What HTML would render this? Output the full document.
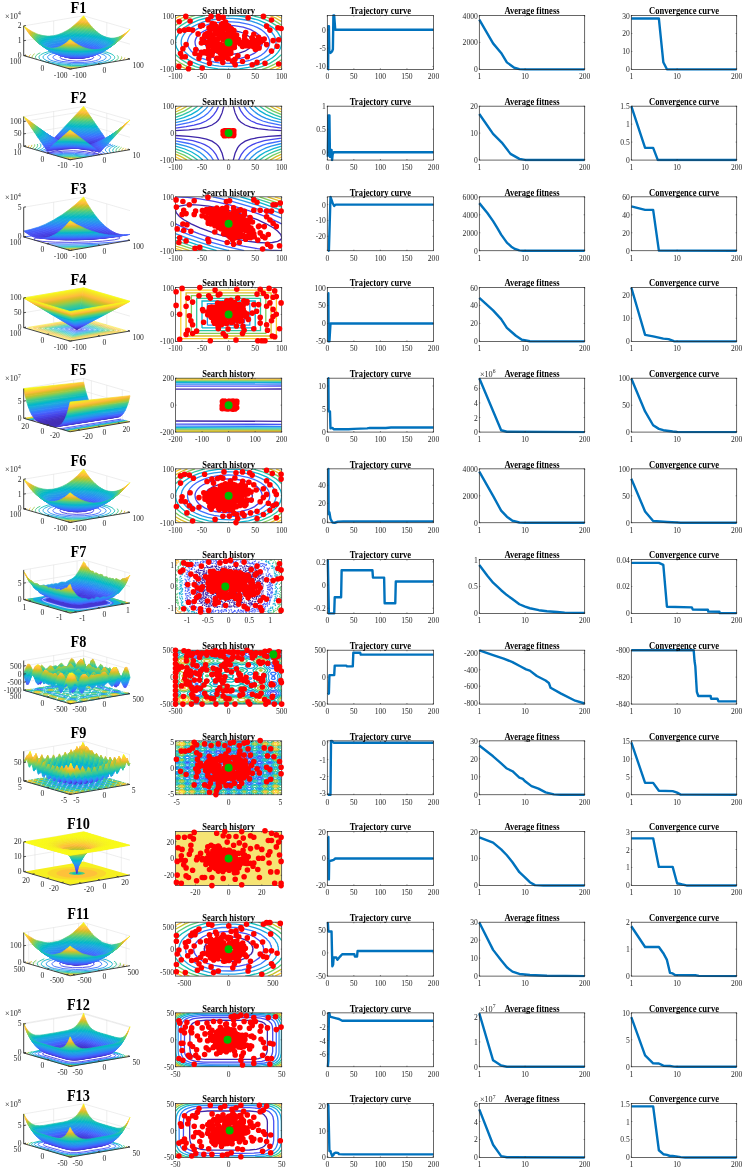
<!DOCTYPE html>
<html><head><meta charset="utf-8"><style>
html,body{margin:0;padding:0;background:#fff;}
svg{display:block;font-family:"Liberation Serif",serif;will-change:transform}
.sf path{stroke-width:.7;stroke-linejoin:round}
</style></head><body>
<svg width="745" height="1169" viewBox="0 0 745 1169">
<defs><linearGradient id="pb"><stop offset="0" stop-color="#3e26a8"/><stop offset="0.04167" stop-color="#4331c7"/><stop offset="0.08333" stop-color="#463de0"/><stop offset="0.125" stop-color="#484cef"/><stop offset="0.1667" stop-color="#475bf9"/><stop offset="0.2083" stop-color="#426afe"/><stop offset="0.25" stop-color="#347afd"/><stop offset="0.2917" stop-color="#2d89f5"/><stop offset="0.3333" stop-color="#2797eb"/><stop offset="0.375" stop-color="#21a3e3"/><stop offset="0.4167" stop-color="#17aeda"/><stop offset="0.4583" stop-color="#01b7cb"/><stop offset="0.5" stop-color="#12beb9"/><stop offset="0.5417" stop-color="#2dc4a6"/><stop offset="0.5833" stop-color="#3dc990"/><stop offset="0.625" stop-color="#5ccc76"/><stop offset="0.6667" stop-color="#81cc59"/><stop offset="0.7083" stop-color="#a6c83c"/><stop offset="0.75" stop-color="#c8c129"/><stop offset="0.7917" stop-color="#e5bb2c"/><stop offset="0.8333" stop-color="#fcbb3e"/><stop offset="0.875" stop-color="#feca33"/><stop offset="0.9167" stop-color="#f7db2b"/><stop offset="0.9583" stop-color="#f5eb23"/><stop offset="1" stop-color="#f9fb15"/></linearGradient></defs><text transform="translate(78.4 12.70) scale(1 1.13)" font-size="14.3" text-anchor="middle" font-weight="bold" fill="#000">F1</text><path d="M23.7 25.9L83.6 15.8L130 29.3M83.6 45.5L83.6 15.8M100.05 64.05L53.65 50.55L53.65 20.85M46.9 62.35L106.8 52.25L106.8 22.55M23.7 40.75L83.6 30.65L130 44.15" stroke="#dcdcdc" stroke-width="0.5" fill="none"/><path d="M84.9 60.6l-8.7 .5-8.7-.7-5.5-1.4-1.8-1.2-.2-.7 .6-.9 2.1-1 6.1-1.2 8.7-.5 8.7 .7 5.5 1.4 1.8 1.2 .2 .7-.6 .9-2.1 1-6.1 1.2" stroke="#4743e7" stroke-width="0.9" fill="none"/><path d="M84.2 62.4l-11.3 .1-11.2-1.1-3.8-.9-2.8-1.1-1.8-1.2-.4-1 .4-.9 .8-.7 2.5-1.2 3.5-1 6.8-1 12-.4 8.2 .5 4.9 .7 5.3 1.4 2.3 1.1 1.1 1.4-.3 1.2-1.9 1.4-3.1 1-3.9 .9-7.3 .8" stroke="#4367fd" stroke-width="0.9" fill="none"/><path d="M85 63.6l-13.2 .1-12.2-1.2-5.9-1.3-2.9-1-2.8-1.8-.4-1.5 .4-.8 1-1 2.6-1.2 5.2-1.4 6.7-1.1 8.1-.5 7.6-.1 7 .3 7.9 1 5.9 1.3 4.1 1.6 1.1 .7 .9 1.2 0 .8-.4 .8-2.2 1.6-4.7 1.6-6.2 1.2-7.6 .7" stroke="#2d8cf3" stroke-width="0.9" fill="none"/><path d="M90.6 64.2l-8.4 .6-9 0-6.9-.4-8.2-.9-6.3-1.2-4.7-1.5-3.1-1.8-.6-.6-.4-1.5 .3-.8 1.4-1.3 3.9-1.8 5.4-1.4 6.7-1 7.8-.6 9.5-.2 9.4 .4 8.2 .9 6.3 1.2 5.9 2.1 2.5 1.8 .4 1.1-.2 .9-1 1.2-1.6 1-3.6 1.4-6.7 1.5-7 .9" stroke="#1caadf" stroke-width="0.9" fill="none"/><path d="M100 64l-12.7 1.4-15.6 .2-14.1-1.1-10.7-2.1M106.8 52.2l4.3 1.6 2.1 1.3 1.3 1.3 .2 1.1-.2 .9-1.5 1.5-3.5 1.8-3.6 1.1-5.9 1.2M46.9 62.4l-4.3-1.6-2.1-1.3-1.3-1.3-.2-1.1 .2-.9 1.5-1.5 3.5-1.8 3.6-1.1 5.8-1.2M53.6 50.6l12.8-1.4 15.6-.2 14.1 1.1 10.7 2.1" stroke="#12beb9" stroke-width="0.9" fill="none"/><path d="M86.7 66.3l-15.7 .1-13.7-1M117.2 55.3l.9 1.2 .2 1.1-.2 .9-1.4 1.5-3.3 1.8M36.5 59.3l-1.1-1.9 .4-1.6 2.1-1.8 2.4-1.2M67 48.3l14.5-.2 14.9 1.1" stroke="#48cb86" stroke-width="0.9" fill="none"/><path d="M81.1 67.2l-8.8 0-10.7-.6M121.5 56.5l.2 1.1-.6 1.4-2.1 1.9M32.2 58.1l-.2-1.1 .6-1.4 2.1-1.9M72.6 47.4l8.8 0 10.7 .6" stroke="#9fc942" stroke-width="0.9" fill="none"/><path d="M76.9 68l-12-.4M124.8 57.5l-.2 .9-1.4 1.7M28.9 57.1l.7-1.7 .9-.9M76.8 46.6l12 .4" stroke="#eaba30" stroke-width="0.9" fill="none"/><path d="M73.3 68.6l-5.7-.2M127.5 58.3l-.7 1.2M26.2 56.3l.7-1.2M80.4 46l5.7 .2" stroke="#fad42e" stroke-width="0.9" fill="none"/><g class="sf"><linearGradient id="g0_27" href="#pb" gradientUnits="userSpaceOnUse" x1="24.53" y1="55.84" x2="19.66" y2="26.96"/><path fill="url(#g0_27)" stroke="url(#g0_27)" d="M25.4 28.4l4.2 3.2 4.3 2.7 4.3 2 2.1 .7 4.3 1.1 4.3 .5 2.1 0 4.3-.4 4.3-1 4.3-1.6 2.1-1.1 4.3-2.5 2.1-1.5 4.3-3.5 4.3-4 4.3-4.7-1.7-2.5-4.3 4.7-4.3 4-4.2 3.5-2.2 1.5-2.1 1.3-4.3 2.2-4.3 1.7-4.3 1-4.2 .4-2.2 0-4.2-.5-4.3-1.1-2.2-.8-4.2-2-4.3-2.6-4.3-3.2z"/><linearGradient id="g0_26" href="#pb" gradientUnits="userSpaceOnUse" x1="26.19" y1="56.32" x2="21.32" y2="27.44"/><path fill="url(#g0_26)" stroke="url(#g0_26)" d="M27 30.8l4.3 3.2 4.3 2.6 4.2 2 2.2 .8 4.3 1.1 4.2 .5 2.2 0 4.3-.4 4.2-1 4.3-1.7 2.2-1 4.2-2.5 2.2-1.5 4.3-3.5 4.2-4 4.3-4.7-1.6-2.4-4.3 4.7-4.3 4-4.3 3.5-2.1 1.5-4.3 2.5-2.1 1.1-4.3 1.6-4.3 1-4.3 .4-2.1 0-4.3-.5-4.3-1.1-2.1-.7-4.3-2-4.3-2.7-4.2-3.2z"/><linearGradient id="g0_25" href="#pb" gradientUnits="userSpaceOnUse" x1="27.84" y1="56.81" x2="22.97" y2="27.93"/><path fill="url(#g0_25)" stroke="url(#g0_25)" d="M28.7 33l4.2 3.2 4.3 2.7 4.3 2 2.1 .7 4.3 1.1 4.3 .5 2.1 0 4.3-.4 4.3-1 4.3-1.6 2.1-1.1 4.3-2.5 2.1-1.5 4.3-3.5 4.3-4 4.3-4.7-1.7-2.2-4.3 4.7-4.2 4-4.3 3.5-2.2 1.5-4.2 2.5-2.2 1-4.3 1.7-4.2 1-4.3 .4-2.2 0-4.2-.5-4.3-1.1-2.2-.8-4.2-2-4.3-2.6-4.3-3.2z"/><linearGradient id="g0_24" href="#pb" gradientUnits="userSpaceOnUse" x1="29.50" y1="57.29" x2="24.63" y2="28.41"/><path fill="url(#g0_24)" stroke="url(#g0_24)" d="M30.3 35.1l4.3 3.2 4.3 2.6 4.3 2 2.1 .8 4.3 1.1 4.3 .5 2.1 0 4.3-.4 4.3-1 4.2-1.7 2.2-1 4.3-2.5 4.2-3.2 4.3-3.7 6.4-6.8-1.6-2.1-4.3 4.7-4.3 4-4.3 3.5-2.1 1.5-4.3 2.5-2.1 1.1-4.3 1.6-4.3 1-4.3 .4-2.1 0-4.3-.5-4.3-1.1-2.1-.7-4.3-2-4.3-2.7-4.2-3.2z"/><linearGradient id="g0_23" href="#pb" gradientUnits="userSpaceOnUse" x1="31.16" y1="57.77" x2="26.29" y2="28.89"/><path fill="url(#g0_23)" stroke="url(#g0_23)" d="M32 37l4.3 3.2 4.2 2.7 4.3 2 2.2 .7 4.2 1.1 4.3 .5 2.2 0 4.2-.4 4.3-1 4.3-1.6 2.1-1.1 4.3-2.5 2.1-1.5 4.3-3.5 4.3-4 4.3-4.7-1.7-1.9-6.4 6.8-4.3 3.7-4.2 3.2-4.3 2.5-2.2 1-4.2 1.7-4.3 1-4.3 .4-2.1 0-4.3-.5-4.3-1.1-2.1-.8-4.3-2-4.3-2.6-4.3-3.2z"/><linearGradient id="g0_22" href="#pb" gradientUnits="userSpaceOnUse" x1="32.81" y1="58.25" x2="27.94" y2="29.37"/><path fill="url(#g0_22)" stroke="url(#g0_22)" d="M33.6 38.8l4.3 3.2 4.3 2.6 4.3 2 2.1 .8 4.3 1.1 4.3 .5 2.1 0 4.3-.4 4.3-1 4.3-1.7 4.2-2.2 2.2-1.3 2.1-1.5 4.3-3.5 4.3-4 4.2-4.7-1.6-1.8-4.3 4.7-4.3 4-4.3 3.5-2.1 1.5-4.3 2.5-2.1 1.1-4.3 1.6-4.3 1-4.2 .4-2.2 0-4.3-.5-4.2-1.1-2.2-.7-4.3-2-4.2-2.7-4.3-3.2z"/><linearGradient id="g0_21" href="#pb" gradientUnits="userSpaceOnUse" x1="34.47" y1="58.73" x2="29.60" y2="29.85"/><path fill="url(#g0_21)" stroke="url(#g0_21)" d="M35.3 40.4l4.3 3.2 4.3 2.6 4.2 2 2.2 .8 4.3 1.1 4.2 .5 2.2 0 4.2-.4 4.3-1 4.3-1.6 2.1-1.1 4.3-2.5 2.2-1.5 4.2-3.5 4.3-4 4.3-4.7-1.7-1.6-4.2 4.7-4.3 4-4.3 3.5-2.1 1.5-2.2 1.3-4.2 2.2-4.3 1.7-4.3 1-4.3 .4-2.1 0-4.3-.5-4.3-1.1-2.1-.8-4.3-2-4.3-2.6-4.3-3.2z"/><linearGradient id="g0_20" href="#pb" gradientUnits="userSpaceOnUse" x1="36.13" y1="59.22" x2="31.26" y2="30.34"/><path fill="url(#g0_20)" stroke="url(#g0_20)" d="M37 41.9l4.2 3.2 4.3 2.6 4.3 2 2.1 .8 4.3 1.1 4.3 .5 2.1 0 4.3-.4 4.3-1 4.3-1.7 2.1-1 4.3-2.6 2.1-1.5 4.3-3.4 4.3-4.1 4.3-4.6-1.7-1.5-4.3 4.7-4.3 4-4.2 3.5-2.2 1.5-4.3 2.5-2.1 1.1-4.3 1.6-4.3 1-4.2 .4-2.2 0-4.2-.5-4.3-1.1-2.2-.8-4.2-2-4.3-2.6-4.3-3.2z"/><linearGradient id="g0_19" href="#pb" gradientUnits="userSpaceOnUse" x1="37.79" y1="59.70" x2="32.92" y2="30.82"/><path fill="url(#g0_19)" stroke="url(#g0_19)" d="M38.6 43.2l4.3 3.2 4.3 2.6 4.2 2 2.2 .8 4.3 1.1 4.2 .5 2.2 0 4.3-.4 4.2-1 4.3-1.7 2.2-1 4.2-2.5 2.2-1.5 4.3-3.5 4.2-4 4.3-4.7-1.6-1.3-4.3 4.6-4.3 4.1-4.3 3.4-2.1 1.5-4.3 2.6-2.1 1-4.3 1.7-4.3 1-4.3 .4-2.1 0-4.3-.5-4.3-1.1-2.1-.8-4.3-2-4.3-2.6-4.2-3.2z"/><linearGradient id="g0_18" href="#pb" gradientUnits="userSpaceOnUse" x1="39.44" y1="60.18" x2="34.57" y2="31.30"/><path fill="url(#g0_18)" stroke="url(#g0_18)" d="M40.3 44.4l4.2 3.2 4.3 2.6 4.3 2 2.1 .8 4.3 1.1 4.3 .5 2.1 0 4.3-.4 4.3-1.1 4.3-1.6 4.3-2.2 2.1-1.4 2.1-1.5 4.3-3.4 4.3-4.1 4.3-4.6-1.7-1.2-4.3 4.7-4.2 4-4.3 3.5-2.2 1.5-4.2 2.5-2.2 1-4.3 1.7-4.2 1-4.3 .4-2.2 0-4.2-.5-4.3-1.1-2.2-.8-4.2-2-4.3-2.6-4.3-3.2z"/><linearGradient id="g0_17" href="#pb" gradientUnits="userSpaceOnUse" x1="41.10" y1="60.66" x2="36.23" y2="31.78"/><path fill="url(#g0_17)" stroke="url(#g0_17)" d="M41.9 45.4l4.3 3.2 4.3 2.6 4.3 2 2.1 .8 4.3 1.1 4.3 .5 2.1 0 4.3-.4 4.3-1.1 4.2-1.6 2.2-1 4.3-2.6 2.1-1.5 4.3-3.4 4.2-4.1 4.3-4.6-1.6-1-4.3 4.6-4.3 4.1-4.3 3.4-2.1 1.5-2.1 1.4-4.3 2.2-4.3 1.6-4.3 1.1-4.3 .4-2.1 0-4.3-.5-4.3-1.1-2.1-.8-4.3-2-4.3-2.6-4.2-3.2z"/><linearGradient id="g0_16" href="#pb" gradientUnits="userSpaceOnUse" x1="42.76" y1="61.14" x2="37.89" y2="32.27"/><path fill="url(#g0_16)" stroke="url(#g0_16)" d="M43.6 46.2l4.3 3.3 4.2 2.6 4.3 2 2.2 .7 4.2 1.1 4.3 .5 2.2 .1 4.2-.5 4.3-1 4.3-1.6 2.1-1.1 4.3-2.5 2.1-1.5 4.3-3.5 4.3-4 4.3-4.7-1.7-.8-4.3 4.6-4.2 4.1-4.3 3.4-2.1 1.5-4.3 2.6-2.2 1-4.2 1.6-4.3 1.1-4.3 .4-2.1 0-4.3-.5-4.3-1.1-2.1-.8-4.3-2-4.3-2.6-4.3-3.2z"/><linearGradient id="g0_15" href="#pb" gradientUnits="userSpaceOnUse" x1="44.41" y1="61.63" x2="39.54" y2="32.75"/><path fill="url(#g0_15)" stroke="url(#g0_15)" d="M45.2 46.9l4.3 3.3 4.3 2.6 4.3 2 2.1 .8 4.3 1.1 4.3 .4 2.1 .1 4.3-.5 4.3-1 4.3-1.6 2.1-1.1 4.3-2.5 2.1-1.5 4.3-3.4 4.3-4.1 4.2-4.7-1.6-.7-4.3 4.7-4.3 4-4.3 3.5-2.1 1.5-4.3 2.5-2.1 1.1-4.3 1.6-4.3 1-4.2 .5-2.2-.1-4.3-.5-4.2-1.1-2.2-.7-4.3-2-4.2-2.6-4.3-3.3z"/><linearGradient id="g0_14" href="#pb" gradientUnits="userSpaceOnUse" x1="46.07" y1="62.11" x2="41.20" y2="33.23"/><path fill="url(#g0_14)" stroke="url(#g0_14)" d="M46.9 47.5l4.3 3.2 4.3 2.6 4.2 2 2.2 .8 4.3 1.1 4.2 .5 2.2 0 4.2-.4 4.3-1 4.3-1.7 2.1-1 4.3-2.5 2.2-1.5 4.2-3.5 4.3-4 4.3-4.7-1.7-.6-4.2 4.7-4.3 4.1-4.3 3.4-2.1 1.5-4.3 2.5-2.1 1.1-4.3 1.6-4.3 1-4.3 .5-2.1-.1-4.3-.4-4.3-1.1-2.1-.8-4.3-2-4.3-2.6-4.3-3.3z"/><linearGradient id="g0_13" href="#pb" gradientUnits="userSpaceOnUse" x1="47.73" y1="62.59" x2="42.86" y2="33.71"/><path fill="url(#g0_13)" stroke="url(#g0_13)" d="M48.6 47.9l4.2 3.2 4.3 2.6 4.3 2 2.1 .8 4.3 1.1 4.3 .5 2.1 0 4.3-.4 4.3-1 4.3-1.6 2.1-1.1 4.3-2.5 2.1-1.5 4.3-3.5 4.3-4 4.3-4.7-1.7-.4-4.3 4.7-4.3 4-4.2 3.5-2.2 1.5-4.3 2.5-2.1 1-4.3 1.7-4.3 1-4.2 .4-2.2 0-4.2-.5-4.3-1.1-2.2-.8-4.2-2-4.3-2.6-4.3-3.2z"/><linearGradient id="g0_12" href="#pb" gradientUnits="userSpaceOnUse" x1="49.39" y1="63.07" x2="44.52" y2="34.19"/><path fill="url(#g0_12)" stroke="url(#g0_12)" d="M50.2 48.2l4.3 3.2 4.3 2.6 4.2 2 2.2 .8 4.3 1.1 4.2 .5 2.2 0 4.3-.4 4.2-1.1 4.3-1.6 2.2-1 4.2-2.6 2.2-1.5 4.3-3.4 4.2-4.1 4.3-4.6-1.6-.3-4.3 4.7-4.3 4-4.3 3.5-2.1 1.5-4.3 2.5-2.1 1.1-4.3 1.6-4.3 1-4.3 .4-2.1 0-4.3-.5-4.3-1.1-2.1-.8-4.3-2-4.3-2.6-4.2-3.2z"/><linearGradient id="g0_11" href="#pb" gradientUnits="userSpaceOnUse" x1="51.04" y1="63.56" x2="46.17" y2="34.68"/><path fill="url(#g0_11)" stroke="url(#g0_11)" d="M51.9 48.3l4.2 3.2 4.3 2.6 4.3 2 2.1 .8 4.3 1.1 4.3 .5 2.1 0 4.3-.4 4.3-1.1 4.3-1.6 2.1-1 4.3-2.6 2.1-1.5 4.3-3.4 4.3-4.1 4.3-4.6-1.7-.1-4.3 4.6-4.2 4.1-4.3 3.4-2.2 1.5-4.2 2.6-2.2 1-4.3 1.6-4.2 1.1-4.3 .4-2.2 0-4.2-.5-4.3-1.1-2.2-.8-4.2-2-4.3-2.6-4.3-3.2z"/><linearGradient id="g0_10" href="#pb" gradientUnits="userSpaceOnUse" x1="52.70" y1="64.04" x2="47.83" y2="35.16"/><path fill="url(#g0_10)" stroke="url(#g0_10)" d="M53.5 48.2l4.3 3.2 4.3 2.6 4.3 2.1 2.1 .7 4.3 1.1 4.3 .5 2.1 0 4.3-.4 4.3-1 4.2-1.6 2.2-1.1 4.3-2.5 2.1-1.5 4.3-3.5 4.3-4 4.2-4.7-1.6 .1-4.3 4.6-4.3 4.1-4.3 3.4-2.1 1.5-4.3 2.6-2.1 1-4.3 1.6-4.3 1.1-4.3 .4-2.1 0-4.3-.5-4.3-1.1-2.1-.8-4.3-2-4.3-2.6-4.2-3.2z"/><linearGradient id="g0_9" href="#pb" gradientUnits="userSpaceOnUse" x1="54.36" y1="64.52" x2="49.49" y2="35.64"/><path fill="url(#g0_9)" stroke="url(#g0_9)" d="M55.2 48l4.3 3.2 4.2 2.6 4.3 2.1 2.2 .7 4.2 1.1 4.3 .5 2.2 0 4.2-.4 4.3-1 4.3-1.6 2.1-1.1 4.3-2.5 2.1-1.5 4.3-3.5 4.3-4 4.3-4.7-1.7 .2-4.2 4.7-4.3 4-4.3 3.5-2.1 1.5-4.3 2.5-2.2 1.1-4.2 1.6-4.3 1-4.3 .4-2.1 0-4.3-.5-4.3-1.1-2.1-.7-4.3-2.1-4.3-2.6-4.3-3.2z"/><linearGradient id="g0_8" href="#pb" gradientUnits="userSpaceOnUse" x1="56.01" y1="65.00" x2="51.14" y2="36.12"/><path fill="url(#g0_8)" stroke="url(#g0_8)" d="M56.8 47.7l4.3 3.2 4.3 2.6 4.3 2 2.1 .8 4.3 1.1 4.3 .5 2.1 0 4.3-.4 4.3-1.1 4.3-1.6 4.2-2.2 2.2-1.4 2.1-1.5 4.3-3.4 4.3-4.1 4.2-4.6-1.6 .3-4.3 4.7-4.3 4-4.3 3.5-2.1 1.5-4.3 2.5-2.1 1.1-4.3 1.6-4.3 1-4.2 .4-2.2 0-4.3-.5-4.2-1.1-2.2-.7-4.3-2.1-4.2-2.6-4.3-3.2z"/><linearGradient id="g0_7" href="#pb" gradientUnits="userSpaceOnUse" x1="57.67" y1="65.48" x2="52.80" y2="36.60"/><path fill="url(#g0_7)" stroke="url(#g0_7)" d="M58.5 47.2l4.3 3.2 4.3 2.6 4.2 2 2.2 .8 4.3 1.1 4.2 .5 2.2 0 4.2-.4 4.3-1.1 4.3-1.6 2.1-1 4.3-2.6 2.2-1.5 4.2-3.4 4.3-4.1 4.3-4.6-1.7 .5-4.2 4.6-4.3 4.1-4.3 3.4-2.1 1.5-2.2 1.4-4.2 2.2-4.3 1.6-4.3 1.1-4.3 .4-2.1 0-4.3-.5-4.3-1.1-2.1-.8-4.3-2-4.3-2.6-4.3-3.2z"/><linearGradient id="g0_6" href="#pb" gradientUnits="userSpaceOnUse" x1="59.33" y1="65.97" x2="54.46" y2="37.09"/><path fill="url(#g0_6)" stroke="url(#g0_6)" d="M60.2 46.5l4.2 3.2 4.3 2.6 4.3 2 2.1 .8 4.3 1.1 4.3 .5 2.1 0 4.3-.4 4.3-1 4.3-1.6 2.1-1.1 4.3-2.5 2.1-1.5 4.3-3.5 4.3-4 4.3-4.7-1.7 .7-4.3 4.6-4.3 4.1-4.2 3.4-2.2 1.5-4.3 2.6-2.1 1-4.3 1.6-4.3 1.1-4.2 .4-2.2 0-4.2-.5-4.3-1.1-2.2-.8-4.2-2-4.3-2.6-4.3-3.2z"/><linearGradient id="g0_5" href="#pb" gradientUnits="userSpaceOnUse" x1="60.99" y1="66.45" x2="56.12" y2="37.57"/><path fill="url(#g0_5)" stroke="url(#g0_5)" d="M61.8 45.7l4.3 3.2 4.3 2.6 4.2 2 2.2 .8 4.3 1.1 4.2 .5 2.2 0 4.3-.4 4.2-1 4.3-1.7 4.3-2.2 2.1-1.3 2.2-1.5 4.3-3.5 4.2-4 4.3-4.7-1.6 .8-4.3 4.7-4.3 4-4.3 3.5-2.1 1.5-4.3 2.5-2.1 1.1-4.3 1.6-4.3 1-4.3 .4-2.1 0-4.3-.5-4.3-1.1-2.1-.8-4.3-2-4.3-2.6-4.2-3.2z"/><linearGradient id="g0_4" href="#pb" gradientUnits="userSpaceOnUse" x1="62.64" y1="66.93" x2="57.77" y2="38.05"/><path fill="url(#g0_4)" stroke="url(#g0_4)" d="M63.5 44.7l4.2 3.3 4.3 2.6 4.3 2 2.1 .8 4.3 1.1 4.3 .4 2.1 .1 4.3-.5 4.3-1 4.3-1.6 2.1-1.1 4.3-2.5 2.1-1.5 4.3-3.4 4.3-4.1 4.3-4.7-1.7 1-4.3 4.7-4.2 4-4.3 3.5-2.2 1.5-2.1 1.3-4.3 2.2-4.3 1.7-4.2 1-4.3 .4-2.2 0-4.2-.5-4.3-1.1-2.2-.8-4.2-2-4.3-2.6-4.3-3.2z"/><linearGradient id="g0_3" href="#pb" gradientUnits="userSpaceOnUse" x1="64.30" y1="67.41" x2="59.43" y2="38.53"/><path fill="url(#g0_3)" stroke="url(#g0_3)" d="M65.1 43.6l4.3 3.3 4.3 2.6 4.3 2 2.1 .7 4.3 1.1 4.3 .5 2.1 .1 4.3-.5 4.3-1 4.2-1.6 2.2-1.1 4.3-2.5 2.1-1.5 4.3-3.4 4.2-4.1 4.3-4.7-1.6 1.1-4.3 4.7-4.3 4.1-4.3 3.4-2.1 1.5-4.3 2.5-2.1 1.1-4.3 1.6-4.3 1-4.3 .5-2.1-.1-4.3-.4-4.3-1.1-2.1-.8-4.3-2-4.3-2.6-4.2-3.3z"/><linearGradient id="g0_2" href="#pb" gradientUnits="userSpaceOnUse" x1="65.96" y1="67.89" x2="61.09" y2="39.02"/><path fill="url(#g0_2)" stroke="url(#g0_2)" d="M66.8 42.4l4.3 3.2 4.2 2.6 4.3 2 2.2 .8 4.2 1.1 4.3 .5 2.2 0 4.2-.4 4.3-1 4.3-1.7 2.1-1 4.3-2.6 2.1-1.5 4.3-3.4 4.3-4.1 4.3-4.6-1.7 1.2-4.3 4.7-4.2 4.1-4.3 3.4-2.1 1.5-4.3 2.5-2.2 1.1-4.2 1.6-4.3 1-4.3 .5-2.1-.1-4.3-.5-4.3-1.1-2.1-.7-4.3-2-4.3-2.6-4.3-3.3z"/><linearGradient id="g0_1" href="#pb" gradientUnits="userSpaceOnUse" x1="67.61" y1="68.38" x2="62.74" y2="39.50"/><path fill="url(#g0_1)" stroke="url(#g0_1)" d="M68.4 41l4.3 3.2 4.3 2.6 4.3 2 2.1 .8 4.3 1.1 4.3 .5 2.1 0 4.3-.4 4.3-1.1 4.3-1.6 2.1-1 4.3-2.6 2.1-1.5 4.3-3.4 4.3-4.1 4.2-4.6-1.6 1.4-4.3 4.6-4.3 4.1-4.3 3.4-2.1 1.5-4.3 2.6-2.1 1-4.3 1.7-4.3 1-4.2 .4-2.2 0-4.3-.5-4.2-1.1-2.2-.8-4.3-2-4.2-2.6-4.3-3.2z"/><linearGradient id="g0_0" href="#pb" gradientUnits="userSpaceOnUse" x1="69.27" y1="68.86" x2="64.40" y2="39.98"/><path fill="url(#g0_0)" stroke="url(#g0_0)" d="M70.1 39.4l4.3 3.2 4.3 2.6 4.2 2 2.2 .8 4.3 1.1 4.2 .5 2.2 0 4.2-.4 4.3-1 4.3-1.7 4.3-2.2 2.1-1.3 2.2-1.5 4.2-3.5 4.3-4 4.3-4.7-1.7 1.6-4.2 4.6-4.3 4.1-4.3 3.4-2.1 1.5-4.3 2.6-2.1 1-4.3 1.6-4.3 1.1-4.3 .4-2.1 0-4.3-.5-4.3-1.1-2.1-.8-4.3-2-4.3-2.6-4.3-3.2z"/></g><path d="M23.7 25.9L23.7 55.6L70.1 69.1L130 59M23.70 55.60l2.17 -0.37M23.70 40.75l2.17 -0.37M23.70 25.90l2.17 -0.37M70.10 69.10l2.17 -0.37M46.90 62.35l2.17 -0.37M23.70 55.60l2.17 -0.37M70.10 69.10l-2.11 -0.61M100.05 64.05l-2.11 -0.61M130.00 59.00l-2.11 -0.61" stroke="#3a3a3a" stroke-width="0.95" fill="none"/><text x="21.5" y="58.11" font-size="7.6" text-anchor="end" fill="#262626">0</text><text x="21.5" y="43.26" font-size="7.6" text-anchor="end" fill="#262626">1</text><text x="21.5" y="28.41" font-size="7.6" text-anchor="end" fill="#262626">2</text><text x="67.6" y="77.61" font-size="7.6" text-anchor="end" fill="#262626">-100</text><text x="44.4" y="70.86" font-size="7.6" text-anchor="end" fill="#262626">0</text><text x="21.2" y="64.11" font-size="7.6" text-anchor="end" fill="#262626">100</text><text x="72.6" y="77.61" font-size="7.6" text-anchor="start" fill="#262626">-100</text><text x="102.55" y="72.56" font-size="7.6" text-anchor="start" fill="#262626">0</text><text x="132.5" y="67.51" font-size="7.6" text-anchor="start" fill="#262626">100</text><text x="5.1" y="18.8" font-size="8.2" fill="#262626">×10<tspan font-size="5.6" dy="-3.6">4</tspan></text><clipPath id="csh0"><rect x="175.5" y="15.5" width="106.2" height="53.9"/></clipPath><g clip-path="url(#csh0)"><path d="M222 54l-5.3-1.1-5.4-2.2-3.9-2.9-1.9-2.7-.6-2.7 .1-1.3 .8-2 2.3-2.7 4.2-2.7 5.7-2 5.3-1 5.3-.3 6.6 .5 5.3 1.1 5.4 2.2 3.9 2.9 1.9 2.7 .6 2.6-.1 1.4-.8 2-2.3 2.7-4.2 2.7-5.7 2-5.3 1-6.6 .3-5.3-.5" stroke="#3e26a8" stroke-width="1.3" fill="none"/><path d="M224.6 59.4l-9.3-1.3-7.3-2.2-3.3-1.5-3.1-1.8-2.6-2.1-1.8-2-1.2-2-.7-2-.3-2.7 .4-2 .9-2.1 1.8-2.3 1.7-1.7 2.8-2 6.1-3 8-2.2 7.9-1 9.3 .1 9.3 1.5 7.6 2.5 5.8 3.4 2.2 2 1.7 2.1 1 2 .6 2 0 2.7-.6 2-1 2-1.7 2.1-4.2 3.3-6.1 3-8 2.2-7.9 1-8 0" stroke="#4747eb" stroke-width="1.3" fill="none"/><path d="M219.3 62.8l-5.3-.8-5.3-1.3-8-2.9-3.5-1.9-3.1-2.1-2.8-2.6-2.1-2.7-1.2-2.7-.5-2.7 .2-2.7 1.1-3.2 1.3-2.2 2.7-2.8 3.3-2.6 3.3-1.8 4-1.8 5-1.7 9.6-2 10.6-.7 10.6 .7 9.6 2 5 1.7 3.8 1.6 3.5 2 3.3 2.6 2.1 2.2 1.8 2.7 1.1 2.7 .3 2.6-.3 2.7-1.1 2.7-1.8 2.7-2.1 2.2-3.3 2.6-3.3 1.8-8 3.2-9.3 2.1-10.6 .9-10.6-.5" stroke="#3e6fff" stroke-width="1.3" fill="none"/><path d="M219.3 66.1l-5.5-.7-6.4-1.4-5.4-1.6-5.3-2.1-4.5-2.4-3.4-2.3-3.3-3-2.1-2.7-1.4-2.7-.8-3.4 .1-3.4 .8-2.9 1.8-3.1 2.2-2.7 3.1-2.7 4.2-2.7 4.7-2.3 4.6-1.8 6-1.6 5.3-1.1 11.9-1.1 6.7 0 6.6 .6 6.7 1 5.3 1.2 5.3 1.7 4.7 2 3.8 2.1 3.8 2.6 2.9 2.7 2.5 3.4 1.2 2.7 .7 3.4-.3 3.3-.9 2.7-1.6 2.7-2.2 2.7-3.1 2.7-4.2 2.7-4.7 2.3-4.6 1.8-6 1.6-5.3 1.1-11.9 1.1-12-.4" stroke="#2797eb" stroke-width="1.3" fill="none"/><path d="M228.6 69.4l-10.6-.5-9.6-1.5-9.8-2.7-7.9-3.4-6.4-4-2.4-2-2.5-2.7-2.8-4.8-.8-2.7-.3-2.7M281.7 42.4l-.3 2.7-.8 2.7-1.3 2.7-1.6 2.2-2.4 2.6-2.9 2.4-6.6 4-8 3.3-9.3 2.4-9.3 1.5-10.6 .5M175.5 42.4l.3-2.6 .8-2.7 2.8-4.8 2.5-2.7 2.4-2 6.4-4 7.9-3.4 9.8-2.7 9.6-1.5 10.6-.5M228.6 15.5l10.6 .5 9.6 1.5 9.8 2.7 7.9 3.4 6.4 4 2.4 2 2.5 2.7 2.8 4.8 .8 2.7 .3 2.6" stroke="#08b5d0" stroke-width="1.3" fill="none"/><path d="M204.9 69.4l-9.5-2.7-7.9-3.4-6.7-4-5.3-4.8M281.7 54.5l-5.3 4.8-6.6 4-8 3.4-9.5 2.7M175.5 30.4l5.3-4.8 6.6-4 8-3.4 9.5-2.7M252.3 15.5l9.5 2.7 8 3.4 6.6 4 5.3 4.8" stroke="#31c69f" stroke-width="1.3" fill="none"/><path d="M195 69.4l-5.6-2-4.6-2.1-4.8-2.6-4.5-3.2M281.7 59.5l-4 2.8-4.1 2.4-5.2 2.4-6.2 2.3M175.5 25.4l4.5-3.2 4.8-2.6 4.6-2.1 5.6-2M262.2 15.5l6.2 2.3 5.2 2.4 4.1 2.4 4 2.8" stroke="#81cc59" stroke-width="1.3" fill="none"/><path d="M187.5 69.4l-6.1-2.7-5.9-3.4M281.7 63.3l-5.9 3.4-6.1 2.7M175.5 21.6l5.3-3.1 6.7-3M269.7 15.5l6.1 2.7 5.9 3.4" stroke="#dcbd29" stroke-width="1.3" fill="none"/><path d="M181.1 69.4l-5.6-2.8M281.7 66.6l-5.6 2.8M175.5 18.3l5.6-2.8M276.1 15.5l5.6 2.8" stroke="#fccf30" stroke-width="1.3" fill="none"/></g><path d="M175.5 69.4v-1.0M175.5 15.5v1.0M202.05 69.4v-1.0M202.05 15.5v1.0M228.6 69.4v-1.0M228.6 15.5v1.0M255.15 69.4v-1.0M255.15 15.5v1.0M281.7 69.4v-1.0M281.7 15.5v1.0M175.5 69.4h1.0M281.7 69.4h-1.0M175.5 42.45h1.0M281.7 42.45h-1.0M175.5 15.5h1.0M281.7 15.5h-1.0" stroke="#262626" stroke-width="0.6" fill="none"/><rect x="175.5" y="15.5" width="106.2" height="53.9" fill="none" stroke="#262626" stroke-width="0.7"/><text x="175.5" y="79.2" font-size="7.6" text-anchor="middle" fill="#262626">-100</text><text x="202.05" y="79.2" font-size="7.6" text-anchor="middle" fill="#262626">-50</text><text x="228.6" y="79.2" font-size="7.6" text-anchor="middle" fill="#262626">0</text><text x="255.15" y="79.2" font-size="7.6" text-anchor="middle" fill="#262626">50</text><text x="281.7" y="79.2" font-size="7.6" text-anchor="middle" fill="#262626">100</text><text x="174" y="72.41" font-size="7.6" text-anchor="end" fill="#262626">-100</text><text x="174" y="45.46" font-size="7.6" text-anchor="end" fill="#262626">0</text><text x="174" y="18.51" font-size="7.6" text-anchor="end" fill="#262626">100</text><text transform="translate(228.6 14.3) scale(1 1.12)" font-size="8.55" text-anchor="middle" font-weight="bold" fill="#000">Search history</text><path d="M178.9 66.4h0m.3-44.8h0m.5 9.3h0m.8 22.6h0m1.6 3.2h0m.8-8h0m1.6-18.6h0m.8 26.6h0m.5-40.3h0m.3 28.2h0m2.4-15.3h0m0 39.5h0m1.6-47.8h0m0 42.2h0m2.5-33.1h0m2.4 23.4h0m.8-4h0m2.3-15.6h0m.9 24.4h0m.8-3.2h0m.8-29h0m.7 26.2h0m.1-9.3h0m.8-4h0m0 29h0m.3-42.8h0m1.6 27.5h0m.4-.8h0m.2-16.1h0m.2 6.3h0m.3-7.5h0m.3-.1h0m.3 17.4h0m.1-16.7h0m.8 1.3h0m.5 5.7h0m.2-8.9h0m.5-13.6h0m.1 34.4h0m.3-3.7h0m.2-3.6h0m.2 11.7h0m.3-30.7h0m.2 4.7h0m.2-.2h0m.1 30.9h0m.2-25.5h0m.2 2.1h0m.1 1.6h0m.4-.6h0m.1-.9h0m.1 15h0m.5-38.5h0m.7 29.4h0m.1-20.2h0m.1 29.4h0m.2-31.5h0m.2 21.4h0m0 7.5h0m.1-9.6h0m.4 8h0m.1-22.4h0m0 6.6h0m.1-6h0m0 10.9h0m.6-15.2h0m.2 3h0m.5-2.8h0m.1-.8h0m.3 9.6h0m.1 9.4h0m.1 .5h0m.2-15.1h0m.1 17.7h0m.1-19.5h0m0 20.3h0m.2-3.8h0m.4-16.9h0m0 14.8h0m0 6.6h0m.2-.3h0m.3-8h0m.1-7.4h0m.1 26.9h0m.1-29.9h0m0 10.5h0m.2 18.7h0m.1-13.7h0m.4-5h0m.3 11.5h0m.5-34.6h0m.4 1.8h0m.4-.2h0m0 16.9h0m0 23.8h0m.2-27.5h0m.2 6.8h0m.1-9.3h0m0 22.5h0m.1-7.1h0m.7 9.3h0m.1-4.6h0m.3-13.4h0m0 12.3h0m.4-15.3h0m.2-7.9h0m0 31.2h0m.2-28.5h0m0 19.3h0m.3-15.1h0m.4 15.6h0m0 11.7h0m.2-6.5h0m.2 5.9h0m.1-10.8h0m0 15.2h0m.2-39.2h0m.2-6.1h0m0 22.4h0m.2-2.9h0m0 18.6h0m.2-10h0m.4 5.8h0m.2-27.7h0m0 5.6h0m0 5.7h0m.2 15.5h0m.1-1.3h0m.1-15h0m0 12.9h0m.4 8.7h0m.4-31.6h0m.2-1.8h0m0 16.2h0m.1-12.7h0m.1 18.8h0m.1 6.9h0m.3-16h0m.2 1.6h0m.3 7.2h0m.1 2h0m.1-5.5h0m.4 11h0m.7 7h0m.4-32.6h0m.1 22.2h0m.1-22.2h0m0 4.3h0m.1 3.8h0m0 1.2h0m0 7.2h0m0 4.8h0m.2-3.4h0m0 2.7h0m.4-9.3h0m0 16.8h0m.6-18.7h0m.2 1.8h0m.3 3.9h0m.2 6.1h0m.1 4.4h0m.1-1.5h0m0 2.3h0m.1 .9h0m.1-19.2h0m.1-5.5h0m.3 20h0m.2-9.2h0m.6 3.6h0m.1 18h0m.1-28.3h0m.2 3.1h0m0 7.4h0m.1-5.3h0m.2-.7h0m.1-3.9h0m.9-2.7h0m.1 31.9h0m.4-21.9h0m0 3.8h0m0 3.1h0m.6 11.8h0m.2 5.5h0m.4-22.7h0m.6-2h0m.4-5.1h0m.4 3.9h0m.5 1.7h0m.4 15.2h0m.7-16.3h0m.8 3.2h0m.6 1.1h0m2.5 2.7h0m0 15h0m.3-19.3h0m.1 2.2h0m1.7-5.4h0m.1-3.1h0m.7 9.8h0m.3-13.1h0m.3 10.7h0m.3-2.5h0m.5 4h0m.3-2h0m.2 13.9h0m.8-39h0m.8 28.2h0m1.6-3.7h0m0 3.5h0m.5-3.5h0m.6 2.2h0m.4-6.7h0m.2 27.1h0m.5-26.1h0m0 3.3h0m.5 4.6h0m.6-12.4h0m.1 6.2h0m1.4 2.2h0m.1-.5h0m0 3.6h0m0 3.8h0m1.6 12.9h0m1-19.8h0m.4 .9h0m.2-6.1h0m.5 10.5h0m1.3-7h0m.4 .9h0m1-2h0m1.3 .4h0m.3-23.8h0m.8 22.6h0m.8 24.2h0m1.6-37.1h0m0 18.5h0m3.3-14.5h0m1.6-10.1h0m0 31.1h0m1.6-10.5h0m4 5.6h0m.8-18.5h0m.8 12.1h0m0 24.2h0m2.4-35.5h0" stroke="#ff0000" stroke-width="5.6" stroke-linecap="round" fill="none"/><circle cx="228.6" cy="42.45" r="4.0" fill="#00bb00"/><clipPath id="ctr0"><rect x="325.8" y="14" width="109.2" height="56.9"/></clipPath><g clip-path="url(#ctr0)"><path d="M327.83 69.4L328.15 69.4L328.47 26.13L328.89 26.13L329.32 51.8L330.49 52.9L332.08 51.43L332.88 49.23L333.41 15.5L334.2 15.5L335.26 29.8L433.5 29.8" stroke="#0072bd" stroke-width="2.4" fill="none" stroke-linejoin="round" stroke-linecap="butt"/></g><path d="M327.3 69.4v-1.0M327.3 15.5v1.0M353.85 69.4v-1.0M353.85 15.5v1.0M380.4 69.4v-1.0M380.4 15.5v1.0M406.95 69.4v-1.0M406.95 15.5v1.0M433.5 69.4v-1.0M433.5 15.5v1.0M327.3 66.47h1.0M433.5 66.47h-1.0M327.3 48.13h1.0M433.5 48.13h-1.0M327.3 29.8h1.0M433.5 29.8h-1.0" stroke="#262626" stroke-width="0.6" fill="none"/><rect x="327.3" y="15.5" width="106.2" height="53.9" fill="none" stroke="#262626" stroke-width="0.7"/><text x="327.3" y="79.2" font-size="7.6" text-anchor="middle" fill="#262626">0</text><text x="353.85" y="79.2" font-size="7.6" text-anchor="middle" fill="#262626">50</text><text x="380.4" y="79.2" font-size="7.6" text-anchor="middle" fill="#262626">100</text><text x="406.95" y="79.2" font-size="7.6" text-anchor="middle" fill="#262626">150</text><text x="433.5" y="79.2" font-size="7.6" text-anchor="middle" fill="#262626">200</text><text x="325.8" y="69.47" font-size="7.6" text-anchor="end" fill="#262626">-10</text><text x="325.8" y="51.14" font-size="7.6" text-anchor="end" fill="#262626">-5</text><text x="325.8" y="32.81" font-size="7.6" text-anchor="end" fill="#262626">0</text><text transform="translate(380.4 14.3) scale(1 1.12)" font-size="8.55" text-anchor="middle" font-weight="bold" fill="#000">Trajectory curve</text><clipPath id="caf0"><rect x="477.8" y="14" width="108.4" height="56.9"/></clipPath><g clip-path="url(#caf0)"><path d="M479.3 19.54L493.09 43.39L501.15 52.96L506.88 62.39L514.27 67.72L519.38 69.13L525.11 69.4L584.7 69.4" stroke="#0072bd" stroke-width="2.4" fill="none" stroke-linejoin="round" stroke-linecap="butt"/></g><path d="M479.3 69.4v-1.0M479.3 15.5v1.0M525.11 69.4v-1.0M525.11 15.5v1.0M584.7 69.4v-1.0M584.7 15.5v1.0M479.3 69.4h1.0M584.7 69.4h-1.0M479.3 42.45h1.0M584.7 42.45h-1.0M479.3 15.5h1.0M584.7 15.5h-1.0" stroke="#262626" stroke-width="0.6" fill="none"/><rect x="479.3" y="15.5" width="105.4" height="53.9" fill="none" stroke="#262626" stroke-width="0.7"/><text x="479.3" y="79.2" font-size="7.6" text-anchor="middle" fill="#262626">1</text><text x="525.11" y="79.2" font-size="7.6" text-anchor="middle" fill="#262626">10</text><text x="584.7" y="79.2" font-size="7.6" text-anchor="middle" fill="#262626">200</text><text x="477.8" y="72.41" font-size="7.6" text-anchor="end" fill="#262626">0</text><text x="477.8" y="45.46" font-size="7.6" text-anchor="end" fill="#262626">2000</text><text x="477.8" y="18.51" font-size="7.6" text-anchor="end" fill="#262626">4000</text><text transform="translate(532 14.3) scale(1 1.12)" font-size="8.55" text-anchor="middle" font-weight="bold" fill="#000">Average fitness</text><clipPath id="ccv0"><rect x="629.8" y="14" width="108.4" height="56.9"/></clipPath><g clip-path="url(#ccv0)"><path d="M631.3 18.55L658.88 18.55L663.32 62.21L666.94 69.31L736.7 69.4" stroke="#0072bd" stroke-width="2.4" fill="none" stroke-linejoin="round" stroke-linecap="butt"/></g><path d="M631.3 69.4v-1.0M631.3 15.5v1.0M677.11 69.4v-1.0M677.11 15.5v1.0M736.7 69.4v-1.0M736.7 15.5v1.0M631.3 69.4h1.0M736.7 69.4h-1.0M631.3 51.43h1.0M736.7 51.43h-1.0M631.3 33.47h1.0M736.7 33.47h-1.0M631.3 15.5h1.0M736.7 15.5h-1.0" stroke="#262626" stroke-width="0.6" fill="none"/><rect x="631.3" y="15.5" width="105.4" height="53.9" fill="none" stroke="#262626" stroke-width="0.7"/><text x="631.3" y="79.2" font-size="7.6" text-anchor="middle" fill="#262626">1</text><text x="677.11" y="79.2" font-size="7.6" text-anchor="middle" fill="#262626">10</text><text x="736.7" y="79.2" font-size="7.6" text-anchor="middle" fill="#262626">200</text><text x="629.8" y="72.41" font-size="7.6" text-anchor="end" fill="#262626">0</text><text x="629.8" y="54.44" font-size="7.6" text-anchor="end" fill="#262626">10</text><text x="629.8" y="36.47" font-size="7.6" text-anchor="end" fill="#262626">20</text><text x="629.8" y="18.51" font-size="7.6" text-anchor="end" fill="#262626">30</text><text transform="translate(684 14.3) scale(1 1.12)" font-size="8.55" text-anchor="middle" font-weight="bold" fill="#000">Convergence curve</text><text transform="translate(78.4 103.37) scale(1 1.13)" font-size="14.3" text-anchor="middle" font-weight="bold" fill="#000">F2</text><path d="M23.7 116.57L83.6 106.47L130 119.97M83.6 136.17L83.6 106.47M100.05 154.72L53.65 141.22L53.65 111.52M46.9 153.02L106.8 142.92L106.8 113.22M23.7 133.89L83.6 123.79L130 137.29M23.7 121.52L83.6 111.42L130 124.92" stroke="#dcdcdc" stroke-width="0.5" fill="none"/><path d="M100 154.7l-15.1-3.1-11.4-.9-10.9 .5-15.7 1.8M106.8 142.9l-12.3 2.9-3.4 1.2-1.6 1-.5 .8 .2 .6 1.3 1.2 3.1 1.7 6.4 2.4M46.9 153l13.8-3.3 2.6-1.1 .9-.6 .5-.8-.5-1.1-1.9-1.4-8.7-3.5M53.6 141.2l15.2 3.1 11.4 1 10.9-.5 15.7-1.9" stroke="#463de0" stroke-width="0.9" fill="none"/><path d="M97.3 155.2l-12.5-2.2-9-.8-12.3 .1-14.5 1.3M108.9 143.5l-9.4 2.8-2.3 1.1-1.1 .9-.4 .8 .1 .7 1 1.2 2.6 1.7 3.4 1.6M44.8 152.4l9.4-2.8 2.3-1 1.1-.9 .4-.8-.1-.7-1-1.3-2.6-1.7-3.4-1.5M56.4 140.8l12.5 2.1 9 .8 12.3-.1 14.5-1.3" stroke="#475bf9" stroke-width="0.9" fill="none"/><path d="M94.6 155.6l-11.4-1.6-8.9-.6-10.4 0-12.8 .8M111 144.1l-7.1 2.6-2.7 1.9-.3 1 .5 1.3 1.3 1.2 2.8 1.7M42.7 151.8l7.1-2.5 2-1.3 .8-.9 .2-.8-.5-1.3-1.3-1.2-2.8-1.7M59.1 140.3l11.4 1.6 8.9 .7 10.4-.1 12.8-.8" stroke="#347afd" stroke-width="0.9" fill="none"/><path d="M91.9 156.1l-9.8-1.2-9.3-.6-8.8 0-10.8 .6M113.1 144.8l-5.2 2.1-2.3 1.9-.3 1 .3 1.1 2.6 2.4M40.6 151.2l5.2-2.2 2.3-1.9 .3-1-.3-1.1-2.6-2.4M61.8 139.8l9.8 1.2 9.3 .6 8.8 0 10.8-.5" stroke="#2797eb" stroke-width="0.9" fill="none"/><path d="M89.2 156.6l-15.7-1.4-9.8 0-8.4 .3M115.2 145.4l-3.6 1.7-1.3 .9-.9 1.2-.2 .8 .2 1 1.5 1.9M38.5 150.6l3.6-1.7 1.3-1 .9-1.1 .2-.9-.2-1-1.5-1.8M64.5 139.4l15.7 1.3 9.8 .1 8.4-.3" stroke="#17aeda" stroke-width="0.9" fill="none"/><path d="M86.4 157l-13.4-1-15.6 .1M117.3 146l-2.2 1.2-1.9 1.8-.5 1.5 1 1.9M36.4 150l3.1-1.9 1.2-1.5 .2-1.8-.9-1.3M67.3 138.9l13.4 1 15.6 0" stroke="#12beb9" stroke-width="0.9" fill="none"/><path d="M83.7 157.5l-12.4-.8-11.7 0M119.5 146.6l-2 1.3-1.1 1.2-.4 1.5 .4 1.4M34.2 149.3l2-1.2 1.1-1.3 .4-1.5-.4-1.3M70 138.5l12.4 .7 11.7 0" stroke="#3dc990" stroke-width="0.9" fill="none"/><path d="M81 157.9l-9.6-.5-9.7-.1M121.6 147.2l-2.2 2.1-.4 .9 .1 1.3M32.1 148.7l2.2-2.1 .4-.8-.1-1.4M72.7 138l9.5 .5 9.8 .1" stroke="#81cc59" stroke-width="0.9" fill="none"/><path d="M78.3 158.4l-14.5-.5M123.7 147.8l-1.5 1.8-.4 1.4M30 148.1l1.5-1.7 .4-1.5M75.4 137.5l14.5 .5" stroke="#c8c129" stroke-width="0.9" fill="none"/><path d="M75.5 158.9l-9.6-.4M125.8 148.4l-1.2 2.2M27.9 147.5l1.2-2.1M78.2 137.1l9.6 .3" stroke="#fcbb3e" stroke-width="0.9" fill="none"/><path d="M72.8 159.3l-4.8-.1M127.9 149.1l-.6 1M25.8 146.9l.6-1.1M80.9 136.6l4.8 .2" stroke="#f7db2b" stroke-width="0.9" fill="none"/><g class="sf"><linearGradient id="g1_29" href="#pb" gradientUnits="userSpaceOnUse" x1="24.47" y1="146.49" x2="19.60" y2="117.62"/><path fill="url(#g1_29)" stroke="url(#g1_29)" d="M25.2 118.8l30 20.6 29.9-30.7-1.5-2.2-30 32.2-29.9-22.1z"/><linearGradient id="g1_28" href="#pb" gradientUnits="userSpaceOnUse" x1="26.02" y1="146.94" x2="21.15" y2="118.07"/><path fill="url(#g1_28)" stroke="url(#g1_28)" d="M26.8 121.1l29.9 18.9 30-29-1.6-2.3-29.9 30.7-30-20.6z"/><linearGradient id="g1_27" href="#pb" gradientUnits="userSpaceOnUse" x1="27.57" y1="147.39" x2="22.70" y2="118.52"/><path fill="url(#g1_27)" stroke="url(#g1_27)" d="M28.3 123.4l30 17.2 29.9-27.3-1.5-2.3-30 29-29.9-18.9z"/><linearGradient id="g1_26" href="#pb" gradientUnits="userSpaceOnUse" x1="29.11" y1="147.84" x2="24.24" y2="118.97"/><path fill="url(#g1_26)" stroke="url(#g1_26)" d="M29.9 125.6l29.9 15.6 30-25.7-1.6-2.2-29.9 27.3-30-17.2z"/><linearGradient id="g1_25" href="#pb" gradientUnits="userSpaceOnUse" x1="30.66" y1="148.29" x2="25.79" y2="119.42"/><path fill="url(#g1_25)" stroke="url(#g1_25)" d="M31.4 127.9l30 13.9 29.9-24-1.5-2.3-30 25.7-29.9-15.6z"/><linearGradient id="g1_24" href="#pb" gradientUnits="userSpaceOnUse" x1="32.21" y1="148.74" x2="27.34" y2="119.87"/><path fill="url(#g1_24)" stroke="url(#g1_24)" d="M33 130.2l29.9 12.2 30-22.3-1.6-2.3-29.9 24-30-13.9z"/><linearGradient id="g1_23" href="#pb" gradientUnits="userSpaceOnUse" x1="33.75" y1="149.19" x2="28.88" y2="120.32"/><path fill="url(#g1_23)" stroke="url(#g1_23)" d="M34.5 132.4l30 10.6 29.9-20.7-1.5-2.2-30 22.3-29.9-12.2z"/><linearGradient id="g1_22" href="#pb" gradientUnits="userSpaceOnUse" x1="35.30" y1="149.64" x2="30.43" y2="120.77"/><path fill="url(#g1_22)" stroke="url(#g1_22)" d="M36.1 134.7l29.9 9 30-19.1-1.6-2.3-29.9 20.7-30-10.6z"/><linearGradient id="g1_21" href="#pb" gradientUnits="userSpaceOnUse" x1="36.85" y1="150.09" x2="31.98" y2="121.22"/><path fill="url(#g1_21)" stroke="url(#g1_21)" d="M37.6 137l30 7.3 29.9-17.4-1.5-2.3-30 19.1-29.9-9z"/><linearGradient id="g1_20" href="#pb" gradientUnits="userSpaceOnUse" x1="38.39" y1="150.54" x2="33.52" y2="121.67"/><path fill="url(#g1_20)" stroke="url(#g1_20)" d="M39.2 139.2l29.9 5.7 30-15.8-1.6-2.2-29.9 17.4-30-7.3z"/><linearGradient id="g1_19" href="#pb" gradientUnits="userSpaceOnUse" x1="39.94" y1="150.99" x2="35.07" y2="122.12"/><path fill="url(#g1_19)" stroke="url(#g1_19)" d="M40.7 141.5l30 4 29.9-14.1-1.5-2.3-30 15.8-29.9-5.7z"/><linearGradient id="g1_18" href="#pb" gradientUnits="userSpaceOnUse" x1="41.49" y1="151.44" x2="36.62" y2="122.57"/><path fill="url(#g1_18)" stroke="url(#g1_18)" d="M42.3 143.8l29.9 2.3 30-12.5-1.6-2.2-29.9 14.1-30-4z"/><linearGradient id="g1_17" href="#pb" gradientUnits="userSpaceOnUse" x1="43.03" y1="151.89" x2="38.16" y2="123.02"/><path fill="url(#g1_17)" stroke="url(#g1_17)" d="M43.8 146l30 .7 29.9-10.8-1.5-2.3-30 12.5-29.9-2.3z"/><linearGradient id="g1_16" href="#pb" gradientUnits="userSpaceOnUse" x1="44.58" y1="152.34" x2="39.71" y2="123.47"/><path fill="url(#g1_16)" stroke="url(#g1_16)" d="M45.4 148.3l29.9-.9 30-9.2-1.6-2.3-29.9 10.8-30-.7z"/><linearGradient id="g1_15" href="#pb" gradientUnits="userSpaceOnUse" x1="46.13" y1="152.79" x2="41.26" y2="123.92"/><path fill="url(#g1_15)" stroke="url(#g1_15)" d="M46.9 150.5l29.9-2.5 30-7.6-1.5-2.2-30 9.2-29.9 .9z"/><linearGradient id="g1_14" href="#pb" gradientUnits="userSpaceOnUse" x1="47.67" y1="153.24" x2="42.80" y2="124.37"/><path fill="url(#g1_14)" stroke="url(#g1_14)" d="M48.4 149.2l30-.9 29.9-9.2-1.5 1.3-30 7.6-29.9 2.5z"/><linearGradient id="g1_13" href="#pb" gradientUnits="userSpaceOnUse" x1="49.22" y1="153.69" x2="44.35" y2="124.82"/><path fill="url(#g1_13)" stroke="url(#g1_13)" d="M50 147.8l29.9 .7 30-10.8-1.6 1.4-29.9 9.2-30 .9z"/><linearGradient id="g1_12" href="#pb" gradientUnits="userSpaceOnUse" x1="50.77" y1="154.14" x2="45.90" y2="125.27"/><path fill="url(#g1_12)" stroke="url(#g1_12)" d="M51.5 146.4l30 2.4 29.9-12.4-1.5 1.3-30 10.8-29.9-.7z"/><linearGradient id="g1_11" href="#pb" gradientUnits="userSpaceOnUse" x1="52.31" y1="154.59" x2="47.44" y2="125.72"/><path fill="url(#g1_11)" stroke="url(#g1_11)" d="M53.1 145.1l29.9 4 30-14.1-1.6 1.4-29.9 12.4-30-2.4z"/><linearGradient id="g1_10" href="#pb" gradientUnits="userSpaceOnUse" x1="53.86" y1="155.04" x2="48.99" y2="126.17"/><path fill="url(#g1_10)" stroke="url(#g1_10)" d="M54.6 143.7l30 5.7 29.9-15.8-1.5 1.4-30 14.1-29.9-4z"/><linearGradient id="g1_9" href="#pb" gradientUnits="userSpaceOnUse" x1="55.41" y1="155.49" x2="50.54" y2="126.62"/><path fill="url(#g1_9)" stroke="url(#g1_9)" d="M56.2 142.4l29.9 7.3 30-17.4-1.6 1.3-29.9 15.8-30-5.7z"/><linearGradient id="g1_8" href="#pb" gradientUnits="userSpaceOnUse" x1="56.95" y1="155.94" x2="52.08" y2="127.07"/><path fill="url(#g1_8)" stroke="url(#g1_8)" d="M57.7 141l30 9 29.9-19.1-1.5 1.4-30 17.4-29.9-7.3z"/><linearGradient id="g1_7" href="#pb" gradientUnits="userSpaceOnUse" x1="58.50" y1="156.39" x2="53.63" y2="127.52"/><path fill="url(#g1_7)" stroke="url(#g1_7)" d="M59.3 139.6l29.9 10.6 30-20.7-1.6 1.4-29.9 19.1-30-9z"/><linearGradient id="g1_6" href="#pb" gradientUnits="userSpaceOnUse" x1="60.05" y1="156.84" x2="55.18" y2="127.97"/><path fill="url(#g1_6)" stroke="url(#g1_6)" d="M60.8 138.3l30 12.2 29.9-22.3-1.5 1.3-30 20.7-29.9-10.6z"/><linearGradient id="g1_5" href="#pb" gradientUnits="userSpaceOnUse" x1="61.59" y1="157.29" x2="56.72" y2="128.42"/><path fill="url(#g1_5)" stroke="url(#g1_5)" d="M62.4 136.9l29.9 13.9 30-24-1.6 1.4-29.9 22.3-30-12.2z"/><linearGradient id="g1_4" href="#pb" gradientUnits="userSpaceOnUse" x1="63.14" y1="157.74" x2="58.27" y2="128.87"/><path fill="url(#g1_4)" stroke="url(#g1_4)" d="M63.9 135.5l30 15.6 29.9-25.7-1.5 1.4-30 24-29.9-13.9z"/><linearGradient id="g1_3" href="#pb" gradientUnits="userSpaceOnUse" x1="64.69" y1="158.19" x2="59.82" y2="129.32"/><path fill="url(#g1_3)" stroke="url(#g1_3)" d="M65.5 134.2l29.9 17.2 30-27.3-1.6 1.3-29.9 25.7-30-15.6z"/><linearGradient id="g1_2" href="#pb" gradientUnits="userSpaceOnUse" x1="66.23" y1="158.64" x2="61.36" y2="129.77"/><path fill="url(#g1_2)" stroke="url(#g1_2)" d="M67 132.8l30 18.9 29.9-29-1.5 1.4-30 27.3-29.9-17.2z"/><linearGradient id="g1_1" href="#pb" gradientUnits="userSpaceOnUse" x1="67.78" y1="159.09" x2="62.91" y2="130.22"/><path fill="url(#g1_1)" stroke="url(#g1_1)" d="M68.6 131.4l29.9 20.6 30-30.7-1.6 1.4-29.9 29-30-18.9z"/><linearGradient id="g1_0" href="#pb" gradientUnits="userSpaceOnUse" x1="69.33" y1="159.54" x2="64.46" y2="130.67"/><path fill="url(#g1_0)" stroke="url(#g1_0)" d="M70.1 130.1l29.9 22.1 30-32.2-1.5 1.3-30 30.7-29.9-20.6z"/></g><path d="M23.7 116.57L23.7 146.27L70.1 159.77L130 149.67M23.70 146.27l2.17 -0.37M23.70 133.89l2.17 -0.37M23.70 121.52l2.17 -0.37M70.10 159.77l2.17 -0.37M46.90 153.02l2.17 -0.37M23.70 146.27l2.17 -0.37M70.10 159.77l-2.11 -0.61M100.05 154.72l-2.11 -0.61M130.00 149.67l-2.11 -0.61" stroke="#3a3a3a" stroke-width="0.95" fill="none"/><text x="21.5" y="148.78" font-size="7.6" text-anchor="end" fill="#262626">0</text><text x="21.5" y="136.4" font-size="7.6" text-anchor="end" fill="#262626">50</text><text x="21.5" y="124.03" font-size="7.6" text-anchor="end" fill="#262626">100</text><text x="67.6" y="168.28" font-size="7.6" text-anchor="end" fill="#262626">-10</text><text x="44.4" y="161.53" font-size="7.6" text-anchor="end" fill="#262626">0</text><text x="21.2" y="154.78" font-size="7.6" text-anchor="end" fill="#262626">10</text><text x="72.6" y="168.28" font-size="7.6" text-anchor="start" fill="#262626">-10</text><text x="102.55" y="163.23" font-size="7.6" text-anchor="start" fill="#262626">0</text><text x="132.5" y="158.18" font-size="7.6" text-anchor="start" fill="#262626">10</text><clipPath id="csh1"><rect x="175.5" y="106.17" width="106.2" height="53.9"/></clipPath><g clip-path="url(#csh1)"><path d="M223.9 160.1l-1.8-6.8-2.5-5.4-1.6-2.2-1.8-1.8-4.2-2.7-5.5-2-7.1-1.5-10.6-1.3-13.3-.9M281.7 135.5l-13.3 .9-10.6 1.3-7.1 1.5-5.5 2-4.2 2.7-1.8 1.8-1.6 2.2-2.5 5.4-1.8 6.8M175.5 130.7l13.3-.9 10.6-1.2 7.1-1.5 5.5-2.1 4.2-2.7 1.8-1.8 1.6-2.2 2.5-5.4 1.8-6.7M233.3 106.2l1.8 6.7 2.5 5.4 1.6 2.2 1.8 1.8 4.2 2.7 5.5 2.1 7.1 1.5 10.6 1.2 13.3 .9" stroke="#3e26a8" stroke-width="1.3" fill="none"/><path d="M218.6 160.1l-2.6-5.4-3-4.1-3.7-3.3-4.6-2.7-5.3-2.1-6.6-1.8-8-1.4-9.3-1.1M281.7 138.2l-9.3 1.1-8 1.4-6.6 1.8-5.3 2.1-4.6 2.7-3.7 3.3-3 4.1-2.6 5.4M175.5 128.1l10.6-1.4 8-1.5 6.6-1.9 5.3-2.3 4.2-2.7 3.4-3.4 2.8-4 2.2-4.7M238.6 106.2l2.2 4.7 2.8 4 3.4 3.4 4.2 2.7 5.3 2.3 6.6 1.9 8 1.5 10.6 1.4" stroke="#4746ea" stroke-width="1.3" fill="none"/><path d="M213.4 160.1l-2.8-4.1-3.1-3.3-3.5-2.7-4.6-2.7-4.9-2.1-5.7-1.7-13.3-2.6M281.7 140.9l-13.3 2.6-5.7 1.7-4.9 2.1-4.6 2.7-3.5 2.7-3.1 3.3-2.8 4.1M175.5 125.4l13.3-2.7 5.7-1.7 4.9-2.1 4.6-2.6 3.5-2.7 3.1-3.4 2.8-4M243.8 106.2l2.8 4 3.1 3.4 3.5 2.7 4.6 2.6 4.9 2.1 5.7 1.7 13.3 2.7" stroke="#406dfe" stroke-width="1.3" fill="none"/><path d="M208.1 160.1l-2.3-2.7-2.9-2.7-3.5-2.6-3.7-2.1-4.5-2.1-5.1-1.7-10.6-2.7M281.7 143.5l-10.6 2.7-5.1 1.7-4.5 2.1-3.7 2.1-3.5 2.6-2.9 2.7-2.3 2.7M175.5 122.7l10.6-2.6 5.1-1.8 4.5-2 3.7-2.2 3.5-2.5 2.9-2.7 2.3-2.7M249.1 106.2l2.3 2.7 2.9 2.7 3.5 2.5 3.7 2.2 4.5 2 5.1 1.8 10.6 2.6" stroke="#2994ed" stroke-width="1.3" fill="none"/><path d="M202.8 160.1l-4.7-4.2-6.4-3.9-6.9-3-9.3-2.8M281.7 146.2l-8.2 2.4-7.7 3.2-5.9 3.6-5.5 4.7M175.5 120l8.2-2.4 7.7-3.2 5.9-3.5 5.5-4.7M254.4 106.2l5.5 4.7 5.9 3.5 7.7 3.2 8.2 2.4" stroke="#0eb3d4" stroke-width="1.3" fill="none"/><path d="M197.6 160.1l-4.5-3.4-4.6-2.7-5.9-2.7-7.1-2.4M281.7 148.9l-7.1 2.4-5.9 2.7-4.6 2.7-4.5 3.4M175.5 117.4l7.1-2.5 5.9-2.7 4.6-2.7 4.5-3.3M259.6 106.2l4.5 3.3 4.6 2.7 5.9 2.7 7.1 2.5" stroke="#2dc4a5" stroke-width="1.3" fill="none"/><path d="M192.3 160.1l-7.7-4.7-9.1-3.9M281.7 151.5l-9.1 3.9-7.7 4.7M175.5 114.7l9.1-3.8 7.7-4.7M264.9 106.2l7.7 4.7 9.1 3.8" stroke="#73cd63" stroke-width="1.3" fill="none"/><path d="M187.1 160.1l-6-3.4-5.6-2.5M281.7 154.2l-5.6 2.5-6 3.4M175.5 112l5.6-2.5 6-3.3M270.1 106.2l6 3.3 5.6 2.5" stroke="#d0bf27" stroke-width="1.3" fill="none"/><path d="M181.8 160.1l-6.3-3.2M281.7 156.9l-6.3 3.2M175.5 109.4l6.3-3.2M275.4 106.2l6.3 3.2" stroke="#fec835" stroke-width="1.3" fill="none"/><path d="M176.6 160.1l-1.1-.6M281.7 159.5l-1.1 .6M175.5 106.7l1.1-.5M280.6 106.2l1.1 .5" stroke="#f6f31d" stroke-width="1.3" fill="none"/></g><path d="M175.5 160.07v-1.0M175.5 106.17v1.0M202.05 160.07v-1.0M202.05 106.17v1.0M228.6 160.07v-1.0M228.6 106.17v1.0M255.15 160.07v-1.0M255.15 106.17v1.0M281.7 160.07v-1.0M281.7 106.17v1.0M175.5 160.07h1.0M281.7 160.07h-1.0M175.5 133.12h1.0M281.7 133.12h-1.0M175.5 106.17h1.0M281.7 106.17h-1.0" stroke="#262626" stroke-width="0.6" fill="none"/><rect x="175.5" y="106.17" width="106.2" height="53.9" fill="none" stroke="#262626" stroke-width="0.7"/><text x="175.5" y="169.87" font-size="7.6" text-anchor="middle" fill="#262626">-100</text><text x="202.05" y="169.87" font-size="7.6" text-anchor="middle" fill="#262626">-50</text><text x="228.6" y="169.87" font-size="7.6" text-anchor="middle" fill="#262626">0</text><text x="255.15" y="169.87" font-size="7.6" text-anchor="middle" fill="#262626">50</text><text x="281.7" y="169.87" font-size="7.6" text-anchor="middle" fill="#262626">100</text><text x="174" y="163.08" font-size="7.6" text-anchor="end" fill="#262626">-100</text><text x="174" y="136.13" font-size="7.6" text-anchor="end" fill="#262626">0</text><text x="174" y="109.18" font-size="7.6" text-anchor="end" fill="#262626">100</text><text transform="translate(228.6 104.97) scale(1 1.12)" font-size="8.55" text-anchor="middle" font-weight="bold" fill="#000">Search history</text><path d="M223.1 131.4h0m.1 0h0m0 2.8h0m.1-.2h0m.2-1.9h0m0 .4h0m0 1.7h0m.1-1.2h0m.1-1.6h0m0 2.8h0m0 .4h0m0 .2h0m.1-.7h0m.1-2.2h0m.1 2.5h0m0 .5h0m.1-1.5h0m0 2.1h0m.1-2h0m0 1.2h0m0 .5h0m0 .2h0m0 .3h0m.1-5h0m.3 3.9h0m.1-.9h0m.1 1.4h0m.1-1.2h0m0 .9h0m0 .1h0m.1-3.3h0m0 2.5h0m.1-.8h0m0 2.1h0m.1-4.3h0m.1 3.3h0m.1-3.6h0m0 .3h0m.1 4.3h0m.3-2h0m0 .1h0m0 1.4h0m.1-3h0m0 2.3h0m0 1.4h0m.1-3.3h0m0 1.2h0m.1-.3h0m.1-.9h0m.1-1.5h0m0 4.6h0m.2-4.5h0m0 3.9h0m0 .7h0m.3-4.2h0m0 1.8h0m0 .1h0m.1-.8h0m.3-1.7h0m0 3h0m.1 .1h0m0 .9h0m.2 0h0m.1-2.3h0m.1-.2h0m0 .4h0m.1 1.5h0m.1-2.6h0m0 .5h0m.1 0h0m0 .2h0m.1-.7h0m0 1.2h0m0 1.2h0m0 .6h0m.1-2.4h0m.1-1.3h0m0 1.5h0m0 .2h0m.1-1.5h0m0 3.4h0m.1-3.5h0m.1 1.7h0m.1-.4h0m0 2.4h0m0 1.1h0m.1-2.2h0m.2-1.1h0m0 1.7h0m0 .1h0m.1 .7h0m.1-4.2h0m0 1h0m.3 0h0m0 1.8h0m.1-1.6h0m0 3.2h0m.1-2h0m0 1.1h0m0 0h0m0 .7h0m.1-2.8h0m0 1.6h0m.2-.1h0m0 .2h0m.2-2.9h0m0 3.7h0m.1-2.7h0m.1-.6h0m.1 1.5h0m.1 1.2h0m0 1.3h0m.1-2h0m.1-1.4h0m0 2.6h0m0 .2h0m.1 .5h0m.1-4.1h0m0 1.5h0m.1 2.2h0m.1-2.1h0m0 1.1h0m.3-2.4h0m0 3.6h0m.1-3.1h0m.1 1.7h0m0 1.8h0m.2-4.4h0m0 1.2h0m0 3h0m.1-2.3h0m0 .4h0m.1-.2h0m.3 .3h0m.2-.6h0m.1-2h0m0 .9h0m0 .8h0m0 1.9h0m0 .1h0m.1-3.1h0m.1-.7h0m0 .5h0m0 1h0m0 2.1h0m.1-3.4h0m.1 .7h0m.2 2.8h0m.1 .5h0m.1-.4h0m0 1.1h0m.1-3.4h0m0 .4h0m0 1.3h0m0 .4h0m0 1.2h0m.1-3h0m0 .9h0m.1-2.7h0m0 3.7h0" stroke="#ff0000" stroke-width="5.6" stroke-linecap="round" fill="none"/><circle cx="228.6" cy="133.12" r="4.0" fill="#00bb00"/><clipPath id="ctr1"><rect x="325.8" y="104.67" width="109.2" height="56.9"/></clipPath><g clip-path="url(#ctr1)"><path d="M327.83 156.85L328.36 115.38L329.42 115.38L329.95 156.85L330.49 149.93L331.02 156.85L331.55 149.93L332.08 160.07L332.61 154.54L333.67 152.24L433.5 152.24" stroke="#0072bd" stroke-width="2.4" fill="none" stroke-linejoin="round" stroke-linecap="butt"/></g><path d="M327.3 160.07v-1.0M327.3 106.17v1.0M353.85 160.07v-1.0M353.85 106.17v1.0M380.4 160.07v-1.0M380.4 106.17v1.0M406.95 160.07v-1.0M406.95 106.17v1.0M433.5 160.07v-1.0M433.5 106.17v1.0M327.3 152.24h1.0M433.5 152.24h-1.0M327.3 129.2h1.0M433.5 129.2h-1.0M327.3 106.17h1.0M433.5 106.17h-1.0" stroke="#262626" stroke-width="0.6" fill="none"/><rect x="327.3" y="106.17" width="106.2" height="53.9" fill="none" stroke="#262626" stroke-width="0.7"/><text x="327.3" y="169.87" font-size="7.6" text-anchor="middle" fill="#262626">0</text><text x="353.85" y="169.87" font-size="7.6" text-anchor="middle" fill="#262626">50</text><text x="380.4" y="169.87" font-size="7.6" text-anchor="middle" fill="#262626">100</text><text x="406.95" y="169.87" font-size="7.6" text-anchor="middle" fill="#262626">150</text><text x="433.5" y="169.87" font-size="7.6" text-anchor="middle" fill="#262626">200</text><text x="325.8" y="155.25" font-size="7.6" text-anchor="end" fill="#262626">0</text><text x="325.8" y="132.21" font-size="7.6" text-anchor="end" fill="#262626">0.5</text><text x="325.8" y="109.18" font-size="7.6" text-anchor="end" fill="#262626">1</text><text transform="translate(380.4 104.97) scale(1 1.12)" font-size="8.55" text-anchor="middle" font-weight="bold" fill="#000">Trajectory curve</text><clipPath id="caf1"><rect x="477.8" y="104.67" width="108.4" height="56.9"/></clipPath><g clip-path="url(#caf1)"><path d="M479.3 113.99L493.09 133.93L501.81 142.55L510.5 153.87L519.38 158.86L525.11 159.94L584.7 160.07" stroke="#0072bd" stroke-width="2.4" fill="none" stroke-linejoin="round" stroke-linecap="butt"/></g><path d="M479.3 160.07v-1.0M479.3 106.17v1.0M525.11 160.07v-1.0M525.11 106.17v1.0M584.7 160.07v-1.0M584.7 106.17v1.0M479.3 160.07h1.0M584.7 160.07h-1.0M479.3 133.12h1.0M584.7 133.12h-1.0M479.3 106.17h1.0M584.7 106.17h-1.0" stroke="#262626" stroke-width="0.6" fill="none"/><rect x="479.3" y="106.17" width="105.4" height="53.9" fill="none" stroke="#262626" stroke-width="0.7"/><text x="479.3" y="169.87" font-size="7.6" text-anchor="middle" fill="#262626">1</text><text x="525.11" y="169.87" font-size="7.6" text-anchor="middle" fill="#262626">10</text><text x="584.7" y="169.87" font-size="7.6" text-anchor="middle" fill="#262626">200</text><text x="477.8" y="163.08" font-size="7.6" text-anchor="end" fill="#262626">0</text><text x="477.8" y="136.13" font-size="7.6" text-anchor="end" fill="#262626">10</text><text x="477.8" y="109.18" font-size="7.6" text-anchor="end" fill="#262626">20</text><text transform="translate(532 104.97) scale(1 1.12)" font-size="8.55" text-anchor="middle" font-weight="bold" fill="#000">Average fitness</text><clipPath id="ccv1"><rect x="629.8" y="104.67" width="108.4" height="56.9"/></clipPath><g clip-path="url(#ccv1)"><path d="M631.3 106.17L645.09 147.85L653.15 147.85L657.86 160.07L736.7 160.07" stroke="#0072bd" stroke-width="2.4" fill="none" stroke-linejoin="round" stroke-linecap="butt"/></g><path d="M631.3 160.07v-1.0M631.3 106.17v1.0M677.11 160.07v-1.0M677.11 106.17v1.0M736.7 160.07v-1.0M736.7 106.17v1.0M631.3 160.07h1.0M736.7 160.07h-1.0M631.3 142.1h1.0M736.7 142.1h-1.0M631.3 124.14h1.0M736.7 124.14h-1.0M631.3 106.17h1.0M736.7 106.17h-1.0" stroke="#262626" stroke-width="0.6" fill="none"/><rect x="631.3" y="106.17" width="105.4" height="53.9" fill="none" stroke="#262626" stroke-width="0.7"/><text x="631.3" y="169.87" font-size="7.6" text-anchor="middle" fill="#262626">1</text><text x="677.11" y="169.87" font-size="7.6" text-anchor="middle" fill="#262626">10</text><text x="736.7" y="169.87" font-size="7.6" text-anchor="middle" fill="#262626">200</text><text x="629.8" y="163.08" font-size="7.6" text-anchor="end" fill="#262626">0</text><text x="629.8" y="145.11" font-size="7.6" text-anchor="end" fill="#262626">0.5</text><text x="629.8" y="127.14" font-size="7.6" text-anchor="end" fill="#262626">1</text><text x="629.8" y="109.18" font-size="7.6" text-anchor="end" fill="#262626">1.5</text><text transform="translate(684 104.97) scale(1 1.12)" font-size="8.55" text-anchor="middle" font-weight="bold" fill="#000">Convergence curve</text><text transform="translate(78.4 194.04) scale(1 1.13)" font-size="14.3" text-anchor="middle" font-weight="bold" fill="#000">F3</text><path d="M23.7 207.24L83.6 197.14L130 210.64M83.6 226.84L83.6 197.14M100.05 245.39L53.65 231.89L53.65 202.19M46.9 243.69L106.8 233.59L106.8 203.89" stroke="#dcdcdc" stroke-width="0.5" fill="none"/><path d="M118.4 237l1.3 .5 0 .8-1.3 .6-3.8 .9-12.1 1.4-14.1 .8-15.7 .4-17-.2-13.4-.8-7-1.1M35.3 240.3l-1.3-.5 0-.9 1.3-.5 3.8-.9 12.1-1.4 14-.8 15.8-.4 17 .2 13.4 .8 7 1.1" stroke="#4743e7" stroke-width="0.9" fill="none"/><path d="M130 240.3l-14.9 1.8-21.2 1.3-25.8 .6-21.2-.3M23.7 236.9l14.9-1.7 21.9-1.3 25.1-.6 21.2 .3" stroke="#4367fd" stroke-width="0.9" fill="none"/><path d="M108.8 243.9l-29 1.1-28.1 .1M44.9 233.4l29-1.1 28.1-.1" stroke="#2d8cf3" stroke-width="0.9" fill="none"/><path d="M100 245.4l-21.7 .6-22.9 .2M53.6 231.9l21.8-.6 22.9-.2" stroke="#1caadf" stroke-width="0.9" fill="none"/><path d="M93.3 246.5l-34.8 .6M60.4 230.8l34.8-.6" stroke="#12beb9" stroke-width="0.9" fill="none"/><path d="M87.7 247.5l-26.5 .4M66 229.8l26.5-.4" stroke="#48cb86" stroke-width="0.9" fill="none"/><path d="M82.7 248.3l-19 .3M71 229l19-.3" stroke="#9fc942" stroke-width="0.9" fill="none"/><path d="M78.1 249.1l-12.1 .1M75.6 228.2l12.1-.2" stroke="#eaba30" stroke-width="0.9" fill="none"/><path d="M74 249.8l-5.9 .1M79.7 227.5l5.9-.1" stroke="#fad42e" stroke-width="0.9" fill="none"/><g class="sf"><linearGradient id="g2_27" href="#pb" gradientUnits="userSpaceOnUse" x1="24.53" y1="237.18" x2="19.66" y2="208.30"/><path fill="url(#g2_27)" stroke="url(#g2_27)" d="M25.4 232.3l6.4-1.2 8.5-2.4 8.6-3.4 6.4-3.2 8.6-5.1 6.4-4.4 6.4-5 8.6-7.5-1.7-3-8.6 7.8-6.4 5.2-6.4 4.6-8.6 5.3-8.5 4.4-6.4 2.6-8.6 2.6-6.4 1.4z"/><linearGradient id="g2_26" href="#pb" gradientUnits="userSpaceOnUse" x1="26.19" y1="237.66" x2="21.32" y2="208.78"/><path fill="url(#g2_26)" stroke="url(#g2_26)" d="M27 233.4l6.4-1 8.6-2.1 6.4-2.3 8.6-3.9 8.5-4.8 6.4-4.3 6.5-4.8 8.5-7.2-1.6-2.9-8.6 7.5-6.4 5-6.4 4.4-8.6 5.1-6.4 3.2-8.6 3.4-8.5 2.4-6.4 1.2z"/><linearGradient id="g2_25" href="#pb" gradientUnits="userSpaceOnUse" x1="27.84" y1="238.15" x2="22.97" y2="209.27"/><path fill="url(#g2_25)" stroke="url(#g2_25)" d="M28.7 234.4l6.4-.8 8.5-1.9 6.5-2.1 8.5-3.6 8.6-4.6 6.4-4.1 6.4-4.6 8.6-7-1.7-2.7-8.5 7.2-6.5 4.8-6.4 4.3-8.5 4.8-8.6 3.9-6.4 2.3-8.6 2.1-6.4 1z"/><linearGradient id="g2_24" href="#pb" gradientUnits="userSpaceOnUse" x1="29.50" y1="238.63" x2="24.63" y2="209.75"/><path fill="url(#g2_24)" stroke="url(#g2_24)" d="M30.3 235.4l4.3-.4 4.3-.6 6.4-1.4 6.4-1.9 8.6-3.3 6.4-3.2 8.6-5.1 6.4-4.4 8.5-6.8-1.6-2.6-8.6 7-6.4 4.6-6.4 4.1-8.6 4.6-8.5 3.6-6.5 2.1-8.5 1.9-6.4 .8z"/><linearGradient id="g2_23" href="#pb" gradientUnits="userSpaceOnUse" x1="31.16" y1="239.11" x2="26.29" y2="210.23"/><path fill="url(#g2_23)" stroke="url(#g2_23)" d="M32 236.1l6.4-.4 8.6-1.5 6.4-1.7 8.5-3.1 8.6-4.1 6.4-3.7 8.6-5.8 6.4-5-1.7-2.5-8.5 6.8-6.4 4.4-8.6 5.1-6.4 3.2-8.6 3.3-6.4 1.9-6.4 1.4-4.3 .6-4.3 .4z"/><linearGradient id="g2_22" href="#pb" gradientUnits="userSpaceOnUse" x1="32.81" y1="239.59" x2="27.94" y2="210.71"/><path fill="url(#g2_22)" stroke="url(#g2_22)" d="M33.6 236.8l6.5-.3 4.2-.4 4.3-.8 6.4-1.5 8.6-2.9 8.6-3.9 6.4-3.5 6.4-4.1 8.5-6.3-1.6-2.3-6.4 5-8.6 5.8-6.4 3.7-8.6 4.1-8.5 3.1-6.4 1.7-8.6 1.5-6.4 .4z"/><linearGradient id="g2_21" href="#pb" gradientUnits="userSpaceOnUse" x1="34.47" y1="240.07" x2="29.60" y2="211.19"/><path fill="url(#g2_21)" stroke="url(#g2_21)" d="M35.3 237.3l6.4 0 4.3-.4 4.3-.6 6.4-1.3 8.5-2.7 8.6-3.6 6.4-3.4 6.4-3.9 8.6-6-1.7-2.3-8.5 6.3-6.4 4.1-6.4 3.5-8.6 3.9-8.6 2.9-6.4 1.5-4.3 .8-4.2 .4-6.5 .3z"/><linearGradient id="g2_20" href="#pb" gradientUnits="userSpaceOnUse" x1="36.13" y1="240.56" x2="31.26" y2="211.68"/><path fill="url(#g2_20)" stroke="url(#g2_20)" d="M37 237.8l4.2 .1 4.3-.1 6.4-.6 6.4-1.2 8.6-2.4 8.6-3.4 6.4-3.2 6.4-3.7 8.6-5.8-1.7-2.1-8.6 6-6.4 3.9-6.4 3.4-8.6 3.6-8.5 2.7-6.4 1.3-4.3 .6-4.3 .4-6.4 0z"/><linearGradient id="g2_19" href="#pb" gradientUnits="userSpaceOnUse" x1="37.79" y1="241.04" x2="32.92" y2="212.16"/><path fill="url(#g2_19)" stroke="url(#g2_19)" d="M38.6 238.1l6.4 .2 4.3-.1 4.3-.3 8.5-1.5 6.5-1.7 8.5-3.1 6.4-3 8.6-4.9 6.4-4.2-1.6-2-8.6 5.8-6.4 3.7-6.4 3.2-8.6 3.4-8.6 2.4-6.4 1.2-6.4 .6-4.3 .1-4.2-.1z"/><linearGradient id="g2_18" href="#pb" gradientUnits="userSpaceOnUse" x1="39.44" y1="241.52" x2="34.57" y2="212.64"/><path fill="url(#g2_18)" stroke="url(#g2_18)" d="M40.3 238.2l6.4 .5 4.3 0 4.2-.2 4.3-.5 4.3-.7 6.4-1.6 8.6-2.9 6.4-2.8 6.4-3.3 8.6-5.3-1.7-1.9-6.4 4.2-8.6 4.9-6.4 3-8.5 3.1-6.5 1.7-8.5 1.5-4.3 .3-4.3 .1-6.4-.2z"/><linearGradient id="g2_17" href="#pb" gradientUnits="userSpaceOnUse" x1="41.10" y1="242.00" x2="36.23" y2="213.12"/><path fill="url(#g2_17)" stroke="url(#g2_17)" d="M41.9 238.3l6.4 .6 4.3 .2 4.3-.1 4.3-.4 4.3-.6 6.4-1.4 8.5-2.6 6.5-2.6 6.4-3.2 8.5-5.1-1.6-1.7-8.6 5.3-6.4 3.3-6.4 2.8-8.6 2.9-6.4 1.6-4.3 .7-4.3 .5-4.2 .2-4.3 0-6.4-.5z"/><linearGradient id="g2_16" href="#pb" gradientUnits="userSpaceOnUse" x1="42.76" y1="242.48" x2="37.89" y2="213.61"/><path fill="url(#g2_16)" stroke="url(#g2_16)" d="M43.6 238.2l6.4 .9 4.3 .2 4.3 0 4.2-.2 4.3-.5 6.4-1.2 8.6-2.4 6.4-2.4 6.4-3 8.6-4.9-1.7-1.6-8.5 5.1-6.4 3.2-6.5 2.6-8.5 2.6-6.4 1.4-4.3 .6-4.3 .4-4.3 .1-4.3-.2-6.4-.6z"/><linearGradient id="g2_15" href="#pb" gradientUnits="userSpaceOnUse" x1="44.41" y1="242.97" x2="39.54" y2="214.09"/><path fill="url(#g2_15)" stroke="url(#g2_15)" d="M45.2 238.1l4.3 .7 4.3 .5 6.4 .3 6.4-.3 4.3-.5 4.3-.7 8.6-2.2 6.4-2.2 8.5-3.9 6.4-3.5-1.6-1.6-8.6 4.9-6.4 3-6.4 2.4-8.6 2.4-6.4 1.2-4.3 .5-4.2 .2-4.3 0-4.3-.2-6.4-.9z"/><linearGradient id="g2_14" href="#pb" gradientUnits="userSpaceOnUse" x1="46.07" y1="243.45" x2="41.20" y2="214.57"/><path fill="url(#g2_14)" stroke="url(#g2_14)" d="M46.9 237.8l8.6 1.4 6.4 .5 4.3 0 4.2-.3 6.4-.8 6.5-1.3 8.5-2.7 6.4-2.6 8.6-4.4-1.7-1.3-6.4 3.5-8.5 3.9-6.4 2.2-8.6 2.2-4.3 .7-4.3 .5-6.4 .3-6.4-.3-4.3-.5-4.3-.7z"/><linearGradient id="g2_13" href="#pb" gradientUnits="userSpaceOnUse" x1="47.73" y1="243.93" x2="42.86" y2="215.05"/><path fill="url(#g2_13)" stroke="url(#g2_13)" d="M48.6 237.3l6.4 1.4 4.3 .6 4.2 .4 4.3 .1 4.3-.1 6.4-.6 8.6-1.7 6.4-1.9 6.4-2.5 8.6-4.1-1.7-1.3-8.6 4.4-6.4 2.6-8.5 2.7-6.5 1.3-6.4 .8-4.2 .3-4.3 0-6.4-.5-8.6-1.4z"/><linearGradient id="g2_12" href="#pb" gradientUnits="userSpaceOnUse" x1="49.39" y1="244.41" x2="44.52" y2="215.53"/><path fill="url(#g2_12)" stroke="url(#g2_12)" d="M50.2 236.8l6.4 1.5 4.3 .8 4.3 .5 4.3 .2 4.2 0 6.5-.4 8.5-1.5 6.4-1.7 6.5-2.3 8.5-3.8-1.6-1.2-8.6 4.1-6.4 2.5-6.4 1.9-8.6 1.7-6.4 .6-4.3 .1-4.3-.1-4.2-.4-4.3-.6-6.4-1.4z"/><linearGradient id="g2_11" href="#pb" gradientUnits="userSpaceOnUse" x1="51.04" y1="244.90" x2="46.17" y2="216.02"/><path fill="url(#g2_11)" stroke="url(#g2_11)" d="M51.9 236.1l6.4 1.7 8.5 1.5 6.5 .5 4.2 0 4.3-.3 4.3-.4 4.3-.8 6.4-1.5 6.4-2.1 8.6-3.6-1.7-1-8.5 3.8-6.5 2.3-6.4 1.7-8.5 1.5-6.5 .4-4.2 0-4.3-.2-4.3-.5-4.3-.8-6.4-1.5z"/><linearGradient id="g2_10" href="#pb" gradientUnits="userSpaceOnUse" x1="52.70" y1="245.38" x2="47.83" y2="216.50"/><path fill="url(#g2_10)" stroke="url(#g2_10)" d="M53.5 235.3l6.4 1.9 8.6 1.7 6.4 .7 4.3 .1 4.3-.1 4.3-.4 4.2-.6 6.5-1.3 6.4-1.9 8.5-3.4-1.6-.9-8.6 3.6-6.4 2.1-6.4 1.5-4.3 .8-4.3 .4-4.3 .3-4.2 0-6.5-.5-8.5-1.5-6.4-1.7z"/><linearGradient id="g2_9" href="#pb" gradientUnits="userSpaceOnUse" x1="54.36" y1="245.86" x2="49.49" y2="216.98"/><path fill="url(#g2_9)" stroke="url(#g2_9)" d="M55.2 234.4l6.4 2.1 8.6 2 6.4 .8 4.3 .2 4.2 0 6.5-.4 8.5-1.5 6.4-1.7 8.6-3.1-1.7-.8-8.5 3.4-6.4 1.9-6.5 1.3-4.2 .6-4.3 .4-4.3 .1-4.3-.1-6.4-.7-8.6-1.7-6.4-1.9z"/><linearGradient id="g2_8" href="#pb" gradientUnits="userSpaceOnUse" x1="56.01" y1="246.34" x2="51.14" y2="217.46"/><path fill="url(#g2_8)" stroke="url(#g2_8)" d="M56.8 233.4l6.5 2.3 8.5 2.1 4.3 .8 4.3 .5 6.4 .3 4.3-.2 4.3-.3 6.4-1 6.4-1.6 8.5-2.8-1.6-.7-8.6 3.1-6.4 1.7-8.5 1.5-6.5 .4-4.2 0-4.3-.2-6.4-.8-8.6-2-6.4-2.1z"/><linearGradient id="g2_7" href="#pb" gradientUnits="userSpaceOnUse" x1="57.67" y1="246.82" x2="52.80" y2="217.94"/><path fill="url(#g2_7)" stroke="url(#g2_7)" d="M58.5 232.2l6.4 2.5 8.6 2.4 6.4 1.2 4.3 .5 4.2 .2 4.3 .1 4.3-.3 6.4-.8 6.4-1.3 8.6-2.7-1.7-.5-8.5 2.8-6.4 1.6-6.4 1-4.3 .3-4.3 .2-6.4-.3-4.3-.5-4.3-.8-8.5-2.1-6.5-2.3z"/><linearGradient id="g2_6" href="#pb" gradientUnits="userSpaceOnUse" x1="59.33" y1="247.31" x2="54.46" y2="218.43"/><path fill="url(#g2_6)" stroke="url(#g2_6)" d="M60.2 230.9l6.4 2.7 8.5 2.7 6.4 1.3 4.3 .6 4.3 .4 4.3 .1 4.3-.1 6.4-.6 6.4-1.2 8.6-2.4-1.7-.4-8.6 2.7-6.4 1.3-6.4 .8-4.3 .3-4.3-.1-4.2-.2-4.3-.5-6.4-1.2-8.6-2.4-6.4-2.5z"/><linearGradient id="g2_5" href="#pb" gradientUnits="userSpaceOnUse" x1="60.99" y1="247.79" x2="56.12" y2="218.91"/><path fill="url(#g2_5)" stroke="url(#g2_5)" d="M61.8 229.5l8.6 3.7 6.4 2.1 6.4 1.5 4.3 .8 4.3 .5 6.4 .3 4.3-.2 4.2-.3 6.5-1 8.5-2.2-1.6-.3-8.6 2.4-6.4 1.2-6.4 .6-4.3 .1-4.3-.1-4.3-.4-4.3-.6-6.4-1.3-8.5-2.7-6.4-2.7z"/><linearGradient id="g2_4" href="#pb" gradientUnits="userSpaceOnUse" x1="62.64" y1="248.27" x2="57.77" y2="219.39"/><path fill="url(#g2_4)" stroke="url(#g2_4)" d="M63.5 228l8.5 3.9 6.4 2.3 6.5 1.7 8.5 1.5 4.3 .4 4.3 .1 6.4-.3 6.4-.8 8.6-1.9-1.7-.2-8.5 2.2-6.5 1-4.2 .3-4.3 .2-6.4-.3-4.3-.5-4.3-.8-6.4-1.5-6.4-2.1-8.6-3.7z"/><linearGradient id="g2_3" href="#pb" gradientUnits="userSpaceOnUse" x1="64.30" y1="248.75" x2="59.43" y2="219.87"/><path fill="url(#g2_3)" stroke="url(#g2_3)" d="M65.1 226.4l6.4 3.2 8.6 3.4 6.4 1.9 8.6 1.7 4.3 .5 4.2 .2 6.5 0 6.4-.7 8.5-1.6-1.6-.1-8.6 1.9-6.4 .8-6.4 .3-4.3-.1-4.3-.4-8.5-1.5-6.5-1.7-6.4-2.3-8.5-3.9z"/><linearGradient id="g2_2" href="#pb" gradientUnits="userSpaceOnUse" x1="65.96" y1="249.23" x2="61.09" y2="220.36"/><path fill="url(#g2_2)" stroke="url(#g2_2)" d="M66.8 224.6l6.4 3.4 8.6 3.6 6.4 2.1 8.5 2 4.3 .6 4.3 .4 6.4 .1 6.4-.5 8.6-1.4-1.7 .1-8.5 1.6-6.4 .7-6.5 0-4.2-.2-4.3-.5-8.6-1.7-6.4-1.9-8.6-3.4-6.4-3.2z"/><linearGradient id="g2_1" href="#pb" gradientUnits="userSpaceOnUse" x1="67.61" y1="249.72" x2="62.74" y2="220.84"/><path fill="url(#g2_1)" stroke="url(#g2_1)" d="M68.4 222.7l6.5 3.6 8.5 3.9 6.4 2.3 8.6 2.2 4.3 .7 4.3 .5 6.4 .3 6.4-.3 4.3-.5 4.2-.7-1.6 .2-8.6 1.4-6.4 .5-6.4-.1-4.3-.4-4.3-.6-8.5-2-6.4-2.1-8.6-3.6-6.4-3.4z"/><linearGradient id="g2_0" href="#pb" gradientUnits="userSpaceOnUse" x1="69.27" y1="250.20" x2="64.40" y2="221.32"/><path fill="url(#g2_0)" stroke="url(#g2_0)" d="M70.1 220.7l6.4 3.8 8.6 4.1 6.4 2.5 8.5 2.4 8.6 1.5 6.4 .4 4.3 0 4.3-.2 6.4-.8-1.7 .3-4.2 .7-4.3 .5-6.4 .3-6.4-.3-4.3-.5-4.3-.7-8.6-2.2-6.4-2.3-8.5-3.9-6.5-3.6z"/></g><path d="M23.7 207.24L23.7 236.94L70.1 250.44L130 240.34M23.70 236.94l2.17 -0.37M23.70 207.24l2.17 -0.37M70.10 250.44l2.17 -0.37M46.90 243.69l2.17 -0.37M23.70 236.94l2.17 -0.37M70.10 250.44l-2.11 -0.61M100.05 245.39l-2.11 -0.61M130.00 240.34l-2.11 -0.61" stroke="#3a3a3a" stroke-width="0.95" fill="none"/><text x="21.5" y="239.45" font-size="7.6" text-anchor="end" fill="#262626">0</text><text x="21.5" y="209.75" font-size="7.6" text-anchor="end" fill="#262626">5</text><text x="67.6" y="258.95" font-size="7.6" text-anchor="end" fill="#262626">-100</text><text x="44.4" y="252.2" font-size="7.6" text-anchor="end" fill="#262626">0</text><text x="21.2" y="245.45" font-size="7.6" text-anchor="end" fill="#262626">100</text><text x="72.6" y="258.95" font-size="7.6" text-anchor="start" fill="#262626">-100</text><text x="102.55" y="253.9" font-size="7.6" text-anchor="start" fill="#262626">0</text><text x="132.5" y="248.85" font-size="7.6" text-anchor="start" fill="#262626">100</text><text x="5.1" y="200.14" font-size="8.2" fill="#262626">×10<tspan font-size="5.6" dy="-3.6">4</tspan></text><clipPath id="csh2"><rect x="175.5" y="196.84" width="106.2" height="53.9"/></clipPath><g clip-path="url(#csh2)"><path d="M281.7 237.3l-.3 1.3-1 1.3-2.7 1.5-5.3 1.1-6.6 .3-8-.3-9.3-1.2-10.6-1.9-9.3-2.1-9.7-2.7-10.3-3.4-8.7-3.4-8.8-4-7.2-4.1-4.5-3.3-3-3.4-.9-2.7M175.5 210.3l.3-1.3 1-1.3 2.7-1.5 5.3-1.1 6.6-.4 8 .4 9.3 1.1 10.6 2 9.3 2.1 9.7 2.7 10.3 3.4 8.7 3.3 8.8 4.1 7.2 4 4.5 3.4 3 3.4 .9 2.7" stroke="#3e26a8" stroke-width="1.3" fill="none"/><path d="M281.7 250.7l-11.9-.5-12.3-1.5-14.3-2.5-14.6-3.4-15.1-4.2-14.1-4.7-12.2-4.7-11.7-5.4M175.5 196.8l11.9 .6 12.3 1.5 14.3 2.5 14.6 3.3 15.1 4.3 14.1 4.6 12.2 4.8 11.7 5.4" stroke="#4747eb" stroke-width="1.3" fill="none"/><path d="M244.2 250.7l-17.3-4-18.9-5.4-17.8-6.1-14.7-5.8M213 196.8l17.3 4.1 18.9 5.4 17.8 6 14.7 5.9" stroke="#3e6fff" stroke-width="1.3" fill="none"/><path d="M228.6 250.7l-14.6-3.9-13.3-4.1-12.1-4.1-13.1-4.9M228.6 196.8l14.6 4 13.3 4.1 12.1 4.1 13.1 4.9" stroke="#2797eb" stroke-width="1.3" fill="none"/><path d="M216.7 250.7l-20.1-6-21.1-7.4M240.5 196.8l20.1 6.1 21.1 7.4" stroke="#08b5d0" stroke-width="1.3" fill="none"/><path d="M206.6 250.7l-15.2-4.7-15.9-5.6M250.6 196.8l15.2 4.8 15.9 5.5" stroke="#31c69f" stroke-width="1.3" fill="none"/><path d="M197.7 250.7l-22.2-7.4M259.5 196.8l22.2 7.5" stroke="#81cc59" stroke-width="1.3" fill="none"/><path d="M189.7 250.7l-14.2-4.7M267.5 196.8l14.2 4.8" stroke="#dcbd29" stroke-width="1.3" fill="none"/><path d="M182.4 250.7l-6.9-2.3M274.8 196.8l6.9 2.4" stroke="#fccf30" stroke-width="1.3" fill="none"/></g><path d="M175.5 250.74v-1.0M175.5 196.84v1.0M202.05 250.74v-1.0M202.05 196.84v1.0M228.6 250.74v-1.0M228.6 196.84v1.0M255.15 250.74v-1.0M255.15 196.84v1.0M281.7 250.74v-1.0M281.7 196.84v1.0M175.5 250.74h1.0M281.7 250.74h-1.0M175.5 223.79h1.0M281.7 223.79h-1.0M175.5 196.84h1.0M281.7 196.84h-1.0" stroke="#262626" stroke-width="0.6" fill="none"/><rect x="175.5" y="196.84" width="106.2" height="53.9" fill="none" stroke="#262626" stroke-width="0.7"/><text x="175.5" y="260.54" font-size="7.6" text-anchor="middle" fill="#262626">-100</text><text x="202.05" y="260.54" font-size="7.6" text-anchor="middle" fill="#262626">-50</text><text x="228.6" y="260.54" font-size="7.6" text-anchor="middle" fill="#262626">0</text><text x="255.15" y="260.54" font-size="7.6" text-anchor="middle" fill="#262626">50</text><text x="281.7" y="260.54" font-size="7.6" text-anchor="middle" fill="#262626">100</text><text x="174" y="253.75" font-size="7.6" text-anchor="end" fill="#262626">-100</text><text x="174" y="226.8" font-size="7.6" text-anchor="end" fill="#262626">0</text><text x="174" y="199.85" font-size="7.6" text-anchor="end" fill="#262626">100</text><text transform="translate(228.6 195.64) scale(1 1.12)" font-size="8.55" text-anchor="middle" font-weight="bold" fill="#000">Search history</text><path d="M176.1 199.9h0m.3 7.2h0m.8 21.8h0m1.7 13.6h0m.8-4.8h0m2.4-23.3h0m.8-12.9h0m0 22.5h0m.8-13.7h0m0 20.2h0m2.4-16.9h0m0 27.3h0m.8-16.1h0m2.4-20.1h0m1.6 26.6h0m3.3-30.6h0m0 13.7h0m.8 33.8h0m.6-37.1h0m4.2 36.3h0m2.3-31.7h0m.3-5.2h0m3.7 1.6h0m.2 5.5h0m.2-8h0m1.4-12.2h0m0 41.9h0m.3-16h0m.2-1.7h0m.2-10.5h0m.1 30.6h0m.7-28.8h0m.6-3.8h0m.3 10h0m0 4.3h0m.1-13.8h0m.3 9.1h0m.2 5.3h0m.1-6.3h0m1.1-7.8h0m.1 6.8h0m.5 .5h0m.2-3.9h0m.4-3.8h0m.2 4.7h0m.4 2.5h0m.2-5.7h0m.1 1h0m.2 6.2h0m0 5.5h0m.2-3.5h0m.2 11.8h0m.1-6.2h0m.3-6.3h0m.6-1.6h0m.4 6.6h0m.5-1.2h0m.1-15.2h0m.2 4.3h0m.9 4.2h0m.3-6.7h0m.1 17.3h0m.1-7.8h0m0 8h0m.3-14.4h0m0 11.9h0m.1-2.4h0m.3 3.3h0m.3-10.4h0m.4 11.8h0m.1-9.2h0m.5-7.3h0m.3 17.8h0m.3-9.5h0m.1 10h0m.1-16.3h0m.2 12.7h0m.2-3.8h0m.1-5.5h0m.2 4.7h0m.3-11.9h0m.2-.3h0m0 9.4h0m.1 .4h0m.1 3h0m.1-6.6h0m0 2.4h0m.2-7.5h0m.1 2.7h0m.1 3.1h0m.1 2.9h0m.4 11.4h0m.1 4h0m.1-15.3h0m0 7.8h0m.2-6.5h0m.1-9.2h0m.2 17.2h0m.1 2h0m.3-11.9h0m.1 6.7h0m.5-3.5h0m.1-10.4h0m.5 21.8h0m.3-12.4h0m.1-3h0m0 13.6h0m.1-29.2h0m.2 9.3h0m0 3.7h0m.1-7.3h0m.5 35.3h0m.1-27.6h0m.4 5.3h0m0 9.5h0m.1 1.1h0m.3 4.1h0m.1-14.4h0m.1 3.6h0m.4 5.6h0m.3-15.8h0m.2 7.9h0m0 2.2h0m0 1h0m.3 1.2h0m.1-25.5h0m0 17.2h0m.1-3h0m.2 19.1h0m0 3.1h0m.1-10.7h0m.1-8.7h0m.5 8.1h0m0 .2h0m.3 .8h0m.1-8.5h0m0 12.2h0m.5 2.6h0m.1-5.8h0m0 1.6h0m.2 0h0m.7 .2h0m.1 4.3h0m.1 6.7h0m.8-13h0m.1-19.2h0m0 36.3h0m.1-32.4h0m0 16.2h0m0 .1h0m.2-8.6h0m0 4.7h0m.1-6.2h0m.1 4h0m0 .9h0m.5-6.9h0m0 4.1h0m.2 14.2h0m.3-9.4h0m.1 11.1h0m.3-20.4h0m0 2.1h0m.1 19.9h0m.1-12.6h0m0 2.2h0m.1-9.3h0m.4 11.8h0m.3 .3h0m.1-7.8h0m0 7.4h0m.1-9.8h0m.3-.6h0m.3-.2h0m.1-.6h0m.2 10.4h0m.1-17.7h0m.1 20.7h0m.1-15.4h0m.1 2.2h0m.2 11.5h0m0 6.6h0m.1-17h0m0 14.8h0m.6-6.2h0m.3-11.6h0m.1-6.4h0m0 32.2h0m.4-22.9h0m0 14.1h0m.1-13.5h0m0 2.7h0m.5-2.5h0m.3-10.5h0m0 17.3h0m0 .3h0m.2-11h0m.8 20h0m.9-1.7h0m.2-12.5h0m.1-4.3h0m.2 10.1h0m.1 1.2h0m.1-1.7h0m0 7.8h0m1.2-24.2h0m0 3.2h0m.3 9.7h0m0 .5h0m.2-.7h0m.2 1.1h0m.6 14.3h0m.1-9.2h0m.1-9.9h0m0 9.8h0m.3-3.2h0m.4 .9h0m.2-2.7h0m.5 5.5h0m.6-4.4h0m.1 9.4h0m1.1-4.4h0m.6-1h0m.1 4.9h0m.2-6h0m.1-11.5h0m.1 2.4h0m0 1.5h0m.2-.3h0m.1 16.6h0m.1-2.5h0m.2-13.4h0m.2 6.2h0m.9 3.5h0m.4 4.1h0m.2-13.6h0m.3 8.6h0m1-30.7h0m0 10.4h0m0 23.4h0m.4 3h0m2.8-34.4h0m.8 37.8h0m.7-13.5h0m.5-.6h0m1.2-15.7h0m0 22.6h0m2.4 3.3h0m0 12.8h0m1.7-22.4h0m.7 11.1h0m1.6-26.6h0m0 5.7h0m.9 27.4h0m.8-9.7h0m1.6-14.5h0m.8 26.6h0m.8-35.5h0m1.6-6.4h0m0 18.5h0m2.4-18.5h0m.8 21.7h0m3.2 19.4h0m.8-42.7h0m.8 8h0" stroke="#ff0000" stroke-width="5.6" stroke-linecap="round" fill="none"/><circle cx="228.6" cy="223.79" r="4.0" fill="#00bb00"/><clipPath id="ctr2"><rect x="325.8" y="195.34" width="109.2" height="56.9"/></clipPath><g clip-path="url(#ctr2)"><path d="M327.83 250.74L328.89 250.58L330.49 196.84L331.55 199.85L332.61 203.02L334.2 205.88L335.8 204.61L433.5 204.61" stroke="#0072bd" stroke-width="2.4" fill="none" stroke-linejoin="round" stroke-linecap="butt"/></g><path d="M327.3 250.74v-1.0M327.3 196.84v1.0M353.85 250.74v-1.0M353.85 196.84v1.0M380.4 250.74v-1.0M380.4 196.84v1.0M406.95 250.74v-1.0M406.95 196.84v1.0M433.5 250.74v-1.0M433.5 196.84v1.0M327.3 236.31h1.0M433.5 236.31h-1.0M327.3 220.46h1.0M433.5 220.46h-1.0M327.3 204.61h1.0M433.5 204.61h-1.0" stroke="#262626" stroke-width="0.6" fill="none"/><rect x="327.3" y="196.84" width="106.2" height="53.9" fill="none" stroke="#262626" stroke-width="0.7"/><text x="327.3" y="260.54" font-size="7.6" text-anchor="middle" fill="#262626">0</text><text x="353.85" y="260.54" font-size="7.6" text-anchor="middle" fill="#262626">50</text><text x="380.4" y="260.54" font-size="7.6" text-anchor="middle" fill="#262626">100</text><text x="406.95" y="260.54" font-size="7.6" text-anchor="middle" fill="#262626">150</text><text x="433.5" y="260.54" font-size="7.6" text-anchor="middle" fill="#262626">200</text><text x="325.8" y="239.32" font-size="7.6" text-anchor="end" fill="#262626">-20</text><text x="325.8" y="223.47" font-size="7.6" text-anchor="end" fill="#262626">-10</text><text x="325.8" y="207.62" font-size="7.6" text-anchor="end" fill="#262626">0</text><text transform="translate(380.4 195.64) scale(1 1.12)" font-size="8.55" text-anchor="middle" font-weight="bold" fill="#000">Trajectory curve</text><clipPath id="caf2"><rect x="477.8" y="195.34" width="108.4" height="56.9"/></clipPath><g clip-path="url(#caf2)"><path d="M479.3 203.13L487.37 213.01L493.09 221.09L497.53 228.28L501.15 234.57L506.88 242.66L511.32 246.7L514.94 248.94L519.38 250.38L523.01 250.7L584.7 250.74" stroke="#0072bd" stroke-width="2.4" fill="none" stroke-linejoin="round" stroke-linecap="butt"/></g><path d="M479.3 250.74v-1.0M479.3 196.84v1.0M525.11 250.74v-1.0M525.11 196.84v1.0M584.7 250.74v-1.0M584.7 196.84v1.0M479.3 250.74h1.0M584.7 250.74h-1.0M479.3 232.77h1.0M584.7 232.77h-1.0M479.3 214.81h1.0M584.7 214.81h-1.0M479.3 196.84h1.0M584.7 196.84h-1.0" stroke="#262626" stroke-width="0.6" fill="none"/><rect x="479.3" y="196.84" width="105.4" height="53.9" fill="none" stroke="#262626" stroke-width="0.7"/><text x="479.3" y="260.54" font-size="7.6" text-anchor="middle" fill="#262626">1</text><text x="525.11" y="260.54" font-size="7.6" text-anchor="middle" fill="#262626">10</text><text x="584.7" y="260.54" font-size="7.6" text-anchor="middle" fill="#262626">200</text><text x="477.8" y="253.75" font-size="7.6" text-anchor="end" fill="#262626">0</text><text x="477.8" y="235.78" font-size="7.6" text-anchor="end" fill="#262626">2000</text><text x="477.8" y="217.81" font-size="7.6" text-anchor="end" fill="#262626">4000</text><text x="477.8" y="199.85" font-size="7.6" text-anchor="end" fill="#262626">6000</text><text transform="translate(532 195.64) scale(1 1.12)" font-size="8.55" text-anchor="middle" font-weight="bold" fill="#000">Average fitness</text><clipPath id="ccv2"><rect x="629.8" y="195.34" width="108.4" height="56.9"/></clipPath><g clip-path="url(#ccv2)"><path d="M631.3 206.36L645.09 209.87L653.15 209.87L658.88 250.56L736.7 250.74" stroke="#0072bd" stroke-width="2.4" fill="none" stroke-linejoin="round" stroke-linecap="butt"/></g><path d="M631.3 250.74v-1.0M631.3 196.84v1.0M677.11 250.74v-1.0M677.11 196.84v1.0M736.7 250.74v-1.0M736.7 196.84v1.0M631.3 250.74h1.0M736.7 250.74h-1.0M631.3 232.77h1.0M736.7 232.77h-1.0M631.3 214.81h1.0M736.7 214.81h-1.0M631.3 196.84h1.0M736.7 196.84h-1.0" stroke="#262626" stroke-width="0.6" fill="none"/><rect x="631.3" y="196.84" width="105.4" height="53.9" fill="none" stroke="#262626" stroke-width="0.7"/><text x="631.3" y="260.54" font-size="7.6" text-anchor="middle" fill="#262626">1</text><text x="677.11" y="260.54" font-size="7.6" text-anchor="middle" fill="#262626">10</text><text x="736.7" y="260.54" font-size="7.6" text-anchor="middle" fill="#262626">200</text><text x="629.8" y="253.75" font-size="7.6" text-anchor="end" fill="#262626">0</text><text x="629.8" y="235.78" font-size="7.6" text-anchor="end" fill="#262626">20</text><text x="629.8" y="217.81" font-size="7.6" text-anchor="end" fill="#262626">40</text><text x="629.8" y="199.85" font-size="7.6" text-anchor="end" fill="#262626">60</text><text transform="translate(684 195.64) scale(1 1.12)" font-size="8.55" text-anchor="middle" font-weight="bold" fill="#000">Convergence curve</text><text transform="translate(78.4 284.71) scale(1 1.13)" font-size="14.3" text-anchor="middle" font-weight="bold" fill="#000">F4</text><path d="M23.7 297.91L83.6 287.81L130 301.31M83.6 317.51L83.6 287.81M100.05 336.06L53.65 322.56L53.65 292.86M46.9 334.36L106.8 324.26L106.8 294.56M23.7 312.76L83.6 302.66L130 316.16" stroke="#dcdcdc" stroke-width="0.5" fill="none"/><path d="M78 329.6l-2.6 0 .3-.6 2.6 .1-.3 .5" stroke="#4433cc" stroke-width="0.5" fill="none"/><path d="M76.2 330.5l-4.7-1.4 6-1 4.7 1.4-6 1" stroke="#4743e7" stroke-width="0.5" fill="none"/><path d="M77.3 330.8l-2.6-.1-4.7-1.3 .4-.6 6-1 2.6 .1 4.7 1.3-.4 .6-6 1" stroke="#4855f6" stroke-width="0.5" fill="none"/><path d="M75.5 331.7l-9.3-2.7 3-.5 9-1.5 9.3 2.7-12 2" stroke="#4367fd" stroke-width="0.5" fill="none"/><path d="M76.7 332l-2.7-.1-9.3-2.7 .4-.6 11.9-2 2.7 .1 9.3 2.7-.4 .6-11.9 2" stroke="#347afd" stroke-width="0.5" fill="none"/><path d="M74.8 332.8l-13.9-4 12-2 6-1 13.9 4-18 3" stroke="#2d8cf3" stroke-width="0.5" fill="none"/><path d="M76 333.2l-2.7-.1-13.9-4 .3-.6 18-3.1 2.7 .1 13.9 4.1-.3 .6-18 3" stroke="#259ce7" stroke-width="0.5" fill="none"/><path d="M74.1 334l-18.5-5.4 3-.5 21-3.5 18.5 5.4-24 4" stroke="#1caadf" stroke-width="0.5" fill="none"/><path d="M75.3 334.4l-2.6-.1-16.3-4.7-2.3-.7 .3-.6 24-4 2.6 0 18.6 5.4-.3 .6-24 4.1" stroke="#04b6ce" stroke-width="0.5" fill="none"/><path d="M73.5 335.2l-23.2-6.7 6-1.1 23.9-4 23.2 6.8-29.9 5" stroke="#12beb9" stroke-width="0.5" fill="none"/><path d="M74.6 335.5l-2.6 0-7-2.1-16.2-4.7 .3-.6 30-5 2.6 .1 23.2 6.7-.3 .6-30 5" stroke="#30c5a2" stroke-width="0.5" fill="none"/><path d="M72.8 336.4l-27.8-8.1 8.9-1.5 27-4.6 27.8 8.1-35.9 6.1" stroke="#48cb86" stroke-width="0.5" fill="none"/><path d="M74 336.7l-2.7-.1-9.3-2.7-18.5-5.4 .3-.5 35.9-6.1 2.7 .1 27.8 8.1-.3 .6-35.9 6" stroke="#71cd64" stroke-width="0.5" fill="none"/><path d="M72.1 337.6l-32.5-9.5 12-2 30-5.1 32.5 9.5-42 7.1" stroke="#9fc942" stroke-width="0.5" fill="none"/><path d="M73.3 337.9l-2.7-.1-11.6-3.4-20.9-6 .4-.6 41.9-7.1 2.7 .1 32.5 9.4-.4 .6-41.9 7.1" stroke="#c8c129" stroke-width="0.5" fill="none"/><path d="M71.4 338.8l-37.1-10.8 15-2.6 32.9-5.5 37.2 10.8-48 8.1" stroke="#eaba30" stroke-width="0.5" fill="none"/><path d="M72.6 339.1l-2.6-.1-37.2-10.8 .4-.6 47.9-8.1 2.6 .1 37.2 10.8-.4 .6-47.9 8.1" stroke="#fec13a" stroke-width="0.5" fill="none"/><path d="M70.8 339.9l-41.8-12.1 18-3 35.9-6.1 41.8 12.1-53.9 9.1" stroke="#fad42e" stroke-width="0.5" fill="none"/><path d="M71.9 340.3l-2.6-.1-39.5-11.5-2.3-.7 .4-.6 53.9-9 2.6 0 41.8 12.2-.4 .6-53.9 9.1" stroke="#f5e825" stroke-width="0.5" fill="none"/><g class="sf"><linearGradient id="pf3_0" href="#pb" gradientUnits="userSpaceOnUse" x1="76.85" y1="329.31" x2="70.23" y2="290.06"/><path fill="url(#pf3_0)" stroke="url(#pf3_0)" d="M76.8 329.3l6.8-41.5-59.9 10.1z"/><linearGradient id="pf3_1" href="#pb" gradientUnits="userSpaceOnUse" x1="76.85" y1="329.31" x2="88.51" y2="289.24"/><path fill="url(#pf3_1)" stroke="url(#pf3_1)" d="M76.8 329.3l53.2-28-46.4-13.5z"/><linearGradient id="pf3_2" href="#pb" gradientUnits="userSpaceOnUse" x1="76.85" y1="329.31" x2="81.12" y2="314.62"/><path fill="url(#pf3_2)" stroke="url(#pf3_2)" d="M76.8 329.3l-53.1-31.4 46.4 13.5z"/><linearGradient id="pf3_3" href="#pb" gradientUnits="userSpaceOnUse" x1="76.85" y1="329.31" x2="73.73" y2="310.80"/><path fill="url(#pf3_3)" stroke="url(#pf3_3)" d="M76.8 329.3l-6.7-17.9 59.9-10.1z"/></g><path d="M23.7 297.91L23.7 327.61L70.1 341.11L130 331.01M23.70 327.61l2.17 -0.37M23.70 312.76l2.17 -0.37M23.70 297.91l2.17 -0.37M70.10 341.11l2.17 -0.37M46.90 334.36l2.17 -0.37M23.70 327.61l2.17 -0.37M70.10 341.11l-2.11 -0.61M100.05 336.06l-2.11 -0.61M130.00 331.01l-2.11 -0.61" stroke="#3a3a3a" stroke-width="0.95" fill="none"/><text x="21.5" y="330.12" font-size="7.6" text-anchor="end" fill="#262626">0</text><text x="21.5" y="315.27" font-size="7.6" text-anchor="end" fill="#262626">50</text><text x="21.5" y="300.42" font-size="7.6" text-anchor="end" fill="#262626">100</text><text x="67.6" y="349.62" font-size="7.6" text-anchor="end" fill="#262626">-100</text><text x="44.4" y="342.87" font-size="7.6" text-anchor="end" fill="#262626">0</text><text x="21.2" y="336.12" font-size="7.6" text-anchor="end" fill="#262626">100</text><text x="72.6" y="349.62" font-size="7.6" text-anchor="start" fill="#262626">-100</text><text x="102.55" y="344.57" font-size="7.6" text-anchor="start" fill="#262626">0</text><text x="132.5" y="339.52" font-size="7.6" text-anchor="start" fill="#262626">100</text><clipPath id="csh3"><rect x="175.5" y="287.51" width="106.2" height="53.9"/></clipPath><g clip-path="url(#csh3)"><path d="M223.3 317.2l0-5.4 10.6 0 0 5.4-10.6 0" stroke="#3e26a8" stroke-width="1.3" fill="none"/><path d="M218 319.8l0-10.7 21.2 0 0 10.7-21.2 0" stroke="#4747eb" stroke-width="1.3" fill="none"/><path d="M212.7 322.5l0-16.1 31.8 0 0 16.1-31.8 0" stroke="#3e6fff" stroke-width="1.3" fill="none"/><path d="M207.4 325.2l0-21.5 42.4 0 0 21.5-42.4 0" stroke="#2797eb" stroke-width="1.3" fill="none"/><path d="M202 327.9l0-26.9 53.2 0 0 26.9-53.2 0" stroke="#08b5d0" stroke-width="1.3" fill="none"/><path d="M196.7 330.6l0-32.3 63.8 0 0 32.3-63.8 0" stroke="#31c69f" stroke-width="1.3" fill="none"/><path d="M191.4 333.3l0-37.7 74.4 0 0 37.7-74.4 0" stroke="#81cc59" stroke-width="1.3" fill="none"/><path d="M186.1 336l0-43.1 85 0 0 43.1-85 0" stroke="#dcbd29" stroke-width="1.3" fill="none"/><path d="M180.8 338.7l0-48.5 95.6 0 0 48.5-95.6 0" stroke="#fccf30" stroke-width="1.3" fill="none"/></g><path d="M175.5 341.41v-1.0M175.5 287.51v1.0M202.05 341.41v-1.0M202.05 287.51v1.0M228.6 341.41v-1.0M228.6 287.51v1.0M255.15 341.41v-1.0M255.15 287.51v1.0M281.7 341.41v-1.0M281.7 287.51v1.0M175.5 341.41h1.0M281.7 341.41h-1.0M175.5 314.46h1.0M281.7 314.46h-1.0M175.5 287.51h1.0M281.7 287.51h-1.0" stroke="#262626" stroke-width="0.6" fill="none"/><rect x="175.5" y="287.51" width="106.2" height="53.9" fill="none" stroke="#262626" stroke-width="0.7"/><text x="175.5" y="351.21" font-size="7.6" text-anchor="middle" fill="#262626">-100</text><text x="202.05" y="351.21" font-size="7.6" text-anchor="middle" fill="#262626">-50</text><text x="228.6" y="351.21" font-size="7.6" text-anchor="middle" fill="#262626">0</text><text x="255.15" y="351.21" font-size="7.6" text-anchor="middle" fill="#262626">50</text><text x="281.7" y="351.21" font-size="7.6" text-anchor="middle" fill="#262626">100</text><text x="174" y="344.42" font-size="7.6" text-anchor="end" fill="#262626">-100</text><text x="174" y="317.47" font-size="7.6" text-anchor="end" fill="#262626">0</text><text x="174" y="290.52" font-size="7.6" text-anchor="end" fill="#262626">100</text><text transform="translate(228.6 286.31) scale(1 1.12)" font-size="8.55" text-anchor="middle" font-weight="bold" fill="#000">Search history</text><path d="M176.1 291.7h0m0 13.7h0m3.6 8.8h0m0 25h0m2.4-50.8h0m4 17.8h0m0 28.2h0m1.6-36.3h0m0 32.2h0m1.6-14.5h0m1.6 4.9h0m1.7-18.6h0m0 22.6h0m0 8.8h0m4-2.4h0m2.4-35.4h0m.8-8.1h0m2.8 21.9h0m.5 1.2h0m.5 11.6h0m4.1-7.5h0m.3-1.3h0m.2-1.6h0m.5-16.2h0m.4 14.3h0m.3 .4h0m.1-2.8h0m.2 1.5h0m.6-11h0m0 42.7h0m.2-25h0m.3-6.9h0m.1 7.6h0m.3 .8h0m.2-3.1h0m.3-7.2h0m.3 2.9h0m.4 5.5h0m.1-5.2h0m.3 3.8h0m.4-6h0m.4 .2h0m0 13h0m.5-3h0m.1-11h0m.1 2.6h0m.1 6.4h0m.1 7.1h0m.5-13h0m0 4.3h0m.1-24.5h0m.1 27h0m.2-.7h0m0 6.1h0m.1-8h0m.6-6.3h0m.1 5.9h0m0 4.5h0m.1-4.9h0m0 3.6h0m.1-8.1h0m.7-1.7h0m.2 6.2h0m.2 4.9h0m.1-15.6h0m.1 11h0m0 .8h0m.1 6.3h0m.1-6.4h0m.1-6h0m.1 17.7h0m.2-31.5h0m0 33.8h0m.2-22.2h0m.2 2.7h0m.2-5.1h0m.3 14.4h0m.1-5.9h0m0 7.5h0m.2-16.1h0m.1 10.8h0m.2 1.8h0m.1-22.5h0m0 20.3h0m0 5.4h0m.2-6.2h0m0 2.2h0m.3-9.4h0m0 4h0m0 13.4h0m.1-6.3h0m.1-13.7h0m.5 18.3h0m.1-9.6h0m.2 11.5h0m.1-16.6h0m.1 3.8h0m0 7.8h0m0 1h0m.1 4.6h0m.1-17.8h0m0 10.9h0m.2-9.7h0m.1 14.2h0m.6-18.7h0m0 12.1h0m.2 5.6h0m.2-7.9h0m.1-5.3h0m0 25.5h0m.1-28.2h0m.1 7.8h0m.2 4.7h0m.2 4h0m.2-1.6h0m.1-16.5h0m.3 5.1h0m.1 8.3h0m0 4h0m.1-6.6h0m.2 .5h0m.8 21h0m.4-21.9h0m.4-7.6h0m0 6.4h0m.2 10.6h0m.2-22.8h0m1.3 5.9h0m0 22.4h0m.1-14.3h0m.4-3.7h0m0 5.6h0m.2-.2h0m.2-10.6h0m.1 3.8h0m0 7.8h0m.1-8h0m.4-1.4h0m0 10.7h0m.2-10.8h0m0 5.6h0m.3-11.5h0m0 18.1h0m.1-12.7h0m.3 2.9h0m0 10.2h0m.3-2.1h0m.1-18h0m.2 12.2h0m.2-6.8h0m.2 16.6h0m.1-.3h0m.4-9.1h0m.4-2.9h0m.1-1.4h0m.1 13.3h0m.1-7.6h0m1.1-3.6h0m.2 7.3h0m.3-15.8h0m0 2h0m0 11.3h0m0 1.3h0m.1-5.4h0m.1-3h0m0 10.7h0m.5-5h0m.3 2.4h0m.4-10.1h0m.3-2.2h0m0 35.7h0m.1-25.5h0m.3-2.6h0m0 14.1h0m.4-36.8h0m0 28.4h0m.1-13.1h0m0 8.3h0m.2-1.5h0m.1 6.5h0m.2-4.6h0m.3-15.1h0m0 9.4h0m.1 13.3h0m.5-13.2h0m.2 1.1h0m.4-3.2h0m.1 6.4h0m0 3.3h0m.2-3.9h0m.2-1.1h0m.1-5.6h0m.3 16.6h0m.6-4.7h0m.1-9.2h0m.7 5.6h0m0 2.8h0m.5 .9h0m.1 4.4h0m.7-13.4h0m0 25.9h0m.4-21.2h0m0 2.9h0m.1-9.2h0m0 20.4h0m.2-17.1h0m0 4h0m.1-1.2h0m.1 1.4h0m.4-12.7h0m.3 29.5h0m.1-18.2h0m1.5 2.5h0m.6 2.2h0m0 0h0m.5-13.9h0m0 11h0m.3-12.4h0m1.3 17.9h0m3.9-6.3h0m1.5-8.5h0m0 24.1h0m2.8-17.4h0m.4-17.2h0m.8 46.7h0m.8-36.2h0m1.6-15.4h0m0 28.2h0m0 5.7h0m1.6 17.7h0m1.6-47.5h0m1.6 47.5h0m1.6-44.3h0m0 9.7h0m0 18.5h0m.9 5.6h0m1.6-41.9h0m.8 14.5h0m1.6 17.8h0m.8 15.3h0m.8-38.7h0m0 12.1h0m0 7.2h0m1.6-25.7h0m0 45.9h0m1.6-40.3h0m0 17.7h0m3.2 14.5h0m1.6-25.8h0" stroke="#ff0000" stroke-width="5.6" stroke-linecap="round" fill="none"/><circle cx="228.6" cy="314.46" r="4.0" fill="#00bb00"/><clipPath id="ctr3"><rect x="325.8" y="286.01" width="109.2" height="56.9"/></clipPath><g clip-path="url(#ctr3)"><path d="M327.83 293.26L328.36 293.26L328.63 341.41L329.42 341.41L330.49 323.44L433.5 323.44" stroke="#0072bd" stroke-width="2.4" fill="none" stroke-linejoin="round" stroke-linecap="butt"/></g><path d="M327.3 341.41v-1.0M327.3 287.51v1.0M353.85 341.41v-1.0M353.85 287.51v1.0M380.4 341.41v-1.0M380.4 287.51v1.0M406.95 341.41v-1.0M406.95 287.51v1.0M433.5 341.41v-1.0M433.5 287.51v1.0M327.3 341.41h1.0M433.5 341.41h-1.0M327.3 323.44h1.0M433.5 323.44h-1.0M327.3 305.48h1.0M433.5 305.48h-1.0M327.3 287.51h1.0M433.5 287.51h-1.0" stroke="#262626" stroke-width="0.6" fill="none"/><rect x="327.3" y="287.51" width="106.2" height="53.9" fill="none" stroke="#262626" stroke-width="0.7"/><text x="327.3" y="351.21" font-size="7.6" text-anchor="middle" fill="#262626">0</text><text x="353.85" y="351.21" font-size="7.6" text-anchor="middle" fill="#262626">50</text><text x="380.4" y="351.21" font-size="7.6" text-anchor="middle" fill="#262626">100</text><text x="406.95" y="351.21" font-size="7.6" text-anchor="middle" fill="#262626">150</text><text x="433.5" y="351.21" font-size="7.6" text-anchor="middle" fill="#262626">200</text><text x="325.8" y="344.42" font-size="7.6" text-anchor="end" fill="#262626">-50</text><text x="325.8" y="326.45" font-size="7.6" text-anchor="end" fill="#262626">0</text><text x="325.8" y="308.48" font-size="7.6" text-anchor="end" fill="#262626">50</text><text x="325.8" y="290.52" font-size="7.6" text-anchor="end" fill="#262626">100</text><text transform="translate(380.4 286.31) scale(1 1.12)" font-size="8.55" text-anchor="middle" font-weight="bold" fill="#000">Trajectory curve</text><clipPath id="caf3"><rect x="477.8" y="286.01" width="108.4" height="56.9"/></clipPath><g clip-path="url(#caf3)"><path d="M479.3 297.84L493.09 310.42L501.15 319.13L506.88 327.93L515.91 335.75L521.87 339.7L529.86 341.23L538.89 341.41L584.7 341.41" stroke="#0072bd" stroke-width="2.4" fill="none" stroke-linejoin="round" stroke-linecap="butt"/></g><path d="M479.3 341.41v-1.0M479.3 287.51v1.0M525.11 341.41v-1.0M525.11 287.51v1.0M584.7 341.41v-1.0M584.7 287.51v1.0M479.3 341.41h1.0M584.7 341.41h-1.0M479.3 323.44h1.0M584.7 323.44h-1.0M479.3 305.48h1.0M584.7 305.48h-1.0M479.3 287.51h1.0M584.7 287.51h-1.0" stroke="#262626" stroke-width="0.6" fill="none"/><rect x="479.3" y="287.51" width="105.4" height="53.9" fill="none" stroke="#262626" stroke-width="0.7"/><text x="479.3" y="351.21" font-size="7.6" text-anchor="middle" fill="#262626">1</text><text x="525.11" y="351.21" font-size="7.6" text-anchor="middle" fill="#262626">10</text><text x="584.7" y="351.21" font-size="7.6" text-anchor="middle" fill="#262626">200</text><text x="477.8" y="344.42" font-size="7.6" text-anchor="end" fill="#262626">0</text><text x="477.8" y="326.45" font-size="7.6" text-anchor="end" fill="#262626">20</text><text x="477.8" y="308.48" font-size="7.6" text-anchor="end" fill="#262626">40</text><text x="477.8" y="290.52" font-size="7.6" text-anchor="end" fill="#262626">60</text><text transform="translate(532 286.31) scale(1 1.12)" font-size="8.55" text-anchor="middle" font-weight="bold" fill="#000">Average fitness</text><clipPath id="ccv3"><rect x="629.8" y="286.01" width="108.4" height="56.9"/></clipPath><g clip-path="url(#ccv3)"><path d="M631.3 287.51L645.09 334.93L653.15 336.32L663.32 338.63L668.54 339.1L673.87 341.18L736.7 341.41" stroke="#0072bd" stroke-width="2.4" fill="none" stroke-linejoin="round" stroke-linecap="butt"/></g><path d="M631.3 341.41v-1.0M631.3 287.51v1.0M677.11 341.41v-1.0M677.11 287.51v1.0M736.7 341.41v-1.0M736.7 287.51v1.0M631.3 341.41h1.0M736.7 341.41h-1.0M631.3 318.28h1.0M736.7 318.28h-1.0M631.3 295.14h1.0M736.7 295.14h-1.0" stroke="#262626" stroke-width="0.6" fill="none"/><rect x="631.3" y="287.51" width="105.4" height="53.9" fill="none" stroke="#262626" stroke-width="0.7"/><text x="631.3" y="351.21" font-size="7.6" text-anchor="middle" fill="#262626">1</text><text x="677.11" y="351.21" font-size="7.6" text-anchor="middle" fill="#262626">10</text><text x="736.7" y="351.21" font-size="7.6" text-anchor="middle" fill="#262626">200</text><text x="629.8" y="344.42" font-size="7.6" text-anchor="end" fill="#262626">0</text><text x="629.8" y="321.28" font-size="7.6" text-anchor="end" fill="#262626">10</text><text x="629.8" y="298.15" font-size="7.6" text-anchor="end" fill="#262626">20</text><text transform="translate(684 286.31) scale(1 1.12)" font-size="8.55" text-anchor="middle" font-weight="bold" fill="#000">Convergence curve</text><text transform="translate(78.4 375.38) scale(1 1.13)" font-size="14.3" text-anchor="middle" font-weight="bold" fill="#000">F5</text><path d="M23.7 388.58L83.6 378.48L130 391.98M83.6 408.18L83.6 378.48M80.08 430.1L33.68 416.6L33.68 386.9M100.05 426.73L53.65 413.23L53.65 383.53M120.02 423.36L73.62 409.86L73.62 380.16M62.37 429.53L122.27 419.43L122.27 389.73M46.9 425.03L106.8 414.93L106.8 385.23M31.43 420.53L91.33 410.43L91.33 380.73M23.7 401.11L83.6 391.01L130 404.51" stroke="#dcdcdc" stroke-width="0.5" fill="none"/><path d="M121.1 419.1l-61.2 9.7M33.9 421.2l58.6-10.4" stroke="#4849ed" stroke-width="0.9" fill="none"/><path d="M123.7 419.8l-61 9.8M31.1 420.4l58.8-10.4" stroke="#3b73ff" stroke-width="0.9" fill="none"/><path d="M125.4 420.3l-60.9 9.8M29.3 419.9l58.9-10.4" stroke="#259be8" stroke-width="0.9" fill="none"/><path d="M126.7 420.7l-60.9 9.8M28 419.5l58.9-10.4" stroke="#01b8c9" stroke-width="0.9" fill="none"/><path d="M127.8 421l-60.8 9.9M26.8 419.2l59-10.4" stroke="#3ac993" stroke-width="0.9" fill="none"/><path d="M128.7 421.3l-60.7 9.9M25.8 418.9l59.1-10.3" stroke="#99c946" stroke-width="0.9" fill="none"/><path d="M129.5 421.5l-60.7 9.9M25 418.6l59.1-10.3" stroke="#efba35" stroke-width="0.9" fill="none"/><path d="M105.6 425.8l-36 5.8M24.2 418.4l35-6.1" stroke="#f6de29" stroke-width="0.9" fill="none"/><g class="sf"><linearGradient id="g4_29" href="#pb" gradientUnits="userSpaceOnUse" x1="24.47" y1="418.50" x2="19.60" y2="389.63"/><path fill="url(#g4_29)" stroke="url(#g4_29)" d="M25.2 396l59.9-6.9-1.5-6.9-59.9 6.4z"/><linearGradient id="g4_28" href="#pb" gradientUnits="userSpaceOnUse" x1="26.02" y1="418.95" x2="21.15" y2="390.08"/><path fill="url(#g4_28)" stroke="url(#g4_28)" d="M26.8 402.1l59.9-7.4-1.6-5.6-59.9 6.9z"/><linearGradient id="g4_27" href="#pb" gradientUnits="userSpaceOnUse" x1="27.57" y1="419.40" x2="22.70" y2="390.53"/><path fill="url(#g4_27)" stroke="url(#g4_27)" d="M28.3 407l59.9-7.7-1.5-4.6-59.9 7.4z"/><linearGradient id="g4_26" href="#pb" gradientUnits="userSpaceOnUse" x1="29.11" y1="419.85" x2="24.24" y2="390.98"/><path fill="url(#g4_26)" stroke="url(#g4_26)" d="M29.9 411l59.9-8.1-1.6-3.6-59.9 7.7z"/><linearGradient id="g4_25" href="#pb" gradientUnits="userSpaceOnUse" x1="30.66" y1="420.30" x2="25.79" y2="391.43"/><path fill="url(#g4_25)" stroke="url(#g4_25)" d="M31.4 414.2l59.9-8.5-1.5-2.8-59.9 8.1z"/><linearGradient id="g4_24" href="#pb" gradientUnits="userSpaceOnUse" x1="32.21" y1="420.75" x2="27.34" y2="391.88"/><path fill="url(#g4_24)" stroke="url(#g4_24)" d="M33 416.7l59.9-8.8-1.6-2.2-59.9 8.5z"/><linearGradient id="g4_23" href="#pb" gradientUnits="userSpaceOnUse" x1="33.75" y1="421.20" x2="28.88" y2="392.33"/><path fill="url(#g4_23)" stroke="url(#g4_23)" d="M34.5 418.6l59.9-9-1.5-1.7-59.9 8.8z"/><linearGradient id="g4_22" href="#pb" gradientUnits="userSpaceOnUse" x1="35.30" y1="421.65" x2="30.43" y2="392.78"/><path fill="url(#g4_22)" stroke="url(#g4_22)" d="M36.1 420.1l59.9-9.3-1.6-1.2-59.9 9z"/><linearGradient id="g4_21" href="#pb" gradientUnits="userSpaceOnUse" x1="36.85" y1="422.10" x2="31.98" y2="393.23"/><path fill="url(#g4_21)" stroke="url(#g4_21)" d="M37.6 421.3l59.9-9.5-1.5-1-59.9 9.3z"/><linearGradient id="g4_20" href="#pb" gradientUnits="userSpaceOnUse" x1="38.39" y1="422.55" x2="33.52" y2="393.68"/><path fill="url(#g4_20)" stroke="url(#g4_20)" d="M39.2 422.2l59.9-9.7-1.6-.7-59.9 9.5z"/><linearGradient id="g4_19" href="#pb" gradientUnits="userSpaceOnUse" x1="39.94" y1="423.00" x2="35.07" y2="394.13"/><path fill="url(#g4_19)" stroke="url(#g4_19)" d="M40.7 422.9l59.9-9.8-1.5-.6-59.9 9.7z"/><linearGradient id="g4_18" href="#pb" gradientUnits="userSpaceOnUse" x1="41.49" y1="423.45" x2="36.62" y2="394.58"/><path fill="url(#g4_18)" stroke="url(#g4_18)" d="M42.3 423.5l59.9-9.9-1.6-.5-59.9 9.8z"/><linearGradient id="g4_17" href="#pb" gradientUnits="userSpaceOnUse" x1="43.03" y1="423.90" x2="38.16" y2="395.03"/><path fill="url(#g4_17)" stroke="url(#g4_17)" d="M43.8 424.1l59.9-10.1-1.5-.4-59.9 9.9z"/><linearGradient id="g4_16" href="#pb" gradientUnits="userSpaceOnUse" x1="44.58" y1="424.35" x2="39.71" y2="395.48"/><path fill="url(#g4_16)" stroke="url(#g4_16)" d="M45.4 424.5l59.9-10-1.6-.5-59.9 10.1z"/><linearGradient id="g4_15" href="#pb" gradientUnits="userSpaceOnUse" x1="46.13" y1="424.80" x2="41.26" y2="395.93"/><path fill="url(#g4_15)" stroke="url(#g4_15)" d="M46.9 425l59.9-10.1-1.5-.4-59.9 10z"/><linearGradient id="g4_14" href="#pb" gradientUnits="userSpaceOnUse" x1="47.67" y1="425.25" x2="42.80" y2="396.38"/><path fill="url(#g4_14)" stroke="url(#g4_14)" d="M48.4 425.4l59.9-10-1.5-.5-59.9 10.1z"/><linearGradient id="g4_13" href="#pb" gradientUnits="userSpaceOnUse" x1="49.22" y1="425.70" x2="44.35" y2="396.83"/><path fill="url(#g4_13)" stroke="url(#g4_13)" d="M50 425.9l59.9-10.1-1.6-.4-59.9 10z"/><linearGradient id="g4_12" href="#pb" gradientUnits="userSpaceOnUse" x1="50.77" y1="426.15" x2="45.90" y2="397.28"/><path fill="url(#g4_12)" stroke="url(#g4_12)" d="M51.5 426.2l59.9-9.9-1.5-.5-59.9 10.1z"/><linearGradient id="g4_11" href="#pb" gradientUnits="userSpaceOnUse" x1="52.31" y1="426.60" x2="47.44" y2="397.73"/><path fill="url(#g4_11)" stroke="url(#g4_11)" d="M53.1 426.5l59.9-9.8-1.6-.4-59.9 9.9z"/><linearGradient id="g4_10" href="#pb" gradientUnits="userSpaceOnUse" x1="53.86" y1="427.05" x2="48.99" y2="398.18"/><path fill="url(#g4_10)" stroke="url(#g4_10)" d="M54.6 426.7l59.9-9.7-1.5-.3-59.9 9.8z"/><linearGradient id="g4_9" href="#pb" gradientUnits="userSpaceOnUse" x1="55.41" y1="427.50" x2="50.54" y2="398.63"/><path fill="url(#g4_9)" stroke="url(#g4_9)" d="M56.2 426.7l59.9-9.5-1.6-.2-59.9 9.7z"/><linearGradient id="g4_8" href="#pb" gradientUnits="userSpaceOnUse" x1="56.95" y1="427.95" x2="52.08" y2="399.08"/><path fill="url(#g4_8)" stroke="url(#g4_8)" d="M57.7 426.4l59.9-9.3-1.5 .1-59.9 9.5z"/><linearGradient id="g4_7" href="#pb" gradientUnits="userSpaceOnUse" x1="58.50" y1="428.40" x2="53.63" y2="399.53"/><path fill="url(#g4_7)" stroke="url(#g4_7)" d="M59.3 425.8l59.9-9-1.6 .3-59.9 9.3z"/><linearGradient id="g4_6" href="#pb" gradientUnits="userSpaceOnUse" x1="60.05" y1="428.85" x2="55.18" y2="399.98"/><path fill="url(#g4_6)" stroke="url(#g4_6)" d="M60.8 424.8l59.9-8.8-1.5 .8-59.9 9z"/><linearGradient id="g4_5" href="#pb" gradientUnits="userSpaceOnUse" x1="61.59" y1="429.30" x2="56.72" y2="400.43"/><path fill="url(#g4_5)" stroke="url(#g4_5)" d="M62.4 423.2l59.9-8.5-1.6 1.3-59.9 8.8z"/><linearGradient id="g4_4" href="#pb" gradientUnits="userSpaceOnUse" x1="63.14" y1="429.75" x2="58.27" y2="400.88"/><path fill="url(#g4_4)" stroke="url(#g4_4)" d="M63.9 420.9l59.9-8.1-1.5 1.9-59.9 8.5z"/><linearGradient id="g4_3" href="#pb" gradientUnits="userSpaceOnUse" x1="64.69" y1="430.20" x2="59.82" y2="401.33"/><path fill="url(#g4_3)" stroke="url(#g4_3)" d="M65.5 417.8l59.9-7.7-1.6 2.7-59.9 8.1z"/><linearGradient id="g4_2" href="#pb" gradientUnits="userSpaceOnUse" x1="66.23" y1="430.65" x2="61.36" y2="401.78"/><path fill="url(#g4_2)" stroke="url(#g4_2)" d="M67 413.8l59.9-7.4-1.5 3.7-59.9 7.7z"/><linearGradient id="g4_1" href="#pb" gradientUnits="userSpaceOnUse" x1="67.78" y1="431.10" x2="62.91" y2="402.23"/><path fill="url(#g4_1)" stroke="url(#g4_1)" d="M68.6 408.6l59.9-6.9-1.6 4.7-59.9 7.4z"/><linearGradient id="g4_0" href="#pb" gradientUnits="userSpaceOnUse" x1="69.33" y1="431.55" x2="64.46" y2="402.68"/><path fill="url(#g4_0)" stroke="url(#g4_0)" d="M70.1 402.1l59.9-6.4-1.5 6-59.9 6.9z"/></g><path d="M23.7 388.58L23.7 418.28L70.1 431.78L130 421.68M23.70 418.28l2.17 -0.37M23.70 401.11l2.17 -0.37M62.37 429.53l2.17 -0.37M46.90 425.03l2.17 -0.37M31.43 420.53l2.17 -0.37M80.08 430.10l-2.11 -0.61M100.05 426.73l-2.11 -0.61M120.02 423.36l-2.11 -0.61" stroke="#3a3a3a" stroke-width="0.95" fill="none"/><text x="21.5" y="420.79" font-size="7.6" text-anchor="end" fill="#262626">0</text><text x="21.5" y="403.62" font-size="7.6" text-anchor="end" fill="#262626">5</text><text x="59.87" y="438.04" font-size="7.6" text-anchor="end" fill="#262626">-20</text><text x="44.4" y="433.54" font-size="7.6" text-anchor="end" fill="#262626">0</text><text x="28.93" y="429.04" font-size="7.6" text-anchor="end" fill="#262626">20</text><text x="82.58" y="438.6" font-size="7.6" text-anchor="start" fill="#262626">-20</text><text x="102.55" y="435.24" font-size="7.6" text-anchor="start" fill="#262626">0</text><text x="122.52" y="431.87" font-size="7.6" text-anchor="start" fill="#262626">20</text><text x="5.1" y="381.48" font-size="8.2" fill="#262626">×10<tspan font-size="5.6" dy="-3.6">7</tspan></text><clipPath id="csh4"><rect x="175.5" y="378.18" width="106.2" height="53.9"/></clipPath><g clip-path="url(#csh4)"><path d="M281.7 421.3l-106.2-.3M175.5 389.2l106.2-.2" stroke="#3e26a8" stroke-width="1.3" fill="none"/><path d="M281.7 424.3l-106.2-.2M175.5 386.2l106.2-.2" stroke="#4852f4" stroke-width="1.3" fill="none"/><path d="M281.7 426.3l-106.2-.2M175.5 384.1l106.2-.1" stroke="#2e86f8" stroke-width="1.3" fill="none"/><path d="M281.7 427.9l-106.2-.2M175.5 382.6l106.2-.2" stroke="#14b0d8" stroke-width="1.3" fill="none"/><path d="M281.7 429.2l-106.2-.2M175.5 381.3l106.2-.2" stroke="#35c79b" stroke-width="1.3" fill="none"/><path d="M281.7 430.3l-106.2-.2M175.5 380.1l106.2-.1" stroke="#a4c83e" stroke-width="1.3" fill="none"/><path d="M281.7 431.3l-106.2-.2M175.5 379.1l106.2-.1" stroke="#fec03b" stroke-width="1.3" fill="none"/><path d="M228.6 432.1l-53.1-.1M175.5 378.2l53.1 0" stroke="#f8f719" stroke-width="1.3" fill="none"/></g><path d="M175.5 432.08v-1.0M175.5 378.18v1.0M202.05 432.08v-1.0M202.05 378.18v1.0M228.6 432.08v-1.0M228.6 378.18v1.0M255.15 432.08v-1.0M255.15 378.18v1.0M281.7 432.08v-1.0M281.7 378.18v1.0M175.5 432.08h1.0M281.7 432.08h-1.0M175.5 405.13h1.0M281.7 405.13h-1.0M175.5 378.18h1.0M281.7 378.18h-1.0" stroke="#262626" stroke-width="0.6" fill="none"/><rect x="175.5" y="378.18" width="106.2" height="53.9" fill="none" stroke="#262626" stroke-width="0.7"/><text x="175.5" y="441.88" font-size="7.6" text-anchor="middle" fill="#262626">-200</text><text x="202.05" y="441.88" font-size="7.6" text-anchor="middle" fill="#262626">-100</text><text x="228.6" y="441.88" font-size="7.6" text-anchor="middle" fill="#262626">0</text><text x="255.15" y="441.88" font-size="7.6" text-anchor="middle" fill="#262626">100</text><text x="281.7" y="441.88" font-size="7.6" text-anchor="middle" fill="#262626">200</text><text x="174" y="435.09" font-size="7.6" text-anchor="end" fill="#262626">-200</text><text x="174" y="408.14" font-size="7.6" text-anchor="end" fill="#262626">0</text><text x="174" y="381.19" font-size="7.6" text-anchor="end" fill="#262626">200</text><text transform="translate(228.6 376.98) scale(1 1.12)" font-size="8.55" text-anchor="middle" font-weight="bold" fill="#000">Search history</text><path d="M222.2 405.8h0m0 2.9h0m.1-1.1h0m0 1.1h0m.1-7.1h0m.1 3.1h0m0 2.5h0m.1 .7h0m.2 .1h0m.1-6.9h0m0 3.8h0m0 2.5h0m.1-1.3h0m.1-4.5h0m0 5.3h0m.1-5.2h0m0 4.5h0m0 1.4h0m.1-2.7h0m0 3h0m.2-5.6h0m.1-.7h0m.1 .7h0m.1 1.3h0m.1 2.3h0m.2-.9h0m.2-.1h0m.1-1.4h0m.5-1.1h0m0 3.5h0m.1-4.7h0m0 5.3h0m.1 .1h0m.1-5.3h0m0 5.2h0m.1 1h0m.1-1.7h0m.1-3.9h0m0 2.1h0m.1-1.9h0m0 6.6h0m.1-2.1h0m.1-4.1h0m.1 3.9h0m.1-1.2h0m0 1.4h0m0 .1h0m0 2.1h0m.1-4.4h0m.1 .8h0m.3 .4h0m.4-1.5h0m0 1.8h0m.2-.3h0m.1-3.9h0m0 .8h0m.1 3.7h0m.3-4.7h0m0 3.1h0m0 3.2h0m.1-6.3h0m0 2h0m0 2.8h0m0 2.6h0m.1-5.5h0m.1-.7h0m.1 .2h0m0 2.3h0m.1-3.6h0m0 3.1h0m0 3.9h0m.1 .2h0m.1-5.1h0m.1 2.3h0m.2-4.7h0m.2 1.4h0m0 6h0m.1-4.9h0m.2-1.8h0m.1-.6h0m0 1h0m0 4.8h0m.1-1.2h0m.1-2.1h0m0 .4h0m0 4.5h0m.1-5.2h0m.1-.3h0m0 2.3h0m0 1.7h0m0 1h0m.2-1.4h0m0 1.7h0m.2-2h0m.1-1h0m.1-.1h0m.1-1.8h0m0 3.3h0m0 .2h0m0 1.1h0m.1-4h0m0 .9h0m.1-2.5h0m.1 4.2h0m.2 .8h0m.1-4.5h0m0 5.3h0m.1-7.3h0m0 .8h0m.2-.4h0m0 .1h0m0 5.5h0m.2-5.6h0m.1 4.5h0m.3 1.2h0m0 .3h0m.3-5.5h0m0 3h0m0 2.5h0m0 1.1h0m.1-5.9h0m0 2.6h0m0 1.7h0m.1 .1h0m.1 1.9h0m.2-6.8h0m0 6.9h0m.3-4.3h0m0 2.2h0m.1-6h0m.1 .3h0m0 2h0m0 .3h0m.2-1.2h0m.4-.9h0m0 3.7h0m0 3.8h0m.1-3.2h0m.1-.8h0m0 2.5h0m0 1.4h0m.1-6.4h0m0 1.2h0m0 2.8h0m0 1.3h0m.2-1.9h0m0 1.9h0m0 1.1h0m.6-6.5h0m0 3.9h0m0 1.4h0m.1-.9h0m.1 2.1h0m.1-3.2h0m0 2.9h0m.1-3.6h0m0 .2h0m0 1.9h0m.1-5.7h0m0 .8h0m.3 5.8h0m.1-1.6h0m0 1h0m.1-.2h0m.3-2.2h0m0 1h0m.1 1.9h0m.5-4.7h0m0 4.4h0m.1-6.3h0" stroke="#ff0000" stroke-width="5.6" stroke-linecap="round" fill="none"/><circle cx="228.6" cy="405.13" r="4.0" fill="#00bb00"/><clipPath id="ctr4"><rect x="325.8" y="376.68" width="109.2" height="56.9"/></clipPath><g clip-path="url(#ctr4)"><path d="M327.83 378.18L328.36 378.18L328.63 411.35L329.95 411.35L330.49 428.39L332.61 427.93L333.67 429.32L348.54 429.32L353.85 428.86L367.12 428.39L369.78 427.93L385.71 427.93L391.02 427.47L433.5 427.47" stroke="#0072bd" stroke-width="2.4" fill="none" stroke-linejoin="round" stroke-linecap="butt"/></g><path d="M327.3 432.08v-1.0M327.3 378.18v1.0M353.85 432.08v-1.0M353.85 378.18v1.0M380.4 432.08v-1.0M380.4 378.18v1.0M406.95 432.08v-1.0M406.95 378.18v1.0M433.5 432.08v-1.0M433.5 378.18v1.0M327.3 432.08h1.0M433.5 432.08h-1.0M327.3 409.05h1.0M433.5 409.05h-1.0M327.3 386.01h1.0M433.5 386.01h-1.0" stroke="#262626" stroke-width="0.6" fill="none"/><rect x="327.3" y="378.18" width="106.2" height="53.9" fill="none" stroke="#262626" stroke-width="0.7"/><text x="327.3" y="441.88" font-size="7.6" text-anchor="middle" fill="#262626">0</text><text x="353.85" y="441.88" font-size="7.6" text-anchor="middle" fill="#262626">50</text><text x="380.4" y="441.88" font-size="7.6" text-anchor="middle" fill="#262626">100</text><text x="406.95" y="441.88" font-size="7.6" text-anchor="middle" fill="#262626">150</text><text x="433.5" y="441.88" font-size="7.6" text-anchor="middle" fill="#262626">200</text><text x="325.8" y="435.09" font-size="7.6" text-anchor="end" fill="#262626">0</text><text x="325.8" y="412.05" font-size="7.6" text-anchor="end" fill="#262626">5</text><text x="325.8" y="389.02" font-size="7.6" text-anchor="end" fill="#262626">10</text><text transform="translate(380.4 376.98) scale(1 1.12)" font-size="8.55" text-anchor="middle" font-weight="bold" fill="#000">Trajectory curve</text><clipPath id="caf4"><rect x="477.8" y="376.68" width="108.4" height="56.9"/></clipPath><g clip-path="url(#caf4)"><path d="M479.3 378.18L501.15 430.26L506.88 431.72L584.7 432.08" stroke="#0072bd" stroke-width="2.4" fill="none" stroke-linejoin="round" stroke-linecap="butt"/></g><path d="M479.3 432.08v-1.0M479.3 378.18v1.0M525.11 432.08v-1.0M525.11 378.18v1.0M584.7 432.08v-1.0M584.7 378.18v1.0M479.3 432.08h1.0M584.7 432.08h-1.0M479.3 417.51h1.0M584.7 417.51h-1.0M479.3 402.94h1.0M584.7 402.94h-1.0M479.3 388.38h1.0M584.7 388.38h-1.0" stroke="#262626" stroke-width="0.6" fill="none"/><rect x="479.3" y="378.18" width="105.4" height="53.9" fill="none" stroke="#262626" stroke-width="0.7"/><text x="479.3" y="441.88" font-size="7.6" text-anchor="middle" fill="#262626">1</text><text x="525.11" y="441.88" font-size="7.6" text-anchor="middle" fill="#262626">10</text><text x="584.7" y="441.88" font-size="7.6" text-anchor="middle" fill="#262626">200</text><text x="477.8" y="435.09" font-size="7.6" text-anchor="end" fill="#262626">0</text><text x="477.8" y="420.52" font-size="7.6" text-anchor="end" fill="#262626">2</text><text x="477.8" y="405.95" font-size="7.6" text-anchor="end" fill="#262626">4</text><text x="477.8" y="391.39" font-size="7.6" text-anchor="end" fill="#262626">6</text><text transform="translate(532 376.98) scale(1 1.12)" font-size="8.55" text-anchor="middle" font-weight="bold" fill="#000">Average fitness</text><text x="479.9" y="376.98" font-size="8.2" fill="#262626">×10<tspan font-size="5.6" dy="-3.6">6</tspan></text><clipPath id="ccv4"><rect x="629.8" y="376.68" width="108.4" height="56.9"/></clipPath><g clip-path="url(#ccv4)"><path d="M631.3 378.45L645.09 411.43L653.15 425.27L658.88 428.86L663.32 430.2L666.94 430.74L672.67 431.54L677.11 432.03L736.7 432.08" stroke="#0072bd" stroke-width="2.4" fill="none" stroke-linejoin="round" stroke-linecap="butt"/></g><path d="M631.3 432.08v-1.0M631.3 378.18v1.0M677.11 432.08v-1.0M677.11 378.18v1.0M736.7 432.08v-1.0M736.7 378.18v1.0M631.3 432.08h1.0M736.7 432.08h-1.0M631.3 405.26h1.0M736.7 405.26h-1.0M631.3 378.45h1.0M736.7 378.45h-1.0" stroke="#262626" stroke-width="0.6" fill="none"/><rect x="631.3" y="378.18" width="105.4" height="53.9" fill="none" stroke="#262626" stroke-width="0.7"/><text x="631.3" y="441.88" font-size="7.6" text-anchor="middle" fill="#262626">1</text><text x="677.11" y="441.88" font-size="7.6" text-anchor="middle" fill="#262626">10</text><text x="736.7" y="441.88" font-size="7.6" text-anchor="middle" fill="#262626">200</text><text x="629.8" y="435.09" font-size="7.6" text-anchor="end" fill="#262626">0</text><text x="629.8" y="408.27" font-size="7.6" text-anchor="end" fill="#262626">50</text><text x="629.8" y="381.46" font-size="7.6" text-anchor="end" fill="#262626">100</text><text transform="translate(684 376.98) scale(1 1.12)" font-size="8.55" text-anchor="middle" font-weight="bold" fill="#000">Convergence curve</text><text transform="translate(78.4 466.05) scale(1 1.13)" font-size="14.3" text-anchor="middle" font-weight="bold" fill="#000">F6</text><path d="M23.7 479.25L83.6 469.15L130 482.65M83.6 498.85L83.6 469.15M100.05 517.4L53.65 503.9L53.65 474.2M46.9 515.7L106.8 505.6L106.8 475.9M23.7 494.1L83.6 484L130 497.5" stroke="#dcdcdc" stroke-width="0.5" fill="none"/><path d="M84.9 514l-8.7 .4-8.7-.6-5.5-1.4-1.8-1.2-.2-.7 .6-.9 2.1-1.1 6.1-1.2 8.7-.4 8.7 .6 5.5 1.4 1.8 1.2 .2 .7-.6 .9-2.1 1.1-6.1 1.2" stroke="#4743e7" stroke-width="0.9" fill="none"/><path d="M84.2 515.7l-11.3 .2-11.2-1.2-3.8-.9-2.8-1-1.8-1.2-.4-1 .4-.9 .8-.8 2.5-1.2 3.5-.9 6.8-1 5.4-.4 8.5 0 11.2 1.2 3.8 .9 3.8 1.6 1.1 1.3-.3 1.2-1.9 1.4-3.1 1.1-3.9 .8-7.3 .8" stroke="#4367fd" stroke-width="0.9" fill="none"/><path d="M85 517l-13.2 .1-12.2-1.2-4.2-.9-4.6-1.5-2.8-1.8-.4-1.4 .4-.9 1-.9 2.6-1.3 5.2-1.4 6.7-1 8.1-.6 7.6 0 7 .3 7.9 .9 5.9 1.3 4.1 1.6 1.1 .8 .9 1.2 0 .7-.4 .9-2.2 1.6-4.7 1.6-6.2 1.1-7.6 .8" stroke="#2d8cf3" stroke-width="0.9" fill="none"/><path d="M90.6 517.6l-8.4 .5-9 0-6.9-.3-8.2-.9-6.3-1.3-4.7-1.5-3.1-1.7-.6-.7-.4-1.4 .3-.9 1.4-1.2 3.9-1.8 5.4-1.4 6.7-1 7.8-.7 9.5-.2 9.4 .4 8.2 .9 6.3 1.3 5.9 2 2.5 1.9 .4 1.1-.2 .9-1 1.2-1.6 1-3.6 1.4-6.7 1.5-7 .9" stroke="#1caadf" stroke-width="0.9" fill="none"/><path d="M100 517.4l-12.7 1.4-14.8 .2-14.9-1.2-10.7-2.1M106.8 505.6l4.3 1.6 2.1 1.3 1.5 1.9-.3 1.5-2.3 1.9-2.6 1.2-3.6 1.2-5.9 1.2M46.9 515.7l-4.3-1.6-2.1-1.3-1.3-1.3-.2-1.1 .2-.9 1.5-1.5 3.5-1.7 3.6-1.2 5.8-1.2M53.6 503.9l12.8-1.4 15.6-.2 14.1 1.2 10.7 2.1" stroke="#12beb9" stroke-width="0.9" fill="none"/><path d="M86.7 519.7l-14.5 .1-14.9-1.1M117.2 508.6l1.1 1.9-.4 1.6-2.1 1.9-2.4 1.1M36.5 512.7l-.9-1.3-.2-1 .2-.9 1.4-1.6 3.3-1.7M67 501.6l15.7-.1 13.7 1.1" stroke="#48cb86" stroke-width="0.9" fill="none"/><path d="M81.1 520.6l-11-.1-8.5-.5M121.5 509.9l.2 1-.6 1.4-2.1 1.9M32.2 511.4l-.2-1 .6-1.4 2.1-1.9M72.6 500.7l8.8 0 10.7 .6" stroke="#9fc942" stroke-width="0.9" fill="none"/><path d="M76.9 521.3l-12-.4M124.8 510.8l-.7 1.8-.9 .9M28.9 510.5l.7-1.8 .9-.9M76.8 500l12 .4" stroke="#eaba30" stroke-width="0.9" fill="none"/><path d="M73.3 521.9l-5.7-.2M127.5 511.6l-.7 1.3M26.2 509.7l.7-1.3M80.4 499.4l5.7 .2" stroke="#fad42e" stroke-width="0.9" fill="none"/><g class="sf"><linearGradient id="g5_27" href="#pb" gradientUnits="userSpaceOnUse" x1="24.53" y1="509.19" x2="19.66" y2="480.31"/><path fill="url(#g5_27)" stroke="url(#g5_27)" d="M25.4 481.8l4.2 3.2 4.3 2.6 2.2 1.1 4.2 1.7 4.3 1.1 4.3 .5 4.3-.1 2.1-.3 4.3-1 4.3-1.7 4.2-2.2 2.2-1.4 4.3-3.1 4.2-3.8 6.5-6.7-1.7-2.5-6.4 6.7-4.3 3.8-4.3 3.1-2.1 1.4-4.3 2.2-4.3 1.6-4.3 1.1-2.1 .2-4.3 .2-4.2-.5-4.3-1.1-4.3-1.7-2.1-1.1-4.3-2.6-4.3-3.2z"/><linearGradient id="g5_26" href="#pb" gradientUnits="userSpaceOnUse" x1="26.19" y1="509.67" x2="21.32" y2="480.79"/><path fill="url(#g5_26)" stroke="url(#g5_26)" d="M27 484.2l4.3 3.2 4.3 2.6 2.1 1.1 4.3 1.7 4.3 1.1 4.2 .5 2.2 0 4.3-.4 4.2-1.1 4.3-1.6 4.3-2.2 2.1-1.4 4.3-3.1 4.3-3.8 6.4-6.7-1.6-2.4-6.5 6.7-4.2 3.8-4.3 3.1-2.2 1.4-4.2 2.2-4.3 1.7-4.3 1-2.1 .3-4.3 .1-4.3-.5-4.3-1.1-4.2-1.7-2.2-1.1-4.3-2.6-4.2-3.2z"/><linearGradient id="g5_25" href="#pb" gradientUnits="userSpaceOnUse" x1="27.84" y1="510.16" x2="22.97" y2="481.28"/><path fill="url(#g5_25)" stroke="url(#g5_25)" d="M28.7 486.4l4.2 3.2 4.3 2.6 2.2 1.1 4.2 1.7 4.3 1.1 4.3 .5 4.3-.1 2.1-.3 4.3-1 4.3-1.7 4.3-2.2 2.1-1.4 4.3-3.1 4.3-3.8 6.4-6.7-1.7-2.2-6.4 6.7-4.3 3.8-4.3 3.1-2.1 1.4-4.3 2.2-4.3 1.6-4.2 1.1-4.3 .4-2.2 0-4.2-.5-4.3-1.1-4.3-1.7-2.1-1.1-4.3-2.6-4.3-3.2z"/><linearGradient id="g5_24" href="#pb" gradientUnits="userSpaceOnUse" x1="29.50" y1="510.64" x2="24.63" y2="481.76"/><path fill="url(#g5_24)" stroke="url(#g5_24)" d="M30.3 488.5l4.3 3.2 4.3 2.6 2.1 1.1 4.3 1.7 2.1 .6 4.3 .8 4.3 .2 4.3-.4 4.3-1.1 4.2-1.6 4.3-2.2 2.2-1.4 4.2-3.1 4.3-3.8 6.4-6.7-1.6-2.1-6.4 6.7-4.3 3.8-4.3 3.1-2.1 1.4-4.3 2.2-4.3 1.7-4.3 1-2.1 .3-4.3 .1-4.3-.5-4.3-1.1-4.2-1.7-2.2-1.1-4.3-2.6-4.2-3.2z"/><linearGradient id="g5_23" href="#pb" gradientUnits="userSpaceOnUse" x1="31.16" y1="511.12" x2="26.29" y2="482.24"/><path fill="url(#g5_23)" stroke="url(#g5_23)" d="M32 490.4l4.3 3.2 4.2 2.6 2.2 1.1 4.3 1.7 4.2 1.1 4.3 .5 4.3-.1 2.1-.3 4.3-1.1 4.3-1.6 4.3-2.2 2.1-1.4 4.3-3.1 4.3-3.8 6.4-6.7-1.7-1.9-6.4 6.7-4.3 3.8-4.2 3.1-2.2 1.4-4.3 2.2-4.2 1.6-4.3 1.1-4.3 .4-4.3-.2-4.3-.8-2.1-.6-4.3-1.7-2.1-1.1-4.3-2.6-4.3-3.2z"/><linearGradient id="g5_22" href="#pb" gradientUnits="userSpaceOnUse" x1="32.81" y1="511.60" x2="27.94" y2="482.72"/><path fill="url(#g5_22)" stroke="url(#g5_22)" d="M33.6 492.1l4.3 3.3 4.3 2.6 4.3 2 2.1 .8 4.3 1.1 4.3 .4 4.3-.1 2.1-.3 4.3-1 4.3-1.6 4.2-2.2 2.2-1.4 4.2-3.1 4.3-3.8 6.4-6.8-1.6-1.7-6.4 6.7-4.3 3.8-4.3 3.1-2.1 1.4-4.3 2.2-4.3 1.6-4.3 1.1-2.1 .3-4.3 .1-4.3-.5-4.2-1.1-4.3-1.7-2.2-1.1-4.2-2.6-4.3-3.2z"/><linearGradient id="g5_21" href="#pb" gradientUnits="userSpaceOnUse" x1="34.47" y1="512.08" x2="29.60" y2="483.20"/><path fill="url(#g5_21)" stroke="url(#g5_21)" d="M35.3 493.8l4.3 3.2 4.3 2.6 2.1 1.1 4.3 1.7 2.1 .6 4.3 .8 4.3 .2 4.2-.4 4.3-1.1 4.3-1.6 4.3-2.2 2.1-1.4 4.3-3.1 4.3-3.8 6.4-6.7-1.7-1.7-6.4 6.8-4.3 3.8-4.2 3.1-2.2 1.4-4.2 2.2-4.3 1.6-4.3 1-2.1 .3-4.3 .1-4.3-.4-4.3-1.1-2.1-.8-4.3-2-4.3-2.6-4.3-3.3z"/><linearGradient id="g5_20" href="#pb" gradientUnits="userSpaceOnUse" x1="36.13" y1="512.57" x2="31.26" y2="483.69"/><path fill="url(#g5_20)" stroke="url(#g5_20)" d="M37 495.2l4.2 3.2 4.3 2.7 4.3 2 2.1 .7 4.3 1.1 4.3 .5 4.3-.1 2.1-.3 4.3-1 4.3-1.6 4.2-2.3 2.2-1.3 4.3-3.2 4.2-3.7 6.5-6.8-1.7-1.4-6.4 6.7-4.3 3.8-4.3 3.1-2.1 1.4-4.3 2.2-4.3 1.6-4.3 1.1-4.2 .4-4.3-.2-4.3-.8-2.1-.6-4.3-1.7-2.1-1.1-4.3-2.6-4.3-3.2z"/><linearGradient id="g5_19" href="#pb" gradientUnits="userSpaceOnUse" x1="37.79" y1="513.05" x2="32.92" y2="484.17"/><path fill="url(#g5_19)" stroke="url(#g5_19)" d="M38.6 496.5l4.3 3.3 4.3 2.6 2.1 1.1 4.3 1.7 2.1 .6 4.3 .8 4.3 .2 4.3-.5 4.2-1 4.3-1.6 4.3-2.2 2.1-1.4 4.3-3.1 4.3-3.8 6.4-6.8-1.6-1.3-6.5 6.8-4.2 3.7-4.3 3.2-2.2 1.3-4.2 2.3-4.3 1.6-4.3 1-2.1 .3-4.3 .1-4.3-.5-4.3-1.1-2.1-.7-4.3-2-4.3-2.7-4.2-3.2z"/><linearGradient id="g5_18" href="#pb" gradientUnits="userSpaceOnUse" x1="39.44" y1="513.53" x2="34.57" y2="484.65"/><path fill="url(#g5_18)" stroke="url(#g5_18)" d="M40.3 497.7l4.2 3.2 4.3 2.6 4.3 2 2.1 .8 4.3 1.1 4.3 .5 4.3-.1 2.1-.3 4.3-1 4.3-1.6 4.3-2.3 2.1-1.3 2.1-1.5 4.3-3.5 4.3-4 4.3-4.7-1.7-1.2-6.4 6.8-4.3 3.8-4.3 3.1-2.1 1.4-4.3 2.2-4.3 1.6-4.2 1-4.3 .5-4.3-.2-4.3-.8-2.1-.6-4.3-1.7-2.1-1.1-4.3-2.6-4.3-3.3z"/><linearGradient id="g5_17" href="#pb" gradientUnits="userSpaceOnUse" x1="41.10" y1="514.01" x2="36.23" y2="485.13"/><path fill="url(#g5_17)" stroke="url(#g5_17)" d="M41.9 498.7l4.3 3.2 4.3 2.7 4.3 2 2.1 .7 2.1 .7 4.3 .8 4.3 .1 4.3-.4 4.3-1 4.2-1.6 4.3-2.3 2.2-1.3 4.2-3.2 4.3-3.7 6.4-6.8-1.6-1-4.3 4.7-4.3 4-4.3 3.5-2.1 1.5-2.1 1.3-4.3 2.3-4.3 1.6-4.3 1-2.1 .3-4.3 .1-4.3-.5-4.3-1.1-2.1-.8-4.3-2-4.3-2.6-4.2-3.2z"/><linearGradient id="g5_16" href="#pb" gradientUnits="userSpaceOnUse" x1="42.76" y1="514.49" x2="37.89" y2="485.62"/><path fill="url(#g5_16)" stroke="url(#g5_16)" d="M43.6 499.6l4.3 3.2 4.2 2.6 2.2 1.1 4.3 1.7 4.2 1.1 4.3 .5 4.3-.1 2.1-.3 4.3-1 4.3-1.7 4.3-2.2 2.1-1.4 2.1-1.5 4.3-3.4 4.3-4.1 4.3-4.6-1.7-.9-6.4 6.8-4.3 3.7-4.2 3.2-2.2 1.3-4.3 2.3-4.2 1.6-4.3 1-4.3 .4-4.3-.1-4.3-.8-2.1-.7-2.1-.7-4.3-2-4.3-2.7-4.3-3.2z"/><linearGradient id="g5_15" href="#pb" gradientUnits="userSpaceOnUse" x1="44.41" y1="514.98" x2="39.54" y2="486.10"/><path fill="url(#g5_15)" stroke="url(#g5_15)" d="M45.2 500.3l4.3 3.2 4.3 2.6 4.3 2 2.1 .8 2.2 .6 4.2 .8 4.3 .2 4.3-.4 4.3-1 4.3-1.7 4.2-2.2 2.2-1.3 4.2-3.2 4.3-3.7 6.4-6.8-1.6-.7-4.3 4.6-4.3 4.1-4.3 3.4-2.1 1.5-2.1 1.4-4.3 2.2-4.3 1.7-4.3 1-2.1 .3-4.3 .1-4.3-.5-4.2-1.1-4.3-1.7-2.2-1.1-4.2-2.6-4.3-3.2z"/><linearGradient id="g5_14" href="#pb" gradientUnits="userSpaceOnUse" x1="46.07" y1="515.46" x2="41.20" y2="486.58"/><path fill="url(#g5_14)" stroke="url(#g5_14)" d="M46.9 500.8l4.3 3.3 4.3 2.6 2.1 1.1 4.3 1.7 4.3 1.1 4.2 .5 4.3-.2 2.1-.2 4.3-1.1 4.3-1.6 4.3-2.2 2.1-1.4 2.2-1.5 4.2-3.4 4.3-4.1 4.3-4.6-1.7-.6-6.4 6.8-4.3 3.7-4.2 3.2-2.2 1.3-4.2 2.2-4.3 1.7-4.3 1-4.3 .4-4.3-.2-4.2-.8-2.2-.6-2.1-.8-4.3-2-4.3-2.6-4.3-3.2z"/><linearGradient id="g5_13" href="#pb" gradientUnits="userSpaceOnUse" x1="47.73" y1="515.94" x2="42.86" y2="487.06"/><path fill="url(#g5_13)" stroke="url(#g5_13)" d="M48.6 501.3l4.2 3.2 4.3 2.6 4.3 2 2.1 .8 2.2 .6 4.2 .8 4.3 .2 4.3-.4 4.3-1.1 4.3-1.6 4.2-2.2 2.2-1.4 4.3-3.1 4.2-3.8 6.5-6.7-1.7-.4-4.3 4.6-4.3 4.1-4.2 3.4-2.2 1.5-2.1 1.4-4.3 2.2-4.3 1.6-4.3 1.1-2.1 .2-4.3 .2-4.2-.5-4.3-1.1-4.3-1.7-2.1-1.1-4.3-2.6-4.3-3.3z"/><linearGradient id="g5_12" href="#pb" gradientUnits="userSpaceOnUse" x1="49.39" y1="516.42" x2="44.52" y2="487.54"/><path fill="url(#g5_12)" stroke="url(#g5_12)" d="M50.2 501.5l4.3 3.2 4.3 2.6 2.1 1.1 4.3 1.7 4.3 1.1 4.2 .5 4.3-.1 2.2-.3 4.2-1 4.3-1.6 4.3-2.3 2.1-1.3 2.2-1.5 4.3-3.5 4.2-4 4.3-4.7-1.6-.2-6.5 6.7-4.2 3.8-4.3 3.1-2.2 1.4-4.2 2.2-4.3 1.6-4.3 1.1-4.3 .4-4.3-.2-4.2-.8-2.2-.6-2.1-.8-4.3-2-4.3-2.6-4.2-3.2z"/><linearGradient id="g5_11" href="#pb" gradientUnits="userSpaceOnUse" x1="51.04" y1="516.91" x2="46.17" y2="488.03"/><path fill="url(#g5_11)" stroke="url(#g5_11)" d="M51.9 501.6l4.2 3.2 4.3 2.6 4.3 2.1 2.1 .7 2.2 .7 4.3 .7 4.2 .2 4.3-.4 4.3-1 4.3-1.6 4.3-2.3 2.1-1.3 4.3-3.2 4.3-3.7 6.4-6.8-1.7-.1-4.3 4.7-4.2 4-4.3 3.5-2.2 1.5-2.1 1.3-4.3 2.3-4.3 1.6-4.2 1-2.2 .3-4.3 .1-4.2-.5-4.3-1.1-4.3-1.7-2.1-1.1-4.3-2.6-4.3-3.2z"/><linearGradient id="g5_10" href="#pb" gradientUnits="userSpaceOnUse" x1="52.70" y1="517.39" x2="47.83" y2="488.51"/><path fill="url(#g5_10)" stroke="url(#g5_10)" d="M53.5 501.6l4.3 3.2 4.3 2.6 4.3 2 2.1 .8 4.3 1.1 4.3 .5 4.2-.1 2.2-.3 4.3-1.1 4.2-1.6 4.3-2.2 2.2-1.4 2.1-1.5 4.3-3.4 4.3-4.1 4.2-4.6-1.6 0-6.4 6.8-4.3 3.7-4.3 3.2-2.1 1.3-4.3 2.3-4.3 1.6-4.3 1-4.3 .4-4.2-.2-4.3-.7-2.2-.7-2.1-.7-4.3-2.1-4.3-2.6-4.2-3.2z"/><linearGradient id="g5_9" href="#pb" gradientUnits="userSpaceOnUse" x1="54.36" y1="517.87" x2="49.49" y2="488.99"/><path fill="url(#g5_9)" stroke="url(#g5_9)" d="M55.2 501.4l4.3 3.2 4.2 2.6 2.2 1.1 4.3 1.7 2.1 .6 4.3 .8 4.3 .2 4.2-.4 4.3-1.1 4.3-1.6 4.3-2.2 2.1-1.4 4.3-3.1 4.3-3.8 6.4-6.7-1.7 .2-4.2 4.6-4.3 4.1-4.3 3.4-2.1 1.5-2.2 1.4-4.3 2.2-4.2 1.6-4.3 1.1-2.2 .3-4.2 .1-4.3-.5-4.3-1.1-2.1-.8-4.3-2-4.3-2.6-4.3-3.2z"/><linearGradient id="g5_8" href="#pb" gradientUnits="userSpaceOnUse" x1="56.01" y1="518.35" x2="51.14" y2="489.47"/><path fill="url(#g5_8)" stroke="url(#g5_8)" d="M56.8 501l4.3 3.2 4.3 2.6 4.3 2.1 2.1 .7 4.3 1.1 4.3 .5 4.3-.1 2.1-.3 4.3-1 4.3-1.6 2.1-1.1 4.3-2.5 2.1-1.5 4.3-3.5 4.3-4 4.2-4.7-1.6 .4-6.4 6.7-4.3 3.8-4.3 3.1-2.1 1.4-4.3 2.2-4.3 1.6-4.3 1.1-4.2 .4-4.3-.2-4.3-.8-2.1-.6-4.3-1.7-2.2-1.1-4.2-2.6-4.3-3.2z"/><linearGradient id="g5_7" href="#pb" gradientUnits="userSpaceOnUse" x1="57.67" y1="518.83" x2="52.80" y2="489.95"/><path fill="url(#g5_7)" stroke="url(#g5_7)" d="M58.5 500.5l4.3 3.2 4.3 2.6 2.1 1.1 4.3 1.7 2.1 .6 4.3 .8 4.3 .2 4.2-.4 4.3-1 4.3-1.6 4.3-2.3 2.1-1.3 4.3-3.2 4.3-3.7 6.4-6.8-1.7 .5-4.2 4.7-4.3 4-4.3 3.5-2.1 1.5-4.3 2.5-2.1 1.1-4.3 1.6-4.3 1-2.1 .3-4.3 .1-4.3-.5-4.3-1.1-2.1-.7-4.3-2.1-4.3-2.6-4.3-3.2z"/><linearGradient id="g5_6" href="#pb" gradientUnits="userSpaceOnUse" x1="59.33" y1="519.32" x2="54.46" y2="490.44"/><path fill="url(#g5_6)" stroke="url(#g5_6)" d="M60.2 499.9l4.2 3.2 4.3 2.6 4.3 2 2.1 .8 4.3 1.1 4.3 .5 4.3-.2 2.1-.2 4.3-1.1 4.3-1.6 4.2-2.2 2.2-1.4 4.3-3.1 4.2-3.8 6.5-6.7-1.7 .6-6.4 6.8-4.3 3.7-4.3 3.2-2.1 1.3-4.3 2.3-4.3 1.6-4.3 1-4.2 .4-4.3-.2-4.3-.8-2.1-.6-4.3-1.7-2.1-1.1-4.3-2.6-4.3-3.2z"/><linearGradient id="g5_5" href="#pb" gradientUnits="userSpaceOnUse" x1="60.99" y1="519.80" x2="56.12" y2="490.92"/><path fill="url(#g5_5)" stroke="url(#g5_5)" d="M61.8 499.1l4.3 3.2 4.3 2.6 2.1 1.1 4.3 1.7 4.3 1.1 4.2 .5 2.2 0 4.3-.4 4.2-1.1 4.3-1.6 4.3-2.2 2.1-1.4 4.3-3.1 4.3-3.8 6.4-6.7-1.6 .8-6.5 6.7-4.2 3.8-4.3 3.1-2.2 1.4-4.2 2.2-4.3 1.6-4.3 1.1-2.1 .2-4.3 .2-4.3-.5-4.3-1.1-2.1-.8-4.3-2-4.3-2.6-4.2-3.2z"/><linearGradient id="g5_4" href="#pb" gradientUnits="userSpaceOnUse" x1="62.64" y1="520.28" x2="57.77" y2="491.40"/><path fill="url(#g5_4)" stroke="url(#g5_4)" d="M63.5 498.1l4.2 3.2 4.3 2.6 2.2 1.1 4.2 1.7 2.2 .6 4.3 .8 4.2 .2 4.3-.4 4.3-1 4.3-1.7 4.3-2.2 2.1-1.3 4.3-3.2 4.3-3.7 6.4-6.8-1.7 1-6.4 6.7-4.3 3.8-4.3 3.1-2.1 1.4-4.3 2.2-4.3 1.6-4.2 1.1-4.3 .4-2.2 0-4.2-.5-4.3-1.1-4.3-1.7-2.1-1.1-4.3-2.6-4.3-3.2z"/><linearGradient id="g5_3" href="#pb" gradientUnits="userSpaceOnUse" x1="64.30" y1="520.76" x2="59.43" y2="491.88"/><path fill="url(#g5_3)" stroke="url(#g5_3)" d="M65.1 497l4.3 3.2 4.3 2.6 2.1 1.1 4.3 1.7 4.3 1.1 4.3 .5 4.2-.1 2.2-.3 4.3-1 4.2-1.7 4.3-2.2 2.2-1.4 4.2-3.1 4.3-3.7 6.4-6.8-1.6 1.1-6.4 6.8-4.3 3.7-4.3 3.2-2.1 1.3-4.3 2.2-4.3 1.7-4.3 1-4.3 .4-4.2-.2-4.3-.8-2.2-.6-4.2-1.7-2.2-1.1-4.3-2.6-4.2-3.2z"/><linearGradient id="g5_2" href="#pb" gradientUnits="userSpaceOnUse" x1="65.96" y1="521.24" x2="61.09" y2="492.37"/><path fill="url(#g5_2)" stroke="url(#g5_2)" d="M66.8 495.7l4.3 3.2 4.2 2.7 2.2 1 4.3 1.7 2.1 .7 4.3 .8 4.3 .1 4.2-.4 4.3-1 4.3-1.6 4.3-2.3 2.1-1.3 4.3-3.2 4.3-3.7 6.4-6.8-1.7 1.3-6.4 6.8-4.3 3.7-4.2 3.1-2.2 1.4-4.3 2.2-4.2 1.7-4.3 1-2.2 .3-4.2 .1-4.3-.5-4.3-1.1-4.3-1.7-2.1-1.1-4.3-2.6-4.3-3.2z"/><linearGradient id="g5_1" href="#pb" gradientUnits="userSpaceOnUse" x1="67.61" y1="521.73" x2="62.74" y2="492.85"/><path fill="url(#g5_1)" stroke="url(#g5_1)" d="M68.4 494.3l4.3 3.2 4.3 2.6 2.1 1.1 4.3 1.7 4.3 1.1 4.3 .5 4.3-.1 2.1-.3 4.3-1 4.3-1.6 4.2-2.3 2.2-1.3 4.2-3.2 4.3-3.7 6.4-6.8-1.6 1.4-6.4 6.8-4.3 3.7-4.3 3.2-2.1 1.3-4.3 2.3-4.3 1.6-4.3 1-4.2 .4-4.3-.1-4.3-.8-2.1-.7-4.3-1.7-2.2-1-4.2-2.7-4.3-3.2z"/><linearGradient id="g5_0" href="#pb" gradientUnits="userSpaceOnUse" x1="69.27" y1="522.21" x2="64.40" y2="493.33"/><path fill="url(#g5_0)" stroke="url(#g5_0)" d="M70.1 492.8l4.3 3.2 4.3 2.6 2.1 1.1 4.3 1.7 4.3 1.1 4.2 .5 4.3-.2 2.1-.2 4.3-1.1 4.3-1.6 4.3-2.2 2.1-1.4 4.3-3.1 4.3-3.8 6.4-6.8-1.7 1.6-6.4 6.8-4.3 3.7-4.2 3.2-2.2 1.3-4.2 2.3-4.3 1.6-4.3 1-2.1 .3-4.3 .1-4.3-.5-4.3-1.1-4.3-1.7-2.1-1.1-4.3-2.6-4.3-3.2z"/></g><path d="M23.7 479.25L23.7 508.95L70.1 522.45L130 512.35M23.70 508.95l2.17 -0.37M23.70 494.10l2.17 -0.37M23.70 479.25l2.17 -0.37M70.10 522.45l2.17 -0.37M46.90 515.70l2.17 -0.37M23.70 508.95l2.17 -0.37M70.10 522.45l-2.11 -0.61M100.05 517.40l-2.11 -0.61M130.00 512.35l-2.11 -0.61" stroke="#3a3a3a" stroke-width="0.95" fill="none"/><text x="21.5" y="511.46" font-size="7.6" text-anchor="end" fill="#262626">0</text><text x="21.5" y="496.61" font-size="7.6" text-anchor="end" fill="#262626">1</text><text x="21.5" y="481.76" font-size="7.6" text-anchor="end" fill="#262626">2</text><text x="67.6" y="530.96" font-size="7.6" text-anchor="end" fill="#262626">-100</text><text x="44.4" y="524.21" font-size="7.6" text-anchor="end" fill="#262626">0</text><text x="21.2" y="517.46" font-size="7.6" text-anchor="end" fill="#262626">100</text><text x="72.6" y="530.96" font-size="7.6" text-anchor="start" fill="#262626">-100</text><text x="102.55" y="525.91" font-size="7.6" text-anchor="start" fill="#262626">0</text><text x="132.5" y="520.86" font-size="7.6" text-anchor="start" fill="#262626">100</text><text x="5.1" y="472.15" font-size="8.2" fill="#262626">×10<tspan font-size="5.6" dy="-3.6">4</tspan></text><clipPath id="csh5"><rect x="175.5" y="468.85" width="106.2" height="53.9"/></clipPath><g clip-path="url(#csh5)"><path d="M222 507.4l-5.3-1.2-5.4-2.1-3.9-2.9-1.9-2.7-.6-2.7 .1-1.3 .8-2.1 2.3-2.7 4.2-2.7 5.7-2 5.3-.9 5.3-.4 6.6 .5 5.3 1.2 5.4 2.1 3.9 2.9 1.9 2.7 .6 2.7-.1 1.3-.8 2.1-2.3 2.7-4.2 2.7-5.7 2-5.3 .9-6.6 .3-5.3-.4" stroke="#3e26a8" stroke-width="1.3" fill="none"/><path d="M224.6 512.7l-9.3-1.2-7.3-2.2-3.3-1.5-3.1-1.9-2.6-2-1.8-2-1.2-2.1-.7-2-.3-2.7 .4-2 .9-2 1.8-2.4 1.7-1.7 2.8-2 6.1-2.9 8-2.2 7.9-1 9.3 .1 9.3 1.5 7.6 2.5 5.8 3.4 2.2 2 1.7 2 1 2 .6 2.1 0 2.6-.6 2.1-1 2-1.7 2-4.2 3.4-6.1 2.9-8 2.2-7.9 1-8 0" stroke="#4747eb" stroke-width="1.3" fill="none"/><path d="M219.3 516.1l-5.3-.8-5.3-1.2-8-3-3.5-1.8-3.1-2.1-2.8-2.6-2.1-2.7-1.2-2.7-.5-2.7 .2-2.7 1.1-3.2 1.3-2.2 2.7-2.8 3.3-2.6 3.3-1.9 4-1.8 5-1.7 9.6-2 10.6-.7 10.6 .7 9.6 2 5 1.7 4 1.8 3.3 1.9 3.3 2.6 2.1 2.1 1.8 2.7 1.1 2.7 .3 2.7-.3 2.7-1.1 2.7-1.8 2.7-2.1 2.1-3.3 2.6-3.3 1.9-8 3.2-9.3 2.1-10.6 .9-10.6-.6" stroke="#3e6fff" stroke-width="1.3" fill="none"/><path d="M219.3 519.4l-5.5-.7-6.4-1.3-5.4-1.6-5.3-2.1-4.5-2.4-3.4-2.4-3.3-3-2.1-2.7-1.4-2.7-.8-3.4 .1-3.3 .8-3 1.8-3.1 2.2-2.7 3.1-2.7 4.2-2.7 4.7-2.3 4.6-1.7 6-1.7 5.3-1 11.9-1.2 6.7 .1 6.6 .5 6.7 1 5.3 1.3 5.3 1.7 4.7 2 3.8 2 3.8 2.7 2.9 2.7 2.5 3.4 1.2 2.7 .7 3.3-.3 3.4-.9 2.7-1.6 2.7-2.2 2.7-3.1 2.7-4.2 2.7-4.7 2.3-4.6 1.7-6 1.7-5.3 1-11.9 1.2-12-.5" stroke="#2797eb" stroke-width="1.3" fill="none"/><path d="M228.6 522.8l-10.6-.6-9.3-1.4-9.3-2.5-8-3.3-6.6-4-2.9-2.4-2.4-2.6-1.6-2.1-1.3-2.7-.8-2.7-.3-2.7M281.7 495.8l-.3 2.7-.8 2.7-1.3 2.7-1.6 2.1-2.4 2.6-2.9 2.4-6.6 4-8 3.3-9.3 2.5-9.3 1.4-10.6 .6M175.5 495.8l.3-2.7 .8-2.7 2.8-4.7 2.5-2.7 2.4-2 6.4-4.1 7.9-3.3 9.8-2.7 9.6-1.5 10.6-.6M228.6 468.8l10.6 .6 9.6 1.5 9.8 2.7 7.9 3.3 6.4 4.1 2.4 2 2.5 2.7 2.8 4.7 .8 2.7 .3 2.7" stroke="#08b5d0" stroke-width="1.3" fill="none"/><path d="M204.9 522.8l-9.5-2.7-8-3.4-6.6-4.1-5.3-4.7M281.7 507.9l-5.3 4.7-6.6 4.1-8 3.4-9.5 2.7M175.5 483.7l5.3-4.7 6.6-4.1 8-3.4 9.5-2.7M252.3 468.8l9.5 2.7 8 3.4 6.6 4.1 5.3 4.7" stroke="#31c69f" stroke-width="1.3" fill="none"/><path d="M195 522.8l-6.2-2.3-5.2-2.5-4.1-2.3-4-2.9M281.7 512.8l-4 2.9-4.1 2.3-5.2 2.5-6.2 2.3M175.5 478.8l4-2.9 4.1-2.3 5.2-2.5 6.2-2.3M262.2 468.8l6.2 2.3 5.2 2.5 4.1 2.3 4 2.9" stroke="#81cc59" stroke-width="1.3" fill="none"/><path d="M187.5 522.8l-6.7-3-5.3-3.1M281.7 516.7l-5.3 3.1-6.7 3M175.5 474.9l5.9-3.4 6.1-2.7M269.7 468.8l6.1 2.7 5.9 3.4" stroke="#dcbd29" stroke-width="1.3" fill="none"/><path d="M181.1 522.8l-5.6-2.9M281.7 519.9l-5.6 2.9M175.5 471.7l5.6-2.9M276.1 468.8l5.6 2.9" stroke="#fccf30" stroke-width="1.3" fill="none"/></g><path d="M175.5 522.75v-1.0M175.5 468.85v1.0M202.05 522.75v-1.0M202.05 468.85v1.0M228.6 522.75v-1.0M228.6 468.85v1.0M255.15 522.75v-1.0M255.15 468.85v1.0M281.7 522.75v-1.0M281.7 468.85v1.0M175.5 522.75h1.0M281.7 522.75h-1.0M175.5 495.8h1.0M281.7 495.8h-1.0M175.5 468.85h1.0M281.7 468.85h-1.0" stroke="#262626" stroke-width="0.6" fill="none"/><rect x="175.5" y="468.85" width="106.2" height="53.9" fill="none" stroke="#262626" stroke-width="0.7"/><text x="175.5" y="532.55" font-size="7.6" text-anchor="middle" fill="#262626">-100</text><text x="202.05" y="532.55" font-size="7.6" text-anchor="middle" fill="#262626">-50</text><text x="228.6" y="532.55" font-size="7.6" text-anchor="middle" fill="#262626">0</text><text x="255.15" y="532.55" font-size="7.6" text-anchor="middle" fill="#262626">50</text><text x="281.7" y="532.55" font-size="7.6" text-anchor="middle" fill="#262626">100</text><text x="174" y="525.76" font-size="7.6" text-anchor="end" fill="#262626">-100</text><text x="174" y="498.81" font-size="7.6" text-anchor="end" fill="#262626">0</text><text x="174" y="471.86" font-size="7.6" text-anchor="end" fill="#262626">100</text><text transform="translate(228.6 467.65) scale(1 1.12)" font-size="8.55" text-anchor="middle" font-weight="bold" fill="#000">Search history</text><path d="M176.4 506.5h0m4.1-30.6h0m0 7.2h0m.8 17.8h0m.8-4.1h0m2.4-22.5h0m.8 27.4h0m1.6 11.2h0m2.4-37.8h0m0 30.6h0m.8-12.9h0m2.5 16.1h0m0 12.1h0m.8-42.7h0m5.6 19.3h0m0 9.7h0m4.8-14.5h0m.8-18.5h0m.3 22.9h0m.1 2h0m.8-.1h0m1.2-17.6h0m.7 12.6h0m.2-.5h0m.3 6.8h0m.1 1.1h0m.3-5.5h0m1.1 5.9h0m.1 4.5h0m.5-9.4h0m.1-6h0m.1 1.4h0m.5 3.6h0m.2 13.2h0m.7-30.1h0m.8 26.7h0m.5-9.4h0m0 2.1h0m.3-15.4h0m0 23h0m.2-16.6h0m0 12h0m.2-10.1h0m.2 12h0m.1-14.1h0m.6 0h0m.3 30.1h0m.3-14.1h0m.1-10.5h0m0 2.9h0m0 .7h0m0 3.3h0m.3-12.2h0m0 7.9h0m.2 .2h0m.3 2.9h0m.1-.2h0m.2 4.1h0m.1-1.5h0m.4-8.2h0m.5-16.2h0m0 19.2h0m.2-4.7h0m0 2.1h0m0 7.2h0m.3-5h0m.2 2h0m.1-6.4h0m0 14.9h0m.1-.4h0m.7-8.3h0m0 10.5h0m.2-18.7h0m.1 2.6h0m0 14.2h0m.5-13.1h0m.4-8.6h0m.1 15.1h0m.2-23.6h0m0 23.6h0m0 1.3h0m.3-10.2h0m.1 7.1h0m.7-10.3h0m0 3.6h0m.3 7.5h0m0 4.1h0m.1-18.9h0m.3 6.5h0m.2 8.4h0m.2-21.9h0m0 38h0m.1-31.2h0m.3 15.2h0m.1-3.2h0m.1 2.7h0m.1 9h0m.1-5.5h0m.3-31.4h0m0 27.3h0m.4-14.3h0m.3 9.9h0m0 4.2h0m0 11.3h0m.1-4.9h0m.3 .9h0m.1-10.1h0m0 7.3h0m.2-19.6h0m0 11.2h0m.2-3.7h0m0 2h0m.1-6.2h0m.1 9.7h0m.2 6.2h0m.3-8.3h0m0 .4h0m.2-5.6h0m.1 16.7h0m.3-9.7h0m.1-10.1h0m.1 3.4h0m.1 2h0m.2 16.9h0m.5-7.4h0m0 2.3h0m.3-1.3h0m.3-17.9h0m.3 21.9h0m0 .3h0m0 2.1h0m.2-23.8h0m0 6.5h0m.1 .9h0m0 16.9h0m.1-19h0m0 8.5h0m.1 17.3h0m.2-6.3h0m.5-4.3h0m.2-2h0m.2-22.4h0m0 9h0m.2 3.8h0m.1 8.8h0m.2-2.7h0m.3-12.2h0m.2 21.4h0m1-15.9h0m0 6.3h0m.1 5h0m.2-12.6h0m0 17h0m.3-24.8h0m.2 17.7h0m.1-14.7h0m.1 4.4h0m0 5.9h0m.3-2.7h0m.1 7.1h0m0 4.8h0m.1 6.6h0m.1-10h0m.5-7.6h0m.4-17.7h0m0 15h0m.3-8h0m0 15.5h0m.4-10.6h0m.2 15.8h0m.1-17.3h0m.1-15.7h0m0 49.9h0m.1-28.3h0m.1 1.2h0m0 .1h0m.1 11.2h0m.4 7.8h0m.2-25.5h0m.1-2.3h0m.2 3.6h0m.2 1.7h0m.2 .3h0m.1 26.2h0m.1-18.3h0m.4-6.3h0m.1-7.7h0m.1 13.7h0m.2 .7h0m.1-13.1h0m.7 5.8h0m.5-5.8h0m0 5h0m0 12.8h0m.2-7.6h0m.1 1h0m.1-9.3h0m0 11.7h0m.4 1.1h0m.3-10.7h0m.1-6.8h0m.3 20h0m.2-6.4h0m0 .5h0m.2-11h0m.3 15.2h0m.2-9.9h0m.1 20.2h0m.1-41.5h0m0 17.9h0m.2-8.4h0m.7 8.9h0m.7 25.1h0m.1-25.7h0m.3 1h0m.1 4.2h0m.1-5h0m0 15.6h0m.3 .1h0m.2-14.8h0m.1-4.8h0m.7 18.4h0m.2-10.2h0m0 7.2h0m.6-1.3h0m1-6.4h0m.9-3.4h0m.2-8h0m.8-9.6h0m.8 40.2h0m.5-21h0m.3 8.2h0m.9-25h0m1.6 9.6h0m2.4 5.3h0m.8 21.3h0m0 7.3h0m3.2-16.9h0m3.2-12.9h0m0 8.8h0m0 16.9h0m3.2-44.3h0m0 10.5h0m0 13.7h0m1.7 8.9h0m1.6-18.6h0m0 25.8h0m2.4-37h0m.8 32.2h0m1.6-14.5h0m1.6 3.2h0m0 9.7h0m0 13.7h0m4.8-43.5h0m0 4.8h0m0 30.6h0" stroke="#ff0000" stroke-width="5.6" stroke-linecap="round" fill="none"/><circle cx="228.6" cy="495.8" r="4.0" fill="#00bb00"/><clipPath id="ctr5"><rect x="325.8" y="467.35" width="109.2" height="56.9"/></clipPath><g clip-path="url(#ctr5)"><path d="M327.83 468.85L328.36 468.85L328.63 514.17L329.42 512.37L330.49 518.69L331.55 520.94L332.61 522.48L334.73 522.75L337.92 521.58L343.23 521.4L433.5 521.4" stroke="#0072bd" stroke-width="2.4" fill="none" stroke-linejoin="round" stroke-linecap="butt"/></g><path d="M327.3 522.75v-1.0M327.3 468.85v1.0M353.85 522.75v-1.0M353.85 468.85v1.0M380.4 522.75v-1.0M380.4 468.85v1.0M406.95 522.75v-1.0M406.95 468.85v1.0M433.5 522.75v-1.0M433.5 468.85v1.0M327.3 521.4h1.0M433.5 521.4h-1.0M327.3 503.34h1.0M433.5 503.34h-1.0M327.3 485.28h1.0M433.5 485.28h-1.0" stroke="#262626" stroke-width="0.6" fill="none"/><rect x="327.3" y="468.85" width="106.2" height="53.9" fill="none" stroke="#262626" stroke-width="0.7"/><text x="327.3" y="532.55" font-size="7.6" text-anchor="middle" fill="#262626">0</text><text x="353.85" y="532.55" font-size="7.6" text-anchor="middle" fill="#262626">50</text><text x="380.4" y="532.55" font-size="7.6" text-anchor="middle" fill="#262626">100</text><text x="406.95" y="532.55" font-size="7.6" text-anchor="middle" fill="#262626">150</text><text x="433.5" y="532.55" font-size="7.6" text-anchor="middle" fill="#262626">200</text><text x="325.8" y="524.4" font-size="7.6" text-anchor="end" fill="#262626">0</text><text x="325.8" y="506.35" font-size="7.6" text-anchor="end" fill="#262626">20</text><text x="325.8" y="488.29" font-size="7.6" text-anchor="end" fill="#262626">40</text><text transform="translate(380.4 467.65) scale(1 1.12)" font-size="8.55" text-anchor="middle" font-weight="bold" fill="#000">Trajectory curve</text><clipPath id="caf5"><rect x="477.8" y="467.35" width="108.4" height="56.9"/></clipPath><g clip-path="url(#caf5)"><path d="M479.3 471.55L493.09 495.8L501.15 510.62L506.88 516.69L512.48 520.73L519.38 522.48L525.11 522.75L584.7 522.75" stroke="#0072bd" stroke-width="2.4" fill="none" stroke-linejoin="round" stroke-linecap="butt"/></g><path d="M479.3 522.75v-1.0M479.3 468.85v1.0M525.11 522.75v-1.0M525.11 468.85v1.0M584.7 522.75v-1.0M584.7 468.85v1.0M479.3 522.75h1.0M584.7 522.75h-1.0M479.3 495.8h1.0M584.7 495.8h-1.0M479.3 468.85h1.0M584.7 468.85h-1.0" stroke="#262626" stroke-width="0.6" fill="none"/><rect x="479.3" y="468.85" width="105.4" height="53.9" fill="none" stroke="#262626" stroke-width="0.7"/><text x="479.3" y="532.55" font-size="7.6" text-anchor="middle" fill="#262626">1</text><text x="525.11" y="532.55" font-size="7.6" text-anchor="middle" fill="#262626">10</text><text x="584.7" y="532.55" font-size="7.6" text-anchor="middle" fill="#262626">200</text><text x="477.8" y="525.76" font-size="7.6" text-anchor="end" fill="#262626">0</text><text x="477.8" y="498.81" font-size="7.6" text-anchor="end" fill="#262626">2000</text><text x="477.8" y="471.86" font-size="7.6" text-anchor="end" fill="#262626">4000</text><text transform="translate(532 467.65) scale(1 1.12)" font-size="8.55" text-anchor="middle" font-weight="bold" fill="#000">Average fitness</text><clipPath id="ccv5"><rect x="629.8" y="467.35" width="108.4" height="56.9"/></clipPath><g clip-path="url(#ccv5)"><path d="M631.3 478.82L645.09 511.48L653.15 521.03L666.94 521.94L677.11 522.48L680.73 522.75L736.7 522.75" stroke="#0072bd" stroke-width="2.4" fill="none" stroke-linejoin="round" stroke-linecap="butt"/></g><path d="M631.3 522.75v-1.0M631.3 468.85v1.0M677.11 522.75v-1.0M677.11 468.85v1.0M736.7 522.75v-1.0M736.7 468.85v1.0M631.3 522.75h1.0M736.7 522.75h-1.0M631.3 495.8h1.0M736.7 495.8h-1.0M631.3 468.85h1.0M736.7 468.85h-1.0" stroke="#262626" stroke-width="0.6" fill="none"/><rect x="631.3" y="468.85" width="105.4" height="53.9" fill="none" stroke="#262626" stroke-width="0.7"/><text x="631.3" y="532.55" font-size="7.6" text-anchor="middle" fill="#262626">1</text><text x="677.11" y="532.55" font-size="7.6" text-anchor="middle" fill="#262626">10</text><text x="736.7" y="532.55" font-size="7.6" text-anchor="middle" fill="#262626">200</text><text x="629.8" y="525.76" font-size="7.6" text-anchor="end" fill="#262626">0</text><text x="629.8" y="498.81" font-size="7.6" text-anchor="end" fill="#262626">50</text><text x="629.8" y="471.86" font-size="7.6" text-anchor="end" fill="#262626">100</text><text transform="translate(684 467.65) scale(1 1.12)" font-size="8.55" text-anchor="middle" font-weight="bold" fill="#000">Convergence curve</text><text transform="translate(78.4 556.72) scale(1 1.13)" font-size="14.3" text-anchor="middle" font-weight="bold" fill="#000">F7</text><path d="M23.7 569.92L83.6 559.82L130 573.32M83.6 589.52L83.6 559.82M76.65 612.02L30.25 598.52L30.25 568.82M100.05 608.07L53.65 594.57L53.65 564.87M123.45 604.12L77.05 590.62L77.05 560.92M65.02 611.64L124.92 601.54L124.92 571.84M46.9 606.37L106.8 596.27L106.8 566.57M28.77 601.1L88.67 591L88.67 561.3M23.7 583.12L83.6 573.02L130 586.52" stroke="#dcdcdc" stroke-width="0.5" fill="none"/><path d="M70.1 613.1l59.9-10.1-46.4-13.5-51.2 8.6-8.7 1.5 46.4 13.5z" fill="#16afd9" fill-rule="evenodd"/><path d="M70.1 613.1l10.2-1.7-6.9-.2-7.1-.9-6.9-1.6-9.8-2.8-9.5-2.8-5.1-1.9-1.6-1-.6-.8 .3-.9 .8-.6-10.2 1.7 46.4 13.5zM119.8 604.7l10.2-1.7-2.9-.8-43.5-12.7-10.2 1.7 6.9 .2 7.1 1 6.9 1.5 9.8 2.8 9.5 2.9 5.1 1.8 1.6 1 .6 .8-.3 1-.8 .5z" fill="#48cb86" fill-rule="evenodd"/><path d="M70.1 613.1l3.8-.6-6.4-.7-5.9-1.2 8.5 2.5zM126.2 603.7l3.8-.7-8.5-2.5 3.3 1.6 1.1 .9 .3 .7zM31.4 601.9l-3-1.7-.9-1.2-3.8 .6 7.7 2.3zM91.2 591.8l-7.6-2.3-3.8 .7 6.4 .7 5 .9z" fill="#eaba30" fill-rule="evenodd"/><path d="M83.6 609.5l8-1 16-2.8 4.1-1.1 1.9-1.2 0-.6-.7-.7-3.4-1.6-20.4-5.9-9.1-1.5-4.5-.2-5.4 .2-8 1.1-16 2.8-4.1 1-1.9 1.2 0 .6 .7 .8 3.4 1.5 20.4 6 9.1 1.5 4.5 .2 5.4-.3z" fill="#4367fd" fill-rule="evenodd"/><path d="M85 607.9l18.5-3.1 3.3-1 1-.9-.3-.7-.9-.6-3.1-1.2-17.6-5-7.6-1.1-8.8 .3-18.8 3.1-3.8 1.1-1 1 .3 .6 .9 .6 3.1 1.3 17.6 5 7.6 1 4.4 .1 5.2-.5z" fill="#4536d3" fill-rule="evenodd"/><path d="M86.3 608.7l-6 .5-3.9 0-8.7-1-6.4-1.6-14.3-4.2-3.8-1.6-.9-1.2 1.2-1.1 3.9-1.2 21.3-3.5 8.6-.4 8.7 1.1 6.4 1.5 14.3 4.3 3.8 1.6 .9 1.1-1.2 1.2-3.9 1.1-20 3.4" stroke="#f4f8ff" stroke-width="0.7" fill="none"/><g class="sf"><linearGradient id="g6_29" href="#pb" gradientUnits="userSpaceOnUse" x1="24.47" y1="599.85" x2="19.60" y2="570.97"/><path fill="url(#g6_29)" stroke="url(#g6_29)" d="M25.2 573.6l2 3.8 2 4.4 2 .9 2 2.2 4 2.1 2 .8 2 1.1 2-.4 6-.1 2-.9 2 .2 2-.8 2 0 2-.5 2-1.3 2 .1 2-.7 2 .2 2-.8 4-3 4-3.3 2-2.4 2-2.1 3.9-9.5-1.5-1.9-4 7.7-2 3.4-2 2.9-2 2.1-2 1.3-4 1.8-2 1.3-4-.1-2 .6-2 1.1-2-.4-2 .8-1.9-.2-2 .7-2 .1-2 .8-2-.7-4 1.3-2-1.5-2 .1-4-2.9-2-.3-2-3.7-2-1.9-2-4.5z"/><linearGradient id="g6_28" href="#pb" gradientUnits="userSpaceOnUse" x1="26.02" y1="600.29" x2="21.15" y2="571.42"/><path fill="url(#g6_28)" stroke="url(#g6_28)" d="M26.8 576.9l2 3.9 2 2 2 2.5 2 1.4 2 2 2 1.3 2 .4 2-.4 2 1.1 2-1.5 2 .2 4-.7 1.9 .2 2-1 2 .4 2-1.3 2 0 2 .7 10-4.1 2-1.4 2-2.9 2-2.3 2-3.4 2-2.9 2-4.6-1.6-2.9-3.9 9.5-2 2.1-2 2.4-4 3.3-4 3-2 .8-2-.2-2 .7-2-.1-2 1.3-2 .5-2 0-2 .8-2-.2-2 .9-6 .1-2 .4-2-1.1-2-.8-4-2.1-2-2.2-2-.9-2-4.4-2-3.8z"/><linearGradient id="g6_27" href="#pb" gradientUnits="userSpaceOnUse" x1="27.57" y1="600.75" x2="22.70" y2="571.87"/><path fill="url(#g6_27)" stroke="url(#g6_27)" d="M28.3 578.1l2 4.5 4 5.4 2 1.5 8 3.1 2-.1 2 .3 2-1 2 .2 2-1 2 .5 2-.4 2 0 2-1.5 6-1.2 2 .2 2-.6 2-2.1 4-2.2 5.9-7.6 2-2.8 2-5.6-1.5-1.2-2 4.6-2 2.9-2 3.4-2 2.3-2 2.9-2 1.4-10 4.1-2-.7-2 0-2 1.3-2-.4-2 1-1.9-.2-4 .7-2-.2-2 1.5-2-1.1-2 .4-2-.4-2-1.3-2-2-2-1.4-2-2.5-2-2-2-3.9z"/><linearGradient id="g6_26" href="#pb" gradientUnits="userSpaceOnUse" x1="29.11" y1="601.20" x2="24.24" y2="572.32"/><path fill="url(#g6_26)" stroke="url(#g6_26)" d="M29.9 580.1l2 3 2 4 2 2.4 4 1.8 2 1.9 2 .2 2-.1 2 .9 2-.4 3.9-1.3 2-.2 2-.6 2 .6 2 0 2-1.6 2 1.2 2-.9 2 0 6-3.6 2-.6 4-3.3 4-5.9 2-4.2 2-3.3-1.6-2.4-2 5.6-2 2.8-5.9 7.6-4 2.2-2 2.1-2 .6-2-.2-6 1.2-2 1.5-2 0-2 .4-2-.5-2 1-2-.2-2 1-2-.3-2 .1-8-3.1-2-1.5-4-5.4-2-4.5z"/><linearGradient id="g6_25" href="#pb" gradientUnits="userSpaceOnUse" x1="30.66" y1="601.64" x2="25.79" y2="572.77"/><path fill="url(#g6_25)" stroke="url(#g6_25)" d="M31.4 580.6l2 4.1 2 3.4 2 1.7 2 2.9 4 2.1 2-.3 2 .3 2-.6 2 1 2 0 2-.4 2-1.1 4 .5 4-.9 2-1.5 2-.6 2 .3 2-.5 8-4.4 1.9-2.7 2-1.6 2-3 2-3.2 2-5.1-1.5-.9-2 3.3-2 4.2-4 5.9-4 3.3-2 .6-6 3.6-2 0-2 .9-2-1.2-2 1.6-2 0-2-.6-2 .6-2 .2-3.9 1.3-2 .4-2-.9-2 .1-2-.2-2-1.9-4-1.8-2-2.4-2-4-2-3z"/><linearGradient id="g6_24" href="#pb" gradientUnits="userSpaceOnUse" x1="32.21" y1="602.10" x2="27.34" y2="573.22"/><path fill="url(#g6_24)" stroke="url(#g6_24)" d="M33 582.4l2 2.5 2 4.3 2 2.7 2 .8 6 3.7 2-1.2 1.9 1.5 4-.9 2 0 2-.9 2-.1 4-1.1 2-.1 2-.4 4 .1 2-2 4-.4 2-1.3 2-1.6 2-2.9 2-2.3 2-3.1 2-3.9 2-4.7-1.6-.1-2 5.1-2 3.2-2 3-2 1.6-1.9 2.7-8 4.4-2 .5-2-.3-2 .6-2 1.5-4 .9-4-.5-2 1.1-2 .4-2 0-2-1-2 .6-2-.3-2 .3-4-2.1-2-2.9-2-1.7-2-3.4-2-4.1z"/><linearGradient id="g6_23" href="#pb" gradientUnits="userSpaceOnUse" x1="33.75" y1="602.54" x2="28.88" y2="573.67"/><path fill="url(#g6_23)" stroke="url(#g6_23)" d="M34.5 583.2l2 2.9 2 4.3 2 1.6 2 1.2 2 2.5 2 1.2 2 0 2-.2 2 .8 4-1.2 2 .7 2-1.5 2 0 2-.7 2-.3 2 .9 2-1.6 2 .3 4-1.4 2-.9 1.9-.7 2-.9 2-1.4 2-2.9 2-1.2 4-7.2 2-4.3-1.5-2.1-2 4.7-2 3.9-2 3.1-2 2.3-2 2.9-2 1.6-2 1.3-4 .4-2 2-4-.1-2 .4-2 .1-4 1.1-2 .1-2 .9-2 0-4 .9-1.9-1.5-2 1.2-6-3.7-2-.8-2-2.7-2-4.3-2-2.5z"/><linearGradient id="g6_22" href="#pb" gradientUnits="userSpaceOnUse" x1="35.30" y1="603.00" x2="30.43" y2="574.12"/><path fill="url(#g6_22)" stroke="url(#g6_22)" d="M36.1 583.5l4 7.4 2 2.7 2 .5 2 2.2 2 0 1.9 .7 2 1 2-.8 2-.2 2 .3 2-.8 2 1 2-1.5 2 .1 4-1.2 2 .4 2-1.3 2-.5 2 .1 2-1 2-.4 2-.7 2-2.8 2-1 2-3.3 2-2.4 2-3.5 2-5.7-1.6 .4-2 4.3-4 7.2-2 1.2-2 2.9-2 1.4-2 .9-1.9 .7-2 .9-4 1.4-2-.3-2 1.6-2-.9-2 .3-2 .7-2 0-2 1.5-2-.7-4 1.2-2-.8-2 .2-2 0-2-1.2-2-2.5-2-1.2-2-1.6-2-4.3-2-2.9z"/><linearGradient id="g6_21" href="#pb" gradientUnits="userSpaceOnUse" x1="36.85" y1="603.45" x2="31.98" y2="574.57"/><path fill="url(#g6_21)" stroke="url(#g6_21)" d="M37.6 583.8l2 4.8 4 5.5 2 1.3 2 .4 2 1.6 2 .2 2 1.3 2-.2 6-1.8 2 .3 2-.6 2 .6 2-1.1 2-.3 4 .1 2-1.6 2-.2 1.9 .2 4-2.6 2-2.1 2-1.1 2-3.5 2-1.9 2-3.9 2-5.6-1.5-.8-2 5.7-2 3.5-2 2.4-2 3.3-2 1-2 2.8-2 .7-2 .4-2 1-2-.1-2 .5-2 1.3-2-.4-4 1.2-2-.1-2 1.5-2-1-2 .8-2-.3-2 .2-2 .8-2-1-1.9-.7-2 0-2-2.2-2-.5-2-2.7-4-7.4z"/><linearGradient id="g6_20" href="#pb" gradientUnits="userSpaceOnUse" x1="38.39" y1="603.89" x2="33.52" y2="575.02"/><path fill="url(#g6_20)" stroke="url(#g6_20)" d="M39.2 585.2l2 2.8 2 3.8 2 2.3 2 1.2 2 2.1 1.9 .7 2 .2 2 .6 4-.6 2 .2 2-.5 2 .3 2-.4 2 .1 4-1.6 2 .3 2-1.3 2 .8 2-1.1 2-.5 4-2.8 4-3.9 2-1.6 2-3.1 2-4.7 2-3.8-1.6-1.1-2 5.6-2 3.9-2 1.9-2 3.5-2 1.1-2 2.1-4 2.6-1.9-.2-2 .2-2 1.6-4-.1-2 .3-2 1.1-2-.6-2 .6-2-.3-6 1.8-2 .2-2-1.3-2-.2-2-1.6-2-.4-2-1.3-4-5.5-2-4.8z"/><linearGradient id="g6_19" href="#pb" gradientUnits="userSpaceOnUse" x1="39.94" y1="604.35" x2="35.07" y2="575.47"/><path fill="url(#g6_19)" stroke="url(#g6_19)" d="M40.7 585.7l4 6.3 2 2 2 3 2 .5 2 1.6 2-.2 2 1 2-.1 2-1.1 2-.2 2 .8 2-.9 2-.4 2 .2 4-1.7 2-.3 1.9 .5 2-.4 2-1.4 6-2.4 2-1.3 2-2.5 2-1.9 2-3 4-9.5-1.5 .4-2 3.8-2 4.7-2 3.1-2 1.6-4 3.9-4 2.8-2 .5-2 1.1-2-.8-2 1.3-2-.3-4 1.6-2-.1-2 .4-2-.3-2 .5-2-.2-4 .6-2-.6-2-.2-1.9-.7-2-2.1-2-1.2-2-2.3-2-3.8-2-2.8z"/><linearGradient id="g6_18" href="#pb" gradientUnits="userSpaceOnUse" x1="41.49" y1="604.79" x2="36.62" y2="575.92"/><path fill="url(#g6_18)" stroke="url(#g6_18)" d="M42.3 585.8l2 4 2 2.3 1.9 3.5 2 1.8 2 .6 2 1.2 2-.2 2 1.5 2 .1 2-.9 2 .1 4-.6 2-1.1 2 .5 2-1.5 2 1 4-.9 4-.6 2-1.9 2-1 2 .1 2-1.9 2-2.7 2-1.9 2-2.6 2-4.7 2-5.3-1.6-.4-4 9.5-2 3-2 1.9-2 2.5-2 1.3-6 2.4-2 1.4-2 .4-1.9-.5-2 .3-4 1.7-2-.2-2 .4-2 .9-2-.8-2 .2-2 1.1-2 .1-2-1-2 .2-2-1.6-2-.5-2-3-2-2-4-6.3z"/><linearGradient id="g6_17" href="#pb" gradientUnits="userSpaceOnUse" x1="43.03" y1="605.25" x2="38.16" y2="576.37"/><path fill="url(#g6_17)" stroke="url(#g6_17)" d="M43.8 585.6l2 4.7 6 7.7 4 .8 2 1.7 2 .4 2 .1 2-1.1 2-.6 2 1.1 2-.4 2-1.4 2 .3 2-1.2 1.9 .1 4-1.2 2 .4 2-.1 2-.8 2-2.2 2-.5 2-1 2-3.3 2-1.1 2-3 4-8.2-1.5-2.1-2 5.3-2 4.7-2 2.6-2 1.9-2 2.7-2 1.9-2-.1-2 1-2 1.9-4 .6-4 .9-2-1-2 1.5-2-.5-2 1.1-4 .6-2-.1-2 .9-2-.1-2-1.5-2 .2-2-1.2-2-.6-2-1.8-1.9-3.5-2-2.3-2-4z"/><linearGradient id="g6_16" href="#pb" gradientUnits="userSpaceOnUse" x1="44.58" y1="605.70" x2="39.71" y2="576.82"/><path fill="url(#g6_16)" stroke="url(#g6_16)" d="M45.4 586.5l3.9 6.9 2 2.6 2 2.3 2 1.5 2 .5 2 .8 2-.6 6-.5 2 .4 2-1.3 2 .3 4-1.3 2 .1 6-1.3 2-.9 2 .3 2-1.3 2-.8 2-2 2-1.4 2-3.5 2-2.4 2-4.6 2-3.5-1.6 0-4 8.2-2 3-2 1.1-2 3.3-2 1-2 .5-2 2.2-2 .8-2 .1-2-.4-4 1.2-1.9-.1-2 1.2-2-.3-2 1.4-2 .4-2-1.1-2 .6-2 1.1-2-.1-2-.4-2-1.7-4-.8-6-7.7-2-4.7z"/><linearGradient id="g6_15" href="#pb" gradientUnits="userSpaceOnUse" x1="46.13" y1="606.14" x2="41.26" y2="577.27"/><path fill="url(#g6_15)" stroke="url(#g6_15)" d="M46.9 586.7l2 3.6 2 4.4 2 2.6 2 1.4 6 3 2-1.3 2 .5 2-.5 2 .7 2-.8 4 .3 1.9-1.7 2-.4 2 1.3 2-1.7 4 .2 2-1.8 2 .3 2-1 2-2.2 2-.6 2-2.9 2-.9 2-3.3 4-9.1-1.5 0-2 3.5-2 4.6-2 2.4-2 3.5-2 1.4-2 2-2 .8-2 1.3-2-.3-2 .9-6 1.3-2-.1-4 1.3-2-.3-2 1.3-2-.4-6 .5-2 .6-2-.8-2-.5-2-1.5-2-2.3-2-2.6-3.9-6.9z"/><linearGradient id="g6_14" href="#pb" gradientUnits="userSpaceOnUse" x1="47.67" y1="606.60" x2="42.80" y2="577.72"/><path fill="url(#g6_14)" stroke="url(#g6_14)" d="M48.4 587.9l2 3.5 2 2.5 2 3.1 2 2.4 4 .8 2 1.3 2 .3 2-.2 2 .5 2-1.5 2 .8 2-.9 2 0 2-1 2-.4 4 .6 2-.8 2-.2 2-.9 4-1.1 2-2.2 2-1.1 2-2.5 2-1.3 4-8.3 1.9-3.2-1.5-1.3-4 9.1-2 3.3-2 .9-2 2.9-2 .6-2 2.2-2 1-2-.3-2 1.8-4-.2-2 1.7-2-1.3-2 .4-1.9 1.7-4-.3-2 .8-2-.7-2 .5-2-.5-2 1.3-6-3-2-1.4-2-2.6-2-4.4-2-3.6z"/><linearGradient id="g6_13" href="#pb" gradientUnits="userSpaceOnUse" x1="49.22" y1="607.04" x2="44.35" y2="578.17"/><path fill="url(#g6_13)" stroke="url(#g6_13)" d="M50 587.8l2 3.3 2 4.5 2 1 2 3.2 2 1.3 2 .4 2-.2 4 1.6 2-1 2 .5 2-.3 1.9-1.3 2 0 2-.6 2 .8 2-.7 2-1.6 2-.3 2 .3 2-1.2 2-.4 2-1.4 2-.5 6-5.2 4-7.6 2-4.5-1.6 .2-1.9 3.2-4 8.3-2 1.3-2 2.5-2 1.1-2 2.2-4 1.1-2 .9-2 .2-2 .8-4-.6-2 .4-2 1-2 0-2 .9-2-.8-2 1.5-2-.5-2 .2-2-.3-2-1.3-4-.8-2-2.4-2-3.1-2-2.5-2-3.5z"/><linearGradient id="g6_12" href="#pb" gradientUnits="userSpaceOnUse" x1="50.77" y1="607.50" x2="45.90" y2="578.62"/><path fill="url(#g6_12)" stroke="url(#g6_12)" d="M51.5 588.3l2 3.6 2 4.1 2 1.6 4 4 2-.6 2 1.9 2-1.2 2 1.7 2-.4 4-1.7 2-.4 2 .6 2 .1 2-1.2 2-.7 2-.5 2 .7 2 0 4-2.8 2-.4 2-1 2-2.4 2-.7 1.9-2.2 2-3.7 2-4.5 2-3.5-1.5-.8-2 4.5-4 7.6-6 5.2-2 .5-2 1.4-2 .4-2 1.2-2-.3-2 .3-2 1.6-2 .7-2-.8-2 .6-2 0-1.9 1.3-2 .3-2-.5-2 1-4-1.6-2 .2-2-.4-2-1.3-2-3.2-2-1-2-4.5-2-3.3z"/><linearGradient id="g6_11" href="#pb" gradientUnits="userSpaceOnUse" x1="52.31" y1="607.95" x2="47.44" y2="579.07"/><path fill="url(#g6_11)" stroke="url(#g6_11)" d="M53.1 589l2 4 2 3.1 2 2.5 2 1.8 2 .8 2 1.2 4 .7 2-.6 2 .3 3.9-.6 2 .3 4-1.6 2 .3 2-.2 2-.5 2-.1 2-1.3 2-.5 2-1.1 2 .2 2-1.8 2-1.4 2-1.1 2-2.5 2-4.2 2-2.8 2-5.5-1.6 .3-2 3.5-2 4.5-2 3.7-1.9 2.2-2 .7-2 2.4-2 1-2 .4-4 2.8-2 0-2-.7-2 .5-2 .7-2 1.2-2-.1-2-.6-2 .4-4 1.7-2 .4-2-1.7-2 1.2-2-1.9-2 .6-4-4-2-1.6-2-4.1-2-3.6z"/><linearGradient id="g6_10" href="#pb" gradientUnits="userSpaceOnUse" x1="53.86" y1="608.39" x2="48.99" y2="579.52"/><path fill="url(#g6_10)" stroke="url(#g6_10)" d="M54.6 588.7l2 4.9 2 2.1 2 3.2 2 1.8 2 1.2 2 .8 2-.3 4 1.3 2 0 2-1.3 2 1.2 2-.5 2-1.7 2 .1 4-.5 2 .5 2-.9 2-.5 4-1.4 2-1.4 2 0 5.9-7.2 2-2 2-3.8 2-4.6-1.5-1.3-2 5.5-2 2.8-2 4.2-2 2.5-2 1.1-2 1.4-2 1.8-2-.2-2 1.1-2 .5-2 1.3-2 .1-2 .5-2 .2-2-.3-4 1.6-2-.3-3.9 .6-2-.3-2 .6-4-.7-2-1.2-2-.8-2-1.8-2-2.5-2-3.1-2-4z"/><linearGradient id="g6_9" href="#pb" gradientUnits="userSpaceOnUse" x1="55.41" y1="608.85" x2="50.54" y2="579.97"/><path fill="url(#g6_9)" stroke="url(#g6_9)" d="M56.2 589.8l4 7 2 2.7 2 .5 2 2.3 4 1.3 2-.5 1.9 .1 2-.2 2 .7 2-.8 2 .7 4-1.5 2 0 2-1.4 2 .1 2-.8 2 .7 2-1.3 2-.3 8-5.4 2-3.5 2-2.2 2-4.2 2-5.2-1.6 1.1-2 4.6-2 3.8-2 2-5.9 7.2-2 0-2 1.4-4 1.4-2 .5-2 .9-2-.5-4 .5-2-.1-2 1.7-2 .5-2-1.2-2 1.3-2 0-4-1.3-2 .3-2-.8-2-1.2-2-1.8-2-3.2-2-2.1-2-4.9z"/><linearGradient id="g6_8" href="#pb" gradientUnits="userSpaceOnUse" x1="56.95" y1="609.29" x2="52.08" y2="580.42"/><path fill="url(#g6_8)" stroke="url(#g6_8)" d="M57.7 589.6l6 10.3 2 1.2 2 .7 2 1.5 2-.4 2 1.5 2-.9 2 .1 2-.2 2 .3 2-.3 4-1.3 2 .2 2-1.3 2 .2 2-.1 2-.8 2 .2 2-1.6 1.9 0 2-2.4 2-.2 4-5.6 2-2.2 2-3.6 2-5.7-1.5-.6-2 5.2-2 4.2-2 2.2-2 3.5-8 5.4-2 .3-2 1.3-2-.7-2 .8-2-.1-2 1.4-2 0-4 1.5-2-.7-2 .8-2-.7-2 .2-1.9-.1-2 .5-4-1.3-2-2.3-2-.5-2-2.7-4-7z"/><linearGradient id="g6_7" href="#pb" gradientUnits="userSpaceOnUse" x1="58.50" y1="609.75" x2="53.63" y2="580.87"/><path fill="url(#g6_7)" stroke="url(#g6_7)" d="M59.3 589.4l2 5 2 2.7 2 2.1 2 2.7 2 .7 2 1.2 3.9 .8 2-.3 2 .5 2-.6 2-.2 2-1.1 2-.3 4 .3 2-1.1 10-1.6 4-2.4 4-3.7 2-2.7 6-11.4-1.6-.8-2 5.7-2 3.6-2 2.2-4 5.6-2 .2-2 2.4-1.9 0-2 1.6-2-.2-2 .8-2 .1-2-.2-2 1.3-2-.2-4 1.3-2 .3-2-.3-2 .2-2-.1-2 .9-2-1.5-2 .4-2-1.5-2-.7-2-1.2-6-10.3z"/><linearGradient id="g6_6" href="#pb" gradientUnits="userSpaceOnUse" x1="60.05" y1="610.20" x2="55.18" y2="581.32"/><path fill="url(#g6_6)" stroke="url(#g6_6)" d="M60.8 590.6l2 3.3 2 2.3 2 3 2 1.5 2 1.9 2 .1 2 .4 2 1.4 4-.3 2-1.1 2 1.2 2-1.2 2-.3 2-.7 2 .8 2-.4 2-1.4 2-.7 2 .2 2-.5 1.9-1.1 2-.1 2-2.2 2-.2 4-5.8 2-1.9 4-8.6-1.5-.2-6 11.4-2 2.7-4 3.7-4 2.4-10 1.6-2 1.1-4-.3-2 .3-2 1.1-2 .2-2 .6-2-.5-2 .3-3.9-.8-2-1.2-2-.7-2-2.7-2-2.1-2-2.7-2-5z"/><linearGradient id="g6_5" href="#pb" gradientUnits="userSpaceOnUse" x1="61.59" y1="610.64" x2="56.72" y2="581.77"/><path fill="url(#g6_5)" stroke="url(#g6_5)" d="M62.4 589.6l2 4.6 4 5.4 2 1.6 2 1.9 1.9-.7 2 1.2 2 .2 2 .9 2-.2 2-1.5 4-.2 2-.4 2-.7 2 .1 2-.2 2 .4 4-1 2-.3 2-1.3 2-.4 2-2.6 2-1 2-1.5 2-2.4 4-7.9 2-4.8-1.6 1.4-4 8.6-2 1.9-4 5.8-2 .2-2 2.2-2 .1-1.9 1.1-2 .5-2-.2-2 .7-2 1.4-2 .4-2-.8-2 .7-2 .3-2 1.2-2-1.2-2 1.1-4 .3-2-1.4-2-.4-2-.1-2-1.9-2-1.5-2-3-2-2.3-2-3.3z"/><linearGradient id="g6_4" href="#pb" gradientUnits="userSpaceOnUse" x1="63.14" y1="611.10" x2="58.27" y2="582.22"/><path fill="url(#g6_4)" stroke="url(#g6_4)" d="M63.9 589l2 4.5 2 3.5 2 2.7 4 2.3 4 2 2 .3 2-1.3 2 .7 2-1 2-.2 2 .1 2-.8 2-.5 2 .2 2 .7 2-1.4 1.9-.2 2-.9 2 .1 2-1.3 2-.3 6-4.5 4-5.3 4-9.8-1.5 .2-2 4.8-4 7.9-2 2.4-2 1.5-2 1-2 2.6-2 .4-2 1.3-2 .3-4 1-2-.4-2 .2-2-.1-2 .7-2 .4-4 .2-2 1.5-2 .2-2-.9-2-.2-2-1.2-1.9 .7-2-1.9-2-1.6-4-5.4-2-4.6z"/><linearGradient id="g6_3" href="#pb" gradientUnits="userSpaceOnUse" x1="64.69" y1="611.54" x2="59.82" y2="582.67"/><path fill="url(#g6_3)" stroke="url(#g6_3)" d="M65.5 588.1l2 4.5 2 3.8 3.9 2.9 2 2.1 2 .5 2 .2 2 1.4 2-1 2 .4 2-.3 2-.9 2-.1 2 .8 4-1.6 2-.6 2 .8 2-1.3 2-.2 2 .2 2-1.5 2-.8 4-2.4 2-2.2 2-3.1 2-2.4 4-9-1.6 .3-4 9.8-4 5.3-6 4.5-2 .3-2 1.3-2-.1-2 .9-1.9 .2-2 1.4-2-.7-2-.2-2 .5-2 .8-2-.1-2 .2-2 1-2-.7-2 1.3-2-.3-4-2-4-2.3-2-2.7-2-3.5-2-4.5z"/><linearGradient id="g6_2" href="#pb" gradientUnits="userSpaceOnUse" x1="66.23" y1="612.00" x2="61.36" y2="583.12"/><path fill="url(#g6_2)" stroke="url(#g6_2)" d="M67 588.1l2 3.4 4 5.9 6 4.3 2 .6 2-.2 2-.5 2 .2 4-.7 2-.1 2 .3 4-1.1 1.9 .5 2-.9 2-.5 2 .1 2-1.5 2-.7 2-.1 2-1.5 2-2.6 2-1.2 2-2.2 2-4 2-3.2 2-4.9-1.5 .8-4 9-2 2.4-2 3.1-2 2.2-4 2.4-2 .8-2 1.5-2-.2-2 .2-2 1.3-2-.8-2 .6-4 1.6-2-.8-2 .1-2 .9-2 .3-2-.4-2 1-2-1.4-2-.2-2-.5-2-2.1-3.9-2.9-2-3.8-2-4.5z"/><linearGradient id="g6_1" href="#pb" gradientUnits="userSpaceOnUse" x1="67.78" y1="612.45" x2="62.91" y2="583.57"/><path fill="url(#g6_1)" stroke="url(#g6_1)" d="M68.6 585.8l2 4.6 1.9 3.7 4 3.5 4 2.7 2 0 2 .5 2-.2 2 0 2 .5 2-1.5 2 1.1 2-.8 2-.1 4-1.4 2-.3 2-.6 2-.1 2-1.2 2 .1 4-2.4 2-.7 4-4.6 4-6.7 2-5.1-1.6 .7-2 4.9-2 3.2-2 4-2 2.2-2 1.2-2 2.6-2 1.5-2 .1-2 .7-2 1.5-2-.1-2 .5-2 .9-1.9-.5-4 1.1-2-.3-2 .1-4 .7-2-.2-2 .5-2 .2-2-.6-6-4.3-4-5.9-2-3.4z"/><linearGradient id="g6_0" href="#pb" gradientUnits="userSpaceOnUse" x1="69.33" y1="612.89" x2="64.46" y2="584.02"/><path fill="url(#g6_0)" stroke="url(#g6_0)" d="M70.1 584.3l2 5.1 4 5.2 2 2 2 1 2 .8 4 .3 2 1.2 2-.5 2-.8 2 .6 2-1.8 2-.1 1.9 1 2-1.2 2-.4 2 .6 4-1.1 2-1 4-1.7 2-2 4-2.6 2-2.1 2-3.4 2-4.6 2-3.8-1.5 1.8-2 5.1-4 6.7-4 4.6-2 .7-4 2.4-2-.1-2 1.2-2 .1-2 .6-2 .3-4 1.4-2 .1-2 .8-2-1.1-2 1.5-2-.5-2 0-2 .2-2-.5-2 0-4-2.7-4-3.5-1.9-3.7-2-4.6z"/></g><path d="M23.7 569.92L23.7 599.62L70.1 613.12L130 603.02M23.70 599.62l2.17 -0.37M23.70 583.12l2.17 -0.37M65.02 611.64l2.17 -0.37M46.90 606.37l2.17 -0.37M28.77 601.10l2.17 -0.37M76.65 612.02l-2.11 -0.61M100.05 608.07l-2.11 -0.61M123.45 604.12l-2.11 -0.61" stroke="#3a3a3a" stroke-width="0.95" fill="none"/><text x="21.5" y="602.13" font-size="7.6" text-anchor="end" fill="#262626">0</text><text x="21.5" y="585.63" font-size="7.6" text-anchor="end" fill="#262626">5</text><text x="62.52" y="620.15" font-size="7.6" text-anchor="end" fill="#262626">-1</text><text x="44.4" y="614.88" font-size="7.6" text-anchor="end" fill="#262626">0</text><text x="26.27" y="609.6" font-size="7.6" text-anchor="end" fill="#262626">1</text><text x="79.15" y="620.52" font-size="7.6" text-anchor="start" fill="#262626">-1</text><text x="102.55" y="616.58" font-size="7.6" text-anchor="start" fill="#262626">0</text><text x="125.95" y="612.63" font-size="7.6" text-anchor="start" fill="#262626">1</text><clipPath id="csh6"><rect x="175.5" y="559.52" width="106.2" height="53.9"/></clipPath><g clip-path="url(#csh6)"><path d="M193.5 580.8h0m.1 13.4h0m.1-17.6h0m0 13.8h0m.2 7.2h0m.1-15.5h0m.1-7h0m0 5.9h0m0 16.8h0m.1-15.1h0m.1 4.4h0m0 6.4h0m0 6.5h0m.1-16.2h0m.2-9.4h0m0 1.8h0m0 15h0m.3-13.1h0m0 13.8h0m.2-20.6h0m0 1h0m0 10.1h0m0 17.4h0m.2-11.2h0m.1-10h0m.4-3.1h0m0 14.7h0m.1-7h0m.1-4.2h0m0 16.8h0m0 4.4h0m.1-22.3h0m0 16.3h0m0 5.5h0m.1-23.6h0m0 8.6h0m0 .6h0m.2-11.2h0m0 13.5h0m.1-15.5h0m0 26.2h0m.1-27.1h0m0 9.5h0m0 1.2h0m0 9.3h0m0 1.8h0m.3 6.7h0m0 .6h0m.1-16.6h0m0 11.3h0m.1-24.9h0m0 4.2h0m0 10.3h0m.2 9.8h0m.2-22h0m0 15.2h0m0 4.7h0m.1 5.6h0m.1-7.5h0m.1-13.2h0m.1-.6h0m0 2.1h0m0 10.5h0m0 2.7h0m0 4.3h0m.1 7.1h0m.2-19.1h0m.2-1.9h0m.1-11.6h0m0 2.4h0m.1-3.8h0m0 20.7h0m.2 9.7h0m.1-27.6h0m0 14.7h0m.1-10h0m0 9.3h0m0 6.7h0m.1-14.5h0m0 .9h0m0 12.3h0m0 5.5h0m.1-14.5h0m.2-5.9h0m0 17.9h0m0 .1h0m0 6.7h0m.1-33.4h0m0 6.1h0m0 17.3h0m0 4.1h0m0 3h0m.1-23.5h0m0 14.3h0m0 7.9h0m0 3.1h0m.1-17.4h0m0 3.3h0m.1-13.2h0m0 14.2h0m.1-3.2h0m.1-13.6h0m0 22.7h0m0 .7h0m.1-13.7h0m0 23.4h0m.2-25.2h0m.2 9.8h0m0 11h0m0 2.8h0m.1-20.1h0m.2-8.9h0m.2-2.3h0m0 5.9h0m.1-1.1h0m0 13.4h0m.1 9.6h0m0 1.8h0m0 2.1h0m.1-16.8h0m0 2.1h0m.2 7.6h0m.1 8.1h0m.1-35.5h0m0 10.5h0m0 3.8h0m.1 1.2h0m.1-3.5h0m0 11.9h0m0 7.5h0m.1-14.8h0m0 9.8h0m.1-1.9h0m0 5.1h0m.1-29.6h0m0 2.7h0m.1 31.8h0m.1 3.2h0m.1-30.9h0m.1 4.3h0m0 3.8h0m0 2.8h0m0 11.8h0m.1-19.7h0m0 21.4h0m.1-18.2h0m0 3.3h0m0 17.2h0m.1-11.8h0m.1 4.3h0m0 10.5h0m.1-31h0m0 13.6h0m0 8.3h0m.1-23.1h0m0 4.9h0m.2 .4h0m0 7.8h0m0 6.3h0m0 1.1h0m.1-25.3h0m0 30.7h0m.1-26.9h0m0 5.2h0m.1-2.4h0m0 6.4h0m0 9h0m0 4.4h0m.1-14.2h0m0 11.7h0m.1-19.5h0m0 3.1h0m0 20.3h0m0 1.4h0m.1 4h0m.1-31h0m0 13.1h0m.2 7.4h0m0 12.6h0m.1-34.5h0m0 30.6h0m0 6.7h0m.1-1.7h0m.1-16h0m.1-16.6h0m.1 1.9h0m0 8.6h0m0 3.2h0m.1 6.3h0m.1-10.9h0m.1 6.7h0m0 3.2h0m0 8h0m.1-24h0m0 12.4h0m.1-10.4h0m.1 3.1h0m0 20.3h0m.1-16.6h0m0 10.5h0m0 8.1h0m.1-26.3h0m0 21.8h0m.1-29.2h0m0 24.9h0m0 2h0m0 6.1h0m.1 2.3h0m.2 1.3h0m0 1.7h0m.1-26.6h0m0 7.1h0m0 2.6h0m.1 5.8h0m0 2.6h0m0 5.7h0m.1-30.8h0m0 1.1h0m.3-7.9h0m0 5.3h0m0 3.8h0m0 19.5h0m.2-18.1h0m0 7.9h0m0 22.6h0m.1-15.8h0m.1-24.3h0m0 13.7h0m0 12.1h0m0 3.6h0m0 8.6h0m.1-23.1h0m.1-13.8h0m0 9.7h0m0 12.2h0m.1-6.6h0m.1-15.3h0m0 32.1h0m0 3.6h0m.1-25.7h0m0 6.1h0m0 6h0m0 5.1h0m.1-8.6h0m.1-4.9h0m0 10.8h0m.1 1.3h0m.1-4.8h0m.1-21.8h0m0 9.9h0m.2-3.8h0m0 33.3h0m.2-36.4h0m.2 17.1h0m0 14h0m0 4.2h0m0 1.8h0m.1-21.8h0m0 6h0m0 4.5h0m0 1.6h0m.1-29.3h0m0 8.9h0m0 24.6h0m.1-28.9h0m0 8.1h0m0 8.1h0m.1 4.4h0m.1-18.9h0m0 16.7h0m.1-23.5h0m0 7.1h0m0 10.7h0m0 15.5h0m.4-21.7h0m0 4h0m.1-1.4h0m0 21.9h0m.1-32.6h0m0 13.3h0m0 6.3h0m0 15.3h0m0 1h0m.1-10.7h0m.1-13.9h0m.1-14.9h0m0 37.1h0m.1-21.8h0m.1-9.1h0m.1 5.4h0m.1 9.8h0m.1 2.5h0m.1-1.5h0m0 7.7h0m.1 5.6h0m.1-23.2h0m0 13.3h0m.1-25.3h0m0 17.3h0m0 16.8h0m.1-1.6h0m.1-34.1h0m0 6.5h0m0 4h0m0 18.8h0m0 10.3h0m.1-35.3h0m0 8.2h0m0 20.1h0m.1-27.9h0m.2 7.4h0m.1 17.8h0m0 2h0m.1-24.8h0m0 12h0m0 13.5h0m0 6.2h0m.1-38.1h0m0 7.8h0m.1 26.8h0m0 3.9h0m.4-28.6h0m0 3.7h0m0 .6h0m0 11.8h0m.1-23.5h0m0 25.1h0m0 9.3h0m.1-37.9h0m.1 4h0m0 2.2h0m0 14.6h0m.1 16.6h0m.1-36.4h0m0 12.8h0m0 2.9h0m.1 10.2h0m.1-22h0m0 20.8h0m0 13h0m.1-19.6h0m0 14.5h0m.1-18.8h0m0 25.8h0m.1-24.7h0m.2 8.4h0m0 4.3h0m.1 1.9h0m.1 1.6h0m0 4.1h0m.1-28.4h0m.1 4.5h0m.1 3.8h0m0 4.4h0m0 15.9h0m.1-18.8h0m.1-14.4h0m0 9.5h0m.1 6.4h0m0 6h0m.1-15.3h0m.1 1.7h0m0 9.9h0m0 13.6h0m0 2.4h0m.1-37.2h0m0 41.2h0m.1-11.7h0m.2-19.9h0m.1-9.2h0m0 4.3h0m0 22.8h0m0 11h0m.1-32.9h0m0 24.5h0m.1-6.2h0m0 7.3h0m0 1.3h0m.1-31.4h0m0 11h0m0 12.6h0m.2 4.8h0m0 1.4h0m.1-22.2h0m0 12.7h0m0 5.5h0m0 .4h0m.1-22.6h0m.1 11.9h0m0 16.2h0m0 7.4h0m.1-36.2h0m.1 9.3h0m0 27.7h0m.1-40.9h0m.2 2.3h0m0 13.1h0m0 19.2h0m.1-20.3h0m0 7.6h0m0 14.3h0m.1-28.3h0m0 10.3h0m0 5.3h0m0 15.1h0m.1-39.9h0m0 28.4h0m0 4.2h0m.1-30.8h0m0 1.6h0m0 34h0m.1-23.3h0m.1-5.9h0m0 16.3h0m0 6.5h0m0 2.7h0m.2 1.5h0m0 3h0m.1-33.4h0m0 8.4h0m0 10.5h0m0 8.2h0m.1-11.4h0m0 18.8h0m0 3.2h0m.1-33h0m0 12.2h0m.1-10.9h0m0 15.8h0m.3-19.4h0m0 8.2h0m0 2.8h0m.1 3.8h0m0 19.6h0m.1-16.9h0m.1 2.9h0m.1-10.8h0m0 7.1h0m0 5.3h0m.1-20.2h0m0 17.8h0m0 7.5h0m.1-32.4h0m0 17.6h0m.1-14.9h0m0 3.1h0m0 24.8h0m.1-.2h0m0 6.3h0m.2-29.1h0m0 3.3h0m.2-7.3h0m.1 12.4h0m.1-15.1h0m.1 4.3h0m0 6h0m.1 23.2h0m.1-25.2h0m0 6.2h0m.1-8.1h0m0 12.5h0m0 11.6h0m0 8.5h0m.1-9.5h0m.1-29.5h0m.1 7.8h0m0 16.5h0m0 7h0m.3-18.6h0m.1-10.9h0m.1 9.6h0m0 10h0m.1-18.5h0m0 19.4h0m.1-19.2h0m0 18.4h0m.1-19.3h0m0 12.8h0m0 6.3h0m0 15.4h0m.1-7.3h0m.1-24.5h0m0 3.1h0m0 4.2h0m0 13.5h0m0 4.2h0m.1-24.4h0m0 4.8h0m0 1.6h0m.1 7.3h0m0 8.5h0m0 4.7h0m.1-7.8h0m.1-10.4h0m0 8.7h0m.1 10.9h0m.1-34.3h0m.3 39.8h0m.1-40.1h0m.1 13.1h0m0 3.6h0m0 2.3h0m0 5.1h0m.1-19.6h0m0 34.1h0m.2-31.5h0m0 19.6h0m0 1.1h0m0 4.4h0m.1-22.8h0m0 20.5h0m0 .8h0m.1-18.2h0m0 9.2h0m0 13.3h0m.1 2.4h0m0 2.5h0m.2-36.8h0m0 17.3h0m.3 3.2h0m0 12.7h0m.1-22h0m0 9.7h0m.1-15.7h0m0 14.2h0m0 15.5h0m.2-32.2h0m0 9.5h0m0 1.3h0m.1-9.6h0m0 21.4h0m0 1.2h0m.1-2.4h0m.1-24h0m0 23.1h0m0 5.2h0m0 5.2h0m.1-32.3h0m0 5.7h0m0 8.1h0m.1-18.8h0m.1 40.1h0m.1-27.4h0m0 10.1h0m.2-21.1h0m0 13h0m0 18h0m0 3.3h0m.1-16.1h0m.2-3.9h0m0 23.1h0m.1-26h0m0 6.9h0m.1-20.5h0m0 22.9h0m.1-21h0m0 5.1h0m0 18.5h0m0 3.5h0m0 9.1h0m.2-32.6h0m0 5.4h0m.1-7.5h0m0 5.8h0m.1 26.6h0m.1-18.6h0m0 13.6h0m.1 3.7h0m.1-2.7h0m0 2h0m.1-25.8h0m0 6.6h0m.1 10.2h0m0 13.5h0m.1-15.2h0m0 1h0m0 10.9h0m.1-25.3h0m0 2.6h0m.1-11.2h0m0 29h0m.1-2.7h0m.1 5.5h0m.2-30.5h0m0 39.8h0m.1-34.9h0m0 12.7h0m.1-5.3h0m0 25.7h0m.1-11.8h0m0 2.4h0m.1-24.7h0m0 7h0m0 4.8h0m.1-13.8h0m0 12.7h0m0 4.6h0m.1-4.7h0m.1 5.4h0m.1-15h0m0 3h0m0 30.4h0m.1-10.6h0m.1-20.5h0m0 22.6h0m0 2.9h0m0 4.1h0m.2-34.7h0m.1 14.6h0m0 .8h0m0 8.9h0m0 6.8h0m.2-23.1h0m.1 1.8h0m0 1.3h0m0 11.5h0m.2-26.7h0m0 2.6h0m0 30.7h0m.1-26.6h0m0 6.1h0m0 11.8h0m.2-7.6h0m0 17.7h0m0 5.6h0m.1-20.3h0m.1 20.8h0m.1-39.2h0m0 6.8h0m.1 14h0m0 1.2h0m.1-9.3h0m0 11h0m.1-23.9h0m0 2.8h0m.1 13.5h0m0 10.9h0m0 7.3h0m0 1.1h0m.1-16.2h0m.1-5.5h0m0 11h0m0 1.7h0m0 5.5h0m.1-29.4h0m.1-4.1h0m0 3.7h0m.1 16.5h0m0 18.6h0m.1-30.9h0m0 32.2h0m.1-13.2h0m0 .8h0m0 4.8h0m0 8.3h0m.2-27.7h0m0 9.8h0m0 11.6h0m.1-29.3h0m0 18.5h0m.1-15.1h0m0 5.6h0m.1-13.3h0m.1 28.9h0m0 1.5h0m.1-29.8h0m0 9.5h0m0 4.2h0m.2-9.4h0m.1 18.6h0m0 4h0m.1-19h0m0 26.9h0m.1-33.1h0m0 7.6h0m0 10.4h0m.1 5.8h0m.2 5.7h0m0 7.9h0m.1-26.5h0m0 25.7h0m.1-34.5h0m0 14.7h0m.2 3.5h0m0 2.4h0m.1-12.7h0m0 4.8h0m.1-2.9h0m0 10.1h0m0 9.3h0m.1-17h0m.1-17.4h0m0 5.5h0m0 5.2h0m.2 11.2h0m0 6h0m0 3.1h0m0 4.8h0m.2-24.5h0m.2 14.9h0m.1-13.1h0m.1 4.2h0m.1-14h0m0 29.8h0m0 6.6h0m.1-30.3h0m0 5.2h0m0 1.1h0m.1 2h0m0 2.1h0m0 1.2h0m0 13.3h0m.1-27.2h0m0 29.6h0m.1-28.2h0m0 30.1h0m.1-38.7h0m0 2.5h0m0 23.1h0m.1-4h0m0 7h0m.1-22.2h0m0 28.5h0m.1-23.6h0m0 21.7h0m.1-13.6h0m.1-19.7h0m0 4.7h0m0 4.4h0m0 15.6h0m.1-6.1h0m.1 4.8h0m0 14.7h0m.1 2.4h0m0 .6h0m.2-37.3h0m0 6.5h0m0 3.6h0m0 7.5h0m0 5.3h0m0 1.2h0m0 3.8h0m0 5.1h0m.1-.3h0m.1-28.2h0m.1 7h0m0 1.2h0m.1-5.9h0m0 23.6h0m.1-1.6h0m0 1.4h0m0 4.8h0m.1-37.1h0m0 19.6h0m0 8.6h0m.1-12.6h0m.1 1.4h0m0 .5h0m0 2.9h0m0 5.8h0m.1-18.4h0m0 21.6h0m.1-23.5h0m.2-6.1h0m.1 1.6h0m0 38h0m.1-26.2h0m0 11.7h0m.1-13.6h0m.1 2.8h0m.1-6.7h0m.1-7h0m0 15h0m0 10.4h0m.1-13.3h0m0 17.6h0m0 1.9h0m0 1.8h0m.1-25.6h0m0 3.4h0m0 2.3h0m.1 5.5h0m.1-.6h0m0 9.1h0m0 7.9h0m.1-33.8h0m.1-3.8h0m0 11.4h0m.1-10.3h0m0 34h0m0 4h0m.2-33.9h0m.1 1.5h0m0 17.4h0m.1-15.6h0m0 10.5h0m0 22.2h0m.2-31.1h0m0 1.2h0m0 24.5h0m.1-29.3h0m0 13.2h0m0 13.3h0m0 4.8h0m.1-32.5h0m.2 8.6h0m0 2.7h0m0 13.7h0m.1-7.9h0m.1-7.8h0m0 14.1h0m0 .8h0m0 9.2h0m.2-35h0m0 31.1h0m.1-27.2h0m.2 13.3h0m.2-16.1h0m0 4.6h0m0 6.8h0m0 3.2h0m0 8.9h0m.1-15.6h0m.1 8.7h0m.3-17.4h0m.1 19.4h0m.1-23.6h0m0 .7h0m0 6.4h0m0 24h0m.1-23.4h0m0 19.3h0m0 10.4h0m.1-20.1h0m.1 19.3h0m.1-14.3h0m.1-19.5h0m0 8.4h0m0 7.5h0m0 7.1h0m.1 11h0m.1-9.8h0m.1-23.7h0m0 22.6h0m0 3.9h0m.2-14.5h0m.1 16.9h0m.1-7.7h0m.1-10.5h0m0 21.7h0m.1-15.1h0m.1-20.3h0m0 11.8h0m0 16.2h0m0 8.8h0m.1-28.4h0m.1-2.4h0m0 24.8h0m0 7.5h0m.2-27.5h0m0 21.9h0m0 2.5h0m.1-10.8h0m0 .2h0m.3-8.8h0m0 1.8h0m0 19.2h0m.1-18.5h0m0 15.5h0m0 2.9h0m.1-31.3h0m0 15.3h0m0 7.4h0m0 11.7h0m.2-30.3h0m0 10.2h0m.1-18.6h0m0 .9h0m0 29h0m0 8.1h0m.1-32.7h0m0 3.4h0m0 16.8h0m.1-13.6h0m0 9.2h0m.1 18.7h0m.2-25.9h0m.1-7h0m0 3.7h0m0 13.9h0m0 .8h0m.1-22.4h0m0 28.6h0m.1-15.2h0m0 19.9h0m.1-14.5h0m0 16h0m0 1.5h0m.1-19.3h0m.1-16.2h0m.1-2.6h0m0 25.8h0m.1-19.5h0m0 10h0m.1 18.2h0m.1-1.5h0m0 6h0m.1-30.1h0m0 5.4h0m.1-16.5h0m0 6.4h0m0 23.8h0m.1-13.7h0m0 2h0m.2-17.8h0m.1 14.1h0m.1-6.2h0m0 20.1h0m.1 .3h0m.1-25.1h0m0 6.7h0m0 12.1h0m.1 16.5h0m.2-37h0m0 3.3h0m0 .5h0m0 15h0m.1-7.3h0m.1 3.7h0m.2-14.5h0m0 16.6h0m.1-11h0m0 18h0m.1-20.7h0m0 24.3h0m0 6.3h0m0 2.3h0m.2-39h0m0 28.9h0m0 9.3h0m.1-33.2h0m0 8.7h0m.1-5.6h0m0 32.4h0m.1-24.5h0m0 9.5h0m0 6.8h0m.2 1.2h0m.1-32.6h0m0 10.6h0m0 7.4h0m0 5.4h0m.1-1.9h0m.1-.3h0m.1 2.9h0m.1 8.9h0m.1-13.9h0m0 20.4h0m.1-17.8h0m.1-15.1h0m0 4.7h0m.1-11.4h0m0 3.9h0m.1 4.6h0m0 32.4h0m.1-10.1h0m.1-12.1h0m.1-16.5h0m0 7.9h0m0 5.9h0m0 .3h0m.1 10.5h0m.1-24h0m0 17.8h0m0 6.6h0m0 6.7h0m0 3h0m.1-23.7h0m.1-7.3h0m0 7.6h0m.1 .4h0m0 9.8h0m.1-23.3h0m.1 18.4h0m.1-15h0m0 31.3h0m.1-33.6h0m0 14.6h0m0 6.3h0m.1-12.9h0m0 10.9h0m0 13.1h0m.1-5.8h0m0 1.4h0m0 7.8h0m.1-21.6h0m0 18.3h0m0 4.7h0m.3-34.3h0m0 1.8h0m0 3.1h0m.1-1.9h0m0 18.8h0m0 5h0m.1-19h0m0 5h0m0 7.4h0m.1-2h0m0 18.3h0m.1-40.5h0m0 7.6h0m.1-8h0m0 36.5h0m.2-23.3h0m0 2.8h0m.1-10h0m0 24.8h0m0 3.8h0m.1-29.7h0m0 20.1h0m.1-6.6h0m.2 3.1h0m.1-11.8h0m0 19.4h0m0 2.3h0m0 6h0m0 2.3h0m.1-11.7h0m0 10.5h0m.1-18.8h0m0 3.9h0m.3-19.4h0m.1 17.7h0m0 14.2h0m.1-35.5h0m0 9.9h0m0 .9h0m0 2.7h0m0 23.2h0m.2-21.4h0m0 10.1h0m0 12.3h0m.1-19h0m.1-1.5h0m0 9.7h0m.1-19.2h0m0 17.2h0m.1-18.6h0m0 11.2h0m.1-8.9h0m.1 22.8h0m.1-29.4h0m0 1.7h0m0 .6h0m0 23.7h0m0 2.1h0m0 4.1h0m.1 .8h0m0 2.2h0m.1-36.8h0m0 37.5h0m.1-28.2h0m0 7.3h0m0 6.2h0m0 5.1h0m.2-20.2h0m0 19.8h0m.1-26h0m0 9.5h0m0 20.6h0m.1-26h0m0 6.4h0m.1 9h0m.1-6.2h0m0 4.6h0m.1 5.3h0m.1-22.1h0m0 14.9h0m.1 3.2h0m.2-7h0m0 1.2h0m.1-3.5h0m0 6.8h0m0 19.5h0m.1-16.5h0m0 11h0m.1-25h0m0 17h0m0 3.7h0m.1-22.7h0m0 29.4h0m.1-33.8h0m.2 29.6h0m.1-5.2h0m.1-16.9h0m0 14.8h0m0 4.4h0m.2-24.3h0m0 32.6h0m.1-36.1h0m.1 1.8h0m0 22.2h0m.1-13.8h0m0 11.4h0m.1-8.3h0m.1-1.1h0m.1-9h0m0 31.5h0m.2-29.8h0m0 15.9h0m0 11.6h0m.1-27.3h0m0 2.3h0m0 3.4h0m0 5h0m0 3h0m.3 7.4h0m0 10.7h0m.1-21.4h0m0 14.2h0m.1-11.7h0m0 12.7h0m.1 1.1h0m0 .5h0m.1-28.4h0m0 6.1h0m.2-6.5h0m.1 1.7h0m0 1.7h0m.1 17.1h0m0 12.7h0m0 1.2h0m.1-27.3h0m0 3.7h0m0 .4h0m0 4.4h0m.2-17.5h0m0 28.1h0m0 4.7h0m.2-22.6h0m0 11.8h0m0 2.7h0m.1-9.4h0m.1 10h0m.1 2.1h0m0 5.7h0m.1-32.7h0m.1 3.4h0m0 .9h0m0 13.6h0m.2-5.7h0m0 2.8h0m.2 19.7h0m.1-32h0m0 4.5h0m0 12.7h0m0 1.3h0m.1-12.8h0m0 5.1h0m.1 9.3h0m0 1.3h0m0 5.2h0m.2-22.6h0m0 8.7h0m.1 9.4h0m.1 2.8h0m.1-19.7h0m0 2.8h0m0 1h0m.1-9.4h0m0 18.7h0m.1 3.7h0m.1-8h0m.2-7.1h0m0 16.9h0m.1-21.7h0m0 14.6h0m0 13.2h0m.1-19.9h0m.2-6.5h0m.1 9.5h0m.1 16.1h0m.1-4.3h0m.1-23.9h0m0 9.2h0m.2-6h0m0 3.3h0m.1 9.1h0m0 10.1h0m.1-6h0m0 4h0m.1-5.8h0m0 .5h0m.4-16.6h0m0 11h0m.1-1.7h0m0 16.2h0m.1-12.7h0m0 13.2h0m.1-6.1h0m.1-16.7h0m.2 .8h0m.2 .8h0m0 3.3h0m0 5.4h0m.2-10.8h0m.1 20.3h0m0 1h0m.1-14.4h0m.1 4.9h0m.1 3.4h0m.1-18h0m0 6.1h0m.1 5.1h0m.1 1.6h0m0 3.9h0m0 3.4h0m.1-16.5h0m0 7.2h0m.2-3.7h0m.4-4.8h0m.1 2.6h0" stroke="#3e26a8" stroke-width="1.3" stroke-linecap="round" fill="none"/><path d="M184.4 584.4h0m.4-8.5h0m.2 3.2h0m.1 3.9h0m.1 4.4h0m0 3.7h0m.2-5.7h0m0 8.2h0m.1 6.9h0m.1-15.6h0m0 5.3h0m.1 8.4h0m.1-10.3h0m0 6.6h0m.1-15h0m.1 2.3h0m.1-9.4h0m.1 4h0m0 3.9h0m.1-6.5h0m0 22.9h0m.1-13.9h0m.2-1.6h0m.1 5.5h0m0 14h0m.1-31.2h0m.1 23.6h0m.1 2.3h0m0 8.3h0m.1-29.6h0m0 10.8h0m0 13.8h0m0 2.9h0m.1-18h0m.1-13.4h0m0 20.8h0m.1 6.7h0m.1-14.7h0m0 14.4h0m.1-21.2h0m0 19.1h0m.1-23h0m0 16.2h0m.1 10.8h0m.1-22.1h0m.1 1.5h0m0 6.5h0m0 18.3h0m.1-28.7h0m0 15.4h0m.1-19.2h0m.1 29.3h0m.1-16.4h0m0 2.6h0m.1 15.3h0m.2-34.5h0m0 21.8h0m0 3.6h0m0 3h0m.1-10.6h0m.1-5.5h0m0 16h0m0 7.2h0m.1-36.9h0m0 9.4h0m0 .4h0m0 12h0m0 12.8h0m.1-11h0m0 14.1h0m.1-32.6h0m0 27.9h0m.1-29.2h0m.1-2.1h0m0 16.7h0m.1-11.2h0m0 18.9h0m.1-15.3h0m0 1.6h0m0 4.9h0m.1 22.9h0m.2-12.3h0m.1-12.9h0m0 6.1h0m0 10.2h0m0 4.9h0m.1-8.3h0m.3-17.1h0m0 23.7h0m.1-5.7h0m0 9.1h0m.2 2.9h0m.1-9.1h0m.2 4h0m.1-32.6h0m0 34h0m0 2.4h0m.2-40h0m0 2.9h0m.2-2.5h0m.2 35h0m0 6.8h0m.1-39.3h0m.1 .7h0m0 3.1h0m.1 33.9h0m.3 2.4h0m.1-41.5h0m0 35.7h0m.2-39.5h0m0 41.4h0m.2-37.9h0m.4 36.2h0m0 2.9h0m.1 1.3h0m.2 .8h0m.4-42.8h0m.3 42.8h0m.1-2.7h0m.2-36.3h0m.2-4.4h0m0 .8h0m.5 .7h0m.2-3.6h0m.2-.4h0m0 46.4h0m.1-45h0m.1 42.9h0m.2-40.8h0m.3 44.5h0m.3-3.2h0m.2 .4h0m.2-43.4h0m.1 46.1h0m.1-47.8h0m.4 46.7h0m.3-43.7h0m.3-2.5h0m.2 2h0m.1 44.7h0m.7-2.9h0m.3 1.8h0m.1 2.4h0m.4-3.1h0m.2-45h0m0 1.1h0m.3 1.5h0m.1-3.4h0m0 47.8h0m.2 1.2h0m.3-49.7h0m.5 46.7h0m.8-43.2h0m.4 43.3h0m.1-47.4h0m0 1.8h0m.3-1h0m.1 50h0m.1-48.7h0m.3 47.6h0m.1-48.8h0m1 50.2h0m.1-49.9h0m.4-1.1h0m0 47.7h0m.7-45.7h0m.3 47.9h0m.2-50.4h0m.3 50h0m.4-47.2h0m0 49h0m.1-51.1h0m0 48.1h0m.7 2.7h0m.3-50h0m0 1.4h0m1-.6h0m0 49.2h0m.4-50.4h0m.4 0h0m.4 50h0m.5-48.5h0m.2-2.4h0m.3 1.2h0m.2 50.8h0m.3-49.1h0m.1 47.7h0m.3-.8h0m.5 1.4h0m.2-51.5h0m0 2.8h0m.3 46.9h0m.3 2.2h0m.3-50.6h0m1.2-.7h0m0 2.5h0m.1 47.6h0m0 .7h0m.2-47.8h0m.5 46.8h0m.2-50.3h0m.3 1.3h0m0 1.2h0m.8-.8h0m.5 48.1h0m.6 2.2h0m.2-1.8h0m.3-49.6h0m0 1.5h0m0 49.6h0m.9-52h0m.4 2.2h0m.1 48.8h0m.1-47.9h0m.3-2.6h0m.5 50.4h0m.3 1.5h0m.2-2.4h0m.1-48.5h0m.2 .6h0m.9 .3h0m.1 47.7h0m0 1.5h0m.5 0h0m.5-50.6h0m.5 48.7h0m.1-46.7h0m.3-2.9h0m0 2.5h0m.1 48.4h0m.3-49.9h0m.4 48.5h0m.7-47.5h0m0 48.3h0m.1 .8h0m.2-48.4h0m.9 .3h0m.9-1.6h0m.3 48.3h0m0 3h0m.7-53h0m0 51.1h0m.1-49.7h0m.8-.3h0m.6 2.4h0m.1 46.2h0m.4 1.3h0m.7-49.2h0m0 1.2h0m0 49.5h0m.2-52h0m.2 .5h0m.2 51.7h0m.6-50.3h0m.2-.9h0m0 50.3h0m.3-48.8h0m.1-3h0m.5 50.5h0m0 .8h0m.7-49.1h0m.1 49h0m.5-49.3h0m.6-.9h0m0 2.5h0m.3 49.5h0m.6-.9h0m.2-48.6h0m.3 47h0m.1-50.1h0m.7 49.5h0m.1 1.3h0m1.1 .9h0m.5-49.7h0m.1-1.3h0m.1 49.2h0m.6 .4h0m0 1.7h0m.3-51.1h0m.3 1.9h0m.2 47.4h0m.5 .9h0m.4-51.2h0m0 3h0m.2-1.7h0m.2 51.2h0m.2-1.4h0m.6-1.3h0m.9-48.4h0m.4 1.9h0m0 46.5h0m.1 1.8h0m.5-50.7h0m0 49.4h0m.3 2.2h0m.4-.6h0m.1-49.2h0m.7 47h0m.3-48.8h0m.3 2.5h0m.7-1.4h0m.4 49.8h0m.1-49.6h0m.3 1.4h0m.1 46.5h0m.5 1.2h0m.6-47.6h0m.1-.4h0m.2 46.2h0m.6 2.1h0m.3-3.1h0m.2-44.9h0m.1-1h0m0 47.5h0m.3-46.7h0m.3 44.8h0m.1-46.2h0m0 49.8h0m.2-1.4h0m.6-46h0m.3-1.1h0m0 45.6h0m.4-47.4h0m.3 50.3h0m.1-1.9h0m.4-45.2h0m0 45.2h0m.2-49h0m.5 50.1h0m.3-47.6h0m.3 44.5h0m.5 .3h0m.2-43.5h0m0 44.6h0m.8 2h0m.1-1.1h0m.2-47.4h0m.2 45.9h0m.5-46.8h0m0 2.4h0m.5 .6h0m0 44.5h0m.4-2.4h0m.2 1h0m.1-44.3h0m.4 2.3h0m0 43.1h0m.6-45.5h0m0 42.7h0m.1 .4h0m.1-40.2h0m.3 43.2h0m.3-4h0m.3 1.5h0m.1-43.7h0m0 45.8h0m.3-44h0m0 39.2h0m0 4.2h0m.5-42.2h0m.2 37.9h0m.2-40.5h0m.1 42.1h0m.1-37.1h0m.3 34.4h0m.1 4.3h0m0 1.5h0m.4-42.2h0m0 .8h0m.2-3.6h0m0 39.3h0m.1-2h0m.2-31.5h0m0 34.7h0m0 4.2h0m.2-43.6h0m.1 41.5h0m.2-.4h0m.3-2.1h0m.1-4.5h0m.2-25.8h0m.1 1.7h0m.1-11.2h0m.1 .5h0m.3 3.1h0m.1 35.4h0m.2-18h0m0 12.4h0m.1-21.6h0m.1 3.2h0m0 6.2h0m0 6h0m0 13.3h0m.1-5.6h0m0 6.7h0m.1-23.7h0m0 11.5h0m0 8.7h0m0 .3h0m.1-32.1h0m0 24.2h0m0 1.9h0m.1-28.4h0m0 20.9h0m.1-2h0m.1-15.3h0m0 8.8h0m0 8h0m.1-19.6h0m.3 5.8h0m0 17.8h0m.2-23.1h0m.1 6.4h0m.1 18.1h0m.1-19.8h0m0 5.1h0m0 .2h0m.1 4.7h0m.1 1.5h0m0 1.3h0m0 2.4h0m.2 .9h0m0 5.5h0m0 7.6h0m0 .7h0m.1-36.2h0m.2 5.6h0m0 8.6h0m0 12.2h0m.1 3h0m0 4.7h0m.1-13.2h0m0 11.5h0m.1-26.8h0m0 21.4h0m.1-12h0m0 18.5h0m.2-11h0m.1-4h0m.1-2.2h0m0 12.3h0m.1-10.8h0m.1-10.6h0m0 13.6h0m0 11h0m.1-20.3h0m0 13.4h0m0 4.8h0m.2-21.2h0m.2 5.6h0m.1-2.2h0m.1 12.1h0m.1-8.8h0m.1-3.7h0m0 .5h0m0 7.1h0m.2 10.3h0m.1-9.4h0m.1-6.2h0m0 3.7h0m0 7.5h0m.1-17.4h0m0 19.4h0m0 1.1h0m.1-19.1h0m0 14.2h0m.2-6.5h0m.1 4.9h0m.2-1.3h0m.1-6.1h0m0 2.8h0m0 7.5h0" stroke="#465ffb" stroke-width="1.3" stroke-linecap="round" fill="none"/><path d="M179.4 592.7h0m.1 .7h0m.2 3.7h0m.1-14.4h0m0 11.3h0m.1-20.3h0m0 13.1h0m0 2.7h0m0 5.3h0m.1-17.5h0m0 3.4h0m.1-1.5h0m0 19.1h0m.1-13.6h0m.1-8.2h0m.2 12.1h0m.1-18.2h0m0 1.4h0m0 21.3h0m.2-16.7h0m0 5.4h0m0 3.4h0m0 13.9h0m.2-12.5h0m.1-11.9h0m0 10.7h0m0 6h0m0 1.2h0m.1 9.6h0m.2-32.7h0m0 18.5h0m.1-7.1h0m0 19.7h0m0 4.4h0m.1-26.5h0m0 25.1h0m.1-32h0m0 1.8h0m0 11.6h0m0 9.5h0m.1 2h0m.1-24.1h0m0 17.6h0m.2-7h0m.1-15.4h0m0 3h0m0 27.3h0m.1-6.9h0m0 14.5h0m.1-30.8h0m.2 13.6h0m0 5.6h0m0 5h0m0 3.8h0m.1-22.1h0m0 8.7h0m.1 12.4h0m0 5.7h0m.2-33.8h0m.2-6.4h0m0 5.4h0m0 32.6h0m.2-35h0m.2-3.4h0m0 40.4h0m.4 2.1h0m.4-39.6h0m.1-4.4h0m0 40.8h0m.5 .1h0m.5-38.8h0m0 41.7h0m.3 1.2h0m.2-45.4h0m.1 .1h0m.1 43.6h0m.6-45.3h0m0 44.5h0m.6-43.3h0m0 45.4h0m.6 .8h0m.1-1.8h0m.1-46.3h0m.1 49h0m.7 .4h0m.3-1.6h0m.2-50.1h0m.1 1.8h0m.7-2.2h0m0 3.3h0m.7-1.5h0m.2 51.5h0m.2-1.6h0m.2-49.5h0m.8 49.6h0m.6-50.9h0m.1 51.3h0m.9-.4h0m.6 .9h0m1.4-52.5h0m.3 52.5h0m1.3-52.8h0m2.1 53.3h0m53.4-53.5h0m7.1 53.3h0m.7 .2h0m.9-52.8h0m3.2 51.1h0m.7-49.9h0m.6-1.2h0m.3 1.6h0m.7 49.2h0m.8 1h0m.2-50.8h0m0 1h0m.3 48.3h0m.3-48.7h0m0 50.5h0m.1-49h0m0 45.6h0m0 1.9h0m1-47.1h0m.4 44.7h0m0 2.1h0m.5-3.4h0m.3-41.2h0m0 44.6h0m.7-42.3h0m.2-1.7h0m0 41.7h0m.1-.5h0m.4-41.2h0m.1-3.1h0m0 2.2h0m0 43.2h0m.1-1.9h0m.2-38.9h0m.1 35.9h0m.5-.4h0m.3-36h0m0 27h0m.2-24.7h0m.1-2.9h0m0 14.4h0m0 19.1h0m.1-28.7h0m.1 1.4h0m0 28.5h0m.3-7.6h0m.1 5.8h0m0 3.7h0m.1-27.7h0m.1 22.6h0m0 6.2h0m.1-29.8h0m.1-6.5h0m0 16.5h0m0 3.5h0m0 8.1h0m.2-22.8h0m0 18.3h0m0 13.5h0m.2-.3h0m.1-35.5h0m0 16.6h0m0 8.4h0m.1-.8h0m.1-2.9h0m.1-14.5h0m0 2.9h0m0 18.2h0m0 3h0m.2-13.2h0m.1-15.3h0m0 5.6h0m0 5.6h0m0 15.4h0m.1-28h0m0 13.7h0m.1-14.6h0m0 17.5h0m0 2.9h0m.1 2.6h0m.1-16.7h0m0 22.2h0m.1-23.6h0m0 16.9h0m.2 9.5h0m.1-20h0m0 18h0m.1-20.8h0m0 1.6h0m.1 16.1h0m.1-13.1h0m.2 5.8h0m.2-13.6h0m.3 18.4h0" stroke="#16afd9" stroke-width="1.3" stroke-linecap="round" fill="none"/><path d="M175.5 590.9h0m.1-16.6h0m0 22.3h0m.1-3.1h0m0 4.1h0m.1-18.4h0m0 19.9h0m.1-17.1h0m.2-3.7h0m0 6.2h0m0 10.2h0m.4-19.7h0m0 13.8h0m.1-8.3h0m0 7.3h0m0 12.9h0m0 1.7h0m.1-16.7h0m0 3.8h0m.1-19.4h0m0 .6h0m0 15.4h0m.2 8.5h0m.1-16.3h0m0 21.1h0m.1-29.7h0m.1 15.4h0m0 12.3h0m.1-15.5h0m0 15.1h0m.1-17.4h0m.2 8.1h0m0 12.5h0m0 3.2h0m.1-23.2h0m0 13.1h0m.1-21.7h0m0 .1h0m0 17.3h0m0 12.8h0m.1-34.7h0m0 37.8h0m.2 .3h0m.1-37.3h0m.1 35.1h0m.4-36.5h0m0 2.5h0m.2 38.9h0m.1 1.5h0m.3-3h0m.2 2.1h0m.1-1.6h0m.4-42.9h0m.2 1.4h0m.2-3.3h0m0 1.1h0m.3 44.6h0m.1-43.3h0m.2 47.1h0m.2-2.9h0m.2 .7h0m.5-48.1h0m.1-.8h0m.6 1.8h0m0 47.3h0m.6-47.5h0m.6-.6h0m.1 48.8h0m.1 2.8h0m.2-2.1h0m.4-50.4h0m.2-.6h0m.2 53.3h0m1.3-53.7h0m84.4 53.6h0m.2-52.9h0m.8-.3h0m0 52.8h0m1.5-.5h0m.1-50.1h0m0 48.4h0m.2 .9h0m.3-1.6h0m.4 1.6h0m.1-51.5h0m.9 2h0m.5 1.9h0m0 44.6h0m.1 2h0m.2-47h0m.3 1.8h0m.4-.4h0m.3-1.9h0m.4 4.4h0m0 42.1h0m.1-41.4h0m.2 40.4h0m.1-1h0m.1-3.3h0m.2-38.6h0m.1 3.4h0m.2 31.4h0m.1 6h0m.1-33.9h0m0 29.9h0m.5 2h0m.1-13.1h0m0 15.6h0m.1-36.1h0m0 13.6h0m0 17.1h0m.2-34.3h0m0 6.8h0m.1 5.1h0m0 9.1h0m0 8.4h0m.1-2.5h0m0 6.6h0m0 4.9h0m.1-37h0m0 1.6h0m0 24.5h0m0 8h0m.1-4.6h0m.2-22.1h0m.1 11.4h0m0 11.4h0m.2 3.7h0m.1-30.2h0m0 16.7h0m0 1.3h0m0 2.3h0m.1 11.9h0m.1-9.3h0m0 1.9h0m.1-13.7h0m0 3.4h0m.1 13.9h0m.1-24.2h0m0 5.8h0m.1 15.1h0m.1-24.3h0m.3 4.4h0m0 2.2h0" stroke="#58cc79" stroke-width="1.3" stroke-linecap="round" fill="none"/><path d="M175.7 608.9h0m.3-47.8h0m0 48.6h0m.3-49.5h0m.1 3.9h0m.1 48.6h0m.1-50.2h0m.3 1.2h0m.1-.9h0m0 45.4h0m.1-47.7h0m.5 49.8h0m.2 .6h0m.3-49.1h0m0 51.6h0m.2-53.2h0m.6 1.7h0m.1 49.8h0m.4 1.3h0m1.2-.3h0m95.7 .3h0m2-52.7h0m.1 50.4h0m.4 2.1h0m.1-49.8h0m.1-1.9h0m.9 49.2h0m.1 1.7h0m0 1.4h0m.1-52.1h0m0 46.9h0m.3 .9h0m.1-43.8h0m0 47.5h0m.4-49.7h0m.4-2h0m0 50.1h0m.2-1.6h0m.1-48.8h0m0 46.1h0" stroke="#fec13a" stroke-width="1.3" stroke-linecap="round" fill="none"/></g><path d="M187.12 613.42v-1.0M187.12 559.52v1.0M207.86 613.42v-1.0M207.86 559.52v1.0M228.6 613.42v-1.0M228.6 559.52v1.0M249.34 613.42v-1.0M249.34 559.52v1.0M270.08 613.42v-1.0M270.08 559.52v1.0M175.5 607.52h1.0M281.7 607.52h-1.0M175.5 586.47h1.0M281.7 586.47h-1.0M175.5 565.42h1.0M281.7 565.42h-1.0" stroke="#262626" stroke-width="0.6" fill="none"/><rect x="175.5" y="559.52" width="106.2" height="53.9" fill="none" stroke="#262626" stroke-width="0.7"/><text x="187.12" y="623.22" font-size="7.6" text-anchor="middle" fill="#262626">-1</text><text x="207.86" y="623.22" font-size="7.6" text-anchor="middle" fill="#262626">-0.5</text><text x="228.6" y="623.22" font-size="7.6" text-anchor="middle" fill="#262626">0</text><text x="249.34" y="623.22" font-size="7.6" text-anchor="middle" fill="#262626">0.5</text><text x="270.08" y="623.22" font-size="7.6" text-anchor="middle" fill="#262626">1</text><text x="174" y="610.53" font-size="7.6" text-anchor="end" fill="#262626">-1</text><text x="174" y="589.48" font-size="7.6" text-anchor="end" fill="#262626">0</text><text x="174" y="568.42" font-size="7.6" text-anchor="end" fill="#262626">1</text><text transform="translate(228.6 558.32) scale(1 1.12)" font-size="8.55" text-anchor="middle" font-weight="bold" fill="#000">Search history</text><path d="M180.5 571.7h0m2.4-1.6h0m.8-7.2h0m0 45.9h0m4-44.3h0m0 20.1h0m.8 17.7h0m2.4-37.8h0m0 9.6h0m2.5 17.8h0m0 16.1h0m.8-23.4h0m0 16.9h0m1.6-24.9h0m.8 20.9h0m.8-9.7h0m.8-8.8h0m.8 16.9h0m1.6 12.9h0m0 3.2h0m.5-22.5h0m.3-23.4h0m1 20.8h0m3.1-10.2h0m2 24.3h0m.6-17.4h0m.1 0h0m.2-3.7h0m.3-17.8h0m0 25.8h0m0 22.5h0m.3-20.8h0m.4-7.7h0m.8-5.4h0m.2-4.9h0m1.3 6.2h0m0 13.2h0m.3-3.5h0m.1-11.5h0m0 15.4h0m.6-17.9h0m0 3.9h0m.3-.8h0m0 14.6h0m.1-10.3h0m0 3.3h0m.2-13h0m.3 4.9h0m1.1 12.6h0m.4 15.2h0m.1-23.6h0m.1 9.4h0m0 9.2h0m0 2.1h0m.8-16.1h0m.2 .4h0m.1-9.4h0m.1-2.3h0m0 3.2h0m.3 13.7h0m.2-10.7h0m.1-3.5h0m0 9.9h0m.1-6.5h0m.1-2.7h0m.2 2.9h0m.1-2.1h0m.2 2.5h0m0 7.3h0m.5-2h0m0 16.7h0m.3-28.7h0m.1 1.8h0m0 11.4h0m.1-5.9h0m0 13.4h0m.3-3.8h0m.6-7.6h0m0 .9h0m.1-4.6h0m.1-16.3h0m.2 33.2h0m.3-9.7h0m.1 6.3h0m.2 4.4h0m.1-14.8h0m.7 7.1h0m0 7.3h0m.2-10.9h0m.1-12.6h0m0 20.8h0m.3-.2h0m.1-11.6h0m.2-9.2h0m.6 .2h0m0 14.6h0m.2-17.6h0m.1 6.9h0m.4 0h0m0 19h0m.7-10.6h0m.5-8.7h0m0 17.9h0m.2-12.1h0m.1 11.6h0m.1-22.4h0m.2 26.3h0m.1-36.9h0m0 44.3h0m.1-34.3h0m.3 0h0m0 7.6h0m0 5.7h0m.1-6.3h0m.1 11.6h0m.1-7.6h0m.2-2.1h0m.1 5.7h0m.6-9.6h0m.1-.5h0m0 4.3h0m.2 6.7h0m.9 10.6h0m.4-10.6h0m.1-10.9h0m.1 5.7h0m.1 5.9h0m.4 7.2h0m.2-15h0m.1 4.7h0m.1 1h0m.1-13.6h0m0 6.4h0m0 5.9h0m.2-10.8h0m.2-12.8h0m.2 11.3h0m.3 8.9h0m.2 15.7h0m.2-5.9h0m.1-5.3h0m.1 3.1h0m.4-9.7h0m0 14.3h0m.2-15.8h0m.2 19.3h0m.4-20.2h0m.2 17.2h0m.2-8.6h0m.1-1h0m.1-6.9h0m.1 9.7h0m.2 2.6h0m.1-13.2h0m.1-1.6h0m0 6.6h0m0 10.6h0m.1-3.8h0m.2-12.3h0m0 5.7h0m0 2.3h0m.2 1.1h0m0 6.2h0m.3-14.5h0m.2 1.8h0m.2 5.3h0m.1-1.9h0m.1 6.4h0m.1-6.9h0m.2 17.4h0m.1-25.9h0m.3 14.4h0m.1-22.3h0m.2 22.3h0m.4-9h0m.4 3.3h0m.2 2.6h0m.1-9.8h0m0 9.9h0m0 12.2h0m.1-16.8h0m0 8.9h0m.1 10.8h0m.1-23.2h0m.2 6.2h0m.2 3.1h0m.1 11.9h0m.1-15h0m.1 16.5h0m.2-20.2h0m0 7.9h0m.1 12.6h0m0 5.4h0m.1-16.4h0m.1 2h0m.1 5.2h0m.1-21h0m.3 .5h0m.1 25.4h0m.1-14.8h0m.3 4.6h0m0 6.5h0m.2-22.6h0m0 10.5h0m.1-11.2h0m.4 5.2h0m0 7.3h0m1.2 1.5h0m.3-4.4h0m.1-1.3h0m.1 5.6h0m.3-9.3h0m.1-2.8h0m0 13.3h0m.8-4h0m.1-8.7h0m.6-13.1h0m0 44.3h0m.2-15.9h0m.8-4.9h0m.1-5.9h0m0 1.7h0m.2 9.7h0m.1-1.6h0m.1 4.4h0m.2-14.3h0m.3 9.9h0m.1-1.2h0m.3 6.1h0m.3-17.7h0m.1-1.7h0m.4 33.8h0m.5-14.3h0m.1-3.4h0m.2 6.5h0m.2-4.1h0m.2-17.7h0m.4 3.5h0m.6 10.3h0m.2-2.2h0m.3 5.9h0m.4-2.6h0m.5-7.2h0m.2 .6h0m0 1.9h0m0 3.8h0m.1-20.2h0m.2 23.9h0m.1-10.7h0m.2 12h0m.2-3h0m.2-11.3h0m.4 2.9h0m0 3.7h0m.2 4.4h0m.5-3.9h0m.7 6.8h0m.1-6.9h0m1.3-12.6h0m0 11.9h0m.1 18.7h0m1.4-32.3h0m.2-7.1h0m0 26.6h0m.9-.8h0m.4-7.5h0m1.9-12.7h0m0 16.1h0m0 12.9h0m0 6.5h0m1.6 3.2h0m1.6-12.9h0m3.2-17.7h0m0 19.3h0m6.5-18.5h0m4.8-12.1h0m0 10.5h0m.8 21.7h0m.8-37h0m1.6 6.4h0m0 8.1h0m0 32.2h0" stroke="#ff0000" stroke-width="5.6" stroke-linecap="round" fill="none"/><circle cx="225.28" cy="586.47" r="4.0" fill="#00bb00"/><clipPath id="ctr6"><rect x="325.8" y="558.02" width="109.2" height="56.9"/></clipPath><g clip-path="url(#ctr6)"><path d="M327.83 559.52L328.89 613.42L334.2 613.42L334.73 597.19L341.11 597.19L341.64 570.3L372.44 570.3L372.97 577.6L384.12 577.6L384.65 603.22L395.27 603.22L395.8 581.54L433.5 581.54" stroke="#0072bd" stroke-width="2.4" fill="none" stroke-linejoin="round" stroke-linecap="butt"/></g><path d="M327.3 613.42v-1.0M327.3 559.52v1.0M353.85 613.42v-1.0M353.85 559.52v1.0M380.4 613.42v-1.0M380.4 559.52v1.0M406.95 613.42v-1.0M406.95 559.52v1.0M433.5 613.42v-1.0M433.5 559.52v1.0M327.3 608.2h1.0M433.5 608.2h-1.0M327.3 585.02h1.0M433.5 585.02h-1.0M327.3 561.84h1.0M433.5 561.84h-1.0" stroke="#262626" stroke-width="0.6" fill="none"/><rect x="327.3" y="559.52" width="106.2" height="53.9" fill="none" stroke="#262626" stroke-width="0.7"/><text x="327.3" y="623.22" font-size="7.6" text-anchor="middle" fill="#262626">0</text><text x="353.85" y="623.22" font-size="7.6" text-anchor="middle" fill="#262626">50</text><text x="380.4" y="623.22" font-size="7.6" text-anchor="middle" fill="#262626">100</text><text x="406.95" y="623.22" font-size="7.6" text-anchor="middle" fill="#262626">150</text><text x="433.5" y="623.22" font-size="7.6" text-anchor="middle" fill="#262626">200</text><text x="325.8" y="611.21" font-size="7.6" text-anchor="end" fill="#262626">-0.2</text><text x="325.8" y="588.03" font-size="7.6" text-anchor="end" fill="#262626">0</text><text x="325.8" y="564.85" font-size="7.6" text-anchor="end" fill="#262626">0.2</text><text transform="translate(380.4 558.32) scale(1 1.12)" font-size="8.55" text-anchor="middle" font-weight="bold" fill="#000">Trajectory curve</text><clipPath id="caf6"><rect x="477.8" y="558.02" width="108.4" height="56.9"/></clipPath><g clip-path="url(#caf6)"><path d="M479.3 564.91L487.37 575.69L493.09 582.7L501.15 590.24L506.88 595.09L511.32 598.33L519.38 604.26L525.11 606.68L529.86 608.25L538.89 610.19L546.96 611.26L557.12 612.07L564.65 612.61L574.54 612.88L584.7 612.88" stroke="#0072bd" stroke-width="2.4" fill="none" stroke-linejoin="round" stroke-linecap="butt"/></g><path d="M479.3 613.42v-1.0M479.3 559.52v1.0M525.11 613.42v-1.0M525.11 559.52v1.0M584.7 613.42v-1.0M584.7 559.52v1.0M479.3 613.42h1.0M584.7 613.42h-1.0M479.3 586.47h1.0M584.7 586.47h-1.0M479.3 559.52h1.0M584.7 559.52h-1.0" stroke="#262626" stroke-width="0.6" fill="none"/><rect x="479.3" y="559.52" width="105.4" height="53.9" fill="none" stroke="#262626" stroke-width="0.7"/><text x="479.3" y="623.22" font-size="7.6" text-anchor="middle" fill="#262626">1</text><text x="525.11" y="623.22" font-size="7.6" text-anchor="middle" fill="#262626">10</text><text x="584.7" y="623.22" font-size="7.6" text-anchor="middle" fill="#262626">200</text><text x="477.8" y="616.43" font-size="7.6" text-anchor="end" fill="#262626">0</text><text x="477.8" y="589.48" font-size="7.6" text-anchor="end" fill="#262626">0.5</text><text x="477.8" y="562.53" font-size="7.6" text-anchor="end" fill="#262626">1</text><text transform="translate(532 558.32) scale(1 1.12)" font-size="8.55" text-anchor="middle" font-weight="bold" fill="#000">Average fitness</text><clipPath id="ccv6"><rect x="629.8" y="558.02" width="108.4" height="56.9"/></clipPath><g clip-path="url(#ccv6)"><path d="M631.3 562.89L658.88 562.89L663.32 564.91L666.94 606.68L691.87 607.36L692.79 609.65L707.89 609.78L708.31 611.67L719.44 611.8L719.68 613.02L736.7 613.15" stroke="#0072bd" stroke-width="2.4" fill="none" stroke-linejoin="round" stroke-linecap="butt"/></g><path d="M631.3 613.42v-1.0M631.3 559.52v1.0M677.11 613.42v-1.0M677.11 559.52v1.0M736.7 613.42v-1.0M736.7 559.52v1.0M631.3 613.42h1.0M736.7 613.42h-1.0M631.3 586.47h1.0M736.7 586.47h-1.0M631.3 559.52h1.0M736.7 559.52h-1.0" stroke="#262626" stroke-width="0.6" fill="none"/><rect x="631.3" y="559.52" width="105.4" height="53.9" fill="none" stroke="#262626" stroke-width="0.7"/><text x="631.3" y="623.22" font-size="7.6" text-anchor="middle" fill="#262626">1</text><text x="677.11" y="623.22" font-size="7.6" text-anchor="middle" fill="#262626">10</text><text x="736.7" y="623.22" font-size="7.6" text-anchor="middle" fill="#262626">200</text><text x="629.8" y="616.43" font-size="7.6" text-anchor="end" fill="#262626">0</text><text x="629.8" y="589.48" font-size="7.6" text-anchor="end" fill="#262626">0.02</text><text x="629.8" y="562.53" font-size="7.6" text-anchor="end" fill="#262626">0.04</text><text transform="translate(684 558.32) scale(1 1.12)" font-size="8.55" text-anchor="middle" font-weight="bold" fill="#000">Convergence curve</text><text transform="translate(78.4 647.39) scale(1 1.13)" font-size="14.3" text-anchor="middle" font-weight="bold" fill="#000">F8</text><path d="M23.7 660.59L83.6 650.49L130 663.99M83.6 680.19L83.6 650.49M100.05 698.74L53.65 685.24L53.65 655.54M46.9 697.04L106.8 686.94L106.8 657.24M23.7 682.21L83.6 672.11L130 685.61M23.7 674.13L83.6 664.03L130 677.53M23.7 666.05L83.6 655.95L130 669.45" stroke="#dcdcdc" stroke-width="0.5" fill="none"/><path d="M83 682.3l-1.6-.3 1.3-.2 1 .2-.7 .3" stroke="#3e26a8" stroke-width="0.9" fill="none"/><path d="M117.3 692.3l-2.2 0-1.3-.5 1.7-.5 2 .1 .9 .3-1.1 .6M92.8 685.2l-.9-.3 1.6 0-.7 .3M83.1 682.8l-3.1-.2-.8-.6 2.1-.6 3.2 .1 .9 .2 .4 .5-2.7 .6M39.6 689.9l-2.7-.4 .2-.4 .8-.2 2.4 0 1.2 .5-1.9 .5M69.7 684.4l-1-.3 1.7 .1-.7 .2" stroke="#484cef" stroke-width="0.9" fill="none"/><path d="M80.5 702l2.9-.5M122.8 694.9l1.4-.6 3.5-.2M117.1 692.7l-3.5-.2-.9-.2-.6-.6 1-.6 1.1-.2 5 .4 .7 .4-.1 .4-2.7 .6M73.7 699.8l-2.6-.1-.9-.2-.5-.4 1.2-.6 4.3 .2 .6 .2-.2 .5-1.9 .4M102.8 694.5l-1.6-.2-.3-.3 .6-.3 1.9-.1 1.8 .4-1 .4-1.4 .1M83.2 697.5l-.6-.2 .9-.2 .7 .2-1 .2M59.8 700.8l2.3 .7M107.9 690l-2.4-.4-.2-.4 1.6-.4 2.5 .2 .9 .3-.2 .4-2.2 .3M65.2 696.9l-1.5-.2 .9-.2 .6 .4M103.8 688.4l-1.1-.1-2.4-1-1.8 0-1.4-.5 1.6-.4 1.8 .2 .5 .5-.7 .2 4.2 .7-.7 .4M93.2 685.7l-3-.2-.7-.3-.1-.3 2-.6 4 .3 .4 .5-.3 .4-2.3 .2M49.6 692.8l-2.4-.4 .9-.5 2.1 0 1.2 .5-1.8 .4M41.9 690.1l-4.7 0-1.7-.4-.2-.3 .3-.4 1.3-.4 5.1 0 1.2 .5-.1 .4-1.2 .6M84.2 683.1l-4.4-.1-1.1-.2-.9-.6 .7-.7 1.9-.4 5.3 .2 1.4 .4-.1 .8-.7 .3-2.1 .3M70.1 685l-3.3-.2-.6-.3 0-.2 1.1-.6 1.1-.1 3.1 .1 .9 .2 .3 .5-.5 .3-2.1 .3M49.4 688.1l-2.1-.4 .5-.5 3.6-.2 1 .2 .1 .4-.6 .3-2.5 .2M61.3 686.1l-1.8-.1-3.5 .8-1.6-.3 5.1-.5-.4-.3 1.1-.4 2.8 .1 0 .4-1.7 .3M25.5 690.8l3.1 .4 .7 .7" stroke="#347afd" stroke-width="0.9" fill="none"/><path d="M69.4 703.6l1.6 0M78.9 702.3l2-.9 4.2-.1M90.8 700.3l3.7-.6M102.7 698.3l2.4-.4M109.7 697.1l1.6-.6 3.4-.2M121.5 695.1l1.7-1.1 5.7-.1M118.1 693l-6.7-.4-.6-.6 .4-1.2-.4-.3-5.9-.4-.8-.2-1.1-.9-7.1-1.6-1-.9-.7-.3-5.4-.5-.6-.2-.2-.7 1-.8 1.1-.1 6.4 .5 1.1 1.2 4.3 .7 5.4 2 4.2 .7 .4 .4 .2 .9 7.2 .6 1.6 .4 .3 .7-.3 .4-2.8 .6M73.3 700.1l-3.5-.2-.9-.2-.7-.6 .6-.7 .9-.2 7.1 .2 .6 .3 0 .3-.8 .7-3.3 .4M104.1 694.9l-4-.1-1.1-.1-.1-.4 .7-.7 .7-.3 4.9 0 1.1 .1 .6 .3 .1 .3-.8 .6-2.1 .3M83.5 698.1l-3.2-.3-.3-.3 .8-.7 5.3-.3 1.3-.5 4.3-.6 1.4-.5 2.9-.1 1.5 .1 .4 .3-1.3 .7-8.9 1.1-1.8 .8-2.4 .3M58.5 700.4l3.9 .4 .6 .3 .3 .7M65.8 697.5l-4.2-.4-.8-1-2.4-.3-2.7-1-2.3-.3-.5-.3 .1-.4 2.2-.3 2.7 .3 .8 .5 3.4 .9 .7 .6 4 .4 1.1 .5-.3 .4-1.8 .4M96.1 692.1l-2.8 0-.7-.3-.2-.3 1.7-.4 2.2 .1 .8 .2 0 .4-1 .3M75.4 695.2l-1.5-.2 1.9-.3 .7 .2-1.1 .3M51.2 698.3l1.6 .2 1.3 .6M90.6 690.5l-1.8-.5 2.4 .3-.6 .2M87 689.4l-2.4-.1-.1-.4 1.4-.2 1.4 .1 .5 .4-.8 .2M43 695.9l1.8 .5M51.3 693.3l-5-.4-.9-.6 .6-.6 .8-.2 5.1 .1 .9 .2 .4 .7-.7 .7-1.2 .1M80.2 687.9l-3.2-.2-.6-.4 1-.7 4 0 1.3 .5-.2 .4-2.3 .4M60.9 691l-2.8-.1-.5-.4 1.4-.5 2.3 0 1 .2 .1 .3-1.5 .5M72.5 688.9l-2.6 0-.4-.3 2.4-.4 1 .2-.4 .5M65.8 689.7l-.9-.3 2.7-.1-1.8 .4M35.6 693.7l3 .5 .8 .7M41.8 690.5l-7-.3-.6-.3-.1-.6 1.9-.9 8.8-.2 2-1.3 4.9-.4 7.3-1.5 4.9-.4 1.7-.9 1.9-.4 5.7 .1 1.2 .5-.6 .8-1.5 .5-5.7 .1-2.9 1-8.7 1.2-3 .9-6.2 .1-.7 .2-1.4 1.4-1.9 .4M88 681.5l.3 .7-.8 .9-5.6 .3-3.5-.2-1.8-.4 .2-.9 1.1-.8M24.5 690.5l5.3 .5 .6 .6-.1 .6M79.8 680.8l6.7 .2" stroke="#21a3e3" stroke-width="0.9" fill="none"/><path d="M77.6 702.5l1.4-1.2 .8-.2 7.3-.2M88.5 700.7l2.3-1 4.8-.4 7.4-1.5 4.8-.5 2.6-1.1 5.9-.2M120.1 695.4l1.5-1.7-.5-.3-12.4-.4 .3 .3-1.2 1.3-1.5 .5-5.6 .2-3.1 .9-8.6 1.2-3.1 .9-5.7 .2-.8 .2-2.4 1.6-5.5 .1-4.1-.4-.4-.3-.1-1.4-.6-.3-5.3-.5-1.9-1.1-7-1.7-1.9-1.1-5.2-.5-.9-.6 .3-1.2 .6-.3-12.4-.4-.8 .2-.4 1.7M68.5 703.3l3.6 .1M122.3 691.4l-.4 1.8-.8 .2 8.9 .3M107 693l1.7 0 .6-.3 .3-1.3-.9-.5-5.2-.6-1.9-1.1-7-1.6-1.9-1.1-5.3-.6-.6-.2-.1-1.4-.4-.3-4.1-.4-5.5 .1-2.4 1.6-.8 .2-5.7 .2-3.1 .9-8.6 1.2-3.1 .9-5.6 .2-1.5 .5-1.2 1.3 .3 .3 10.6 .3-.4-.3 1.5-1.2 5.1-.3 7.2-1.6 5.2-.4 1.9-1.2 4.4-.1 3.5 .3 .5 1.4 .7 .2 3.8 .4 .9 .6 3.4 .8 .9 .6 4.5 .7 .2 .3-.1 .9-.7 .3 8.9 .3M75.9 697.8l1.7-.1 1.9-1.3 5.2-.3 7.2-1.6 5.1-.3 1.5-1.2-.4-.3-8.8-.3 .9-.2 .2-.7-.4-.3-7.5-1.6-.5-1-2.2-.3-3.2 0-1 .1-1.5 .9-9 1.1-1.4 1 .7 .2-8.8-.3-.7 .3-.1 .9 .2 .3 4.5 .7 .9 .6 3.4 .8 .9 .6 4.5 .6 .5 1.4 6.2 .3M57 700l6.7 .6 .6 .3 0 1.2M77.1 695.7l-4.6-.1-.8-.2-.5-1-7.5-1.6-.4-.6 .2-.4 .9-.2 5.4 .2 0 .7 3.5 .8 .5 .6 2.4 .2 6.9-1.2 .8-.7 5.4 .2 .7 .2-1.4 1-9 1-1.5 1-1 .1M82.2 692.2l-1.8-.1-3.5 .8-1.1 0-2.5-1-3.5-.1 .8-.7 4.3-.6 1.2-.6 2.5 0 1.3 .2 .5 .6 3.5 .8 0 .7-1.7 0M78.6 692l1.8 .1-2.5-1-1.1 0-3.5 .8 5.3 .1M97.8 684.3l1.2 1.1 4.1 .7 5.4 2 4.1 .7 1.3 1.2 5.5 .6M34.3 693.4l5.5 .6 1.3 1.2 4.1 .7 5.4 1.9 4.1 .8 1.2 1M89.4 681.9l0 1.2 .6 .3 6.7 .6M23.7 690.3l8.9 .3-.5-.3 1.5-1.7M37.4 688l5.9-.3 2.6-1 4.8-.5 7.4-1.5 4.8-.4 2.3-1M66.6 683.1l7.3-.2 .8-.2 1.4-1.2M81.6 680.5l3.6 .1" stroke="#12beb9" stroke-width="0.9" fill="none"/><path d="M75.8 702.8l1.1-.7 .2-.9-1.8-.4-3.5-.2-5.6 .2-.8 .9 .3 .8M87.1 700.6l2.7-1.2 4.9-.4 7.3-1.5 4.9-.4 2-1.3 8.8-.2 1.5-.5 .5-.7-.8-.6-1.1-.2-7 0-1.3 .6-.9 1.1-.7 .2-6.2 .1-3 .9-8.7 1.2-2.9 .9-5.7 .2-1.6 .5-.5 .8 .3 .3 3.7 .3 3.8-.1M67.2 702.9l6.7 .3M123.4 691.8l-.1 .5 .6 .6 5.3 .5M62.7 700.1l2.6-.4 .4-.8-.2-.4-6-.7-.7-.3-1-.9-7.1-1.6-1.1-.9-.8-.2-5.9-.5-.4-.2 .4-1.2-.6-.6-6.7-.4-2.2 .3-.9 .7 .3 .7 1.6 .4 7.2 .6 .2 .9 .4 .4 4.2 .7 5.4 1.9 4.3 .7 1.1 1.3 5.5 .5M105.1 692.6l2.6-.3 .6-.6-.9-.6-5-.4-1.2 .1-.7 .7 .4 .7 4.2 .4M73.8 697.5l2.5-.2 .7-.2 .3-.6-2-.4-4 .2-.3 .6 .4 .3 2.4 .3M94.5 694l1.3-.2 .4-.4-.6-.3-2.8-.1-1.5 .5 .1 .3 1 .2 2.1 0M81.8 695.8l2.4-.4-.4-.3-2.6 0-.4 .5 1 .2M86.1 694.7l2.7-.2-.9-.2-1.8 .4M114.3 689.1l.8 .7 3 .4M98.4 690.5l2.3-.3 .1-.4-.5-.3-2.3-.4-2.7-.9-2.4-.3-.8-1-.7-.2-4.7-.1-.9 .7 1.1 .5 4 .4 .7 .6 3.4 .8 .8 .6 2.6 .3M67.7 695.3l1.3-.1 .2-.1-.1-.4-2.4-.2-.8 .3 .5 .4 1.3 .1M108.9 687.5l1.8 .6M63.4 693.9l1.5 .1-1.2-.5-1.2 .2 .9 .2M58.8 692.9l2-.1 .5-.3-.2-.3-.7-.3-2.8 0-.9 .2-.1 .5 2.2 .3M77.9 689.3l1.9-.3-2.5-.1-.1 .2 .7 .2M99.6 684.9l1.3 .6 1.6 .2M84 685.8l.9-.2 .6-.7-.7-.7-.9-.2-6.1 0-.7 .3-.8 .7 0 .3 .6 .3 1.1 .2 6 0M52.2 690.8l1.9-.4 .7-.7-.1-.4-5.1-.2-2.1 .3-.8 .6 .1 .3 .6 .3 4.8 .2M60 689.1l6.3-1.1 1.3-.5 5.3-.3 .8-.7-1.4-.5-3.5 0-2.8 1-8.9 1.1-1.3 .7 .4 .3 3.8 0M90.4 682.2l.3 .7 .6 .3 3.9 .4M24.8 690.1l5.7-.1 1.7-1.2M39 687.7l3.4-.2 1.6-.6M48.6 686.1l2.4-.4M59.2 684.3l3.7-.6M68.6 682.7l4.2-.1 2-.9M82.7 680.3l1.6 .1" stroke="#5ccc76" stroke-width="0.9" fill="none"/><path d="M73.3 702.9l1.9-.4 .7-.7-.2-.4-1.8-.4-5.6 0-1.5 .5-.3 .4 .6 .6 .9 .2 5.3 .2M115.2 695.5l1.6-.1 1.5-.5-.1-.6-1.7-.5-4.7 .1-1.2 .6-.1 .4 1.2 .4 3.5 .2M83.6 700.4l2.8-.1 1.1-.5 0-.4-2.2-.4-3.8 .3-.6 .5 .4 .3 2.3 .3M104.2 697l2-.4 .2-.4-.6-.2-3-.1-1.6 .5 .1 .4 1 .1 1.9 .1M91.7 698.7l1.8 0 1.1-.5-.4-.2 5.1-.5-1.6-.4-3.5 .8-3 .1-.6 .3 .1 .2 1 .2M124.4 692.1l.7 .6 3.1 .5M60.6 699.7l2.8-.1 .7-.3 .2-.4-1.9-.6-3.3 0-.9 .2-.3 .6 2.7 .6M103.5 692.1l2.1 0 .9-.5-1.9-.4-1.7 .1-.6 .3 1.2 .5M54.5 697.5l1.7-.1 .4-.2-.4-.3-2.8-.3-2.4-1-1.9 .2 4.3 .9-.7 .2 .1 .2 1.7 .4M45.6 695.1l2.3 0 .5-.4-.2-.4-.8-.2-2.9-.1-.9 .2-.1 .6 2.1 .3M89.1 687.4l.9-.1-1.5-.2 .6 .3M39 693l1.6-.1 1-.6-.5-.6-1-.3-4.8 0-.9 .2-.7 .6 .2 .3 1.7 .4 3.4 .1M81.3 685.5l2.5-.4 .2-.4-1.4-.4-3.7 0-1 .6 .6 .4 2.8 .2M50.3 690.4l2.5-.4-1.3-.5-2 0-1 .5 1.8 .4M69.7 686.8l1.4-.1-.6-.2-1 .1 .2 .2M91.6 682.5l2.3 .7M26 689.9l3.5-.2 1.4-.6M70.3 682.4l2.9-.5" stroke="#c8c129" stroke-width="0.9" fill="none"/><path d="M70.5 702.6l3-.1 1-.6-1.9-.7-3.3 .1-1.3 .4-.1 .3 2.6 .6M115.3 695.1l1.3-.3 .2-.3-.6-.3-2.1-.1-1.9 .5 1.2 .5 1.9 0M83.3 699.8l1.7 .1-.5-.3-1.2 .2M60.2 699.1l1.6 0-.9-.3-.7 .3M37.1 692.7l2.2-.2 .6-.3-1.3-.5-2.2 0-1.1 .5 1.8 .5" stroke="#feca33" stroke-width="0.9" fill="none"/><path d="M71 702.2l1.3-.2-1.6-.3-.7 .3 1 .2" stroke="#f9fb15" stroke-width="0.9" fill="none"/><g class="sf"><linearGradient id="g7_29" href="#pb" gradientUnits="userSpaceOnUse" x1="24.47" y1="687.27" x2="20.24" y2="662.15"/><path fill="url(#g7_29)" stroke="url(#g7_29)" d="M25.2 680.4l2-6.2 2-3.9 2 .2 2 3.8 2 4.5 2 1.5 2-2.7 2-4.4 2-2 2 2 2 2.4 2-1.3 2-2.3 2 1 4-1.2 2 .9 2-2.2 2-1.3 2 2.4 2 2 2-2 2-4.4 2-2.7 2 1.5 2 4.4 2 3.8 2 .3 1.9-4 2-6.1-1.5-6.2-2 6.1-2 3.9-2-.2-2-3.8-2-4.4-2-1.5-2 2.7-2 4.4-2 2-2-2-2-2.4-2 1.3-2 2.2-2-.9-3.9 1.2-2-1-2 2.3-2 1.2-2-2.4-2-1.9-2 1.9-2 4.5-2 2.6-2-1.5-2-4.4-2-3.8-2-.2-2 3.9-2 6.1z"/><linearGradient id="g7_28" href="#pb" gradientUnits="userSpaceOnUse" x1="26.02" y1="687.72" x2="21.78" y2="662.60"/><path fill="url(#g7_28)" stroke="url(#g7_28)" d="M26.8 684.4l2-6.1 2-3.9 2 .2 2 3.8 2 4.4 2 1.5 2-2.7 2-4.4 2-2 2 2 2 2.4 2-1.3 1.9-2.2 2 .9 4-1.2 2 1 2-2.2 2-1.3 2 2.4 2 2 2-2 2-4.5 2-2.6 2 1.5 2 4.4 2 3.8 2 .2 2-3.9 2-6.1-1.6-4.1-2 6.1-1.9 4-2-.3-2-3.8-2-4.4-2-1.5-2 2.7-2 4.4-2 2-2-2-2-2.4-2 1.3-2 2.2-2-.9-4 1.2-2-1-2 2.3-2 1.3-2-2.4-2-2-2 2-2 4.4-2 2.7-2-1.5-2-4.5-2-3.8-2-.2-2 3.9-2 6.2z"/><linearGradient id="g7_27" href="#pb" gradientUnits="userSpaceOnUse" x1="27.57" y1="688.17" x2="23.33" y2="663.05"/><path fill="url(#g7_27)" stroke="url(#g7_27)" d="M28.3 684.3l2-6.1 2-4 2 .3 2 3.8 2 4.4 2 1.5 2-2.7 2-4.4 2-2 2 2 2 2.4 2-1.3 2-2.2 2 .9 4-1.2 2 1 2-2.3 2-1.3 2 2.5 2 1.9 2-1.9 2-4.5 2-2.6 2 1.5 2 4.4 1.9 3.8 2 .2 2-3.9 2-6.1-1.5 .1-2 6.1-2 3.9-2-.2-2-3.8-2-4.4-2-1.5-2 2.6-2 4.5-2 2-2-2-2-2.4-2 1.3-2 2.2-2-1-4 1.2-2-.9-1.9 2.2-2 1.3-2-2.4-2-2-2 2-2 4.4-2 2.7-2-1.5-2-4.4-2-3.8-2-.2-2 3.9-2 6.1z"/><linearGradient id="g7_26" href="#pb" gradientUnits="userSpaceOnUse" x1="29.11" y1="688.62" x2="24.88" y2="663.50"/><path fill="url(#g7_26)" stroke="url(#g7_26)" d="M29.9 680.6l2-6.1 2-4 2 .3 2 3.8 2 4.4 2 1.5 2-2.7 2-4.4 2-2 2 2 1.9 2.4 2-1.3 2-2.2 2 .9 4-1.2 2 1 2-2.3 2-1.3 2 2.4 2 2 2-1.9 2-4.5 2-2.6 2 1.5 2 4.4 2 3.8 2 .2 2-3.9 2-6.1-1.6 3.7-2 6.1-2 3.9-2-.2-1.9-3.8-2-4.4-2-1.5-2 2.6-2 4.5-2 1.9-2-1.9-2-2.5-2 1.3-2 2.3-2-1-4 1.2-2-.9-2 2.2-2 1.3-2-2.4-2-2-2 2-2 4.4-2 2.7-2-1.5-2-4.4-2-3.8-2-.3-2 4-2 6.1z"/><linearGradient id="g7_25" href="#pb" gradientUnits="userSpaceOnUse" x1="30.66" y1="689.07" x2="26.42" y2="663.95"/><path fill="url(#g7_25)" stroke="url(#g7_25)" d="M31.4 676.3l2-6.1 2-4 2 .3 2 3.8 2 4.4 2 1.5 2-2.7 2-4.4 2-2 2 2 2 2.4 2-1.3 2-2.2 2 .9 4-1.2 2 1 2-2.3 2-1.3 2 2.4 2 2 2-2 2-4.4 2-2.6 2 1.5 1.9 4.4 2 3.8 2 .2 2-3.9 2-6.1-1.5 4.3-2 6.1-2 3.9-2-.2-2-3.8-2-4.4-2-1.5-2 2.6-2 4.5-2 1.9-2-2-2-2.4-2 1.3-2 2.3-2-1-4 1.2-2-.9-2 2.2-2 1.3-1.9-2.4-2-2-2 2-2 4.4-2 2.7-2-1.5-2-4.4-2-3.8-2-.3-2 4-2 6.1z"/><linearGradient id="g7_24" href="#pb" gradientUnits="userSpaceOnUse" x1="32.21" y1="689.52" x2="27.97" y2="664.40"/><path fill="url(#g7_24)" stroke="url(#g7_24)" d="M33 674.9l2-6.1 2-3.9 2 .2 2 3.8 2 4.4 2 1.5 2-2.7 2-4.4 1.9-2 2 2 2 2.4 2-1.3 2-2.2 2 .9 4-1.2 2 1 2-2.3 2-1.2 2 2.4 2 1.9 2-1.9 2-4.5 2-2.6 2 1.5 2 4.4 2 3.8 2 .2 2-3.9 2-6.1-1.6 1.4-2 6.1-2 3.9-2-.2-2-3.8-1.9-4.4-2-1.5-2 2.6-2 4.4-2 2-2-2-2-2.4-2 1.3-2 2.3-2-1-4 1.2-2-.9-2 2.2-2 1.3-2-2.4-2-2-2 2-2 4.4-2 2.7-2-1.5-2-4.4-2-3.8-2-.3-2 4-2 6.1z"/><linearGradient id="g7_23" href="#pb" gradientUnits="userSpaceOnUse" x1="33.75" y1="689.97" x2="29.52" y2="664.85"/><path fill="url(#g7_23)" stroke="url(#g7_23)" d="M34.5 677.7l2-6.1 2-4 2 .3 2 3.8 2 4.4 2 1.5 2-2.7 2-4.4 2-2 2 2 2 2.4 2-1.3 2-2.2 2 .9 4-1.2 2 1 2-2.3 2-1.3 2 2.4 2 2 2-2 1.9-4.4 2-2.7 2 1.5 2 4.5 2 3.8 2 .2 2-3.9 2-6.1-1.5-2.8-2 6.1-2 3.9-2-.2-2-3.8-2-4.4-2-1.5-2 2.6-2 4.5-2 1.9-2-1.9-2-2.4-2 1.2-2 2.3-2-1-4 1.2-2-.9-2 2.2-2 1.3-2-2.4-2-2-1.9 2-2 4.4-2 2.7-2-1.5-2-4.4-2-3.8-2-.2-2 3.9-2 6.1z"/><linearGradient id="g7_22" href="#pb" gradientUnits="userSpaceOnUse" x1="35.30" y1="690.42" x2="31.06" y2="665.30"/><path fill="url(#g7_22)" stroke="url(#g7_22)" d="M36.1 682.2l2-6.1 2-3.9 2 .2 2 3.8 2 4.4 2 1.5 1.9-2.6 2-4.5 2-1.9 2 1.9 2 2.4 2-1.2 2-2.3 2 1 4-1.2 2 .9 2-2.2 2-1.3 2 2.4 2 2 2-2 2-4.4 2-2.7 2 1.5 2 4.4 2 3.8 2 .2 2-3.9 2-6.1-1.6-4.5-2 6.1-2 3.9-2-.2-2-3.8-2-4.5-2-1.5-2 2.7-1.9 4.4-2 2-2-2-2-2.4-2 1.3-2 2.3-2-1-4 1.2-2-.9-2 2.2-2 1.3-2-2.4-2-2-2 2-2 4.4-2 2.7-2-1.5-2-4.4-2-3.8-2-.3-2 4-2 6.1z"/><linearGradient id="g7_21" href="#pb" gradientUnits="userSpaceOnUse" x1="36.85" y1="690.87" x2="32.61" y2="665.75"/><path fill="url(#g7_21)" stroke="url(#g7_21)" d="M37.6 684.3l2-6.1 2-3.9 2 .2 2 3.8 2 4.4 2 1.5 2-2.6 2-4.5 2-1.9 2 1.9 2 2.4 2-1.2 2-2.3 2 1 4-1.2 2 .9 2-2.2 2-1.3 2 2.4 2 2 1.9-2 2-4.4 2-2.7 2 1.5 2 4.4 2 3.8 2 .2 2-3.9 2-6.1-1.5-2.1-2 6.1-2 3.9-2-.2-2-3.8-2-4.4-2-1.5-2 2.7-2 4.4-2 2-2-2-2-2.4-2 1.3-2 2.2-2-.9-4 1.2-2-1-2 2.3-2 1.2-2-2.4-2-1.9-2 1.9-2 4.5-1.9 2.6-2-1.5-2-4.4-2-3.8-2-.2-2 3.9-2 6.1z"/><linearGradient id="g7_20" href="#pb" gradientUnits="userSpaceOnUse" x1="38.39" y1="691.32" x2="34.16" y2="666.20"/><path fill="url(#g7_20)" stroke="url(#g7_20)" d="M39.2 682.5l2-6.2 2-3.9 2 .2 2 3.8 1.9 4.5 2 1.5 2-2.7 2-4.4 2-2 2 2 2 2.4 2-1.3 2-2.3 2 1 4-1.2 2 .9 2-2.2 2-1.3 2 2.4 2 2 2-2 2-4.4 2-2.7 2 1.5 2 4.4 2 3.8 2 .3 2-4 2-6.1-1.6 1.9-2 6.1-2 3.9-2-.2-2-3.8-2-4.4-2-1.5-2 2.7-2 4.4-1.9 2-2-2-2-2.4-2 1.3-2 2.2-2-.9-4 1.2-2-1-2 2.3-2 1.2-2-2.4-2-1.9-2 1.9-2 4.5-2 2.6-2-1.5-2-4.4-2-3.8-2-.2-2 3.9-2 6.1z"/><linearGradient id="g7_19" href="#pb" gradientUnits="userSpaceOnUse" x1="39.94" y1="691.77" x2="35.70" y2="666.65"/><path fill="url(#g7_19)" stroke="url(#g7_19)" d="M40.7 680.2l2-6.1 2-4 2 .2 2 3.9 2 4.4 2 1.5 2-2.7 2-4.4 2-2 2 2 2 2.4 2-1.3 2-2.3 2 1 4-1.2 2 .9 2-2.2 1.9-1.3 2 2.4 2 2 2-2 2-4.4 2-2.7 2 1.5 2 4.4 2 3.9 2 .2 2-4 2-6.1-1.5 2.3-2 6.1-2 4-2-.3-2-3.8-2-4.4-2-1.5-2 2.7-2 4.4-2 2-2-2-2-2.4-2 1.3-2 2.2-2-.9-4 1.2-2-1-2 2.3-2 1.3-2-2.4-2-2-2 2-2 4.4-2 2.7-2-1.5-1.9-4.5-2-3.8-2-.2-2 3.9-2 6.2z"/><linearGradient id="g7_18" href="#pb" gradientUnits="userSpaceOnUse" x1="41.49" y1="692.22" x2="37.25" y2="667.10"/><path fill="url(#g7_18)" stroke="url(#g7_18)" d="M42.3 681.6l2-6.1 2-4 1.9 .2 2 3.9 2 4.4 2 1.5 2-2.7 2-4.4 2-2 2 2 2 2.4 2-1.3 2-2.3 2 1 4-1.2 2 1 2-2.3 2-1.3 2 2.4 2 2 2-2 2-4.4 2-2.7 2 1.5 2 4.4 2 3.9 2 .2 2-4 2-6.1-1.6-1.4-2 6.1-2 4-2-.2-2-3.9-2-4.4-2-1.5-2 2.7-2 4.4-2 2-2-2-2-2.4-1.9 1.3-2 2.2-2-.9-4 1.2-2-1-2 2.3-2 1.3-2-2.4-2-2-2 2-2 4.4-2 2.7-2-1.5-2-4.4-2-3.9-2-.2-2 4-2 6.1z"/><linearGradient id="g7_17" href="#pb" gradientUnits="userSpaceOnUse" x1="43.03" y1="692.67" x2="38.80" y2="667.55"/><path fill="url(#g7_17)" stroke="url(#g7_17)" d="M43.8 683.9l2-6.1 2-3.9 2 .2 2 3.8 2 4.4 2 1.5 2-2.6 2-4.5 2-2 2 2 2 2.4 2-1.3 2-2.2 2 1 4-1.2 1.9 .9 2-2.2 2-1.3 2 2.4 2 2 2-2 2-4.4 2-2.7 2 1.5 2 4.4 2 3.8 2 .2 2-3.9 2-6.1-1.5-2.4-2 6.1-2 4-2-.2-2-3.9-2-4.4-2-1.5-2 2.7-2 4.4-2 2-2-2-2-2.4-2 1.3-2 2.3-2-1-4 1.2-2-1-2 2.3-2 1.3-2-2.4-2-2-2 2-2 4.4-2 2.7-2-1.5-2-4.4-2-3.9-1.9-.2-2 4-2 6.1z"/><linearGradient id="g7_16" href="#pb" gradientUnits="userSpaceOnUse" x1="44.58" y1="693.12" x2="40.34" y2="668.00"/><path fill="url(#g7_16)" stroke="url(#g7_16)" d="M45.4 683.1l1.9-6.1 2-4 2 .3 2 3.8 2 4.4 2 1.5 2-2.7 2-4.4 2-2 2 2 2 2.4 2-1.3 2-2.2 2 .9 4-1.2 2 1 2-2.3 2-1.3 2 2.4 2 2 2-2 2-4.4 2-2.7 2 1.5 2 4.5 2 3.8 2 .2 2-3.9 2-6.2-1.6 .9-2 6.1-2 3.9-2-.2-2-3.8-2-4.4-2-1.5-2 2.7-2 4.4-2 2-2-2-2-2.4-2 1.3-2 2.2-1.9-.9-4 1.2-2-1-2 2.2-2 1.3-2-2.4-2-2-2 2-2 4.5-2 2.6-2-1.5-2-4.4-2-3.8-2-.2-2 3.9-2 6.1z"/><linearGradient id="g7_15" href="#pb" gradientUnits="userSpaceOnUse" x1="46.13" y1="693.57" x2="41.89" y2="668.45"/><path fill="url(#g7_15)" stroke="url(#g7_15)" d="M46.9 683.8l2-6.1 2-4 2 .3 2 3.8 2 4.4 2 1.5 2-2.7 2-4.4 2-2 2 2 2 2.4 2-1.3 2-2.2 2 .9 3.9-1.2 2 1 2-2.3 2-1.3 2 2.5 2 1.9 2-1.9 2-4.5 2-2.6 2 1.5 2 4.4 2 3.8 2 .2 2-3.9 2-6.1-1.5-.8-2 6.2-2 3.9-2-.2-2-3.8-2-4.5-2-1.5-2 2.7-2 4.4-2 2-2-2-2-2.4-2 1.3-2 2.3-2-1-4 1.2-2-.9-2 2.2-2 1.3-2-2.4-2-2-2 2-2 4.4-2 2.7-2-1.5-2-4.4-2-3.8-2-.3-2 4-1.9 6.1z"/><linearGradient id="g7_14" href="#pb" gradientUnits="userSpaceOnUse" x1="47.67" y1="694.02" x2="43.44" y2="668.90"/><path fill="url(#g7_14)" stroke="url(#g7_14)" d="M48.4 684.5l2-6.1 2-3.9 2 .2 2 3.8 2 4.4 2 1.5 2-2.7 2-4.4 2-2 2 2 2 2.4 2-1.3 2-2.2 2 .9 4-1.2 2 1 2-2.2 2-1.3 2 2.4 2 2 2-2 2-4.5 2-2.6 2 1.5 2 4.4 2 3.8 2 .2 2-3.9 1.9-6.1-1.5-.7-2 6.1-2 3.9-2-.2-2-3.8-2-4.4-2-1.5-2 2.6-2 4.5-2 1.9-2-1.9-2-2.5-2 1.3-2 2.3-2-1-3.9 1.2-2-.9-2 2.2-2 1.3-2-2.4-2-2-2 2-2 4.4-2 2.7-2-1.5-2-4.4-2-3.8-2-.3-2 4-2 6.1z"/><linearGradient id="g7_13" href="#pb" gradientUnits="userSpaceOnUse" x1="49.22" y1="694.47" x2="44.98" y2="669.35"/><path fill="url(#g7_13)" stroke="url(#g7_13)" d="M50 683.7l2-6.1 2-4 2 .2 2 3.9 2 4.4 2 1.5 2-2.7 2-4.4 2-2 2 2 2 2.4 2-1.3 1.9-2.2 2 .9 4-1.2 2 1 2-2.3 2-1.3 2 2.4 2 2 2-2 2-4.4 2-2.7 2 1.5 2 4.4 2 3.9 2 .2 2-4 2-6.1-1.6 .9-1.9 6.1-2 3.9-2-.2-2-3.8-2-4.4-2-1.5-2 2.6-2 4.5-2 2-2-2-2-2.4-2 1.3-2 2.2-2-1-4 1.2-2-.9-2 2.2-2 1.3-2-2.4-2-2-2 2-2 4.4-2 2.7-2-1.5-2-4.4-2-3.8-2-.2-2 3.9-2 6.1z"/><linearGradient id="g7_12" href="#pb" gradientUnits="userSpaceOnUse" x1="50.77" y1="694.92" x2="46.53" y2="669.80"/><path fill="url(#g7_12)" stroke="url(#g7_12)" d="M51.5 686l2-6.1 2-3.9 2 .2 2 3.8 2 4.4 2 1.5 2-2.6 2-4.5 2-2 2 2 2 2.4 2-1.3 2-2.2 2 1 4-1.2 2 .9 2-2.2 2-1.3 2 2.4 2 2 2-2 2-4.4 2-2.7 2 1.5 2 4.4 1.9 3.8 2 .2 2-3.9 2-6.1-1.5-2.4-2 6.1-2 4-2-.2-2-3.9-2-4.4-2-1.5-2 2.7-2 4.4-2 2-2-2-2-2.4-2 1.3-2 2.3-2-1-4 1.2-2-.9-1.9 2.2-2 1.3-2-2.4-2-2-2 2-2 4.4-2 2.7-2-1.5-2-4.4-2-3.9-2-.2-2 4-2 6.1z"/><linearGradient id="g7_11" href="#pb" gradientUnits="userSpaceOnUse" x1="52.31" y1="695.37" x2="48.08" y2="670.25"/><path fill="url(#g7_11)" stroke="url(#g7_11)" d="M53.1 687.4l2-6.1 2-3.9 2 .2 2 3.8 2 4.4 2 1.5 2-2.6 2-4.5 2-1.9 2 1.9 1.9 2.4 2-1.2 2-2.3 2 1 4-1.2 2 .9 2-2.2 2-1.3 2 2.4 2 2 2-2 2-4.4 2-2.7 2 1.5 2 4.4 2 3.8 2 .2 2-3.9 2-6.1-1.6-1.4-2 6.1-2 3.9-2-.2-1.9-3.8-2-4.4-2-1.5-2 2.7-2 4.4-2 2-2-2-2-2.4-2 1.3-2 2.2-2-.9-4 1.2-2-1-2 2.2-2 1.3-2-2.4-2-2-2 2-2 4.5-2 2.6-2-1.5-2-4.4-2-3.8-2-.2-2 3.9-2 6.1z"/><linearGradient id="g7_10" href="#pb" gradientUnits="userSpaceOnUse" x1="53.86" y1="695.82" x2="49.62" y2="670.70"/><path fill="url(#g7_10)" stroke="url(#g7_10)" d="M54.6 685.1l2-6.1 2-3.9 2 .2 2 3.8 2 4.4 2 1.5 2-2.6 2-4.5 2-1.9 2 1.9 2 2.5 2-1.3 2-2.3 2 1 4-1.2 2 .9 2-2.2 2-1.3 2 2.4 2 2 2-2 2-4.4 2-2.7 1.9 1.5 2 4.4 2 3.8 2 .3 2-4 2-6.1-1.5 2.3-2 6.1-2 3.9-2-.2-2-3.8-2-4.4-2-1.5-2 2.7-2 4.4-2 2-2-2-2-2.4-2 1.3-2 2.2-2-.9-4 1.2-2-1-2 2.3-2 1.2-1.9-2.4-2-1.9-2 1.9-2 4.5-2 2.6-2-1.5-2-4.4-2-3.8-2-.2-2 3.9-2 6.1z"/><linearGradient id="g7_9" href="#pb" gradientUnits="userSpaceOnUse" x1="55.41" y1="696.27" x2="51.17" y2="671.15"/><path fill="url(#g7_9)" stroke="url(#g7_9)" d="M56.2 683.3l2-6.1 2-4 2 .2 2 3.9 2 4.4 2 1.5 2-2.7 2-4.4 1.9-2 2 2 2 2.4 2-1.3 2-2.3 2 1 4-1.2 2 1 2-2.3 2-1.3 2 2.4 2 2 2-2 2-4.4 2-2.7 2 1.5 2 4.4 2 3.9 2 .2 2-4 2-6.1-1.6 1.9-2 6.1-2 4-2-.3-2-3.8-2-4.4-1.9-1.5-2 2.7-2 4.4-2 2-2-2-2-2.4-2 1.3-2 2.2-2-.9-4 1.2-2-1-2 2.3-2 1.3-2-2.5-2-1.9-2 1.9-2 4.5-2 2.6-2-1.5-2-4.4-2-3.8-2-.2-2 3.9-2 6.1z"/><linearGradient id="g7_8" href="#pb" gradientUnits="userSpaceOnUse" x1="56.95" y1="696.72" x2="52.72" y2="671.60"/><path fill="url(#g7_8)" stroke="url(#g7_8)" d="M57.7 685.4l2-6.1 2-4 2 .2 2 3.9 2 4.4 2 1.5 2-2.7 2-4.4 2-2 2 2 2 2.4 2-1.3 2-2.3 2 1 4-1.2 2 1 2-2.3 2-1.3 2 2.4 2 2 2-2 1.9-4.4 2-2.7 2 1.5 2 4.4 2 3.9 2 .2 2-4 2-6.1-1.5-2.1-2 6.1-2 4-2-.2-2-3.9-2-4.4-2-1.5-2 2.7-2 4.4-2 2-2-2-2-2.4-2 1.3-2 2.3-2-1-4 1.2-2-1-2 2.3-2 1.3-2-2.4-2-2-1.9 2-2 4.4-2 2.7-2-1.5-2-4.4-2-3.9-2-.2-2 4-2 6.1z"/><linearGradient id="g7_7" href="#pb" gradientUnits="userSpaceOnUse" x1="58.50" y1="697.17" x2="54.26" y2="672.05"/><path fill="url(#g7_7)" stroke="url(#g7_7)" d="M59.3 689.9l2-6.1 2-3.9 2 .2 2 3.8 2 4.4 2 1.5 1.9-2.7 2-4.4 2-2 2 2 2 2.4 2-1.3 2-2.2 2 .9 4-1.2 2 1 2-2.2 2-1.3 2 2.4 2 2 2-2 2-4.5 2-2.6 2 1.5 2 4.4 2 3.8 2 .2 2-3.9 2-6.1-1.6-4.6-2 6.1-2 4-2-.2-2-3.9-2-4.4-2-1.5-2 2.7-1.9 4.4-2 2-2-2-2-2.4-2 1.3-2 2.3-2-1-4 1.2-2-1-2 2.3-2 1.3-2-2.4-2-2-2 2-2 4.4-2 2.7-2-1.5-2-4.4-2-3.9-2-.2-2 4-2 6.1z"/><linearGradient id="g7_6" href="#pb" gradientUnits="userSpaceOnUse" x1="60.05" y1="697.62" x2="55.81" y2="672.50"/><path fill="url(#g7_6)" stroke="url(#g7_6)" d="M60.8 692.7l2-6.1 2-4 2 .3 2 3.8 2 4.4 2 1.5 2-2.7 2-4.4 2-2 2 2 2 2.4 2-1.3 2-2.2 2 .9 4-1.2 2 1 2-2.3 2-1.3 2 2.4 2 2 1.9-2 2-4.4 2-2.6 2 1.5 2 4.4 2 3.8 2 .2 2-3.9 2-6.1-1.5-2.8-2 6.1-2 3.9-2-.2-2-3.8-2-4.4-2-1.5-2 2.6-2 4.5-2 2-2-2-2-2.4-2 1.3-2 2.2-2-1-4 1.2-2-.9-2 2.2-2 1.3-2-2.4-2-2-2 2-2 4.4-1.9 2.7-2-1.5-2-4.4-2-3.8-2-.2-2 3.9-2 6.1z"/><linearGradient id="g7_5" href="#pb" gradientUnits="userSpaceOnUse" x1="61.59" y1="698.07" x2="57.36" y2="672.95"/><path fill="url(#g7_5)" stroke="url(#g7_5)" d="M62.4 691.3l2-6.1 2-3.9 2 .2 2 3.8 2 4.4 1.9 1.5 2-2.7 2-4.4 2-2 2 2 2 2.4 2-1.3 2-2.2 2 .9 4-1.2 2 1 2-2.3 2-1.2 2 2.4 2 1.9 2-1.9 2-4.5 2-2.6 2 1.5 2 4.4 2 3.8 2 .2 2-3.9 2-6.1-1.6 1.4-2 6.1-2 3.9-2-.2-2-3.8-2-4.4-2-1.5-2 2.6-2 4.4-1.9 2-2-2-2-2.4-2 1.3-2 2.3-2-1-4 1.2-2-.9-2 2.2-2 1.3-2-2.4-2-2-2 2-2 4.4-2 2.7-2-1.5-2-4.4-2-3.8-2-.3-2 4-2 6.1z"/><linearGradient id="g7_4" href="#pb" gradientUnits="userSpaceOnUse" x1="63.14" y1="698.52" x2="58.90" y2="673.40"/><path fill="url(#g7_4)" stroke="url(#g7_4)" d="M63.9 687l2-6.1 2-3.9 2 .2 2 3.8 2 4.4 2 1.5 2-2.7 2-4.4 2-2 2 2 2 2.4 2-1.3 2-2.2 2 .9 4-1.2 2 1 2-2.3 1.9-1.2 2 2.4 2 1.9 2-1.9 2-4.5 2-2.6 2 1.5 2 4.4 2 3.8 2 .2 2-3.9 2-6.1-1.5 4.3-2 6.1-2 3.9-2-.2-2-3.8-2-4.4-2-1.5-2 2.6-2 4.5-2 1.9-2-1.9-2-2.4-2 1.2-2 2.3-2-1-4 1.2-2-.9-2 2.2-2 1.3-2-2.4-2-2-2 2-2 4.4-2 2.7-1.9-1.5-2-4.4-2-3.8-2-.2-2 3.9-2 6.1z"/><linearGradient id="g7_3" href="#pb" gradientUnits="userSpaceOnUse" x1="64.69" y1="698.97" x2="60.45" y2="673.85"/><path fill="url(#g7_3)" stroke="url(#g7_3)" d="M65.5 683.3l2-6.1 2-4 1.9 .3 2 3.8 2 4.4 2 1.5 2-2.7 2-4.4 2-2 2 2 2 2.4 2-1.3 2-2.2 2 .9 4-1.2 2 1 2-2.3 2-1.3 2 2.5 2 1.9 2-1.9 2-4.5 2-2.6 2 1.5 2 4.4 2 3.8 2 .2 2-3.9 2-6.1-1.6 3.7-2 6.1-2 3.9-2-.2-2-3.8-2-4.4-2-1.5-2 2.6-2 4.5-2 1.9-2-1.9-2-2.4-1.9 1.2-2 2.3-2-1-4 1.2-2-.9-2 2.2-2 1.3-2-2.4-2-2-2 2-2 4.4-2 2.7-2-1.5-2-4.4-2-3.8-2-.2-2 3.9-2 6.1z"/><linearGradient id="g7_2" href="#pb" gradientUnits="userSpaceOnUse" x1="66.23" y1="699.42" x2="62.00" y2="674.30"/><path fill="url(#g7_2)" stroke="url(#g7_2)" d="M67 683.2l2-6.1 2-4 2 .3 2 3.8 2 4.4 2 1.5 2-2.7 2-4.4 2-2 2 2 2 2.4 2-1.3 2-2.2 2 .9 4-1.2 1.9 1 2-2.3 2-1.3 2 2.4 2 2 2-2 2-4.4 2-2.7 2 1.5 2 4.5 2 3.8 2 .2 2-3.9 2-6.1-1.5 .1-2 6.1-2 3.9-2-.2-2-3.8-2-4.4-2-1.5-2 2.6-2 4.5-2 1.9-2-1.9-2-2.5-2 1.3-2 2.3-2-1-4 1.2-2-.9-2 2.2-2 1.3-2-2.4-2-2-2 2-2 4.4-2 2.7-2-1.5-2-4.4-2-3.8-1.9-.3-2 4-2 6.1z"/><linearGradient id="g7_1" href="#pb" gradientUnits="userSpaceOnUse" x1="67.78" y1="699.87" x2="63.54" y2="674.75"/><path fill="url(#g7_1)" stroke="url(#g7_1)" d="M68.6 687.2l2-6.1 1.9-3.9 2 .2 2 3.8 2 4.4 2 1.5 2-2.6 2-4.5 2-1.9 2 1.9 2 2.5 2-1.3 2-2.3 2 1 4-1.2 2 .9 2-2.2 2-1.3 2 2.4 2 2 2-2 2-4.4 2-2.7 2 1.5 2 4.4 2 3.8 2 .3 2-4 2-6.1-1.6-4-2 6.1-2 3.9-2-.2-2-3.8-2-4.5-2-1.5-2 2.7-2 4.4-2 2-2-2-2-2.4-2 1.3-2 2.3-1.9-1-4 1.2-2-.9-2 2.2-2 1.3-2-2.4-2-2-2 2-2 4.4-2 2.7-2-1.5-2-4.4-2-3.8-2-.3-2 4-2 6.1z"/><linearGradient id="g7_0" href="#pb" gradientUnits="userSpaceOnUse" x1="69.33" y1="700.32" x2="65.09" y2="675.20"/><path fill="url(#g7_0)" stroke="url(#g7_0)" d="M70.1 693.5l2-6.1 2-4 2 .2 2 3.9 2 4.4 2 1.5 2-2.7 2-4.4 2-2 2 2 2 2.4 2-1.3 2-2.3 2 1 3.9-1.2 2 1 2-2.3 2-1.3 2 2.4 2 2 2-2 2-4.4 2-2.7 2 1.5 2 4.4 2 3.9 2 .2 2-4 2-6.1-1.5-6.2-2 6.1-2 4-2-.3-2-3.8-2-4.4-2-1.5-2 2.7-2 4.4-2 2-2-2-2-2.4-2 1.3-2 2.2-2-.9-4 1.2-2-1-2 2.3-2 1.3-2-2.5-2-1.9-2 1.9-2 4.5-2 2.6-2-1.5-2-4.4-2-3.8-2-.2-1.9 3.9-2 6.1z"/></g><path d="M23.7 660.59L23.7 690.29L70.1 703.79L130 693.69M23.70 690.29l2.17 -0.37M23.70 682.21l2.17 -0.37M23.70 674.13l2.17 -0.37M23.70 666.05l2.17 -0.37M70.10 703.79l2.17 -0.37M46.90 697.04l2.17 -0.37M23.70 690.29l2.17 -0.37M70.10 703.79l-2.11 -0.61M100.05 698.74l-2.11 -0.61M130.00 693.69l-2.11 -0.61" stroke="#3a3a3a" stroke-width="0.95" fill="none"/><text x="21.5" y="692.8" font-size="7.6" text-anchor="end" fill="#262626">-1000</text><text x="21.5" y="684.72" font-size="7.6" text-anchor="end" fill="#262626">-500</text><text x="21.5" y="676.64" font-size="7.6" text-anchor="end" fill="#262626">0</text><text x="21.5" y="668.56" font-size="7.6" text-anchor="end" fill="#262626">500</text><text x="67.6" y="712.3" font-size="7.6" text-anchor="end" fill="#262626">-500</text><text x="44.4" y="705.55" font-size="7.6" text-anchor="end" fill="#262626">0</text><text x="21.2" y="698.8" font-size="7.6" text-anchor="end" fill="#262626">500</text><text x="72.6" y="712.3" font-size="7.6" text-anchor="start" fill="#262626">-500</text><text x="102.55" y="707.25" font-size="7.6" text-anchor="start" fill="#262626">0</text><text x="132.5" y="702.2" font-size="7.6" text-anchor="start" fill="#262626">500</text><clipPath id="csh7"><rect x="175.5" y="650.19" width="106.2" height="53.9"/></clipPath><g clip-path="url(#csh7)"><path d="M272.1 655.2l-.6-.7 .6-.7 2.2-.1 .8 .8-.8 .7-2.2 0" stroke="#3e26a8" stroke-width="1.3" fill="none"/><path d="M272.1 695l-1-.3-1.1-.9 .3-1 .8-.6 2.1-.5 1.1 .1 1.3 .4 1 1.1-.2 .7-1.1 .7-1 .4-2.2-.1M272.1 666.5l0-.7 1.1-.3 1.2 .3 .1 .6-1.3 .4-1.1-.3M272.1 656.9l-2.2-.8-1.3-1.1-.1-1 1.5-1.3 2.1-.6 2.2 0 2.1 .6 1.6 1.3-.1 1-1.5 1.3-2.1 .6-2.2 0M196.7 656.2l-2.6-.6-.7-.6-.1-1 .6-.6 1.8-.6 2.1 .1 1.3 .5 .8 1.1-.3 .5-.7 .6-2.2 .6M249.8 655.1l-.9-.6 .5-.5 1.5-.1 .6 .6-.6 .6-1.1 0" stroke="#484bef" stroke-width="1.3" fill="none"/><path d="M193.8 704.1l2.9-.4 2.5 .4M268.9 704.1l2.2-.7 2.1-.3 2.1 .2 2.4 .8M271.1 696.1l-2.6-1.2-1-1.1 0-.5 .4-.8 2.1-1.4 2.1-.7 2.2 0 2.4 .8 2.1 1.6 .2 .5-.4 1.1-2.2 1.4-2.1 .5-3.2-.2M195.7 695.6l-2.1-.5-1.5-1.3 .2-1 1.3-1 2.1-.6 2.1 .1 1.4 .4 1.6 1.1 .2 1-1.3 1.1-1.9 .7-2.1 0M249.8 695l-2-.6-.6-.6-.1-.5 .6-.7 1.1-.5 2.1-.2 2.1 .9 .2 1-.6 .6-1.5 .5-1.3 .1M214.8 694.1l-.5-.3-.3-.5 .8-.5 1.1 0 .8 .5-.2 .5-1.7 .3M175.5 692.1l.8 1.2-.8 1.5M273.2 685.8l-2.1-.5-1.1-.6-.3-1.1 .3-.5 1.1-.8 2.1-.6 2.1 .5 1.3 .9 .3 1-.5 .7-1.1 .6-2.1 .4M195.7 684.4l-.5-.3 0-.5 .5-.3 1-.1 1.1 .4 0 .6-1.1 .4-1-.2M272.1 679.3l-.7-.5 .1-.6 .5-.5 0-1.1 1.2-.5 1.1 .3 .2 .2 0 1.1 .6 .5 .1 .6-.9 .6-2.2-.1M272.1 675.1l-1-.7-.5-1 .5-.6 1-.5 2.2 0 1 .4 .7 .7-.5 1-1.2 .8-1.1 .3-1.1-.4M272.1 668.7l-2.1-.9-1.1-.9-.2-1.1 1.3-1.2 2.1-.8 2.2 0 2.1 .7 1.4 1.3-.2 1.1-1.3 1.1-2 .7-2.2 0M195.7 667.7l-1.1-.3-1.2-1 .2-.7 1-.8 1.1-.3 2.1 .1 1.7 1.1 .1 .6-.7 .7-1.1 .5-2.1 .1M271.1 657.8l-2.8-1.1-2-1.7-.2-.5 .5-1.1 2.4-1.4 3.1-.9 3.2 .1 3 1.1 1.7 1.7 .1 .5-.5 1.1-2.5 1.6-2.8 .8-3.2-.2M194.6 657.2l-2.6-1.1-1.2-1.1-.1-.5 .5-1.1 1.7-1.1 2.8-.7 2.1 .1 3.2 1 1.5 1.3 0 1-2.6 1.7-3.2 .7-2.1-.2M248.8 656.7l-1.8-.6-1.7-1.1-.3-.5 .2-.5 1.6-1.1 2-.6 2.1-.2 2.7 .8 1.3 1.1-.1 1-1.4 1.1-2.5 .7-2.1-.1M214.8 656.3l-2.3-.7-1-1.1 .8-1.1 1.2-.5 1.3-.3 2.1 .2 1.7 .6 1.1 1.1-.4 .5-1.3 .8-3.2 .5M233.9 655.6l-2-1.1 .5-.5 1.5-.7 2.1-.2 1.1 .2 1.1 .7 .2 .5-.3 .5-1 .6-1.1 .2-2.1-.2M224.4 655.1l-.6-.6 .3-.5 1.3-.5 4.3 .3 1 .7-1 .6-4.3 .3-1-.3M175.5 652.2l1.5 1.2 .4 1.1-.5 1.1-1.4 1.1" stroke="#3678fe" stroke-width="1.3" fill="none"/><path d="M191.1 704.1l3.5-1.2 2.1-.2 2.2 .3 3.2 1.1M212.2 704.1l3.7-.5 2.8 .5M225.3 704.1l1.2 0M233.4 704.1l2.6-.2 1.5 .2M245.7 704.1l4.1-.9 2.2 .2 2.5 .7M266.5 704.1l3.5-1.4 3.2-.7 3.2 .6 3.4 1.5M175.5 703.3l1.6 .8M271.1 697.2l-4-1.7-1.9-1.7-.1-.5 .8-1.1 5.3-3.2 .8-.5 0-.6-3.9-2.7-.9-1.1 .3-1 1.9-2.2 0-.5-1-1.6 .5-3.3-1-1.6 0-.5 2-2.2 .4-1.1-3.2-2.7-.8-1 .4-1.1 1.3-1.1 3.1-1.5 2.1-.5 2.1 .4 2.2 1 1.7 1.1 .7 1.1 .1 .6-.7 1-3 2.7 .4 1.1 1.9 2.2 0 .5-1 1.6 .5 3.3-.9 1.6-.1 .5 1.8 2.2 .3 1-.8 1.1-3.9 2.7 .1 .6 5.2 3.2 1.1 1.6 0 .5-.9 1.1-3.6 2-3.2 .7-2.1-.4M194.6 696.6l-3.8-1.7-1-1.1-.1-.5 1.4-1.6 3.5-1.7 2.1-.3 2.2 .5 3.2 1.5 1.8 1.6-.6 1.1-3.4 1.8-3.2 .7-2.1-.3M248.8 696.2l-3.6-1.3-1.7-1.1-.3-.5 1.5-1.1 2.3-1 2.8-.8 2.2 .3 2.5 1 1.4 1.1 .2 .5-.5 1.1-2.6 1.4-2.1 .5-2.1-.1M213.7 695.6l-2.9-1.2-.7-1.1 .4-.5 1.7-1.1 2.6-.7 2.1 .1 4.3 1.4 4.2-.8 6.4 .4 4.2-.7 2.9 .8 1.5 1.1-.2 .5-.8 .6-3.4 1-4.2-.6-6.4 .3-4.2-.7-4.3 1.3-3.2-.1M175.5 690.6l2.1 1.6 .6 1.1-.3 1.1-2.4 1.8M195.7 686.5l-3-1.3-.9-1.1 0-.5 .7-.9 2.1-1.8 0-.5-1.5-1.6 .7-3.3-1.2-1.6-.1-.5 1-1.1 1.1-.7 2.1-.5 2.2 .8 1.6 1.5 0 .5-1.3 1.6 .7 3.3-1.6 1.6 0 .5 2.7 2.2 .3 1-1 1.1-1.4 .8-2.2 .5-1 0M248.8 685.5l-1.6-.8-.5-.6 0-.5 2.1-1.4 1-.3 2.2 .4 1.6 1.3-.4 1.1-1.2 .7-1.1 .2-2.1-.1M214.8 684.8l-1.4-.7 0-.5 .7-.5 1.8-.2 1.4 .7 0 .5-.4 .4-2.1 .3M175.5 682.1l1 1.5-.3 1.1-.7 .8M249.8 679.3l-1-.5 .1-.6 .9-.5 0-.6 .1 .6 1 .1 .6 .4 .1 .6-.7 .4-1.1 .1M175.5 678.2l0 .6M249.8 675l-1-.3-1-.8 0-.5 .6-.6 1.4-.4 1.1 0 1.1 .4 .6 .6 0 .5-.6 .6-2.2 .5M175.5 672.6l.4 .8-.4 1.3M196.7 669.7l-2.1-.5-3-1.8-.7-1 .3-1.1 2.4-1.5 3.1-.6 3.2 .8 2.1 1.3 .4 1.1-.9 1-2.6 1.6-2.2 .7M249.8 668.6l-2.1-.5-2-1.2-.3-.5 0-.6 1.3-1.1 2.1-.7 2.1-.1 2.1 .5 1.8 1.4-.3 1.1-1.5 1-3.2 .7M213.7 667.7l-1.5-.8-.4-.5 .6-1.1 1.3-.7 3.2 0 2.2 1.2 .1 .6-.5 .5-1.8 .8-2.1 .2-1.1-.2M233.9 667.1l-1.1-.7 .1-.6 1-.6 2.1-.2 1.2 .3 .7 .5 .1 .6-.9 .7-1.1 .3-2.1-.3M225.4 666.9l-1-.5 .2-.6 .8-.3 2 .3 .1 .5 1.1 .1-3.2 .5M175.5 664l1.4 1.3 .3 1.1-.6 1-1.1 1.1M194.6 658.4l-4-1.7-1.6-1.1-.6-1.1 .5-1.1 1.5-1.1 3.2-1.3 2.1-.4 3.2 .3 7.4 2.9 1.1 0 5.3-1.9 2.1-.4 2.1 .1 4.3 .9 4.2-.5 6.4 .3 4.2-.5 4.3 .9 2.1 .2 5.3-1.5 3.2-.3 2.1 .4 2.3 .8 1.9 1.1 .8 1.1-.9 1.1-1.9 1.1-4.3 1.3-3.2-.4-5.3-1.6-2.1 .2-4.3 1-4.2-.5-6.4 .3-4.2-.6-4.3 1-2.1 .1-2.1-.4-5.3-2-2.2 .4-6.3 2.7-2.2 .4-2.1-.2M281.7 655.4l-3.2 2.3-4.2 1.7-2.2-.1-4.2-1.7-3.6-2-.9-1.1 .2-.5 3.4-2.2 4.5-1.6M175.5 651.2l2.9 1.7 1 1.1 .1 .5-1.2 1.6-2.8 1.8M275.1 650.2l4.3 1.6 2.3 1.7" stroke="#23a0e5" stroke-width="1.3" fill="none"/><path d="M188.8 704.1l4.8-2 3.1-.6 9 2.6M208.3 704.1l6.5-1.5 6.4 .9 4.2-.4 6.4 .2 4.2-.4 6.4 .9 7.4-1.6 3.2 .4 4.3 1.5M264.1 704.1l9.1-4.3-12.7-6.5-.4 .5-4.6 2.2-4.6 1.4-2.1-.1-6.4-1.7-2.1 .1-4.3 .9-4.2-.4-6.4 .2-4.2-.5-4.3 .9-2.1 .2-7.4-2-2.2 .2-6.3 2.5-2.2 .4-2.1-.2-4.2-1.9-2.6-1.6-.5-1.1 .8-1.1 4.9-3.2 .4-1.1-3.1-2.7-.8-1.1 .3-1 1.8-2.2 0-.5-1-1.6 .5-3.3-.9-1.6 0-.5 1.8-2.2 .3-1.1-3.5-3.2-.2-1.1 .9-1.1 1.9-1.2 4.3-2.3 1-.2-12.7-6.5-5.3 2.7-3.2 1.9M175.5 702.3l3.6 1.8M281.7 695.1l-3.2 2-5.3 2.7 8.5 4.3M259.4 692.8l1.1 .5 1-.2 5.4-3 1.7-1.6-.2-1.1-3.5-3.3 .3-1 1.8-2.2 0-.5-.9-1.6 .5-3.3-1-1.6 0-.5 1.8-2.2 .3-1.1-.8-1-3.1-2.7 .4-1.1 4.9-3.3 .8-1-.5-1.1-2.6-1.7-4.2-1.8-2.1-.2-2.2 .4-6.3 2.5-2.2 .2-7.4-2-2.1 .1-4.3 .9-4.2-.4-6.4 .2-4.2-.5-4.3 1-2.1 .1-6.4-1.7-2.1-.2-4.6 1.5-4.6 2.1-.4 .6 10.7 5.4 .1-.6 3.5-1.6 3.8-1.2 2.1 .2 4.3 1.1 4.2-.6 6.4 .3 4.2-.6 5.3 1.4 2.2-.3 6.3-2.1 2.2 .3 2.4 1 2.7 1.6 .5 1.1-1 1-3.6 2.7 .4 1.1 2.2 2.2 0 .5-1.1 1.6 .6 3.3-1.1 1.6-.1 .5 2.2 2.2 .3 1-2.3 2-3.2 1.7-1.1 .1 9.6 4.9M205.6 691.7l2.8 0 6.4-2.2 2.1 .2 4.3 1.2 4.2-.6 6.4 .3 4.2-.6 4.3 1.1 2.1 .2 3.8-1.2 3.5-1.6 .1-.6-8.5-4.3 0 .5-1.1 .6-4.2 1.5-4.2-.7-6.4 .3-4.2-.7-4.3 1.4-2.1 .2-2.7-.9-2.3-1.7 0-.5 .4-.5 2.8-2.2 0-.5-1.5-1.6 .7-3.3-1.4-1.6 0-.5 .8-.9 2.1-1.3 1.1-.5 1.1 0-8.5-4.3-1.1 0-4.5 2.7-1 1 .3 1.1 2.2 2.2-.1 .5-1.1 1.6 .6 3.3-1.1 1.6 0 .5 2.2 2.2 .4 1-3.6 2.7-1 1.1 0 .6 1.2 1 4.8 2.2M175.5 688.8l1.2 1.3 3.1 2.1 .8 1.1-.1 .5-1.1 1.1-3.9 2.4M240.3 683.1l1 .5 1.1 0 2.9-1.6 1.1-1.1 0-.5-1.4-1.6 .7-3.3-1.5-1.6 0-.5 2.8-2.2 .4-.5 0-.6-1.8-1.3-3.2-1.2-2.1 .2-4.3 1.4-4.2-.8-6.4 .4-4.2-.7-2.2 .6-3.1 1.4 0 .6 5.3 2.7 1-.1 3.2-1.2 6.4 .5 3.2-.9 1 0 2.2 .7 1.2 1 0 .5-1.9 1.6 1 3.3-2.4 1.6-.1 .5 4.3 2.2M220.9 682.5l1.3 .1 3.2-1 6.4 .6 3.2-1.3 1 0-4.2-2.1-5.3 .8-2-.3-.8-.5 .1-.6 .6-.5 0-1.1 .9-.5 .1-.6-4.2-2.1-.1 .5-2.4 1.6 1 3.3-1.9 1.6 0 .5 1.2 .9 1.9 .7M230.7 678.2l1.1 .6 .1-.6 .9-.5 0-1.1 .6-.5 .1-.6-.8-.5-2-.3-5.3 .8 5.3 2.7M281.7 666.8l-2.9 3.3 .2 1.1 1.5 2.2-.8 2.1 .5 3.3-.8 2.1 1.5 2.2 .2 1-3.2 3.8 0 .6 .9 1 2.9 2.2M175.5 662.6l2.9 2.1 .9 1.1 0 .6-3.2 3.7 .2 1.1 1.5 2.2-.8 2.1 .5 3.3-.8 2.1 1.5 2.2 .2 1-2.9 3.3M281.7 656.9l-3.9 2.5-1.1 1-.1 .6 .8 1 3.1 2.2 1.2 1.3M175.5 650.2l8.5 4.3 9.1-4.3M199.9 650.2l4.3 1.5 3.2 .4 7.4-1.6 6.4 .9 4.2-.4 6.4 .2 4.2-.4 6.4 .9 6.5-1.5M251.5 650.2l9 2.6 3.1-.6 4.8-2M278.1 650.2l3.6 1.8" stroke="#08bcbe" stroke-width="1.3" fill="none"/><path d="M185.7 704.1l4.5-1.6 3.4-2.2 .2-.5-.9-1.1-3.6-2.1-4.2-1.6-2.2-.1-4.2 1.7-3.2 2.3M259.1 703.6l2.4 .1 2.8-.7 2.5-1.1 1.9-1.6 0-1.1-1.2-1-2.8-1.5-3.2-1-3.2 .4-6.3 2.7-2.2 .4-5.3-2-2.1-.5-2.1 .2-4.3 1-4.2-.6-6.4 .3-4.2-.5-4.3 1-2.1 .2-5.3-1.6-3.2-.4-4.3 1.3-1.9 1.1-.9 1.1 .8 1.1 1.9 1 2.3 .9 2.1 .4 3.2-.3 5.3-1.5 2.1 .1 4.3 1 4.2-.5 6.4 .3 4.2-.5 4.3 .9 2.1 .1 2.1-.4 5.3-1.9 1.1 0 5.3 2.2 2.9 .9M175.5 700.8l2.3 1.7 4.3 1.6M281.7 696.4l-2.8 1.8-1.2 1.6 .1 .5 1 1.1 2.9 1.7M182 691.7l2 .3 3.2-.8 2.8-1.7 .8-1 .1-.6-.8-1.1-3.2-2.7 .4-1 2-2.2 0-.5-1-1.6 .5-3.3-1-1.6 0-.5 1.9-2.2 .3-1.1-.9-1-3.9-2.7 0-.6 .8-.5 5.3-3.3 .8-1-.1-.6-1-1-2.8-1.6-2.1-.8-2.1-.3-2.1 .3-3.2 1.3-2.1 1.6-.3 1.1 1.1 1.6 5.2 3.2 .1 .6-3.9 2.7-.8 1 .3 1.1 1.8 2.2-.1 .5-.9 1.6 .5 3.3-1 1.6 0 .5 1.9 2.2 .4 1-3 2.7-.7 1.1 .3 1.1 1.2 1 3.3 1.7M258.1 690.6l2.4 .5 2.1-.2 2.8-1.4 .6-.5 .3-1.1-.7-1.1-3-1.8-2.1-.4-1.1 .2-3.2 1.7-1.4 1.4 .4 1.1 2.9 1.6M204.8 690.1l2.6 .3 1.8-.3 2.1-1.1 .5-1.1-1-1.1-2.4-1-1-.2-2.2 .3-1.9 .9-.9 1.1 .4 1.1 2 1.1M239.9 689.5l1.4 .3 2.2-.2 1.3-.6 .6-1.1-.4-.5-1.5-.8-1.1-.3-2.1 .3-1.8 .8-.5 .5 .1 .6 .6 .5 1.2 .5M220 689l2.2 .3 2.1-.8 .1-.6-1.1-.7-2.1-.3-1.5 .5-.5 .5 .1 .6 .7 .5M229.8 688.5l2 .3 .8-.3 .2-.6-1-.5-1.1 0-1 .5-1.1 0 1.1 .1 .1 .5M281.7 685.8l-1.1 1-.6 1.1 .3 1.1 1.4 1.3M260.3 683.1l2.3-.5 1.1-.6 1-1.1-.1-.5-1.2-1.6 .7-3.3-1.5-1.6 0-.5 2.1-1.8 .7-.9-.3-1.1-1.5-1-3.1-.8-3.2 1-1.4 1.3 .3 1.1 2.7 2.2 0 .5-1.6 1.6 .7 3.3-1.3 1.6 0 .5 1.6 1.5 2 .7M205.1 681.5l2.3 .4 1.4-.4 .6-.6 0-.5-1-.8-1-.3-1.1 0-1.7 1.1 0 .5 .5 .6M281.7 679.6l-.4 1.3 .4 .8M207.3 676.6l.1 .5 0-.5 .9-.5 .1-.6-1-.5-1.1 .1-.7 .4 .1 .6 .6 .4 1 .1M281.7 675.5l0 .6M206.2 672.3l1.2 .1 1.8-.6 1.3-1.1 0-.6-.5-.5-1.6-.8-2.1-.1-1.4 .4-.9 .5-.4 1.1 .6 .7 2 .9M240.6 671.2l.7 .2 1.8-.2 .7-.5 0-.6-1.4-.7-1.7 .2-.8 .5 0 .6 .7 .5M281.7 668.8l-.7 .8-.3 1.1 1 1.4M258.6 664.2l2.9 .3 2.1-.6 3.2-1.9 .7-1-.1-.6-1.8-1.6-3-1.2-3.2-.1-2.5 .8-3 1.6-.6 1.1 1.8 1.6 3.5 1.6M205.4 663.7l2 .1 2.1-.4 3-1.4 1.5-1-1-1.1-3.5-1.5-3.2-.4-2.1 .5-2.6 1.4-.5 1.1 .2 .5 1.4 1.1 2.7 1.1M240.2 663.1l3.3 0 2.5-1.1 1.1-1-.1-.6-1.5-1-3.1-.9-2.1 .1-4.3 1.3-4.2-.8-6.4 .4-4.2-.7-3.4 1.1-.8 .5-.2 .6 1.5 1 2.9 .9 4.2-.7 6.4 .4 4.2-.8 4.2 1.3M281.7 658.1l-2.4 1.8-.3 1.1 .6 1 2.1 1.7M177.4 650.2l3.4 1.5 3.2 .5 3.2-.6 3.5-1.4M202.7 650.2l2.5 .7 2.2 .2 4.1-.9M219.7 650.2l1.5 .2 2.6-.2M230.7 650.2l1.2 0M238.5 650.2l2.8 .5 3.7-.5M255.1 650.2l3.2 1.1 2.2 .3 2.1-.2 3.5-1.2M280.1 650.2l1.6 .8" stroke="#50cc80" stroke-width="1.3" fill="none"/><path d="M181.6 703l3.5 .2 2.8-.7 2.7-1.6 .5-1.1-.2-.6-2-1.6-2.8-1.1-2.1-.3-3.2 .6-2.6 1.4-1.1 1.6 .4 1.1 .6 .5 3.5 1.6M258.8 702.5l2.7 .2 2.8-.8 1.7-1 .5-1.1-.1-.6-1.2-1-2.6-1.1-3.2-.1-2.2 .6-2.5 1.6 0 1.1 1.2 1.1 2.9 1.1M205.1 701.9l2.3 .3 2.1-.5 1.9-.8 .8-1.1-.9-1.1-1.8-.8-2.1-.4-2.2 .1-2.3 1.1-.8 1.1 .7 1.1 2.3 1M240 701.4l1.3 .2 2.2-.1 1.4-.6 .8-1.1-1-1.1-1.2-.5-3.3 0-1.4 .5-1.3 1.1 1.1 1.1 1.4 .5M219.8 700.9l2.4 .3 2.6-.9 .5-.5-2-1.1-2.1-.2-1.1 .2-1 .5-.3 .6 .2 .5 .8 .6M227.1 700.3l4.7 .5 1.3-.5 .3-.5-.6-.6-2.1-.3-3.4 .3-.8 .6 .6 .5M281.7 697.6l-1.4 1.1-.5 1.1 .4 1.1 1.5 1.1M181.4 690.1l2.6 .5 2.1-.4 2.1-1.2 .4-1.1-1.4-1.4-2.1-.9-1.1-.1-2.1 .4-1.8 .9-.8 1.1 .4 1.1 1.7 1.1M259.4 689.5l2.1 .1 1.1-.3 1-.7 .2-.7-1.2-1-1.1-.3-2.5 .2-1 .6-.4 .5 .1 .6 1.7 1M182.8 682l2.3 0 1.1-.5 .4-.6 0-.5-1.5-1.2-1.1-.4-1.1 .3-1.2 .7-.5 1.1 .7 .7 .9 .4M182.7 677.7l1.3 .5 1.1-.4 .1-1.2 .5-.5 .1-.6-.7-.6-1.1-.2-1.3 .3-.7 .5 .1 .6 .6 .5 0 1.1M182.5 672.3l1.5 .3 2.1-.6 1.1-.8 .3-1.1-1.2-1-1.2-.5-1.7-.1-1.5 .4-1.2 .7-.4 1.1 .5 .7 1.7 .9M259.4 670.7l1.1 .4 1-.1 .5-.3 0-.6-1.5-.4-1.1 .4 0 .6M181.9 663.7l2.1 .3 3.2-.8 2.1-1.4 .4-.8 0-.6-1-1-2.6-1.2-3.2-.3-2.1 .6-2.1 1.3-.5 1.2 .5 .8 .9 .8 2.3 1.1M260.2 663.1l1.3 0 2.1-.6 1.3-1 .2-1.1-1.5-1.2-2.1-.6-2.1 .1-1.9 .7-1.3 1 .2 1.1 1.6 1.1 2.2 .5M205.1 662l1.2 .4 2.1-.2 1.4-.7 .3-.5-.1-.6-.6-.5-1.6-.5-2.6 .2-1 .6-.3 .8 1.2 1M241.3 661.5l1.1 0 .8-.5-.3-.6-.5-.2-1.1 0-.6 .2-.2 .6 .8 .5M281.7 659.5l-.8 1.5 .8 1.2M179.5 650.2l2.4 .7 2.1 .3 2.1-.3 2.2-.7M258 650.2l2.5 .4 2.9-.4" stroke="#bbc430" stroke-width="1.3" fill="none"/><path d="M181.7 701.9l2.3 .4 2.2-.4 2.1-1 .5-1.1-.2-.6-1.3-1-2.2-.8-2.2 0-2.1 .6-1.5 1.2-.1 1.1 1.2 1.1 1.3 .5M259.6 701.4l1.9 .1 1.8-.6 .6-.6-.1-1.1-2.3-1-1.3 0-1.9 .5-.7 .5-.3 .6 .2 .5 2.1 1.1M206.1 700.3l1.3 .2 .9-.7-.9-.6-1.1 0-.6 .6 .4 .5M182.8 688.5l1.2 .3 1.1-.3 .1-.6-1.2-.4-1.1 .2-.2 .2 .1 .6M181.6 662l1.3 .5 2.2-.1 1.8-.9 .3-1.1-1.1-.8-1-.3-2.7 .1-1.7 1 .1 1 .8 .6" stroke="#fec239" stroke-width="1.3" fill="none"/><path d="M182.4 700.3l1.6 .4 1.4-.4 .3-.5-.6-.7-2.2 0-.8 .7 .3 .5" stroke="#f6f21e" stroke-width="1.3" fill="none"/></g><path d="M175.5 704.09v-1.0M175.5 650.19v1.0M228.6 704.09v-1.0M228.6 650.19v1.0M281.7 704.09v-1.0M281.7 650.19v1.0M175.5 704.09h1.0M281.7 704.09h-1.0M175.5 677.14h1.0M281.7 677.14h-1.0M175.5 650.19h1.0M281.7 650.19h-1.0" stroke="#262626" stroke-width="0.6" fill="none"/><rect x="175.5" y="650.19" width="106.2" height="53.9" fill="none" stroke="#262626" stroke-width="0.7"/><text x="175.5" y="713.89" font-size="7.6" text-anchor="middle" fill="#262626">-500</text><text x="228.6" y="713.89" font-size="7.6" text-anchor="middle" fill="#262626">0</text><text x="281.7" y="713.89" font-size="7.6" text-anchor="middle" fill="#262626">500</text><text x="174" y="707.1" font-size="7.6" text-anchor="end" fill="#262626">-500</text><text x="174" y="680.15" font-size="7.6" text-anchor="end" fill="#262626">0</text><text x="174" y="653.2" font-size="7.6" text-anchor="end" fill="#262626">500</text><text transform="translate(228.6 648.99) scale(1 1.12)" font-size="8.55" text-anchor="middle" font-weight="bold" fill="#000">Search history</text><path d="M175.5 650.2h0m0 4.5h0m0 4.5h0m0 4.5h0m0 4.5h0m0 4.4h0m0 4.5h0m0 4.5h0m0 4.5h0m0 4.5h0m0 4.5h0m0 4.5h0m0 4.5h0m.5-31.3h0m1.1-7.3h0m1.1 3.7h0m3.3 16.7h0m.2-19h0m1.2 37.2h0m.5-7.6h0m.6-45.8h0m.8 28.1h0m.8-5.1h0m0 1.6h0m.5 8.7h0m.2-2.9h0m.1-20.3h0m.1-4h0m.2 15.1h0m.2-4.1h0m.2-12.8h0m1 19.6h0m.4-23h0m.7 30.6h0m.4 2.5h0m.7-13.6h0m0 4.7h0m1.1 28.3h0m.1-48.7h0m.1 31.9h0m.2 7.3h0m.6-5.1h0m.4 7.8h0m.1-1.8h0m.1-42h0m0 10.9h0m.3-3.5h0m1.1 19.2h0m.5-7.4h0m.9 17.8h0m.4 10.2h0m.5-1.7h0m.1-33.1h0m.2 21.9h0m.1-14.1h0m.4-21.1h0m2 21.7h0m0 .4h0m.1-17.2h0m0 22.6h0m0 8.7h0m.8-17.4h0m0 16.9h0m1-34.6h0m.6-.6h0m.1 51h0m.6-35h0m1.3 15.9h0m.7 8.4h0m.9-28.7h0m.8 32.1h0m.1-43.1h0m.2 16h0m0 11.4h0m.1-26h0m.1-3h0m4.1 .1h0m0 46.1h0m.2-46.2h0m.6 22.5h0m.6-.2h0m.1-20.1h0m.3-2h0m.4 16h0m.5 30.4h0m.2-46.8h0m1.6-1.3h0m.1 4.2h0m0 26.1h0m.3 23.2h0m.6-34.6h0m.5 24.6h0m.1-22.1h0m.5 3.8h0m.1 14.4h0m1.1-36.6h0m.8 16.9h0m0 4.9h0m.2 12.3h0m.2-35.4h0m.2 27.3h0m.2-23.8h0m.1-3.9h0m1 13.9h0m1.2 17.2h0m.4 13h0m.2-14.8h0m.1 9.8h0m.1-34.8h0m.3 24.2h0m.2-15.3h0m.4-1.2h0m.1-12.3h0m.5 14.8h0m0 10.4h0m1 21.6h0m.1-39.1h0m.4 30.4h0m0 14.4h0m.3-34.1h0m.1-9.7h0m0 30.3h0m.3-4.3h0m.8-22.4h0m.2-3.2h0m.8-8.7h0m.2 46.8h0m1-34.1h0m.4 26.2h0m.6-38.4h0m.2 19.4h0m.4-12.8h0m.2 31.2h0m.8-33h0m.1-3.5h0m.6-1.9h0m1.5 52.2h0m1.4-35.4h0m.7 11.5h0m.9-27.8h0m0 5.1h0m.8 15.9h0m.9 1.7h0m.3 20.3h0m.5-20.3h0m0 4.6h0m.7 9.6h0m.6-30.6h0m.5 20.7h0m.2-25.9h0m.2 40.7h0m.6-13.7h0m.9 8.5h0m1.9-11.7h0m.9-27.1h0m.2 31.8h0m.9 19.9h0m.2-37.2h0m1.5 39.4h0m1.3-51.5h0m.4 .7h0m.1 32.2h0m.7-28.6h0m0 37.4h0m.2-36.3h0m1.9 26.7h0m.4-29.2h0m.2-1.6h0m.3 23.1h0m.4-3h0m.3-21.3h0m.7 43h0m1.3-17.6h0m1-16.2h0m.1-.1h0m.1 34.3h0m1-17.4h0m.3-25.6h0m0 9.6h0m0 .7h0m.6 29.9h0m.1-12h0m1.1 5.7h0m.1-8.8h0m.1-15.9h0m.3 18.4h0m.9-5.1h0m.8-20.2h0m.1 44.1h0m.4-48.2h0m.8 52.8h0m1.1-47.6h0m.9 6.8h0m.4 38.6h0m1.3-51.1h0m1.6 33.9h0m.2-.9h0m.9 13.5h0m.4-1h0m.4-11.5h0m.7-27.2h0m.3-3.9h0m.3 50.4h0m.4-46.1h0m.3 4.4h0m1.2-5.4h0m.2 5.8h0m.2 4h0m.2 2.3h0m.1-1.7h0m1.3-11.3h0m.3-4.4h0m1 15h0m1.3 13.8h0m.5-9.5h0m.1 11.6h0m.3 21.5h0" stroke="#ff0000" stroke-width="5.6" stroke-linecap="round" fill="none"/><circle cx="273.31" cy="654.45" r="4.0" fill="#00bb00"/><clipPath id="ctr7"><rect x="325.8" y="648.69" width="109.2" height="56.9"/></clipPath><g clip-path="url(#ctr7)"><path d="M327.83 694.39L328.89 693.31L329.42 675.15L334.2 675.15L334.73 665.61L346.42 665.61L346.95 666.36L352.79 666.36L353.32 652.78L360.22 652.78L360.75 654.61L433.5 654.61" stroke="#0072bd" stroke-width="2.4" fill="none" stroke-linejoin="round" stroke-linecap="butt"/></g><path d="M327.3 704.09v-1.0M327.3 650.19v1.0M353.85 704.09v-1.0M353.85 650.19v1.0M380.4 704.09v-1.0M380.4 650.19v1.0M406.95 704.09v-1.0M406.95 650.19v1.0M433.5 704.09v-1.0M433.5 650.19v1.0M327.3 704.09h1.0M433.5 704.09h-1.0M327.3 677.14h1.0M433.5 677.14h-1.0M327.3 650.19h1.0M433.5 650.19h-1.0" stroke="#262626" stroke-width="0.6" fill="none"/><rect x="327.3" y="650.19" width="106.2" height="53.9" fill="none" stroke="#262626" stroke-width="0.7"/><text x="327.3" y="713.89" font-size="7.6" text-anchor="middle" fill="#262626">0</text><text x="353.85" y="713.89" font-size="7.6" text-anchor="middle" fill="#262626">50</text><text x="380.4" y="713.89" font-size="7.6" text-anchor="middle" fill="#262626">100</text><text x="406.95" y="713.89" font-size="7.6" text-anchor="middle" fill="#262626">150</text><text x="433.5" y="713.89" font-size="7.6" text-anchor="middle" fill="#262626">200</text><text x="325.8" y="707.1" font-size="7.6" text-anchor="end" fill="#262626">-500</text><text x="325.8" y="680.15" font-size="7.6" text-anchor="end" fill="#262626">0</text><text x="325.8" y="653.2" font-size="7.6" text-anchor="end" fill="#262626">500</text><text transform="translate(380.4 648.99) scale(1 1.12)" font-size="8.55" text-anchor="middle" font-weight="bold" fill="#000">Trajectory curve</text><clipPath id="caf7"><rect x="477.8" y="648.69" width="108.4" height="56.9"/></clipPath><g clip-path="url(#caf7)"><path d="M479.3 650.44L493.09 655.13L503.64 658.58L512.48 662.12L520.67 666.48L526.08 669.36L529.86 670.6L536.8 676.03L545.59 680.47L548.86 682.94L550.59 687.8L561.08 693.64L575.19 700.72L584.7 703.51" stroke="#0072bd" stroke-width="2.4" fill="none" stroke-linejoin="round" stroke-linecap="butt"/></g><path d="M479.3 704.09v-1.0M479.3 650.19v1.0M525.11 704.09v-1.0M525.11 650.19v1.0M584.7 704.09v-1.0M584.7 650.19v1.0M479.3 702.69h1.0M584.7 702.69h-1.0M479.3 686.23h1.0M584.7 686.23h-1.0M479.3 669.78h1.0M584.7 669.78h-1.0M479.3 653.32h1.0M584.7 653.32h-1.0" stroke="#262626" stroke-width="0.6" fill="none"/><rect x="479.3" y="650.19" width="105.4" height="53.9" fill="none" stroke="#262626" stroke-width="0.7"/><text x="479.3" y="713.89" font-size="7.6" text-anchor="middle" fill="#262626">1</text><text x="525.11" y="713.89" font-size="7.6" text-anchor="middle" fill="#262626">10</text><text x="584.7" y="713.89" font-size="7.6" text-anchor="middle" fill="#262626">200</text><text x="477.8" y="705.7" font-size="7.6" text-anchor="end" fill="#262626">-800</text><text x="477.8" y="689.24" font-size="7.6" text-anchor="end" fill="#262626">-600</text><text x="477.8" y="672.78" font-size="7.6" text-anchor="end" fill="#262626">-400</text><text x="477.8" y="656.33" font-size="7.6" text-anchor="end" fill="#262626">-200</text><text transform="translate(532 648.99) scale(1 1.12)" font-size="8.55" text-anchor="middle" font-weight="bold" fill="#000">Average fitness</text><clipPath id="ccv7"><rect x="629.8" y="648.69" width="108.4" height="56.9"/></clipPath><g clip-path="url(#ccv7)"><path d="M631.3 650.19L693.67 650.19L694.52 660.97L695.33 666.36L696.86 691.96L698.29 696L710.65 696L711.02 698.7L717.45 698.7L718.47 701.39L736.7 701.39" stroke="#0072bd" stroke-width="2.4" fill="none" stroke-linejoin="round" stroke-linecap="butt"/></g><path d="M631.3 704.09v-1.0M631.3 650.19v1.0M677.11 704.09v-1.0M677.11 650.19v1.0M736.7 704.09v-1.0M736.7 650.19v1.0M631.3 704.09h1.0M736.7 704.09h-1.0M631.3 677.14h1.0M736.7 677.14h-1.0M631.3 650.19h1.0M736.7 650.19h-1.0" stroke="#262626" stroke-width="0.6" fill="none"/><rect x="631.3" y="650.19" width="105.4" height="53.9" fill="none" stroke="#262626" stroke-width="0.7"/><text x="631.3" y="713.89" font-size="7.6" text-anchor="middle" fill="#262626">1</text><text x="677.11" y="713.89" font-size="7.6" text-anchor="middle" fill="#262626">10</text><text x="736.7" y="713.89" font-size="7.6" text-anchor="middle" fill="#262626">200</text><text x="629.8" y="707.1" font-size="7.6" text-anchor="end" fill="#262626">-840</text><text x="629.8" y="680.15" font-size="7.6" text-anchor="end" fill="#262626">-820</text><text x="629.8" y="653.2" font-size="7.6" text-anchor="end" fill="#262626">-800</text><text transform="translate(684 648.99) scale(1 1.12)" font-size="8.55" text-anchor="middle" font-weight="bold" fill="#000">Convergence curve</text><text transform="translate(78.4 738.06) scale(1 1.13)" font-size="14.3" text-anchor="middle" font-weight="bold" fill="#000">F9</text><path d="M23.7 751.26L83.6 741.16L130 754.66M83.6 770.86L83.6 741.16M70.8 794.34L24.4 780.84L24.4 751.14M100.05 789.41L53.65 775.91L53.65 746.21M129.3 784.48L82.9 770.98L82.9 741.28M69.56 794.3L129.46 784.2L129.46 754.5M46.9 787.71L106.8 777.61L106.8 747.91M24.24 781.12L84.14 771.02L84.14 741.32M23.7 762.51L83.6 752.41L130 765.91" stroke="#dcdcdc" stroke-width="0.5" fill="none"/><path d="M74.2 787.4l-.4-.1 .4 .1M80.5 786.5l-1.5-.3 1.8-.1 .4 .1-.7 .3M85.1 785.5l-.4-.2 .4-.3 2 .2-.5 .3-1.5 0M91.2 784.5l-.6-.3 .5-.1 1.6 .1-1.5 .3M98.2 783.4l-.5 0 .5 0M76.3 785.3l-1.9-.1-.3-.3 1.6-.3 1.2 .2-.6 .5M82.4 784.3l-2.3-.1-.4-.2 2-.4 1.1 .2-.4 .5M88.3 783.2l-2.2 0-.5-.2 .8-.3 1.9 .1 .3 .1-.3 .3M70 786.2l-1.3-.4 2.1 0-.8 .4M92.8 782.2l-.9-.2 .4-.2 1.7 .1-.1 .2-1.1 .1M65.7 784.9l-1.5-.1-.1-.3 2.2-.1 .1 .3-.7 .2M71.9 784l-2.2-.1-.1-.4 2.8-.1 .2 .3-.7 .3M78 783l-2.6-.1-.2-.3 .5-.3 2.6 .1 .2 .3-.5 .3M82.6 782l-1.3-.1-.2-.3 .7-.3 2.2 .1-.1 .6-1.3 0M89.6 780.9l-1.2 .1-1.1-.3 2.2-.2 .1 .4M61.1 783.6l-1.4-.2 .1-.2 1.7-.1 .3 .2-.7 .3M67.3 782.6l-2.2-.1 .3-.4 2.2 0 .5 .3-.8 .2M72 781.7l-1.1-.2 .4-.5 2.3 .1 .4 .3-2 .3M78 780.7l-1.2-.2 .6-.4 1.9 0 .3 .3-1.6 .3M85 779.5l-2.1-.1 1.8-.2 .3 .3M62.6 781.3l-1.6-.2 1.6-.3 .5 .3-.5 .2M68.6 780.3l-2-.2 .5-.3 1.5 0 .4 .3-.4 .2M74.5 779.2l-2-.1 1.7-.3 .3 .4M55.9 782.1l-.4-.1 .4 .1M79.9 778l-.8 0 .8 0" stroke="#484cef" stroke-width="0.9" fill="none"/><path d="M89.4 789.1l-1.1-.2 1-.2 .1 .4M95.5 788.1l-1.5-.2 1.3-.2 .2 .4M101.4 787.1l-1.4-.2 1-.1 .4 .3M79.2 788.8l-1.8-.2 .1-.2 1.9-.1 .7 .2-.9 .3M83.9 787.9l-1.1-.2 .4-.4 3.1 .2-.8 .4-1.6 0M90.1 787l-1.5-.3 .5-.5 3.1 .3-.7 .4-1.4 .1M96.2 786l-1.7-.3 .7-.5 2.7 .3-.5 .4-1.2 .1M102 784.9l-1.4-.2 .9-.4 1.1 .1 .7 .2-.2 .2-1.1 .1M75.1 787.7l-2.8-.4 .3-.4 2.6 0 .9 .1-.1 .5-.9 .2M81.3 786.7l-3.5-.3 .4-.6 3.1 0 1 .2-.2 .5-.8 .2M86 785.8l-2.5-.4 .6-.6 3.1 0 .9 .2-.1 .5-2 .3M92.1 784.8l-2.7-.4 .8-.6 2.7 .1 .9 .2 0 .3-.5 .3-1.2 .1M97.9 783.7l-2.3-.3 1-.5 1.8 0 .9 .2-.1 .4-1.3 .2M68.6 788.5l-1.5-.3 1.7-.3 1 .2-1.2 .4M103.6 782.6l-1.7-.3 1.8-.3 .9 .2-1 .4M77.1 785.5l-3.7-.1-.4-.3 .4-.7 4.8 .2-.4 .6-.7 .3M83.4 784.6l-4.6-.1-.1-.4 .5-.8 5 .3-.8 1M89.1 783.5l-4.4 0-.1-.4 .8-.7 3 .1 1.2 .1 0 .4-.5 .5M64.4 787.3l-1.8-.1-.4-.3 1.2-.4 2.1 .2-.1 .4-1 .2M70.8 786.4l-2.9-.1-.4-.3 .4-.5 1.1-.1 3 .2-.3 .6-.9 .2M93.7 782.5l-2.7-.1-.3-.3 1.1-.6 2.1 .1 1.1 .1 .1 .4-1.4 .4M99.4 781.4l-2-.1-.3-.3 1.2-.4 2 .2 0 .4-.9 .2M57.6 788.1l.4-.4 .8 .1-1.2 .3M104.7 780.2l-.8-.2 1.6 0-.8 .2M72.9 784.3l-4.5-.2 0-.4 .4-.6 5 .1-.9 1.1M79.1 783.3l-5.2-.1 .7-1.2 5.2 .2-.7 1.1M84.9 782.3l-5-.2 .9-1.1 4.5 .2-.4 1.1M60 786l-2.1-.1-.2-.4 1.1-.3 2.3 .1-.1 .5-1 .2M64.8 785.1l-1.6-.1-.3-.3 .4-.5 4.2 0-.2 .7-2.5 .2M89.2 781.2l-3-.1 0-.4 1.1-.5 3.2 .2 .3 .3-.4 .4-1.2 .1M94.9 780.1l-2.3-.1-.1-.3 1.2-.4 2.1 .2 .1 .4-1 .2M53.1 786.8l-.4-.2 .7-.2 1 .1 0 .2-1.3 .1M100.3 778.9l-1 0 0-.3 1.6 0-.6 .3M61.9 783.8l-3.2-.2-.1-.3 1.4-.5 2.7 .1 .3 .3-.3 .4-.8 .2M68.3 782.9l-4.2-.2 0-.4 .5-.5 4.4 .1 .1 .3-.8 .7M72.8 781.9l-3.3-.1 .8-1 4.6 .1-.4 1.1-1.7-.1M78.9 780.9l-3.4-.1 .4-.7 .7-.3 2.2 0 1.5 .1 .4 .3-.4 .7-1.4 0M85.8 779.8l-4.1-.1 .3-.6 2.3-.2 1.5 .1 .4 .3-.4 .5M55.4 784.7l-2-.2-.1-.4 3-.1 .3 .3-.2 .2-1 .2M90.3 778.8l-2.1-.2 0-.3 2.9-.2 .4 .3-.2 .2-1 .2M48.3 785.4l.7-.3 .8 .2-1.5 .1M95.7 777.6l-.8-.1 1.3-.2-.5 .3M63.5 781.5l-2.7 0-.9-.2 0-.4 .5-.3 3.3 0 .6 .3-.8 .6M69.6 780.6l-3.1-.1-.9-.2 0-.4 .7-.3 3.2 0 .7 .3-.6 .7M75.5 779.5l-4.1-.2 .2-.5 .8-.2 1.5 0 2 .3-.4 .6M50.6 783.3l-1.5-.2 1-.4 1.1 0 .5 .4-1.1 .2M55.4 782.4l-1-.2 .2-.5 3-.1 .5 .3-1 .5-1.7 0M79.9 778.5l-2.3-.2 .1-.4 .9-.2 2.2 0 .6 .3-.3 .4-1.2 .1M85.6 777.4l-1.7-.2 .2-.2 2-.2 .5 .4-1 .2M58.5 780.1l-2.7-.3 .5-.4 2.1 0 .8 .2-.7 .5M64.6 779.1l-3.1-.3 .7-.4 2.1 0 .8 .2-.5 .5M70.5 778.1l-3.1-.2 .8-.5 1.9 0 .8 .2-.4 .5M52.2 781l-1.8-.3 1.9-.3 .8 .2-.9 .4M75 777.1l-1.4-.3 1.9-.3 .8 .2-.1 .3-1.2 .1M53.3 778.6l-1-.3 1.4 .1-.4 .2M59.4 777.6l-1 0-.4-.3 1.7 .1-.3 .2M65.3 776.5l-.9 .1-.2-.3 1.1 .2" stroke="#3479fd" stroke-width="0.9" fill="none"/><path d="M87.4 791.2M94 790.4l-1.3-.1 .1-.2 1.5-.1-.3 .4M99.8 789.4l-1.5-.1 .3-.3 1.6 0 .1 .4M104.3 788.4l.5-.4 1 .1 .2 .3-1.7 0M111.3 787.2l-.3 0 .3 0M96.2 788.3l-2.4 0-1-.2 0-.3 .4-.4 3.2 .1 .6 .3-.8 .5M77.5 791.1l-1.2-.3 1.7-.2 .6 .3-1.1 .2M83.9 790.2l-2.3-.2 .1-.4 2.7 0 .6 .2-1.1 .4M88.7 789.3l-1.6-.2 .3-.6 3.1 0 .6 .3-.9 .5-1.5 0M100.9 787.4l-2.2-.3 0-.4 .6-.2 2.8 .1 .5 .4-1.7 .4M106.8 786.3l-2-.2 .1-.3 2.8-.2 .5 .3-.3 .3-1.1 .1M112.5 785.2l-1.3-.2 1.7-.2 .6 .3-1 .1M80 789.1l-2.8-.1-.8-.2 0-.3 .1-.4 4.1 0 .8 .2-.6 .6-.8 .2M84.7 788.2l-3-.3 .3-.8-1.1-.1-3.5 0-1.1 1-4.9-.1 0-1.1-1.2-.2-3.3 0-.6 .8-1 .2-3.6-.2-.5-.3 .1-.7 4.6-.1 .7-.2 0-.6-4.1-.1-.6 .5 .2 .3-3.9 0-1.3-.2-.2-1 4.6 0 .7-.2 .2-.4-.3-.3-4-.1-.5 .5 .1 .3-1 .2-4.1-.3-.1-.4 .2-.5 .9-.2 3.5 .1 .7-.2 .3-.5-.4-.3-4.7-.2 .6-.2 .4-.7-.4-.2 4.9 0 .6-.3 .3-.4-.4-.3-4.2-.4 .9-.8 4.3-.1 .8 .3-.4 .2-.1 .6 4 .1 .8-.6-.4-.3-4.4-.3 1.3-.9 4.4-.1 .8 .2-.5 .3-.1 .6 4.1 .1 .7-.6-.4-.3-4.4-.3 1.5-.9 3.7 0 .8 .2-.3 .8 3.2 .2 1.4 0 1.1-1.1 4.9 .2 0 1 3.3 .3 1.2-.1 .6-.8 1-.1 3.6 .2 .5 .2-.1 .7-4.6 .1-.7 .2 0 .7 4.1 .1 .6-.6-.2-.3 1-.1 4.2 .3 .2 1-4.6 0-.7 .3-.2 .3 .3 .3 4 .1 .5-.5-.1-.3 1-.2 4.1 .4-.1 .8-4.4 .1-.7 .2-.3 .5 .4 .3 4.7 .3-.6 .2-.4 .7 .4 .2-4.9-.1-.6 .3-.3 .5 .4 .3 4.2 .3-.9 .8-4.3 .1-.8-.2 .4-.3 .1-.5-4-.2-.8 .6 .4 .3 4.4 .3-1.3 1-4.4 0-.8-.2 .5-.3 .1-.5-4.1-.2-.7 .6 .4 .3 4.4 .3-1.5 .9-1.5 .1M102.8 785.2l-3.5-.3 .4-.6 .8-.3 3.1 .2 .8 .2-.1 .3-.4 .3-1.1 .2M66.9 790.8l-1-.3 .8-.2 1.5 .2-1.3 .3M73.5 790l-2.4-.3 .1-.4 .9-.2 2.1 .1 .7 .2-.4 .4-1 .2M106.8 784l-1-.2 .3-.4 1-.2 2.6 .3-.2 .4-2.7 .1M114 782.9l-1.5-.2 1.6-.3 .7 .3-.8 .2M64 789.5l-2.5 0-.6-.2 .9-.5 1.6 0 1 .2-.4 .5M69.4 788.8l-2.8-.2-.6-.2 .1-.6 5 .1-.7 .7-1 .2M104.4 782.9l-3.2-.1-.6-.2 .5-.7 3.6 0 .9 .2 0 .3-1.2 .5M109.9 781.7l-2.6-.3 .4-.3 2.1-.1 .9 .2 0 .3-.8 .2M57.2 790.3l-.2-.1 .2 .1M115.1 780.5l-.2-.1 .2 .1M74.5 786.6l1.7 0 .8-.4-.2-.3-1.1-.2-2.4 0-.7 .5 .4 .3 1.5 .1M80.6 785.6l1.5 0 .6-.4-.1-.3-1.2-.2-2 .1-.7 .4 .4 .3 1.5 .1M86.5 784.6l1.6-.1 .5-.3-.1-.3-3.1-.1-.8 .4 1.9 .4M92.2 783.6l2 0 .5-.4-.1-.3-3.4-.2-.8 .5 1.8 .4M58.6 788.3l-2-.1-.5-.3 1-.4 3.1 .1-.5 .6-1.1 .1M105.6 780.5l-2.8-.1-.3-.3 .5-.4 2.3-.1 1.1 .2 .1 .3-.9 .4M53 789l-1.4 .1 .1-.4 1.5 .1-.2 .2M110.9 779.3l-1.1-.1-.2-.3 1.8 .1-.5 .3M69.9 785.2l1.6 0 .7-.3-.2-.4-1.2-.1-2 .1-.5 .3 .3 .3 1.3 .1M76.1 784.2l1.9-.3-.3-.3-2.7-.1-.6 .3 .3 .3 1.4 .1M81.9 783.2l1.4 0 .5-.3-.2-.3-2.6-.1-.7 .2 .3 .4 1.3 .1M87.6 782.3l1.9-.1 .4-.3-.1-.4-3-.1-.8 .4 .3 .3 1.3 .2M54.1 787.1l-2.3-.2-.3-.3 1-.5 3.2 .1 .1 .4-.5 .3-1.2 .2M99.7 779.2l-1.7-.1-.1-.3 .5-.4 2.2-.1 1.3 .1 .3 .3-1 .5-1.5 0M107 777.7l-.5 .3-1.5-.1 .1-.3 1.5 0M46.7 787.7l.5-.4 1.5 .1-.1 .4-1.5 0M65.2 783.9l1.7 0 .8-.4-.3-.3-3.2-.1-.4 .3 .1 .4 1.3 .1M71.3 782.9l2.1-.4-.3-.3-2.7 0-.5 .3 .2 .2 1.2 .2M77.2 781.9l2.1-.4-.3-.3-2.6-.1-.7 .3 .3 .3 1.2 .2M82.9 780.9l2 0 .5-.4-.3-.3-2.9-.1-.7 .2 .2 .5 1.2 .1M44.1 786.4l-1.8 0 1.6-.3 .2 .3M49.6 785.7l-2.3-.2-.1-.3 .9-.4 2.8 .1 .3 .3-.5 .4-1.1 .1M95.1 777.9l-1.6-.2 .5-.6 1.7-.1 1.9 .4-1 .5-1.5 0M102 776.7l-1.5-.2 1.6-.2-.1 .4M62.4 782.6l.8-.2 .1-.3-.4-.3-3.4-.1-.5 .4 .1 .4 3.3 .1M80.4 779.6l.7-.5-.4-.3-3.2-.1-.8 .4 .2 .4 1.1 .1 2.4 0M66.4 781.6l1.9 0 .8-.5-.5-.3-3 0-.5 .3 .1 .3 1.2 .2M72.3 780.6l2-.1 .7-.4-.4-.3-3 0-.6 .2 .1 .4 1.2 .2M51.6 783.6l-2.6-.2-.9-.2 0-.2 .2-.4 1-.1 3.2 0 .6 .3-.5 .6-1 .2M86.6 777.7l-4-.3 .7-.7 3.8 0 .6 .2-.1 .6-1 .2M44.8 784.3l-1.8-.2 0-.3 2.8-.2 .6 .3-.4 .3-1.2 .1M91.9 776.5l-2.6-.2 .4-.4 2.5-.1 .5 .5-.8 .2M38.8 784.9l-.3 0 .3 0M96.7 775.1l-.2 0 .2 0M46.6 782.1l-2.6-.3 .2-.4 1-.1 1.9 0 .8 .2-.3 .5-1 .1M53.2 781.3l-3.9-.4 .5-.6 3.8-.1 .8 .2-.4 .7-.8 .2M76 777.4l-3.7-.4 .6-.5 .8-.3 2.8 .1 .8 .2-.1 .7-1.2 .2M81.6 776.2l-2.8-.3 .4-.4 2.6-.1 .8 .2-.1 .5-.9 .1M39.9 782.9l-1-.2 .8-.3 1.5 .2-1.3 .3M87 775.1l-1.5-.3 1.5-.2 .8 .2-.8 .3M48 779.8l-2.5-.4 .3-.3 2.1-.1 1 .2-.1 .4-.8 .2M54.4 778.9l-3.4-.4 .6-.4 2.4-.1 1 .2 0 .4-.6 .3M58.9 777.9l-2.2-.4 .8-.5 2.4 0 1 .2 0 .4-.4 .3-1.6 0M65 776.9l-2.4-.4 .9-.5 2.1 0 1 .2 0 .3-.3 .3-1.3 .1M72 775.7l-2.7 .1-.6-.3 1.1-.4 1.3 0 1 .2-.1 .4M41.4 780.6l-1.2-.3 2.3 0-1.1 .3M76.4 774.7l-1.3-.3 1.1-.2 1.2 .2-1 .3M42.5 778.2M48.9 777.3l-1-.1-.2-.3 1.8 .1-.6 .3M59.5 775.3l.2-.4 1.3 .1-.1 .3-1.4 0M66.4 774.1l-.2 .1 .2-.1M53.9 775.9l1.5 .1-.3 .3-1.6 0-.1-.4" stroke="#22a2e4" stroke-width="0.9" fill="none"/><path d="M82 792.5l-1.2-.2-.1-.3 1-.1 1.2 .1 .3 .3M87.3 791.6l-1.2-.2 0-.5 3.1 0 .4 .3M92.8 790.6l-1.2-.1-.2-.4 .4-.3 3.6 0 .3 .3M98.5 789.7l-1.2-.2-.2-.5 .4-.2-.7-.3-3 0-1.3 .1-1.5 .9-4.8 0-.6 .7-.9 .2-3.1 0-1-.2 0-.7-3.3-.3-1.2 .1-.8 .7-2.7 .1-2.5-.3 0-.7-1-.2-3.6 .1-.7 .7-1.2 .1-3.1-.1-.6-.3 0-.7 .3 0-4.7-.3-.4-.3 .2-.4-.2-.3-1.2-.2-2.8-.1-1.1 .1 .1 .3-.7 .5-1.3 .1M104.4 788.7l-1.2-.2-.1-.5 .6-.3 3.2 .2 .4 .3M110.5 787.6l-1.2-.1-.1-.5 .9-.2 2.3 .2 .4 .3M116.9 786.6l-1.2-.2-.1-.3 2.1 0 .4 .3M78.2 791.3l-2.9-.2 0-.6 4-.1 .5 .3-.6 .5-1 .1M113.2 785.4l-3.3-.1 .3-.7 1.1-.2 3.2 .4-.3 .5-1 .1M71.7 792.2l-1.5-.2 0-.3 2.4-.2 .5 .3-.3 .2-1.1 .2M118.7 784.3l-2.1-.2 .3-.4 2.2 0 .5 .4-.9 .2M84 789.3l1.5 0 .6-.3 0-.4-.9-.2-2.8 0-.7 .5 2.3 .4M90.2 788.2l1.1 0 .5-.3 0-.3-.9-.2-2.4 0-.7 .5 2.4 .3M96 787.2l1.3 0 .4-.3 0-.3-.9-.2-2.3 0-.7 .5 2.2 .3M101.6 786.3l1.9 0 .3-.7-3.4-.2-.9 .6 2.1 .3M67.7 791l-2.7-.3 0-.5 .7-.2 3.1 .1 .8 .2-.3 .2-.5 .4-1.1 .1M114.8 783.1l-3.6-.2 .5-.7 1.2-.1 2.9 .4-.2 .4-.8 .2M120.8 781.7l-.7 .2-1.9-.2 1.7-.3M60 791.5l1.8-.3 .8 .3-.4 .2-1.3 .1M73.6 788.9l1.8-.2 0-.5-1.1-.1-2.3 0-.5 .4 2.1 .4M80.1 787.8l.8-.3 0-.2-1-.2-2.1 .4 .5 .2 1.8 .1M98 784.8l.6-.5-1.1-.1-2 .3 .5 .3 2 0M103 783.9l1.6 0 .4-.6-3-.2-.8 .2-.2 .3 .5 .2 1.5 .1M84.4 786.7l1.7 0 .5-.3-2.2-.2-.4 .2 .4 .3M90.3 785.7l1.8 0 .4-.3-2.1-.2-.5 .2 .4 .3M116.7 780.5l-.7 .2-2.5 0-.5-.2 .6-.5 1.3 0M55 790.1l.7-.3 3 .2-.6 .5-1.3 .1M62.7 788.6l1.5 0 1-.4-.1-.4-1.2-.1-2.6 .1-.5 .4 .2 .3 1.7 .1M69.4 787.5l1.1-.3-.1-.2-1.5-.2-1.4 .3 .2 .3 1.7 .1M99 782.5l.7-.1 .2-.4-2.2-.2-.9 .3 .5 .3 1.7 .1M104 781.6l2.1-.1 .5-.7-4.2 .1-.3 .3 .5 .3 1.4 .1M74.2 786.3l1.1 0 .6-.2-1.9-.1 .2 .3M80.4 785.3l.9-.2-1-.1 .1 .3M86.3 784.3l.9-.2-.9-.1 0 .3M91.7 783.3l1.6 0 .1-.2-1.4-.2-.3 .4M112.4 779.3l-.7 .2-3.2 0-.4-.3 .7-.5 1.4-.1M50.3 788.7l.6-.3 3.6 .2-.7 .7-1.3 .1M58.2 787.2l1.3 0 .9-.4-.2-.3-1.2-.1-2.1 .1-.4 .3 .2 .3 1.5 .1M64.9 786.1l.8-.3-.2-.2-2.3 .1 .1 .3 1.6 .1M94.7 781.1l.3-.4-1.7-.1-.8 .2 .3 .2 1.9 .1M99.4 780.3l2-.1 .3-.7-3.8 .1 .2 .5 1.3 .2M69.8 784.9l1-.2-1 .2M76.1 783.9M82.1 782.8M87.5 781.9l1-.1-1 .1M108 778l-.7 .2-4.3 .1 .1 .3-.2 .4 .3 .3 4.2 .3 .1 1.1 4.2 .3-.2 .7-4 .2-.9 .2-.3 .6 .5 .2 3.1 .2 .8 .3-.2 .3-.3 .4-.9 .2-4.1 .2-.3 .5 .6 .3 3.7 .4-.5 .7-4.5 .1-1.3 1-4.4 .1-.7 .2-.6 .7 4 .4 .4 .2M45.7 787.4l.7-.3 4.3-.1-.1-.3 .2-.4-.3-.3-4.2-.3-.1-1.1-4.2-.3 .2-.7 4-.2 .9-.2 .3-.6-.5-.2-3.1-.2-.8-.2 .2-.4 .3-.4 .9-.2 4.1-.2 .3-.5-.6-.3-3.7-.4 .5-.7 4.5-.1 1.3-1 4.4-.1 .7-.2 .6-.7-4-.3-.4-.3M53.4 785.9l1.5 0 1-.4-.3-.3-1.3-.2-2 .2-.3 .6 1.4 .1M60.1 784.8l1.1-.3-.3-.2-2.2 0 0 .4 1.4 .1M89.7 779.8l.8-.1-.1-.4-1.7-.1-.7 .3 1.7 .3M94.7 778.9l2.1-.1 .4-.3-.2-.3-2.8-.1-.9 .4 .2 .3 1.2 .1M65.2 783.6l1-.2-1 .2M71.5 782.5M77.4 781.5M82.9 780.6l1 0-.7-.2-.3 .2M103.4 776.6l-.6 .3-3.6-.1 .7-.7 1.3-.1M41.3 786.1l.7-.3 3.2 .1 .4 .3-.7 .5-1.4 0M48.4 784.6l2 0 .9-.2 .3-.3-1.9-.4-2.1 .1-.5 .7 1.3 .1M55.1 783.5l1.8-.3-.5-.3-2.4 0-.2 .4 1.3 .2M61.6 782.4l.4-.4-1.6 0-.1 .3 1.3 .1M79.5 779.4l.2-.1-.2-.3-1.1 0-.6 .3 1.7 .1M84.5 778.5l1.7-.3-.2-.3-2-.1-.8 .3 .1 .3 1.2 .1M89.8 777.6l2.6-.1 .5-.4-.2-.3-3.2-.1-1 .4 .1 .4 1.2 .1M66.5 781.2l.9 .1 0-.2-.9 .1M72.4 780.2l1 .1-.1-.2-.9 .1M98.7 775.2l-.7 .3-3-.2 .6-.5 1.3-.1M37 784.8l.7-.2 2.5 0 .5 .2-.6 .5-1.3 0M49.8 782.2l1.9 0 1-.4-.5-.3-3.1 0-.4 .6 1.1 .1M56.2 781.2l2-.4-.5-.2-2.3 0-.3 .4 1.1 .2M62.4 780.1l1.4-.2-.4-.3-1.8 0-.4 .4 1.2 .1M68.2 779.1l1.5-.2-.4-.3-1.7 0-.5 .4 1.1 .1M73.8 778.2l2.1-.3-.5-.3-2-.1-.6 .5 1 .2M79.4 777.3l2.3-.1 .5-.4-.4-.3-2.8-.1-.7 .2 0 .5 1.1 .2M40.8 783.2l-2.9-.4 .2-.4 .8-.2 2.8 0 .8 .2-.5 .7-1.2 .1M88 775.3l-3.9-.3 .8-.6 3 0 .8 .2 0 .5-.7 .2M93.7 773.8l-1.8 .3-.8-.2 .4-.3 1.3-.1M32.9 783.6l.7-.2 1.9 .2-1.7 .3M52.8 780l1.3-.3 .1-.3-.6-.3-3.4-.1-.3 .7 2.9 .3M59.1 778.9l.8-.5-.6-.2-2.9-.1-.4 .3 0 .3 .9 .2 2.2 0M65.1 777.9l.8-.5-.7-.2-2.8-.1-.5 .3 0 .3 .9 .2 2.3 0M70.5 777l1.3-.4 .2-.2-.6-.3-3.2-.1-.6 .3 0 .4 2.9 .3M42.4 780.9l-3.2-.4 .3-.4 1-.2 2.2 0 1.1 .2-.3 .6-1.1 .2M77.4 775l-3-.1-.5-.3 .6-.4 2.9-.2 1 .2 0 .4 0 .2-1 .2M35.6 781.7l-1.5-.4 .9-.3 2.1 .2-.3 .4-1.2 .1M82.8 773.8l-2.2-.3 1.9-.3 1 .2 0 .2-.7 .2M36.8 778.8l1.2 .1 .1 .3-2.1 0-.4-.2M43.2 777.7l1.2 .1 .1 .5-.9 .2-2.3-.1-.4-.3M49.3 776.6l1.2 .2 .1 .5-.6 .3-3.2-.2-.4-.3M55.2 775.6l1.2 .2 .2 .5-.4 .3 .7 .2 3 0 1.3-.1 1.5-.9 4.8 0 .6-.7 .9-.2 3.1 0 1 .2 0 .7 3.3 .3 1.2-.1 .8-.7 2.7-.1 2.5 .3 0 .7 1 .2 3.6-.1 .7-.7 1.2-.1 3.1 .1 .6 .3 0 .7-.3 0 4.7 .3 .4 .3-.2 .4 .2 .3 1.2 .2 2.8 .1 1.1-.1-.1-.3 .7-.5 1.3 0M60.9 774.7l1.2 .1 .2 .4-.4 .4-3.6-.1-.3-.3M66.4 773.8l1.2 .1 0 .6-3.1-.1-.4-.3M71.7 772.9l1.2 .1 .1 .3-1 .1-1.2 0-.3-.3" stroke="#0fbeba" stroke-width="0.9" fill="none"/><path d="M70.3 794.1M75.9 793.5l-1.2-.2-.2-.3 .8-.2 2.2 .1 .2 .3M81 792.6l-1.2-.1-.1-.7-.8-.2-3.4-.1-1.1 .1-.8 .7-1.2 .1-3.2-.3-.1-.7-.9-.2-3.3-.1-1 .2-.9 .6-1.3 .1M86.3 791.7l-1.7 0 .5-.2-.1-.6-.8-.2-3.4 0-.7 .7 4.1 .3 .2 .3M91.3 790.9l-.4 .1M109.2 787.9l-.4 0M115.7 786.8l-1.3-.2 .2-.7-.8-.2-3 0-.8 .2-.3 .5 4.2 .3-.3 .2 .2 .2M122.4 785.6l-1.3-.1 .1-.5 2.6 0 .4 .3M128.2 784.3M89 790.6l1.5-.3 0-.3-.8-.3-2.6 .1-.6 .5 2.5 .3M95.3 789.5l.9-.3-.8-.4-2.2 0-.6 .4 2.7 .3M101.2 788.5l.9-.3-.8-.4-2.1 0-.7 .4 2.7 .3M106.6 787.6l1.3 0 .3-.6-.8-.3-2.3 0-.9 .6 2.4 .3M125.5 783.1l-.7 .2-2.5-.1 .4-.5 1.4-.1M64.2 792.7l.6-.2 2.2 0 .5 .3-.6 .3-1.3 .1M72.2 791.3l2.1-.2 0-.5-.9-.2-2.9 0-.7 .6 2.4 .3M113.4 784.3l2-.1 .4-.6-4.3 0-.2 .4 .6 .2 1.5 .1M77.1 790.1l1.8 0 .7-.4-2.7-.1-.4 .2 .6 .3M83.6 789l1.5-.3-1.9-.1-.2 .1 .6 .3M89.8 787.9l.7-.1-1.2-.1 .5 .2M95.7 786.9l.7-.1-1.1-.2 .4 .3M101.1 786l1.5-.2-1.5-.2-.4 .2 .4 .2M106.6 785.1l2.2 0 .3-.4-2.3-.2-.9 .4 .7 .2M121.6 781.9l-4.8 .4-.4 .8 3.6 .5 .6 .2-.3 .5-4.8 .4-.5 .8 3.7 .4 .4 .3M68.2 789.8l.9-.2 0-.3-1-.2-2 .4 .4 .2 1.7 .1M110.1 782.7l.3-.4-1.1-.1-2 .3 .5 .3 2.3-.1M59 791.2l.6-.3 4.4-.1 0-.6-3.2-.3-1 .2-.8 .5 .2 .2-1.6 0M73.2 788.6l1-.2-1.3 0 .3 .2M102.7 783.6l1-.1-.8-.1-.2 .2M117.5 780.7l-.5 .2 .1 .2-4.4 .1-.3 .4 .5 .3 3 .2 1-.2 .6-.7 1.4-.1M57 789.6l2.1-.4-.1-.3-1.2-.2-2.3 .1-.4 .4 .2 .3 1.7 .1M110.1 780.6l1.8-.1 .4-.6-3.9 0-.2 .3 .4 .3 1.5 .1M54 789.8l-.4-.1M62.4 788.3l1.7-.2-2-.1 .3 .3M103.5 781.4l1.7-.3-1.2-.2-.7 .3 .2 .2M113.5 779.6l.4 .1M52.5 788.2l1.8-.3-.1-.3-1.3-.2-1.8 .2-.1 .5 1.5 .1M105.5 779.2l1.7-.1 .1-.5-3.3 0 .2 .5 1.3 .1M58 786.9l1.3-.2-1.3 .2M99.1 780l1.3-.2-1.3 .2M47.8 786.9l2-.4-.3-.3-1.3-.1-1.7 .1-.1 .5 1.4 .2M100.8 777.9l2-.3-.1-.4-2.3-.1-1 .3 .1 .4 1.3 .1M53.3 785.6l1.3-.2-1.3 .2M94.5 778.6l1.3-.1-1.3 .1M42.8 785.6l1.5 0 1.2-.5-1.9-.4-1.8 .1-.4 .6 1.4 .2M95.9 776.6l2.3-.1 .4-.3-.2-.4-2.7 0-1.1 .3 .1 .3 1.2 .2M40.2 785.7l-.4-.1M48.5 784.2l1.2 .2 .7-.3-.8-.2-1.1 .3M89.6 777.3l2 0-.3-.3-.9 0-.8 .3M99.7 775.5l.4 .1M36.2 784.6l.5-.1-.1-.3 4.4 0 .3-.5-.5-.3-3-.2-1 .2-.6 .7-1.4 .1M44.4 783.2l2-.4-.5-.2-2.4 0-.2 .4 1.1 .2M85.6 776.2l2-.3-.4-.3-1.8-.1-.8 .2 0 .3 1 .2M50 781.8l.8 .2 .2-.3-1 .1M79.5 776.9l1.3 0-1.3 0M94.7 774.1l-.6 .3-4.4 .1 0 .7 3.2 .2 1-.2 .8-.5-.2-.2 1.6 0M41 782l1.2-.2 .2-.4-3-.4-1.1 .1-.4 .7 3.1 .2M82.1 775l1.1-.1 .7-.5-.6-.3-3.9 .1 0 .6 2.7 .2M32.1 783.4l4.8-.4 .4-.8-3.6-.4-.6-.3 .3-.5 4.8-.4 .5-.7-3.7-.5-.4-.3M45.6 780.8l1.3 0 .9-.3-2.9-.3-.3 .4 1 .2M52 779.7l1-.1-.4-.3-1.3 0-.2 .2 .9 .2M58.3 778.7l-.3-.3-.7 .1 1 .2M64.3 777.7l-.4-.3-.7 .1 1.1 .2M69.7 776.8l1-.2-.6-.3-1.5 .3 1.1 .2M75 775.9l1.8-.1 .4-.3-2.4-.3-.7 .5 .9 .2M89.5 772.6l-.6 .3-2.2-.1-.5-.2 .6-.4 1.3 0M28.2 782.3l.7-.3 2.5 .1-.4 .5-1.4 .1M48.3 778.6l1-.3 .2-.3-.8-.2-2.9 0-.3 .6 2.8 .2M66.1 775.6l1.1-.6-.7-.2-2.7-.1-.6 .3 0 .4 .8 .2 2.1 0M52.4 777.5l2.1 0 .7-.4-3.2-.3-.4 .5 .8 .2M58.3 776.5l2.2 0 .6-.4-3.1-.3-.5 .5 .8 .2M25.5 781M83.4 771.3M31.3 779.7l1.3 .1-.1 .5-2.6 0-.4-.3M38 778.5l1.3 .2-.2 .7 .8 .3 3 0 .8-.3 .3-.4-4.2-.4 .3-.2-.2-.2M44.5 777.5l.4-.1M62.4 774.4l.4 0M67.4 773.6l1.7 .1-.5 .1 .1 .6 .8 .3 3.4-.1 .7-.6-4.1-.4-.2-.3M72.7 772.7l1.2 .2 .1 .6 .8 .3 3.4 .1 1.1-.2 .8-.6 1.2-.2 3.2 .3 .1 .7 .9 .2 3.3 .1 1-.1 .9-.7 1.3-.1M77.8 771.8l1.2 .2 .2 .3-.8 .3-2.2-.1-.2-.4" stroke="#59cc79" stroke-width="0.9" fill="none"/><path d="M74.9 793.7l-1.2-.2-.2-.7-2.4-.3-2.5 .2-.9 .6-1.3 .1M79.4 792.9l-.4 .1M121.1 785.9l-.4 0M128 784.7l-1.3-.1 .1-.4 1.7-.3M77.2 792.6l1.5-.2 0-.5-.8-.2-2.7 .1-.6 .5 2.6 .3M118.3 785.6l1.5-.1 .3-.5-.8-.3-2.2 0-.9 .2-.2 .4 2.3 .3M68.6 794l.6-.3 1.6 .1 1 0 .3 .3M82.1 791.4l1.1 0 .8-.3-2.4-.2-.3 .2 .8 .3M88.6 790.3l.5-.1-1.3-.1 .8 .2M106.4 787.3l.5-.1-1.2-.2 .7 .3M111.5 786.4l1.7-.1 .2-.2-1.9-.2-.8 .3 .8 .2M126.3 783.3l-.7 .2-3.1 .1-1 .1-.2 .4-.1 .3 .7 .3 2.9 .2 .4 .3M66.6 792.2l1.6-.1 0-.5-.9-.2-2.6 .1-.5 .4 2.4 .3M119.5 783.3l1.6-.1 .4-.6-1-.2-1.9 0-1 .2-.3 .3 2.2 .4M63.2 792.4l-.3 0M71.7 791l1.6-.3-2.1 0 .5 .3M112.9 784l1.5-.2-1.2-.2-1 .2 .7 .2M122.8 782.3l.3 0M60.9 790.7l1.1 0 1-.1 0-.3-2.5 0 .4 .4M113.9 781.7l2-.1 .1-.2-1.5-.2-1 .2 .4 .3M56.7 789.3l1.3-.2-1.3 .2M109.7 780.3l1.2-.2-1.2 .2M42.8 785.2l1.4-.1-1.4 .1M95.7 776.3l1.4-.1-1.4 .1M38.8 784.1l1.5-.3-.5-.2-2 .1-.1 .2 1.1 .2M91.7 775.2l1.6-.3-1.6-.3-1 .2 0 .2 1 .2M33.2 782.9l1.9 0 1-.2 .3-.3-2.8-.4-1 .2-.4 .5 1 .2M40.2 781.7l1.3-.2-.7-.2-1.5 .1 .9 .3M81.3 774.8l1.3-.2-1.3-.3-.9 .3 .9 .2M86.4 773.9l2.6-.1 .5-.4-3-.3-1 .1 0 .5 .9 .2M30.9 783.1l-.3-.1M90.5 772.9l.3 .1M36.5 780.6l1-.2 .2-.4-.8-.2-3 0-.3 .6 2.9 .2M77.9 773.6l1.2-.6-.8-.2-3.3 .1 0 .5 .8 .2 2.1 0M27.4 782l.7-.2 3.1 0 1-.2 .2-.3 .1-.4-.7-.2-2.9-.3-.4-.2M41.1 779.4l1.9-.3-2.5-.1-.2 .2 .8 .2M47.6 778.4l.4-.1-.7-.3-.5 .1 .8 .3M65.4 775.3l.5 0-.8-.3-.5 .1 .8 .2M70.5 774.5l1.9-.3-1.9-.3-.8 .4 .8 .2M85.1 771.3l-.6 .3-1.6 0-1-.1-.3-.3M25.7 780.6l1.3 .2-.1 .3-1.7 .3M32.6 779.5l.4-.1M74.3 772.4l.4 0M78.8 771.7l1.2 .1 .2 .7 2.4 .3 2.5-.1 .9-.7 1.3-.1" stroke="#c5c22a" stroke-width="0.9" fill="none"/><path d="M71.5 793.5l1-.2 .1-.3-.8-.2-2.4 .1-.4 .3 2.5 .3M124.8 784.5l.7-.1 .2-.4-.8-.2-1.6 0-1 .2-.2 .3 2.7 .2M76.7 792.3l.5-.1-1.3-.1 .8 .2M118.3 785.3l.5-.1-1.2-.2 .7 .3M66.1 791.9l1.1-.1-1.1 .1M119 783l1.1-.2-1.1 .2M33.6 782.5l1.3-.1-1.3 .1M86.5 773.6l1.4-.1-1.4 .1M28.8 781.5l1.6 0 1-.1 .2-.3-2.4-.4-1 .2-.2 .4 .8 .2M35.7 780.4l-.8-.3 .8 .3M77.4 773.3l-.9-.2 .9 .2M81.9 772.6l2.4-.2 .4-.3-2.6-.3-.9 .2-.1 .3 .8 .3" stroke="#fec835" stroke-width="0.9" fill="none"/><g class="sf"><linearGradient id="g8_41" href="#pb" gradientUnits="userSpaceOnUse" x1="23.97" y1="781.04" x2="19.10" y2="752.16"/><path fill="url(#g8_41)" stroke="url(#g8_41)" d="M24.2 761.2l.7 1.4 3-6.2 2.9 8.5 2.9-6.5 2.9 8.1 3-6.9 2.9 7.7 2.9-7.2 2.9 7.4 3-7.6 2.9 6.9 2.9-7.9 2.9 6.6 3-8.3 2.9 6.2 2.9-8.7 2.9 5.9 3-9.1 2.9 5.5 2.9-9.4 2.9 5.1 .7-1.6-.5-1.6-.7 1.6-2.9-5.2-3 9.5-2.9-5.5-2.9 9.1-2.9-5.9-3 8.7-2.9-6.3-2.9 8.4-2.9-6.6-3 7.9-2.9-6.9-2.9 7.6-2.9-7.4-2.9 7.2-3-7.7-2.9 6.9-2.9-8.1-2.9 6.5-3-8.5-2.9 6.1-.7-1.3z"/><linearGradient id="g8_40" href="#pb" gradientUnits="userSpaceOnUse" x1="24.81" y1="781.28" x2="19.94" y2="752.40"/><path fill="url(#g8_40)" stroke="url(#g8_40)" d="M25.4 758.8l.7 1.3 2.9-6.1 2.9 8.4 3-6.5 2.9 8.1 2.9-6.8 2.9 7.7 3-7.2 2.9 7.3 2.9-7.6 2.9 7 3-8 2.9 6.6 2.9-8.3 2.9 6.2 3-8.7 2.9 5.9 2.9-9.1 2.9 5.5 2.9-9.4 3 5.1 .7-1.5-1.2 2.4-.7 1.6-2.9-5.1-2.9 9.4-2.9-5.5-3 9.1-2.9-5.9-2.9 8.7-2.9-6.2-3 8.3-2.9-6.6-2.9 7.9-2.9-6.9-3 7.6-2.9-7.4-2.9 7.2-2.9-7.7-3 6.9-2.9-8.1-2.9 6.5-2.9-8.5-3 6.2-.7-1.4z"/><linearGradient id="g8_39" href="#pb" gradientUnits="userSpaceOnUse" x1="25.94" y1="781.61" x2="21.07" y2="752.73"/><path fill="url(#g8_39)" stroke="url(#g8_39)" d="M26.5 756.3l.7 1.3 2.9-6.1 3 8.4 2.9-6.5 2.9 8.1 2.9-6.8 3 7.7 2.9-7.3 2.9 7.4 2.9-7.6 3 7 2.9-8 2.9 6.6 2.9-8.3 3 6.2 2.9-8.7 2.9 5.9 2.9-9.1 3 5.5 2.9-9.4 2.9 5.1 .7-1.5-1.1 2.5-.7 1.5-3-5.1-2.9 9.4-2.9-5.5-2.9 9.1-2.9-5.9-3 8.7-2.9-6.2-2.9 8.3-2.9-6.6-3 8-2.9-7-2.9 7.6-2.9-7.3-3 7.2-2.9-7.7-2.9 6.8-2.9-8.1-3 6.5-2.9-8.4-2.9 6.1-.7-1.3z"/><linearGradient id="g8_38" href="#pb" gradientUnits="userSpaceOnUse" x1="27.08" y1="781.94" x2="22.21" y2="753.06"/><path fill="url(#g8_38)" stroke="url(#g8_38)" d="M27.6 761.1l.7 1.3 3-6.1 2.9 8.4 2.9-6.4 2.9 8 3-6.8 2.9 7.7 2.9-7.2 2.9 7.3 3-7.6 2.9 7 2.9-8 2.9 6.6 3-8.3 2.9 6.3 2.9-8.7 2.9 5.8 3-9 2.9 5.5 2.9-9.5 2.9 5.1 .7-1.5-1.1-4.8-.7 1.5-2.9-5.1-2.9 9.4-3-5.5-2.9 9.1-2.9-5.9-2.9 8.7-3-6.2-2.9 8.3-2.9-6.6-2.9 8-3-7-2.9 7.6-2.9-7.4-2.9 7.3-3-7.7-2.9 6.8-2.9-8.1-2.9 6.5-3-8.4-2.9 6.1-.7-1.3z"/><linearGradient id="g8_37" href="#pb" gradientUnits="userSpaceOnUse" x1="28.21" y1="782.27" x2="23.34" y2="753.39"/><path fill="url(#g8_37)" stroke="url(#g8_37)" d="M28.8 765.9l.7 1.3 2.9-6.1 2.9 8.4 3-6.5 2.9 8.1 2.9-6.8 2.9 7.7 3-7.2 2.9 7.3 2.9-7.6 2.9 7 2.9-8 3 6.6 2.9-8.3 2.9 6.2 2.9-8.7 3 5.9 2.9-9.1 2.9 5.5 2.9-9.4 3 5.1 .7-1.5-1.2-4.8-.7 1.5-2.9-5.1-2.9 9.5-2.9-5.5-3 9-2.9-5.8-2.9 8.7-2.9-6.3-3 8.3-2.9-6.6-2.9 8-2.9-7-3 7.6-2.9-7.3-2.9 7.2-2.9-7.7-3 6.8-2.9-8-2.9 6.4-2.9-8.4-3 6.1-.7-1.3z"/><linearGradient id="g8_36" href="#pb" gradientUnits="userSpaceOnUse" x1="29.34" y1="782.60" x2="24.47" y2="753.72"/><path fill="url(#g8_36)" stroke="url(#g8_36)" d="M29.9 763.2l.7 1.3 2.9-6.1 3 8.5 2.9-6.5 2.9 8.1 2.9-6.9 3 7.7 2.9-7.2 2.9 7.4 2.9-7.6 3 6.9 2.9-7.9 2.9 6.6 2.9-8.4 3 6.3 2.9-8.7 2.9 5.9 2.9-9.1 3 5.5 2.9-9.5 2.9 5.2 .7-1.6-1.1 2.7-.7 1.5-3-5.1-2.9 9.4-2.9-5.5-2.9 9.1-3-5.9-2.9 8.7-2.9-6.2-2.9 8.3-3-6.6-2.9 8-2.9-7-2.9 7.6-2.9-7.3-3 7.2-2.9-7.7-2.9 6.8-2.9-8.1-3 6.5-2.9-8.4-2.9 6.1-.7-1.3z"/><linearGradient id="g8_35" href="#pb" gradientUnits="userSpaceOnUse" x1="30.47" y1="782.93" x2="25.60" y2="754.05"/><path fill="url(#g8_35)" stroke="url(#g8_35)" d="M31 760.5l.7 1.4 3-6.2 2.9 8.5 2.9-6.5 2.9 8.1 3-6.9 2.9 7.7 2.9-7.2 2.9 7.4 3-7.6 2.9 6.9 2.9-7.9 2.9 6.6 3-8.3 2.9 6.2 2.9-8.7 2.9 5.9 3-9.1 2.9 5.5 2.9-9.4 2.9 5.1 .7-1.6-1.1 2.7-.7 1.6-2.9-5.2-2.9 9.5-3-5.5-2.9 9.1-2.9-5.9-2.9 8.7-3-6.3-2.9 8.4-2.9-6.6-2.9 7.9-3-6.9-2.9 7.6-2.9-7.4-2.9 7.2-3-7.7-2.9 6.9-2.9-8.1-2.9 6.5-3-8.5-2.9 6.1-.7-1.3z"/><linearGradient id="g8_34" href="#pb" gradientUnits="userSpaceOnUse" x1="31.61" y1="783.26" x2="26.74" y2="754.38"/><path fill="url(#g8_34)" stroke="url(#g8_34)" d="M32.2 765.2l.7 1.3 2.9-6.1 2.9 8.4 2.9-6.5 3 8.1 2.9-6.8 2.9 7.7 2.9-7.2 3 7.3 2.9-7.6 2.9 7 2.9-8 3 6.6 2.9-8.3 2.9 6.2 2.9-8.7 3 5.9 2.9-9.1 2.9 5.5 2.9-9.4 3 5.1 .7-1.5-1.2-4.7-.7 1.6-2.9-5.1-2.9 9.4-2.9-5.5-3 9.1-2.9-5.9-2.9 8.7-2.9-6.2-3 8.3-2.9-6.6-2.9 7.9-2.9-6.9-3 7.6-2.9-7.4-2.9 7.2-2.9-7.7-3 6.9-2.9-8.1-2.9 6.5-2.9-8.5-3 6.2-.7-1.4z"/><linearGradient id="g8_33" href="#pb" gradientUnits="userSpaceOnUse" x1="32.74" y1="783.59" x2="27.87" y2="754.71"/><path fill="url(#g8_33)" stroke="url(#g8_33)" d="M33.3 769.8l.7 1.3 2.9-6.1 3 8.4 2.9-6.5 2.9 8.1 2.9-6.8 3 7.7 2.9-7.2 2.9 7.3 2.9-7.6 3 7 2.9-8 2.9 6.6 2.9-8.3 3 6.2 2.9-8.7 2.9 5.9 2.9-9.1 3 5.5 2.9-9.4 2.9 5.1 .7-1.5-1.1-4.6-.7 1.5-3-5.1-2.9 9.4-2.9-5.5-2.9 9.1-3-5.9-2.9 8.7-2.9-6.2-2.9 8.3-3-6.6-2.9 8-2.9-7-2.9 7.6-3-7.3-2.9 7.2-2.9-7.7-2.9 6.8-3-8.1-2.9 6.5-2.9-8.4-2.9 6.1-.7-1.3z"/><linearGradient id="g8_32" href="#pb" gradientUnits="userSpaceOnUse" x1="33.87" y1="783.92" x2="29.00" y2="755.04"/><path fill="url(#g8_32)" stroke="url(#g8_32)" d="M34.4 766.9l.7 1.4 3-6.2 2.9 8.5 2.9-6.5 2.9 8.1 3-6.9 2.9 7.8 2.9-7.3 2.9 7.4 3-7.6 2.9 7 2.9-8 2.9 6.6 3-8.3 2.9 6.2 2.9-8.7 2.9 5.9 3-9.1 2.9 5.5 2.9-9.4 2.9 5.1 .7-1.6-1.1 2.9-.7 1.5-2.9-5.1-2.9 9.4-3-5.5-2.9 9.1-2.9-5.9-2.9 8.7-3-6.2-2.9 8.3-2.9-6.6-2.9 8-3-7-2.9 7.6-2.9-7.3-2.9 7.2-3-7.7-2.9 6.8-2.9-8.1-2.9 6.5-3-8.4-2.9 6.1-.7-1.3z"/><linearGradient id="g8_31" href="#pb" gradientUnits="userSpaceOnUse" x1="35.01" y1="784.25" x2="30.14" y2="755.37"/><path fill="url(#g8_31)" stroke="url(#g8_31)" d="M35.6 764.1l.7 1.3 2.9-6.1 2.9 8.4 2.9-6.5 3 8.1 2.9-6.8 2.9 7.7 2.9-7.3 3 7.4 2.9-7.6 2.9 7 2.9-8 3 6.6 2.9-8.3 2.9 6.2 2.9-8.7 3 5.9 2.9-9.1 2.9 5.5 2.9-9.4 3 5.1 .7-1.5-1.2 2.8-.7 1.6-2.9-5.1-2.9 9.4-2.9-5.5-3 9.1-2.9-5.9-2.9 8.7-2.9-6.2-3 8.3-2.9-6.6-2.9 8-2.9-7-3 7.6-2.9-7.4-2.9 7.3-2.9-7.8-3 6.9-2.9-8.1-2.9 6.5-2.9-8.5-3 6.2-.7-1.4z"/><linearGradient id="g8_30" href="#pb" gradientUnits="userSpaceOnUse" x1="36.14" y1="784.58" x2="31.27" y2="755.70"/><path fill="url(#g8_30)" stroke="url(#g8_30)" d="M36.7 768.5l.7 1.3 2.9-6.1 3 8.5 2.9-6.5 2.9 8.1 2.9-6.9 3 7.7 2.9-7.2 2.9 7.4 2.9-7.6 3 6.9 2.9-7.9 2.9 6.6 2.9-8.4 3 6.3 2.9-8.7 2.9 5.9 2.9-9.1 3 5.5 2.9-9.5 2.9 5.2 .7-1.6-1.1-4.4-.7 1.5-3-5.1-2.9 9.4-2.9-5.5-2.9 9.1-3-5.9-2.9 8.7-2.9-6.2-2.9 8.3-3-6.6-2.9 8-2.9-7-2.9 7.6-3-7.4-2.9 7.3-2.9-7.7-2.9 6.8-3-8.1-2.9 6.5-2.9-8.4-2.9 6.1-.7-1.3z"/><linearGradient id="g8_29" href="#pb" gradientUnits="userSpaceOnUse" x1="37.27" y1="784.91" x2="32.40" y2="756.03"/><path fill="url(#g8_29)" stroke="url(#g8_29)" d="M37.8 772.9l.7 1.4 3-6.2 2.9 8.5 2.9-6.5 2.9 8.1 3-6.9 2.9 7.7 2.9-7.2 2.9 7.4 3-7.6 2.9 6.9 2.9-7.9 2.9 6.6 3-8.3 2.9 6.2 2.9-8.7 2.9 5.9 3-9.1 2.9 5.5 2.9-9.4 2.9 5.1 .7-1.6-1.1-4.4-.7 1.6-2.9-5.2-2.9 9.5-3-5.5-2.9 9.1-2.9-5.9-2.9 8.7-3-6.3-2.9 8.4-2.9-6.6-2.9 7.9-3-6.9-2.9 7.6-2.9-7.4-2.9 7.2-3-7.7-2.9 6.9-2.9-8.1-2.9 6.5-3-8.5-2.9 6.1-.7-1.3z"/><linearGradient id="g8_28" href="#pb" gradientUnits="userSpaceOnUse" x1="38.40" y1="785.24" x2="33.53" y2="756.36"/><path fill="url(#g8_28)" stroke="url(#g8_28)" d="M39 769.9l.7 1.3 2.9-6.1 2.9 8.5 2.9-6.5 3 8.1 2.9-6.9 2.9 7.7 2.9-7.2 3 7.4 2.9-7.6 2.9 6.9 2.9-7.9 3 6.6 2.9-8.4 2.9 6.3 2.9-8.7 3 5.9 2.9-9.1 2.9 5.5 2.9-9.5 3 5.2 .7-1.6-1.2 3-.7 1.6-2.9-5.1-2.9 9.4-2.9-5.5-3 9.1-2.9-5.9-2.9 8.7-2.9-6.2-3 8.3-2.9-6.6-2.9 7.9-2.9-6.9-3 7.6-2.9-7.4-2.9 7.2-2.9-7.7-3 6.9-2.9-8.1-2.9 6.5-2.9-8.5-3 6.2-.7-1.4z"/><linearGradient id="g8_27" href="#pb" gradientUnits="userSpaceOnUse" x1="39.54" y1="785.57" x2="34.67" y2="756.69"/><path fill="url(#g8_27)" stroke="url(#g8_27)" d="M40.1 766.9l.7 1.3 2.9-6.1 3 8.4 2.9-6.5 2.9 8.1 2.9-6.8 3 7.7 2.9-7.3 2.9 7.4 2.9-7.6 3 7 2.9-8 2.9 6.6 2.9-8.3 3 6.2 2.9-8.7 2.9 5.9 2.9-9.1 3 5.5 2.9-9.4 2.9 5.1 .7-1.5-1.1 3-.7 1.6-3-5.2-2.9 9.5-2.9-5.5-2.9 9.1-3-5.9-2.9 8.7-2.9-6.3-2.9 8.4-3-6.6-2.9 7.9-2.9-6.9-2.9 7.6-3-7.4-2.9 7.2-2.9-7.7-2.9 6.9-3-8.1-2.9 6.5-2.9-8.5-2.9 6.1-.7-1.3z"/><linearGradient id="g8_26" href="#pb" gradientUnits="userSpaceOnUse" x1="40.67" y1="785.90" x2="35.80" y2="757.02"/><path fill="url(#g8_26)" stroke="url(#g8_26)" d="M41.2 771.1l.7 1.4 3-6.2 2.9 8.5 2.9-6.5 2.9 8.1 3-6.9 2.9 7.7 2.9-7.2 2.9 7.4 3-7.6 2.9 6.9 2.9-7.9 2.9 6.6 3-8.3 2.9 6.2 2.9-8.7 2.9 5.9 3-9.1 2.9 5.5 2.9-9.4 2.9 5.1 .7-1.6-1.1-4.2-.7 1.5-2.9-5.1-2.9 9.4-3-5.5-2.9 9.1-2.9-5.9-2.9 8.7-3-6.2-2.9 8.3-2.9-6.6-2.9 8-3-7-2.9 7.6-2.9-7.4-2.9 7.3-3-7.7-2.9 6.8-2.9-8.1-2.9 6.5-3-8.4-2.9 6.1-.7-1.3z"/><linearGradient id="g8_25" href="#pb" gradientUnits="userSpaceOnUse" x1="41.80" y1="786.23" x2="36.93" y2="757.35"/><path fill="url(#g8_25)" stroke="url(#g8_25)" d="M42.4 775.4l.7 1.3 2.9-6.1 2.9 8.4 2.9-6.5 3 8.1 2.9-6.8 2.9 7.7 2.9-7.3 3 7.4 2.9-7.6 2.9 7 2.9-8 3 6.6 2.9-8.3 2.9 6.2 2.9-8.7 3 5.9 2.9-9.1 2.9 5.5 2.9-9.4 3 5.1 .7-1.5-1.2-4.3-.7 1.6-2.9-5.1-2.9 9.4-2.9-5.5-3 9.1-2.9-5.9-2.9 8.7-2.9-6.2-3 8.3-2.9-6.6-2.9 7.9-2.9-6.9-3 7.6-2.9-7.4-2.9 7.2-2.9-7.7-3 6.9-2.9-8.1-2.9 6.5-2.9-8.5-3 6.2-.7-1.4z"/><linearGradient id="g8_24" href="#pb" gradientUnits="userSpaceOnUse" x1="42.94" y1="786.56" x2="38.07" y2="757.68"/><path fill="url(#g8_24)" stroke="url(#g8_24)" d="M43.5 772.2l.7 1.3 2.9-6.1 3 8.4 2.9-6.5 2.9 8.1 2.9-6.8 3 7.7 2.9-7.3 2.9 7.4 2.9-7.6 3 7 2.9-8 2.9 6.6 2.9-8.3 3 6.2 2.9-8.7 2.9 5.9 2.9-9.1 2.9 5.5 3-9.4 2.9 5.1 .7-1.5-1.1 3.2-.7 1.5-3-5.1-2.9 9.4-2.9-5.5-2.9 9.1-3-5.9-2.9 8.7-2.9-6.2-2.9 8.3-3-6.6-2.9 8-2.9-7-2.9 7.6-3-7.4-2.9 7.3-2.9-7.7-2.9 6.8-3-8.1-2.9 6.5-2.9-8.4-2.9 6.1-.7-1.3z"/><linearGradient id="g8_23" href="#pb" gradientUnits="userSpaceOnUse" x1="44.07" y1="786.89" x2="39.20" y2="758.01"/><path fill="url(#g8_23)" stroke="url(#g8_23)" d="M44.6 768.9l.7 1.3 3-6.1 2.9 8.5 2.9-6.5 2.9 8.1 3-6.9 2.9 7.7 2.9-7.2 2.9 7.3 3-7.5 2.9 6.9 2.9-7.9 2.9 6.6 3-8.4 2.9 6.3 2.9-8.7 2.9 5.9 3-9.1 2.9 5.5 2.9-9.5 2.9 5.2 .7-1.6-1.1 3.3-.7 1.5-2.9-5.1-3 9.4-2.9-5.5-2.9 9.1-2.9-5.9-2.9 8.7-3-6.2-2.9 8.3-2.9-6.6-2.9 8-3-7-2.9 7.6-2.9-7.4-2.9 7.3-3-7.7-2.9 6.8-2.9-8.1-2.9 6.5-3-8.4-2.9 6.1-.7-1.3z"/><linearGradient id="g8_22" href="#pb" gradientUnits="userSpaceOnUse" x1="45.20" y1="787.22" x2="40.33" y2="758.34"/><path fill="url(#g8_22)" stroke="url(#g8_22)" d="M45.8 773l.7 1.3 2.9-6.1 2.9 8.5 2.9-6.5 3 8.1 2.9-6.9 2.9 7.7 2.9-7.2 3 7.3 2.9-7.6 2.9 7 2.9-7.9 3 6.6 2.9-8.4 2.9 6.3 2.9-8.7 3 5.8 2.9-9 2.9 5.5 2.9-9.5 3 5.2 .7-1.6-1.2-4.1-.7 1.6-2.9-5.2-2.9 9.5-2.9-5.5-3 9.1-2.9-5.9-2.9 8.7-2.9-6.3-3 8.4-2.9-6.6-2.9 7.9-2.9-6.9-3 7.5-2.9-7.3-2.9 7.2-2.9-7.7-3 6.9-2.9-8.1-2.9 6.5-2.9-8.5-3 6.1-.7-1.3z"/><linearGradient id="g8_21" href="#pb" gradientUnits="userSpaceOnUse" x1="46.33" y1="787.55" x2="41.46" y2="758.67"/><path fill="url(#g8_21)" stroke="url(#g8_21)" d="M46.9 777l.7 1.4 2.9-6.2 3 8.5 2.9-6.5 2.9 8.1 2.9-6.9 3 7.8 2.9-7.3 2.9 7.4 2.9-7.6 2.9 7 3-8 2.9 6.6 2.9-8.3 2.9 6.2 3-8.7 2.9 5.9 2.9-9.1 2.9 5.5 3-9.4 2.9 5.1 .7-1.6-1.1-4-.7 1.6-3-5.2-2.9 9.5-2.9-5.5-2.9 9-3-5.8-2.9 8.7-2.9-6.3-2.9 8.4-3-6.6-2.9 7.9-2.9-7-2.9 7.6-3-7.3-2.9 7.2-2.9-7.7-2.9 6.9-3-8.1-2.9 6.5-2.9-8.5-2.9 6.1-.7-1.3z"/><linearGradient id="g8_20" href="#pb" gradientUnits="userSpaceOnUse" x1="47.47" y1="787.87" x2="42.60" y2="759.00"/><path fill="url(#g8_20)" stroke="url(#g8_20)" d="M48 773.7l.7 1.3 3-6.1 2.9 8.4 2.9-6.5 2.9 8.1 3-6.8 2.9 7.7 2.9-7.3 2.9 7.4 3-7.6 2.9 7 2.9-8 2.9 6.6 3-8.3 2.9 6.2 2.9-8.7 2.9 5.9 3-9.1 2.9 5.5 2.9-9.4 2.9 5.1 .7-1.5-1.1 3.3-.7 1.6-2.9-5.1-3 9.4-2.9-5.5-2.9 9.1-2.9-5.9-3 8.7-2.9-6.2-2.9 8.3-2.9-6.6-3 8-2.9-7-2.9 7.6-2.9-7.4-2.9 7.3-3-7.8-2.9 6.9-2.9-8.1-2.9 6.5-3-8.5-2.9 6.2-.7-1.4z"/><linearGradient id="g8_19" href="#pb" gradientUnits="userSpaceOnUse" x1="48.60" y1="788.20" x2="43.73" y2="759.33"/><path fill="url(#g8_19)" stroke="url(#g8_19)" d="M49.2 770.2l.7 1.4 2.9-6.2 2.9 8.5 2.9-6.5 3 8.1 2.9-6.9 2.9 7.7 2.9-7.2 3 7.4 2.9-7.6 2.9 6.9 2.9-7.9 3 6.6 2.9-8.3 2.9 6.2 2.9-8.7 3 5.9 2.9-9.1 2.9 5.5 2.9-9.4 3 5.1 .7-1.6-1.2 3.5-.7 1.5-2.9-5.1-2.9 9.4-2.9-5.5-3 9.1-2.9-5.9-2.9 8.7-2.9-6.2-3 8.3-2.9-6.6-2.9 8-2.9-7-3 7.6-2.9-7.4-2.9 7.3-2.9-7.7-3 6.8-2.9-8.1-2.9 6.5-2.9-8.4-3 6.1-.7-1.3z"/><linearGradient id="g8_18" href="#pb" gradientUnits="userSpaceOnUse" x1="49.73" y1="788.53" x2="44.86" y2="759.66"/><path fill="url(#g8_18)" stroke="url(#g8_18)" d="M50.3 774.1l.7 1.4 2.9-6.2 2.9 8.5 3-6.5 2.9 8.1 2.9-6.9 2.9 7.7 3-7.2 2.9 7.4 2.9-7.6 2.9 7 3-8 2.9 6.6 2.9-8.3 2.9 6.2 3-8.7 2.9 5.9 2.9-9.1 2.9 5.5 3-9.4 2.9 5.1 .7-1.6-1.1-3.9-.7 1.6-3-5.1-2.9 9.4-2.9-5.5-2.9 9.1-3-5.9-2.9 8.7-2.9-6.2-2.9 8.3-3-6.6-2.9 7.9-2.9-6.9-2.9 7.6-3-7.4-2.9 7.2-2.9-7.7-2.9 6.9-3-8.1-2.9 6.5-2.9-8.5-2.9 6.2-.7-1.4z"/><linearGradient id="g8_17" href="#pb" gradientUnits="userSpaceOnUse" x1="50.86" y1="788.86" x2="46.00" y2="759.98"/><path fill="url(#g8_17)" stroke="url(#g8_17)" d="M51.4 778l.7 1.3 3-6.1 2.9 8.5 2.9-6.5 2.9 8 3-6.8 2.9 7.7 2.9-7.2 2.9 7.3 3-7.6 2.9 7 2.9-8 2.9 6.7 3-8.4 2.9 6.3 2.9-8.7 2.9 5.8 3-9 2.9 5.5 2.9-9.5 2.9 5.2 .7-1.6-1.1-3.9-.7 1.6-2.9-5.1-3 9.4-2.9-5.5-2.9 9.1-2.9-5.9-3 8.7-2.9-6.2-2.9 8.3-2.9-6.6-3 8-2.9-7-2.9 7.6-2.9-7.4-3 7.2-2.9-7.7-2.9 6.9-2.9-8.1-3 6.5-2.9-8.5-2.9 6.2-.7-1.4z"/><linearGradient id="g8_16" href="#pb" gradientUnits="userSpaceOnUse" x1="52.00" y1="789.19" x2="47.13" y2="760.31"/><path fill="url(#g8_16)" stroke="url(#g8_16)" d="M52.6 774.4l.7 1.4 2.9-6.2 2.9 8.5 2.9-6.5 3 8.1 2.9-6.9 2.9 7.7 2.9-7.2 3 7.4 2.9-7.6 2.9 6.9 2.9-7.9 3 6.6 2.9-8.3 2.9 6.2 2.9-8.7 3 5.9 2.9-9.1 2.9 5.5 2.9-9.4 3 5.1 .7-1.6-1.2 3.6-.7 1.6-2.9-5.2-2.9 9.5-2.9-5.5-3 9-2.9-5.8-2.9 8.7-2.9-6.3-3 8.4-2.9-6.7-2.9 8-2.9-7-3 7.6-2.9-7.3-2.9 7.2-2.9-7.7-3 6.8-2.9-8-2.9 6.5-2.9-8.5-3 6.1-.7-1.3z"/><linearGradient id="g8_15" href="#pb" gradientUnits="userSpaceOnUse" x1="53.13" y1="789.52" x2="48.26" y2="760.64"/><path fill="url(#g8_15)" stroke="url(#g8_15)" d="M53.7 770.8l.7 1.3 2.9-6.1 2.9 8.5 3-6.5 2.9 8.1 2.9-6.9 2.9 7.7 3-7.2 2.9 7.3 2.9-7.5 2.9 6.9 3-7.9 2.9 6.6 2.9-8.4 2.9 6.3 3-8.7 2.9 5.8 2.9-9 2.9 5.5 3-9.5 2.9 5.2 .7-1.6-1.1 3.6-.7 1.6-3-5.1-2.9 9.4-2.9-5.5-2.9 9.1-3-5.9-2.9 8.7-2.9-6.2-2.9 8.3-3-6.6-2.9 7.9-2.9-6.9-2.9 7.6-3-7.4-2.9 7.2-2.9-7.7-2.9 6.9-3-8.1-2.9 6.5-2.9-8.5-2.9 6.2-.7-1.4z"/><linearGradient id="g8_14" href="#pb" gradientUnits="userSpaceOnUse" x1="54.26" y1="789.85" x2="49.39" y2="760.97"/><path fill="url(#g8_14)" stroke="url(#g8_14)" d="M54.8 774.5l.7 1.4 3-6.2 2.9 8.5 2.9-6.5 2.9 8.1 3-6.9 2.9 7.7 2.9-7.2 2.9 7.4 3-7.6 2.9 6.9 2.9-7.9 2.9 6.6 3-8.3 2.9 6.2 2.9-8.7 2.9 5.9 3-9.1 2.9 5.5 2.9-9.4 2.9 5.1 .7-1.6-1.1-3.7-.7 1.6-2.9-5.2-3 9.5-2.9-5.5-2.9 9-2.9-5.8-3 8.7-2.9-6.3-2.9 8.4-2.9-6.6-3 7.9-2.9-6.9-2.9 7.5-2.9-7.3-3 7.2-2.9-7.7-2.9 6.9-2.9-8.1-3 6.5-2.9-8.5-2.9 6.1-.7-1.3z"/><linearGradient id="g8_13" href="#pb" gradientUnits="userSpaceOnUse" x1="55.40" y1="790.18" x2="50.53" y2="761.30"/><path fill="url(#g8_13)" stroke="url(#g8_13)" d="M56 778.2l.7 1.3 2.9-6.1 2.9 8.5 2.9-6.5 3 8.1 2.9-6.9 2.9 7.7 2.9-7.2 3 7.3 2.9-7.6 2.9 7 2.9-7.9 3 6.6 2.9-8.4 2.9 6.3 2.9-8.7 3 5.8 2.9-9 2.9 5.5 2.9-9.5 3 5.2 .7-1.6-1.2-3.7-.7 1.6-2.9-5.1-2.9 9.4-2.9-5.5-3 9.1-2.9-5.9-2.9 8.7-2.9-6.2-3 8.3-2.9-6.6-2.9 7.9-2.9-6.9-3 7.6-2.9-7.4-2.9 7.2-2.9-7.7-3 6.9-2.9-8.1-2.9 6.5-2.9-8.5-3 6.2-.7-1.4z"/><linearGradient id="g8_12" href="#pb" gradientUnits="userSpaceOnUse" x1="56.53" y1="790.51" x2="51.66" y2="761.63"/><path fill="url(#g8_12)" stroke="url(#g8_12)" d="M57.1 774.4l.7 1.4 2.9-6.1 2.9 8.4 3-6.5 2.9 8.1 2.9-6.8 2.9 7.7 3-7.3 2.9 7.4 2.9-7.6 2.9 7 3-8 2.9 6.6 2.9-8.3 2.9 6.2 3-8.7 2.9 5.9 2.9-9.1 2.9 5.5 3-9.4 2.9 5.1 .7-1.6-1.1 3.8-.7 1.6-3-5.2-2.9 9.5-2.9-5.5-2.9 9-3-5.8-2.9 8.7-2.9-6.3-2.9 8.4-3-6.6-2.9 7.9-2.9-7-2.9 7.6-3-7.3-2.9 7.2-2.9-7.7-2.9 6.9-3-8.1-2.9 6.5-2.9-8.5-2.9 6.1-.7-1.3z"/><linearGradient id="g8_11" href="#pb" gradientUnits="userSpaceOnUse" x1="57.66" y1="790.84" x2="52.79" y2="761.96"/><path fill="url(#g8_11)" stroke="url(#g8_11)" d="M58.2 770.6l.7 1.4 3-6.1 2.9 8.4 2.9-6.5 2.9 8.1 3-6.8 2.9 7.7 2.9-7.3 2.9 7.4 3-7.6 2.9 7 2.9-8 2.9 6.6 3-8.3 2.9 6.2 2.9-8.7 2.9 5.9 3-9.1 2.9 5.5 2.9-9.4 2.9 5.1 .7-1.6-1.1 3.8-.7 1.6-2.9-5.1-3 9.4-2.9-5.5-2.9 9.1-2.9-5.9-3 8.7-2.9-6.2-2.9 8.3-2.9-6.6-3 8-2.9-7-2.9 7.6-2.9-7.4-3 7.3-2.9-7.7-2.9 6.8-2.9-8.1-3 6.5-2.9-8.4-2.9 6.1-.7-1.4z"/><linearGradient id="g8_10" href="#pb" gradientUnits="userSpaceOnUse" x1="58.79" y1="791.17" x2="53.93" y2="762.29"/><path fill="url(#g8_10)" stroke="url(#g8_10)" d="M59.4 774.2l.7 1.3 2.9-6.1 2.9 8.4 2.9-6.4 3 8 2.9-6.8 2.9 7.7 2.9-7.2 3 7.3 2.9-7.6 2.9 7 2.9-8 3 6.7 2.9-8.4 2.9 6.3 2.9-8.7 3 5.8 2.9-9 2.9 5.5 2.9-9.5 3 5.2 .7-1.6-1.2-3.6-.7 1.6-2.9-5.1-2.9 9.4-2.9-5.5-3 9.1-2.9-5.9-2.9 8.7-2.9-6.2-3 8.3-2.9-6.6-2.9 8-2.9-7-3 7.6-2.9-7.4-2.9 7.3-2.9-7.7-3 6.8-2.9-8.1-2.9 6.5-2.9-8.4-3 6.1-.7-1.4z"/><linearGradient id="g8_9" href="#pb" gradientUnits="userSpaceOnUse" x1="59.93" y1="791.50" x2="55.06" y2="762.62"/><path fill="url(#g8_9)" stroke="url(#g8_9)" d="M60.5 777.7l.7 1.3 2.9-6.1 2.9 8.4 3-6.5 2.9 8.1 2.9-6.8 2.9 7.7 3-7.2 2.9 7.3 2.9-7.6 2.9 7 3-8 2.9 6.6 2.9-8.3 2.9 6.2 3-8.7 2.9 5.9 2.9-9.1 2.9 5.5 3-9.4 2.9 5.1 .7-1.5-1.1-3.5-.7 1.6-3-5.2-2.9 9.5-2.9-5.5-2.9 9-3-5.8-2.9 8.7-2.9-6.3-2.9 8.4-3-6.7-2.9 8-2.9-7-2.9 7.6-3-7.3-2.9 7.2-2.9-7.7-2.9 6.8-3-8-2.9 6.4-2.9-8.4-2.9 6.1-.7-1.3z"/><linearGradient id="g8_8" href="#pb" gradientUnits="userSpaceOnUse" x1="61.06" y1="791.83" x2="56.19" y2="762.95"/><path fill="url(#g8_8)" stroke="url(#g8_8)" d="M61.6 773.7l.7 1.4 3-6.2 2.9 8.5 2.9-6.5 2.9 8.1 3-6.9 2.9 7.8 2.9-7.3 2.9 7.4 3-7.6 2.9 7 2.9-8 2.9 6.6 3-8.3 2.9 6.2 2.9-8.7 2.9 5.9 3-9.1 2.9 5.5 2.9-9.4 2.9 5.1 .7-1.6-1.1 4-.7 1.5-2.9-5.1-3 9.4-2.9-5.5-2.9 9.1-2.9-5.9-3 8.7-2.9-6.2-2.9 8.3-2.9-6.6-3 8-2.9-7-2.9 7.6-2.9-7.3-3 7.2-2.9-7.7-2.9 6.8-2.9-8.1-3 6.5-2.9-8.4-2.9 6.1-.7-1.3z"/><linearGradient id="g8_7" href="#pb" gradientUnits="userSpaceOnUse" x1="62.19" y1="792.16" x2="57.32" y2="763.28"/><path fill="url(#g8_7)" stroke="url(#g8_7)" d="M62.8 769.8l.7 1.3 2.9-6.1 2.9 8.4 2.9-6.5 3 8.1 2.9-6.8 2.9 7.7 2.9-7.3 3 7.4 2.9-7.6 2.9 7 2.9-8 3 6.6 2.9-8.3 2.9 6.2 2.9-8.7 3 5.9 2.9-9.1 2.9 5.5 2.9-9.4 3 5.1 .7-1.5-1.2 3.9-.7 1.6-2.9-5.1-2.9 9.4-2.9-5.5-3 9.1-2.9-5.9-2.9 8.7-2.9-6.2-3 8.3-2.9-6.6-2.9 8-2.9-7-3 7.6-2.9-7.4-2.9 7.3-2.9-7.8-3 6.9-2.9-8.1-2.9 6.5-2.9-8.5-3 6.2-.7-1.4z"/><linearGradient id="g8_6" href="#pb" gradientUnits="userSpaceOnUse" x1="63.33" y1="792.49" x2="58.46" y2="763.61"/><path fill="url(#g8_6)" stroke="url(#g8_6)" d="M63.9 773.1l.7 1.3 2.9-6.1 2.9 8.5 3-6.5 2.9 8.1 2.9-6.9 2.9 7.7 3-7.2 2.9 7.3 2.9-7.6 2.9 7 3-7.9 2.9 6.6 2.9-8.4 2.9 6.3 3-8.7 2.9 5.8 2.9-9 2.9 5.5 3-9.5 2.9 5.2 .7-1.6-1.1-3.3-.7 1.5-3-5.1-2.9 9.4-2.9-5.5-2.9 9.1-3-5.9-2.9 8.7-2.9-6.2-2.9 8.3-3-6.6-2.9 8-2.9-7-2.9 7.6-3-7.4-2.9 7.3-2.9-7.7-2.9 6.8-3-8.1-2.9 6.5-2.9-8.4-2.9 6.1-.7-1.3z"/><linearGradient id="g8_5" href="#pb" gradientUnits="userSpaceOnUse" x1="64.46" y1="792.82" x2="59.59" y2="763.94"/><path fill="url(#g8_5)" stroke="url(#g8_5)" d="M65 776.4l.7 1.3 3-6.1 2.9 8.5 2.9-6.5 2.9 8.1 3-6.9 2.9 7.7 2.9-7.2 2.9 7.3 3-7.5 2.9 6.9 2.9-7.9 2.9 6.6 2.9-8.4 3 6.3 2.9-8.7 2.9 5.9 2.9-9.1 3 5.5 2.9-9.5 2.9 5.2 .7-1.6-1.1-3.3-.7 1.6-2.9-5.2-3 9.5-2.9-5.5-2.9 9-2.9-5.8-3 8.7-2.9-6.3-2.9 8.4-2.9-6.6-3 7.9-2.9-7-2.9 7.6-2.9-7.3-3 7.2-2.9-7.7-2.9 6.9-2.9-8.1-3 6.5-2.9-8.5-2.9 6.1-.7-1.3z"/><linearGradient id="g8_4" href="#pb" gradientUnits="userSpaceOnUse" x1="65.59" y1="793.15" x2="60.72" y2="764.27"/><path fill="url(#g8_4)" stroke="url(#g8_4)" d="M66.2 772.3l.7 1.3 2.9-6.1 2.9 8.5 2.9-6.5 3 8 2.9-6.8 2.9 7.7 2.9-7.2 3 7.3 2.9-7.6 2.9 7 2.9-8 3 6.7 2.9-8.4 2.9 6.3 2.9-8.7 3 5.8 2.9-9 2.9 5.5 2.9-9.5 3 5.2 .7-1.6-1.2 4.1-.7 1.6-2.9-5.2-2.9 9.5-3-5.5-2.9 9.1-2.9-5.9-2.9 8.7-3-6.3-2.9 8.4-2.9-6.6-2.9 7.9-2.9-6.9-3 7.5-2.9-7.3-2.9 7.2-2.9-7.7-3 6.9-2.9-8.1-2.9 6.5-2.9-8.5-3 6.1-.7-1.3z"/><linearGradient id="g8_3" href="#pb" gradientUnits="userSpaceOnUse" x1="66.72" y1="793.48" x2="61.85" y2="764.60"/><path fill="url(#g8_3)" stroke="url(#g8_3)" d="M67.3 768.1l.7 1.4 2.9-6.2 2.9 8.5 3-6.5 2.9 8.1 2.9-6.9 2.9 7.7 3-7.2 2.9 7.4 2.9-7.6 2.9 6.9 3-7.9 2.9 6.6 2.9-8.3 2.9 6.2 3-8.7 2.9 5.9 2.9-9.1 2.9 5.5 3-9.4 2.9 5.1 .7-1.6-1.1 4.2-.7 1.6-3-5.2-2.9 9.5-2.9-5.5-2.9 9-3-5.8-2.9 8.7-2.9-6.3-2.9 8.4-3-6.7-2.9 8-2.9-7-2.9 7.6-3-7.3-2.9 7.2-2.9-7.7-2.9 6.8-3-8-2.9 6.5-2.9-8.5-2.9 6.1-.7-1.3z"/><linearGradient id="g8_2" href="#pb" gradientUnits="userSpaceOnUse" x1="67.86" y1="793.81" x2="62.99" y2="764.93"/><path fill="url(#g8_2)" stroke="url(#g8_2)" d="M68.4 771.3l.7 1.3 3-6.1 2.9 8.5 2.9-6.5 2.9 8 2.9-6.8 3 7.7 2.9-7.2 2.9 7.3 2.9-7.6 3 7 2.9-8 2.9 6.7 2.9-8.4 3 6.3 2.9-8.7 2.9 5.8 2.9-9 3 5.5 2.9-9.5 2.9 5.2 .7-1.6-1.1-3.2-.7 1.6-2.9-5.1-3 9.4-2.9-5.5-2.9 9.1-2.9-5.9-3 8.7-2.9-6.2-2.9 8.3-2.9-6.6-3 7.9-2.9-6.9-2.9 7.6-2.9-7.4-3 7.2-2.9-7.7-2.9 6.9-2.9-8.1-3 6.5-2.9-8.5-2.9 6.2-.7-1.4z"/><linearGradient id="g8_1" href="#pb" gradientUnits="userSpaceOnUse" x1="68.99" y1="794.14" x2="64.12" y2="765.26"/><path fill="url(#g8_1)" stroke="url(#g8_1)" d="M69.6 774.4l.7 1.3 2.9-6.1 2.9 8.5 2.9-6.5 3 8.1 2.9-6.9 2.9 7.7 2.9-7.2 3 7.3 2.9-7.5 2.9 6.9 2.9-7.9 3 6.6 2.9-8.4 2.9 6.3 2.9-8.7 3 5.8 2.9-9 2.9 5.5 2.9-9.5 3 5.2 .7-1.6-1.2-3.1-.7 1.6-2.9-5.2-2.9 9.5-3-5.5-2.9 9-2.9-5.8-2.9 8.7-3-6.3-2.9 8.4-2.9-6.7-2.9 8-3-7-2.9 7.6-2.9-7.3-2.9 7.2-3-7.7-2.9 6.8-2.9-8-2.9 6.5-2.9-8.5-3 6.1-.7-1.3z"/><linearGradient id="g8_0" href="#pb" gradientUnits="userSpaceOnUse" x1="69.83" y1="794.38" x2="64.96" y2="765.50"/><path fill="url(#g8_0)" stroke="url(#g8_0)" d="M70.1 773.1l.7 1.3 2.9-6.1 3 8.5 2.9-6.5 2.9 8.1 2.9-6.9 3 7.7 2.9-7.2 2.9 7.4 2.9-7.6 2.9 6.9 3-7.9 2.9 6.6 2.9-8.4 2.9 6.3 3-8.7 2.9 5.9 2.9-9.1 2.9 5.5 3-9.5 2.9 5.2 .7-1.6-.5 1.3-.7 1.6-3-5.2-2.9 9.5-2.9-5.5-2.9 9-3-5.8-2.9 8.7-2.9-6.3-2.9 8.4-3-6.6-2.9 7.9-2.9-6.9-2.9 7.5-3-7.3-2.9 7.2-2.9-7.7-2.9 6.9-3-8.1-2.9 6.5-2.9-8.5-2.9 6.1-.7-1.3z"/></g><path d="M23.7 751.26L23.7 780.96L70.1 794.46L130 784.36M23.70 780.96l2.17 -0.37M23.70 762.51l2.17 -0.37M69.56 794.30l2.17 -0.37M46.90 787.71l2.17 -0.37M24.24 781.12l2.17 -0.37M70.80 794.34l-2.11 -0.61M100.05 789.41l-2.11 -0.61M129.30 784.48l-2.11 -0.61" stroke="#3a3a3a" stroke-width="0.95" fill="none"/><text x="21.5" y="783.47" font-size="7.6" text-anchor="end" fill="#262626">0</text><text x="21.5" y="765.02" font-size="7.6" text-anchor="end" fill="#262626">50</text><text x="67.06" y="802.81" font-size="7.6" text-anchor="end" fill="#262626">-5</text><text x="44.4" y="796.22" font-size="7.6" text-anchor="end" fill="#262626">0</text><text x="21.74" y="789.63" font-size="7.6" text-anchor="end" fill="#262626">5</text><text x="73.3" y="802.85" font-size="7.6" text-anchor="start" fill="#262626">-5</text><text x="102.55" y="797.92" font-size="7.6" text-anchor="start" fill="#262626">0</text><text x="131.8" y="792.99" font-size="7.6" text-anchor="start" fill="#262626">5</text><clipPath id="csh8"><rect x="175.5" y="740.86" width="106.2" height="53.9"/></clipPath><g clip-path="url(#csh8)"><path d="M227.9 783.7l.7-.5 .7 .4-1.4 .1M217.3 779l-.7-.7 .7-.7 2 0 .7 .7-.7 .7-2 0M227.3 778.9l-.6-.6 1.2-.9 1.4 0 1.2 .9-1.2 .9-2-.3M237.9 779l-.7-.7 .7-.7 2 0 .7 .7-.7 .7-2 0M207.4 778.7l-.5-.4 .5-.4 1.6 .4-1.6 .4M248.5 778.7l0-.8 1.8 .4-1.8 .4M228.6 774.3l-1.6-.4-.8-1 1.7-1 2.3 .3 .8 1-2.4 1.1M208 773.9l-1.4-.4-.3-.6 1.5-.7 1.5 .3 .1 1-1.4 .4M217.3 774l-1.2-.8 1.2-1.2 2 .1 1.2 .8-1.2 1.1-2 0M237.9 774l-1.2-.8 1.2-1.1 2-.1 1.2 .9-1.2 1.1-2 0M249.2 773.9l-1.4-.4 .1-1 1.5-.3 1.5 .7-.3 .6-1.4 .4M217.3 768.9l-1.4-1.1 1.4-1.1 2 0 1.4 1.1-1.4 1.1-2 0M227.3 768.9l-1.3-1.1 1.9-1.2 2 .2 1.3 1-1.9 1.3-2-.2M237.9 768.9l-1.4-1.1 1.4-1.1 2 0 1.4 1.1-1.4 1.1-2 0M206.7 768.5l-.6-.7 1.3-.9 1.9 .2 .6 .7-1.2 .9-2-.2M248.5 768.7l-1.2-.9 1.2-.9 2 .2 .6 .7-.6 .7-2 .2M197.4 768.2l-.4-.4 .3-.3 1 .3-.9 .4M259.8 768.2l-.9-.4 1-.3 .3 .3-.4 .4M228.6 763.8l-1.6-.4-.8-1 1.7-1 2.3 .3 .8 1.1-2.4 1M208 763.5l-1.4-.4-.3-.7 1.3-.7 1.8 .4 0 1-1.4 .4M217.3 763.6l-1.2-1.2 1.2-.8 2 0 1.2 .8-1.2 1.2-2 0M237.9 763.6l-1.2-1.2 1.2-.8 2 0 1.2 .8-1.2 1.2-2 0M249.2 763.5l-1.4-.4 0-1 1.8-.4 1.3 .7-.3 .7-1.4 .4M217.3 758l-.7-.6 .7-.8 2 .1 .7 .7-.7 .6-2 0M227.9 758.2l-1.2-.8 .6-.7 1.3-.3 1.8 .6-.5 1-2 .2M238.6 758.2l-1.4-.8 .6-.7 1.4-.2 1.3 .5-.6 1-1.3 .2M207.4 757.8l-.5-.4 .5-.5 1.6 .5-1.6 .4M248.5 757.7l-.1-.7 .8-.2 1.1 .6-1.8 .3M228.6 752.5l-.7-.5 1.4-.1-.7 .6" stroke="#3e26a8" stroke-width="1.3" fill="none"/><path d="M218 789.4l-.9-.4 .2-.7 1.3-.2 1 .6-1.6 .7M227.9 789.4l-.8-.7 .8-.7 1.4 0 .8 .7-.8 .7-1.4 0M238.6 789.4l-.9-.4 .2-.7 1.3-.2 1 .6-1.6 .7M208 788.7M249.2 788.7M217.3 784.7l-1.6-1.1 1.6-1.3 2 0 1.6 1-.9 1.1-2.7 .3M227.9 784.8l-2-1.2 1.4-1.3 2-.2 2 1.2-.7 1-2.7 .5M238.6 784.8l-2.3-1.2 .9-1 2-.4 2.2 1.1-.6 1-2.2 .5M207.4 784.5l-1.5-.9 .8-.9 2-.2 1.3 .8-.6 1-2 .2M248.5 784.5l-1.4-.9 .7-.8 2-.3 1.4 .8-.7 1-2 .2M197.4 784l-.7-.7 1.9 0-1.2 .7M259.1 784l-.5-.7 1.9 0 0 .5-1.4 .2M218 780l-3-1.4 .1-.7 1.6-1 1.9-.4 3.2 1.8-1.8 1.3-2 .4M227.9 780l-3-1.7 2.4-1.6 2-.3 3 1.9-2.4 1.5-2 .2M238.6 779.9l-3.1-1.3 .1-.7 1-.7 2.6-.7 2.9 1.4 .1 .7-.9 .7-2.7 .6M207.4 779.7l-2.3-1.4 1.6-1.3 2-.2 2.3 1.5-1.6 1.2-2 .2M248.5 779.7l-2.2-1.1 .1-.7 1-.7 2.4-.4 2.1 1.1 .1 .7-.8 .6-2.7 .5M197.4 779.3l-1.7-.7 .4-.9 2-.5 1.5 .7-.4 1-1.8 .4M259.1 779.3l-1.6-.7 .6-1 1.7-.4 1.6 .7-.3 1-2 .4M187.4 778.3M269.8 778.3M218 775l-3.7-1.8 2.4-1.8 1.9-.5 3.9 2-1.7 1.3-2.8 .8M227.9 775.1l-3.7-1.9 3.7-2.4 1.4 0 3.7 2.1-3.1 1.9-2 .3M238.6 775l-3.9-1.8 1.7-1.3 2.8-1 3.6 2-1.4 1.3-2.8 .8M207.4 774.7l-2.7-1.5 2-1.7 2-.2 2.8 1.6-1.5 1.3-2.6 .5M248.5 774.7l-2.9-1.5 1.6-1.3 2.6-.6 2.7 1.6-1.3 1.3-2.7 .5M196.7 774.2l-1.5-1 1.5-1.3 2 0 1.6 1-1.6 1.3-2 0M259.1 774.3l-2.2-1.1 .8-1 2.1-.5 2.2 1.2-.9 1.1-2 .3M186.8 773.6l-.7-.4 .5-.7 2 .4-.4 .6-1.4 .1M269.1 773.6l-.5-.4 .5-.7 2 .4-.7 .7-1.3 0M228.6 770.4l-5-2.6 3.7-1.9 1.3-.6 5 2.5-5 2.6M218 770l-3.9-2.2 3.2-2 1.3-.2 4.5 2.2-5.1 2.2M238.6 770l-4-1.9-.5-.3 .5-.3 4.6-1.9 3.7 1.9-.4 1-3.9 1.5M207.4 769.6l-2.9-1.8 2.2-1.6 2-.1 3.1 1.7-2.4 1.6-2 .2M248.5 769.6l-3-1.5 0-.6 1.2-.7 3.1-.8 2.8 1.5 0 .6-1.4 1-2.7 .5M197.4 769.2l-2.3-1.1 0-.6 .9-.7 2.1-.4 2.3 1.1-.4 1-2.6 .7M259.1 769.2l-2.3-1.1 .4-1 2.6-.7 2.3 1.1 0 .6-.9 .7-2.1 .4M186.8 768.5l-1-.7 .8-.7 1.5 0 .8 .7-.8 .7-1.3 0M269.8 768.6l-1.3-.5 0-.6 1.3-.5 1.4 .5 0 .6-1.4 .5M228.6 765l-4.4-2.6 4.4-2 3.9 1.7 .5 .7-4.4 2.2M217.3 764.5l-2.9-1.7 2.3-1.8 1.9-.4 3.9 1.8-3.2 2.1-2 0M237.9 764.5l-3.2-1.7 2.5-1.8 2-.4 3.7 1.8-3 2.1-2 0M207.4 764.3l-2.7-1.5 1.3-1.4 2.7-.5 2.9 1.5-1.6 1.4-2.6 .5M248.5 764.3l-2.8-1.5 1.5-1.4 2.6-.5 2.7 1.5-1.3 1.4-2.7 .5M196.7 763.8l-1.5-1 .9-1.2 2-.3 2.2 1.1-1.6 1.3-2 .1M259.1 763.9l-2.2-1.1 .8-1.1 2.1-.4 2.2 1.1-.9 1.1-2 .4M186.8 763.2l-.7-.4 .4-.7 2.1 .3-.5 .7-1.3 .1M269.1 763.1l-.5-.7 .5-.4 2 .4-.7 .8-1.3-.1M218 759.2l-2.9-1.5-.1-.7 .9-.6 2.7-.7 3.1 1.3-.1 .7-1 .7-2.6 .8M227.9 759.2l-2.8-1.5 0-.7 1-.6 3.2-.8 2.8 1.4 0 .7-1.5 .9-2.7 .6M238.6 759.2l-3-1.5 .3-1 3.3-1 3 1.3-.1 .7-.9 .7-2.6 .8M207.4 758.8l-2.1-1.1-.1-.7 .8-.6 2.7-.4 2.2 1-.1 .7-1 .7-2.4 .4M248.5 758.8l-2.1-1.1-.1-.7 .9-.6 2.6-.5 2.2 1.1-.1 .7-.9 .7-2.5 .4M197.4 758.4l-1.6-.7 .3-1 2-.4 1.6 .7-.6 1-1.7 .4M259.1 758.4l-1.5-.7 .4-1 1.8-.4 1.7 .7-.5 1-1.9 .4M187.4 757.4M269.8 757.4M218 753.5l-2.2-1.2 .6-1 2.2-.5 2.3 1.2-.9 1-2 .5M227.9 753.5l-2-1.2 .7-1 2.7-.5 2 1.2-1.4 1.3-2 .2M238.6 753.4l-2.3-1.1 .8-1 2.1-.5 2.3 1.2-1 1-1.9 .4M207.4 753.1l-1.4-.8 .7-1 2-.2 1.4 .9-.7 .9-2 .2M248.5 753.1l-1.3-.8 .8-1 1.8-.2 1.5 .9-.8 .9-2 .2M196.7 752.4l.7-.8 1.3 .4-.6 .6-1.4-.2M259.1 752.6l-.6-.6 .5-.4 1.6 .4-1.5 .6M228.6 747.7l-1.3-.4-.1-.7 1.4-.5 1.3 .4 0 .8-1.3 .4M217.3 747.3l-.2-.7 .9-.4 1.6 .7-1 .6-1.3-.2M237.9 747.3l-.2-.7 .9-.4 1.6 .7-1 .6-1.3-.2M208 746.9M249.2 746.9" stroke="#4852f4" stroke-width="1.3" fill="none"/><path d="M217.3 794.6l-.5-.5 .5-.7 1.3-.2 1.1 .5-.4 .8-2 .1M227.9 794.8l-.9-1.1 1.6-.6 1.6 .6-.9 1.1M237.9 794.5l-.5-.4 .5-.7 1.3-.2 1.2 .5-.5 .9-2-.1M207.4 794.2l-.1-.5 .7-.1 .7 .5-1.3 .1M248.5 794.1l.7-.5 .8 .5-1.5 0M217.3 790.1l-2.1-1.4 2.1-1.5 2 0 2.1 1.5-1.4 1.2-2.7 .2M227.3 790.1l-2-1.4 2.6-1.7 2 .3 2 1.4-2 1.4-2.6 0M237.9 790.1l-2.1-1.4 2.1-1.5 2 0 2.1 1.5-1.5 1.2-2.6 .2M206.7 789.8l-1.3-1.1 2-1.3 2 .3 1.2 1-1.2 1.1-2.7 0M247.8 789.8l-1.2-1.1 1.9-1.2 2 .1 1.3 1.1-1.3 1.1-2.7 0M196.7 789.5l-.8-.8 .8-.7 1.4-.1 1.3 .8-.7 .7-2 .1M258.5 789.4l-.7-.7 1.3-.8 1.4 .1 .8 .7-.8 .8-2-.1M228.6 785.8l-5.3-2-4 1.7-2 0-3.5-1.9 3.2-2.3-.2-.7-1.5-.8-2.6-.8-4.7 1.9-4.8-2.3-.4-.3 3.7-2.4-1.8-1.5-2.7-.7-4.6 1.6-3.1-1.4-.8-1 3.6-2.4-3.9-2.7 3.9-2.7-3.6-2.7 3.9-2.1 4.6 1.6 3-.8 1.5-1.4-3.7-2.3 4.6-2.5 .6-.2 4.7 1.9 3-.9 1.3-1.4-3.2-2.3 3.5-1.9 2 .1 4 1.6 5.3-1.9 5.3 1.9 4-1.6 2-.1 3.5 1.9-3.2 2.3 .2 .7 1.5 .9 2.6 .7 4.7-1.9 4.8 2.3 .4 .4-3.7 2.3 1.8 1.5 2.7 .7 4.6-1.6 3.1 1.4 .8 1.1-3.6 2.3 3.9 2.7-3.9 2.7 3.3 2 0 1-3.6 1.8-4.6-1.6-2.7 .7-1.8 1.5 3.7 2.4-.4 .3-4.8 2.3-4.7-1.9-2.6 .8-1.5 .8-.2 .7 3.2 2.3-3.5 1.9-2 0-4-1.7-5.3 2M208 785.3l-2-.4-1.7-1.3 3.1-2.2 .6-.3 4 2.2-.9 1-3.1 1M249.2 785.3l-3.1-1-.9-1 4-2.2 .6 .3 3.1 2.2-1.7 1.3-2 .4M196.7 784.8l-1.9-1.2 1.9-1.5 2 0 2 1.2-1.3 1.3-2.7 .2M258.5 784.8l-2-1.2 2-1.5 2 0 1.8 1.2-1.2 1.3-2.6 .2M186.8 784.3l-1.1-.7 .4-.7 1.3-.3 1.6 .7-.2 .7-2 .3M269.8 784.4l-1.4-.4 .1-1 1.9-.3 1.1 .6-.2 .7-1.5 .4M222.6 783l1.4 .1 3.1-2.2-3.1-1.6-2.7 .5-1.5 .8-.2 .7 3 1.7M233 783l1.6 0 3.1-2.1-3.1-1.6-2.7 .4-1.6 .9-.2 .7 2.9 1.7M196.7 780l-2.7-1.7 2.7-1.9 2 0 3.6 1.9-3.6 1.7-2 0M258.5 780l-3.6-1.7 3.6-1.9 2 0 2.7 1.9-2.1 1.5-2.6 .2M186.1 779.4l-1.3-1.1 2-1.3 2 .2 1.3 1.1-2 1.2-2-.1M268.4 779.3l-1.3-1 2-1.3 2 .2 1.3 1.1-1.3 1.1-2.7-.1M176.8 778.7l-.5-.4 .5-.4 1 .4-1 .4M279.7 778.6l0-.6 1.2 .3-1.2 .3M211.7 777.2l2.3 .1 2-1.1 .2-.6-2.2-1.4-2.7 .2-1.8 1.5 2.2 1.3M222.7 777.2l2.6-.4 1.1-1.2-2.4-1.3-2.7 .5-.9 1.1 2.3 1.3M233.2 777.2l2-.2 1.6-1.4-2.2-1.3-2.7 .4-1.1 1.2 2.4 1.3M243 777.2l2.2 .2 2.2-1.2 .3-.6-2.5-1.4-2 0-2.2 1.4 .2 .6 1.8 1M186.8 774.6l-2.4-1.4 1.7-1.5 2-.2 2.6 1.4-1.3 1.1-2.6 .6M269.8 774.6l-2.4-.7-.9-1 2.6-1.4 2.6 .5 1.1 .9-.2 .6-2.8 1.1M176.2 773.7l-.7-.5 .7-.8 2.3 .5-.3 .7-2 .1M279 773.6l-.3-.7 1-.6 2 .6-.7 .8-2-.1M201.5 772.2l2.5-.2 1.9-1.2 .1-.6-2.6-1.5-2.7 .3-2.4 1.5 3.2 1.7M253.6 772.2l2.2 0 3.1-1.7-3.1-1.7-2-.1-2.7 1.8 2.5 1.7M212 771.9l2.7-.3 1.1-.8 0-.6-2.5-1.3-2 .4-1.5 1.2 2.2 1.4M243.3 771.9l2.6-.3 1.3-.8 0-.6-2.7-1.3-2 .4-1.2 1.2 2 1.4M221.9 771.5l2.7 .1 1.3-.8 .1-.6-2-1.1-2 .3-1.3 1.1 1.2 1M232.4 771.5l2.8 0 1.1-.7 .1-.6-1.8-1-2 .1-1.5 1.2 1.3 1M186.1 769.2l-1.9-1.4 1.9-1.4 2-.2 2.9 1.6-2.9 1.6-2-.2M268.4 769.2l-2.2-1.4 2.9-1.6 2 .2 1.9 1.4-1.9 1.4-2.7 0M281.7 768.2l-2 .4-1.3-.8 1.3-.8 2 .4M175.5 767.4l2-.4 1.3 .8-1.3 .8-2-.4M201.3 766.8l2.1 .1 2.7-1.8-2.7-1.8-2 .2-3.1 1.6 3 1.7M253.5 766.8l2.3 0 3.1-1.7-3.1-1.6-2-.2-2.7 1.8 2.4 1.7M211.7 766.5l2.3 0 1.9-1.4-1.9-1.3-2 0-2.2 1.3 1.9 1.4M222.9 766.5l1.7-.2 1.5-1.2-2.1-1.3-2 .3-1.1 .7-.1 .7 2.1 1M233.2 766.5l2-.3 1.3-1.1-1.9-1.2-2 .1-1.5 1.1 2.1 1.4M243 766.5l2.2 .1 2.2-1.5-2.2-1.3-2 0-1.9 1.3 1.7 1.4M186.8 764.1l-2.4-1.3 1.3-1.4 2.4-.3 2.6 1.3-1.7 1.4-2.2 .3M269.8 764.2l-2.3-.8-1-1 2.6-1.3 2.6 .4 1.1 .9-.3 .7-2.7 1.1M176.2 763.2l-.7-.8 .7-.5 1.3-.1 1.1 .6-.4 .7-2 .1M279 763.1l-.4-.7 1.1-.6 2 .6-.7 .8-2-.1M212 761.4l2.7-.3 1.5-1.4-2.9-1.6-2 .4-1.8 1.6 2.5 1.3M243.3 761.4l2.6-.2 1.8-1.5-2.5-1.4-2 0-2.2 1.4 .3 .7 2 1M221.9 761.1l2.7 .1 1.8-1.5-1.8-1.2-2-.1-2.2 1.3 1.5 1.4M232.4 761.1l2.8 0 1.6-1.4-2.2-1.3-2 .1-1.8 1.2 1.6 1.4M197.4 759.5l-3.4-2.1 2.1-1.6 2.6-.1 3.6 1.7-4.9 2.1M259.1 759.4l-4.2-2 4.2-1.9 2.7 .6 1.2 .9 0 .7-2.5 1.6-1.4 .1M186.1 758.5l-1.3-1.1 1.3-1.1 2-.2 2 1.3-2 1.2-2-.1M268.4 758.4l-1.3-1 2-1.3 2 .2 1.3 1.1-2 1.2-2-.2M176.8 757.7l-.5-.3 .3-.4 1.2 .4-1 .3M280.4 757.7l-1-.3 1.2-.4 .3 .4-.5 .3M223 756.4l2.8-.7 1.3-1.4-3.1-1.8-2 .4-2.5 1.8 3.5 1.7M233.3 756.4l2.9-.7 1.4-1.4-3-1.7-2 .2-2.5 1.9 3.2 1.7M208 754.5l-3.4-1.8-.3-.7 .7-.7 3-1 4.1 1.7-4.1 2.5M249.2 754.5l-4.1-2.5 4.1-1.7 3 1 .7 .7-.3 .7-3.4 1.8M196.7 753.5l-1.8-1.2 1.2-1.3 2.6-.2 2 1.2-2 1.5-2 0M258.5 753.5l-2-1.2 1.3-1.2 2.7-.3 1.9 1.2-1.9 1.5-2 0M187.4 753l-1.3-.3-.4-.7 1.1-.7 2 .3 .2 .7-1.6 .7M269.8 753l-1.6-.7 .2-.7 2-.3 1.1 .7-.4 .7-1.3 .3M228.6 748.7l-2.7-1.1-.5-1 3.2-1.3 2.8 .9 .3 1.1-3.1 1.4M217.3 748.4l-2.1-1.5 1.5-1.2 2.6-.2 2 1.1-.1 .7-1.2 .8-2.7 .3M237.9 748.4l-2.1-1.5 1-1 2.4-.5 2.7 1.2-.1 .7-1.3 .8-2.6 .3M206.7 748l-1.3-1.1 1.3-1.1 2-.1 1.8 .9-.1 .7-1 .6-2.7 .1M247.8 747.9l-1.2-1 1.2-1 2-.3 1.9 1-.1 .7-1.1 .7-2.7-.1M196.7 747.6l-.8-.7 .8-.8 2 .1 .7 .7-1.3 .8-1.4-.1M259.1 747.7l-1.3-.8 .6-.7 1.4-.2 1.4 .6-.7 1-1.4 .1M217.3 742.2l-.5-.7 .5-.4 1.3-.2 1.2 .6-1.2 .9-1.3-.2M237.9 742.2l-.5-.7 1.2-.6 1.8 .6-1.2 .9-1.3-.2M207.4 741.9l.6-.7 .7 .3-1.3 .4M249.2 742l-.7-.5 1.5 0-.8 .5M229.3 740.9l.9 1-1.6 .6-1.6-.6 .9-1" stroke="#2e86f7" stroke-width="1.3" fill="none"/><path d="M196.6 794.8l-.8-1.1 1.6-.7 2.1 .7-.8 1.1M205.9 794.8l-.6-.7 .3-.7 2.4-.9 2.7 1.2-.6 1.1M215.7 794.8l-.6-1.1 2.9-1.6 3.2 1.3 .4 .7-.7 .7M225.8 794.8l-.6-1.1 3.4-1.9 3.4 1.9-.6 1.1M236.3 794.8l-.7-.7 .4-.7 3.2-1.3 2.9 1.6-.6 1.1M247.1 794.8l-.6-1.1 2.7-1.2 2.4 .9 .3 .7-.6 .7M258.5 794.8l-.8-1.1 2.1-.7 1.6 .7-.8 1.1M228.6 791.4l-5.3-1.9-4.7 1.7-5.3-1.9-5.9 1.5-3.7-1.8 .2-.6 2.6-2.1-1.8-1.3-2.7-.6-4.6 1.5-4.5-2.3 3-2.3-.1-.7-1.7-1-2.7-.5-4 1.4-3.7-1.6-.3-1 2.9-2.3-3.7-2.7 3.3-2.4-3.8-2.7 3.8-2.7-3.3-2.7 3.7-2.7-2.9-2 0-.7 3.4-1.8 5.3 1.4 2.6-.9 1.2-1.4-3-2.3 4.5-2.3 4.6 1.5 3.4-.9 1-.7 0-.7-2.8-2 3.1-1.9 2-.1 4.6 1.4 5.3-1.8 4.7 1.6 5.3-1.9 5.3 1.9 4.7-1.6 5.3 1.8 5.9-1.4 3.7 1.7-.2 .7-2.6 2 1.8 1.3 2.7 .6 4.6-1.5 4.5 2.3-3 2.3 .1 .7 1.7 1 2.7 .5 4-1.4 3.7 1.6 .3 1-2.9 2 3.7 2.7-3.3 2.7 3.8 2.7-3.8 2.7 3.3 2.4-3.7 2.7 2.9 2.3-.3 1-3.7 1.6-4-1.4-2.7 .5-1.7 1-.1 .7 3 2.3-4.5 2.3-4.6-1.5-2.7 .6-1.8 1.3 2.6 2.1 .2 .6-3.7 1.8-5.9-1.5-5.3 1.9-4.7-1.7-5.3 1.9M197.4 790.4l-2.1-.7-.9-1 2.3-1.7 1.4-.2 3.3 1.9-1.3 1.1-2.7 .6M259.8 790.4l-2.7-.6-1.3-1.1 3.3-1.9 1.4 .2 2.3 1.7-.9 1-2.1 .7M186.8 789.8l-1.6-.8 .9-1.2 2-.1 1.6 1-.9 .9-2 .2M269.1 789.8l-1.6-1.1 1.5-1 2.1 .1 1 .9-1 1-2 .1M212 788l1.3 .2 1.4-.5 1.4-1 0-.7-2.8-1.3-2.6 .6-1.1 .7 0 .7 2.4 1.3M243.3 788l1.9 0 2.6-1.7-2.6-1.5-2.7 .3-1.6 1.2 2.4 1.7M222.1 787.7l1.9 .2 2.4-1.6-1.8-1.2-2.6 0-1.7 1.2 1.8 1.4M232.5 787.7l2.1 .2 2.3-1.6-1.7-1.2-2.6 0-1.8 1.2 1.7 1.4M186.8 785.1l-2.7-1.5 2-1.7 2-.2 3.1 1.6-1.7 1.4-2.7 .4M269.1 785.1l-3.2-1.5 2.5-1.6 2-.3 2.7 1.6-1.4 1.4-2.6 .4M281.7 784.1l-2 .3-1.5-.8 1.5-1 2 .4M175.5 783l2-.4 1.5 1-1.5 .8-2-.3M202.5 782.6l2.6-1 .4-.7-.8-.7-2.7-.6-2.6 1.3 .9 1.1 2.2 .6M254.4 782.6l2.1-.4 1.3-1.3-2.6-1.3-2.2 .3-1.2 1.4 2.6 1.3M211.6 782l2.4 .1 1.3-1.2-1.3-.9-2 0-1.4 .9 1 1.1M222.6 782l2-.2 .8-.9-1.4-.8-1.8 .2-.7 1 1.1 .7M233 782l1.6 0 1.2-1.1-1.2-.8-2 .2-.7 1 1.1 .7M242.9 782l2.3 .1 1.4-1.2-1.4-.9-2 0-1.3 .9 1 1.1M281.7 779.3l-2.7 .2-1.8-1.2 2.5-1.4 2 .3M190.8 777.2l2.6 0 1.7-1 .2-.6-2.5-1.5-2 .2-2.4 1.6 2.4 1.3M263.8 777.2l2.6 0 2.4-1.6-3-1.5-2 .2-1.9 1.6 1.9 1.3M175.5 777.2l2-.3 2.5 1.4-1.8 1.2-2.7-.2M202 776.9l2-.3 .8-1-1.4-.9-2.3 .2-1 1 1.9 1M254.2 776.9l2-.3 .8-1-1.8-1-2 .3-.8 1 1.8 1M212.7 776.6l1.3-.2 .5-.8-1.2-.6-1.5 .2-.5 .7 1.4 .7M244.4 776.6l1.5-.7-.5-.7-1.5-.2-1.2 .6 .3 .6 1.4 .4M222.7 776.2l1.3 .1 .5-.7-1.9-.3-.3 .6 .4 .3M233.1 776.2l1.5 0 .3-.6-1.7-.4-.5 .4 .4 .6M281.7 774.3l-2 .4-3.3-1.5 2.6-1.6 2.7 .1M191.1 771.9l2.3-.2 1.5-.9 0-.6-2.1-1.2-2.7 .5-1.2 1 2.2 1.4M264.1 771.9l2.9-.4 1.1-.7 .1-.6-2.4-1.2-2 .2-1.6 1.3 1.9 1.4M175.5 771.7l2.7-.1 2.6 1.6-3.3 1.5-2-.4M201.2 771.2l2.2 .2 1.1-.9-.5-.7-2-.3-1.4 .7 .6 1M253.4 771.2l1.8 .2 1.5-.9-.9-.8-2-.1-1.1 .9 .7 .7M212.1 770.8l1.2 .2 .8-.5-1.4-.6-.8 .3 .2 .6M243.4 770.8l1.1 .2 .9-.5-1.5-.6-.7 .3 .2 .6M223 770.5l.8 0-.8 0M233.4 770.5l.8 0-.8 0M281.7 769.2l-2 .3-3.8-1.7 3.8-1.7 2 .3M190.8 766.5l2.6-.1 1.6-1.3-2.2-1.4-2 .2-1.9 1.2 1.9 1.4M263.9 766.5l2.5-.1 1.9-1.3-1.9-1.2-2-.2-2.2 1.4 1.7 1.4M175.5 766.4l2-.3 3.8 1.7-3.8 1.7-2-.3M202 766.1l1.4 0 1.1-1-1.1-.8-2 .1-.8 1.1 1.4 .6M254.2 766.1l1.6-.1 .9-.9-1.5-.9-1.8 .2-.6 1.1 1.4 .6M211.9 765.5l1.4 .2 .8-.6-1.4-.5-.7 .2-.1 .7M243.2 765.5l1.3 .2 .9-.6-1.5-.5-.7 .9M223 765.1l.8 0-.8 0M233.4 765.1l.8 0-.8 0M281.7 763.9l-2.7 .2-2.6-1.7 3.3-1.4 2 .3M191.2 761.4l2.2-.1 1.9-1.6-2.5-1.5-2 .2-2.4 1.7 2.8 1.3M264.2 761.4l2.2-.1 2.4-1.6-3-1.5-2 .2-1.7 1-.2 .7 2.3 1.3M175.5 761.3l2-.3 3.3 1.4-2.6 1.7-2.7-.2M201.1 760.7l2.3 .2 1.4-1.2-1.4-.9-2 .1-1.3 .8 1 1M253.2 760.7l2.6 .2 1.3-1.2-1.3-.8-2-.1-1.4 .9 .8 1M211.8 760.4l1.5 .3 1.2-1-1.8-.6-1.4 .6 .5 .7M222.9 760.4l1.1 0 .5-.7-1.9-.3-.3 .7 .6 .3M233.2 760.4l1.4-.1 .3-.6-1.8-.3-.4 .7 .5 .3M243 760.4l1.5 .3 1.4-1-2-.6-1.2 .6 .3 .7M281.7 758.4l-2 .3-2.5-1.3 1.8-1.3 2.7 .2M175.5 756.3l2.7-.2 1.8 1.3-2.5 1.3-2-.3M202 756l2.2-.3 1.2-1.4-2-1.2-2.7 .4-1.3 1.2 2.6 1.3M254.1 756l2.4-.3 1.1-.7 .2-.7-2.6-1.3-2 .3-1.5 1.4 2.4 1.3M212.3 755.7l2.3-.4 .6-1-1.9-.9-2 .4-.7 .9 1.7 1M243.6 755.7l2.3-.3 .7-1.1-2.1-.9-1.6 .3-1 1 1.7 1M222.2 755.3l2.4 0 .7-1-1.3-.7-1.4 0-1.1 .7 .7 1M232.6 755.3l2 .2 1-.5 .1-.7-1.1-.7-1.6 .1-1.1 .6 .7 1M187.4 754l-3.3-1.7 1.2-1.3 2.8-.5 3.2 1.5-3.9 2M269.8 754l-3.9-2 3.2-1.5 2.8 .5 1.2 1.3-3.3 1.7M281.7 752.7l-2 .4-1.5-1.1 1.5-.8 2 .4M175.5 751.6l2-.4 1.5 .8-1.5 1.1-2-.4M211.5 750.6l2.5 .2 2.3-1.5-1.6-1.4-2-.5-3.3 1.9 2.1 1.3M222.4 750.6l2.2 0 1.8-1.3-1.8-1.4-2-.2-2.3 1.6 2.1 1.3M232.9 750.6l2.3-.1 1.7-1.2-2.3-1.6-2 .2-1.8 1.4 2.1 1.3M242.8 750.6l2.4 .2 2.6-1.5-1.9-1.4-2-.5-3 1.9 1.9 1.3M196.7 748.6l-2.3-1.7 1.6-1.3 2.1-.4 3.2 1.4-.1 .7-2.5 1.3-2 0M259.1 748.8l-3.1-1.5 .4-1.1 3.4-1 3 1.4-1 1.4-2.7 .8M186.8 748l-1.7-1.1 1-.9 2-.2 1.5 .8-.8 1.1-2 .3M269.1 748l-1.6-1.1 .9-.9 2-.2 1.6 .8-.9 1.2-2 .2M198.7 740.9l.8 1-2.1 .7-1.6-.7 .8-1M210.1 740.9l.6 1-2.7 1.3-2.4-1-.3-.7 .6-.6M220.9 740.9l.7 .6-.4 .7-3.2 1.3-2.9-1.6 .6-1M231.4 740.9l.6 1-3.4 1.9-3.4-1.9 .6-1M241.5 740.9l.6 1-2.9 1.6-3.2-1.3-.4-.7 .7-.6M251.3 740.9l.6 .6-.3 .7-2.4 1-2.7-1.3 .6-1M260.6 740.9l.8 1-1.6 .7-2.1-.7 .8-1" stroke="#13b0d7" stroke-width="1.3" fill="none"/><path d="M185.6 794.8l-.6-.7 .3-.7 2.1-.7 2.4 1-.7 1.1M194.8 794.8l-.5-1.1 2.6-2.3-4.8-2.2-4.7 1.4-2.6-.7-1.2-1.2 2.8-2.4-2.9-1.8-2-.7-4 1.4-2-.2M204.3 794.8l-.8-1.1 2.4-1.6 .2-.7-3.4-1.5-4.4 1.5 3.3 2.3-.9 1.1M213.7 794.8l-1.5 0M245 794.8l-1.5 0M256.5 794.8l-.9-1.1 3.3-2.3-4.4-1.5-3.4 1.5 .2 .7 2.4 1.6-.8 1.1M268.1 794.8l-.7-1.1 2.4-1 2.1 .7 .3 .7-.6 .7M176.8 794.1M280.4 794.1M211.9 793.1l2.1 0 1.7-1 .2-.7-1.9-1.1-2.7 .2-1.5 1.2 2.1 1.4M223.2 793.1l2.1-.6 .7-1.1-2-1.1-2.7 .6-.6 .5 .2 .7 2.3 1M233.7 793.1l2.2-.7 .6-1-1.9-1-2.7 .4-.7 .6 .1 .7 2.4 1M243.1 793.1l2.1 0 1.9-1 .2-.7-2.1-1.1-2.7 .2-1.2 1.2 1.8 1.4M281.7 789.6l-2.7 .2-1.4-1.1 2.1-1.2 2 .3M191.2 788l2.2-.1 1.8-1.2 0-.7-3.1-1.3-3.1 1-.7 .6 .2 .4 2.7 1.3M264.2 788l1.6 .1 3.1-1.8-2.5-1.4-2.6 0-1.9 1.4 2.3 1.7M175.5 787.8l2-.3 2.1 1.2-1.4 1.1-2.7-.2M201.4 787.3l2 .2 1.5-1.2-1.5-1-2 0-1.3 1 1.3 1M253.5 787.3l2.3 .1 1.3-1.1-1.3-1-2 0-1.5 1 1.2 1M212 787l1.3 .2 1.3-.9-.7-.6-1.9 0-.7 .6 .7 .7M243.3 787l1.9 0 .7-.7-.7-.6-1.9 0-.7 .6 .7 .7M222.4 786.7l1.6 .2 .6-.6-1.3-.6-.9 .3 0 .7M232.9 786.7l1 .2 1.1-.6-1.8-.5-.6 .5 .3 .4M281.7 785l-2 .2-4-1.4-2 .7-2.9 1.8 2.8 2.4-1.2 1.2-2.6 .7-4.7-1.4-4.8 2.2 2.6 2.3-.5 1.1M190.7 782l2.1 .2 1.6-1.3-1-.8-2-.2-1.7 1 1 1.1M263.7 782l2.1 .2 1.7-1.3-1.1-.8-2-.2-1.6 1 .9 1.1M175.5 782l2-.5 4.6 1.7 2.3-1.2 .8-1.1-3.1-1.7-4.6 1.4-2-.4M202.3 781.6l1.4-.7-2-.3-.3 .7 .9 .3M254.4 781.6l1.5-.7-2.1-.3-.2 .7 .8 .3M281.7 780.2l-2 .4-4.6-1.4-3.1 1.7 .8 1.1 2.3 1.2 4.6-1.7 2 .5M181 777.2l2.5-.4 1-1.2-2.4-1.3-2.8 .6-1 1 2.7 1.3M274.8 777.2l2.3-.2 1.7-1.4-2.4-1.3-2.3 .2-1.4 1.4 2.1 1.3M191.9 776.6l1.5-.4 .3-.6-1.6-.7-1.2 .3-.4 .7 1.4 .7M264.9 776.6l1.5-.4 .3-.6-1.6-.7-1.2 .3-.4 .7 1.4 .7M175.5 776.1l0-.7M281.7 775.4l0 .7M180.2 771.5l2.6 .1 1.3-.8 .1-.6-2.1-1.1-2 .3-1.3 1.1 1.4 1M274.1 771.5l2.3 .2 2-1.2-1.3-1.1-2-.3-2.1 1.1 .1 .6 1 .7M191.2 770.8l1.6 .1 .5-.4-1.2-.7-1 .4 .1 .6M264.2 770.8l.9 .3 1.2-.6-1.2-.7-1 .4 .1 .6M181.1 766.5l2.4-.4 .7-.6-.1-.7-2-1-2.6 .6-.6 1.1 2.2 1M274.9 766.5l2.2-.3 1.3-1.1-2-1.2-2 .1-1.5 1.1 2 1.4M191.1 765.5l1 .3 1.2-.7-1.2-.5-.9 .2-.1 .7M264.1 765.5l1 .3 1.2-.7-1.2-.5-.9 .2-.1 .7M180.1 761.1l2.7 .1 1.7-1.5-1.7-1.2-2-.1-2.5 1.3 1.8 1.4M274.1 761.1l2.3 .2 2.1-.9 .4-.7-2.5-1.3-2 .1-1.7 1.2 1.4 1.4M190.9 760.4l1.9 .2 .9-.9-.9-.6-1.4 0-.9 .6 .4 .7M263.9 760.4l1.9 .2 .9-.9-2.3-.6-.9 .6 .4 .7M175.5 760.3l0-.8M281.7 759.5l0 .8M191.4 755.7l2-.2 .9-1.2-1.5-.9-2.1 .3-1 1 1.7 1M264.4 755.7l2.4-.4 .7-1-1.7-.9-2 .2-1 1.1 1.6 1M175.5 755.5l2-.5 4.6 1.4 3.1-1.7-.8-1-2.3-1.2-4.6 1.6-2-.4M201.7 755l2-.3-1.7-.7-.6 .5 .3 .5M253.8 755l2.1-.3-1.4-.7-.9 .3 .2 .7M281.7 753.7l-2 .4-4.6-1.6-2.3 1.2-.8 1 3.1 1.7 4.6-1.4 2 .5M175.5 750.7l2-.3 4 1.4 2-.7 2.9-1.8-2.8-2.4 1.2-1.1 2.6-.8 4.7 1.4 4.8-2.2-2.6-2.3 .5-1M190.6 750.6l2.8 .1 1.9-1.4-1.9-1.6-2-.2-3.1 1.8 2.3 1.3M263.6 750.6l2.8 .1 2.5-1.4-2.5-1.6-2-.2-2.5 1.8 1.7 1.3M201.5 750.3l1.9 .1 1.5-1.1-1.5-1.1-2 .1-1.3 1 1.4 1M253.6 750.3l2.2 0 1.3-1-1.3-1-2-.1-1.5 1.1 1.3 1M212 750l1.9 0 .7-.7-1.3-.8-1.3 .1-.7 .7 .7 .7M243.3 750l1.9 0 .7-.7-.7-.7-1.3-.1-1.3 .8 .7 .7M222.4 749.6l1.6 .2 .6-.5-1.3-.6-.9 .2 0 .7M232.8 749.6l1.1 .3 1.1-.6-1.8-.5-.6 .5 .2 .3M281.7 747.8l-2 .3-2.1-1.2 1.4-1.1 2.7 .2M175.5 746l2.7-.2 1.4 1.1-2.1 1.2-2-.3M211.7 745.2l2.3 .1 1.9-1.4-1.9-1.4-2 0-2.2 1.4 1.9 1.3M222.6 745.2l2-.1 1.5-1.2-2.1-1.3-2 .3-1.3 1.3 1.9 1M233.1 745.2l2.1-.2 1.3-1.1-1.9-1.3-2 .2-1.3 .8-.1 .6 1.9 1M243 745.2l2.2 .1 2.2-1.4-2.2-1.4-2 0-1.9 1.4 1.7 1.3M176.8 741.7M280.4 741.7M189.1 740.9l.7 1-2.4 1.1-2.1-.8-.3-.7 .6-.6M200.7 740.9l.9 1-3.3 2.3 4.4 1.6 3.4-1.6-.2-.6-2.4-1.7 .8-1M212.2 740.9l1.5 0M243.5 740.9l1.5 0M252.9 740.9l.8 1-2.4 1.7-.2 .6 3.4 1.6 4.4-1.6-3.3-2.3 .9-1M262.4 740.9l.5 1-2.6 2.3 4.8 2.2 4.7-1.4 2.6 .8 1.2 1.1-2.8 2.4 2.9 1.8 2 .7 4-1.4 2 .3M271.6 740.9l.6 .6-.3 .7-2.1 .8-2.4-1.1 .7-1" stroke="#35c799" stroke-width="1.3" fill="none"/><path d="M184.1 794.8l-.6-1.1 2.4-2-1.6-1.3-2.8-.9-4 1.2-2-.3M192.9 794.8l-1.6 0M265.9 794.8l-1.6 0M278.2 794.8l-.8-.7 1-1 2-.5 1.3 .4M191 793.1l2.4-.1 1.4-.9 .2-.7-2.2-1.2-2.7 .4-1.3 1.1 2.2 1.4M264 793.1l2.4-.1 1.7-.9 .2-.7-2.5-1.2-2 .2-1.6 1.3 1.8 1.4M175.5 793l1.3-.4 2 .5 1 1-.8 .7M201.3 792.4l2.1 .2 1.1-1.2-1.2-.7-1.9 .1-.9 .9 .8 .7M253.4 792.4l2.4 .1 .9-1.1-1.3-.7-1.6 0-1.1 .7 .7 1M212.2 792.1l1.5 0 .4-.7-1.5-.3-.7 .3 .3 .7M243.5 792.1l1.5 0 .3-.7-1.5-.3-.7 .3 .4 .7M223 791.7l.9 0-.6-.3-.3 .3M233.3 791.7l.9 0-.3-.3-.6 .3M281.7 790.4l-2 .3-4-1.2-2.6 .8-1.8 1.4 2.4 2-.6 1.1M180.4 787.7l2.4 .1 1.7-1.1 0-.7-2.4-1.1-2.4 .4-1.4 1 2.1 1.4M274.2 787.7l2.2 .2 2.5-1.6-2.4-1.3-2.1 0-1.8 1.3 1.6 1.4M191.2 787l1.6 .1 .9-.8-.9-.7-1.4 0-1 .7 .8 .7M264.2 787l1.6 .1 1-.8-.8-.6-1.6-.1-.9 .7 .7 .7M175.5 786.7l0-.8M281.7 785.9l0 .8M180.8 782l2-.1 .8-1-1.5-.8-1.7 .2-.8 .6 1.2 1.1M274.7 782l1.7 0 1.2-1.1-1.2-.8-2 .1-.8 .7 1.1 1.1M181 776.2l1.4 0 .4-.6-1.7-.4-.6 .4 .5 .6M274.8 776.2l1.4 0 .5-.6-1.8-.4-.5 .4 .4 .6M181.2 770.5l1 0-1 0M275 770.5l1 0-1 0M181.2 765.1l1 0-1 0M275 765.1l1 0-1 0M181.1 760.4l1.2 0 .6-.7-1.9-.3-.5 .7 .6 .3M274.9 760.4l1.5-.1 .3-.6-1.9-.3-.4 .7 .5 .3M180.4 755.3l2.4 .1 .8-1.1-1.5-.7-1.3 .1-1.2 1 .8 .6M274.3 755.3l2.1 .2 1-.5 .1-.7-1.1-.6-1.7 0-1.1 .6 .7 1M180.7 750.6l2.8-.3 1-.7 0-.7-2.4-1.2-2 .3-1.8 1.3 2.4 1.3M274.5 750.6l2.6-.1 1.8-1.2-2.5-1.5-2 .1-1.8 1.4 1.9 1.3M191.2 750l1.6 0 .9-.7-.9-.8-1.4 0-1 .8 .8 .7M264.2 750l1.6 0 1-.7-1-.8-1.4 0-.9 .8 .7 .7M175.5 749.7l0-.8M281.7 748.9l0 .8M190.8 745.2l2.6 0 1.6-1.3-1.6-1.3-2-.2-2.6 1.5 2 1.3M263.8 745.2l2.6 0 2-1.3-2-1.3-2-.2-2.2 1.5 1.6 1.3M175.5 745.2l2-.3 4 1.2 2.8-.9 1.6-1.3-2.4-2 .6-1M201.8 744.9l1.6 0 1.1-1-1.1-.8-2 .1-.9 1 1.3 .7M253.9 744.9l1.9-.1 .9-.9-1.5-.9-1.4 .1-1.1 .8 1.2 1M212.6 744.6l1.5-.7-1.9-.3-.3 .6 .7 .4M243.8 744.6l1.6-.7-1.9-.3-.4 .6 .7 .4M223.1 744.2l.8-.3-.9 0 .1 .3M233.6 744.2l.6-.3-.9 0 .3 .3M281.7 742.7l-1.3 .4-2-.6-1-1 .8-.6M179 740.9l.8 .6-1 1-2 .6-1.3-.4M191.3 740.9l1.6 0M264.3 740.9l1.6 0M273.1 740.9l.6 1-2.4 2 1.8 1.5 2.6 .7 4-1.2 2 .3" stroke="#a7c73c" stroke-width="1.3" fill="none"/><path d="M181.4 793.1l2.1-.5 .7-1.2-2.1-1.1-2.9 .8-.2 1 2.4 1M275.2 793.1l2.5-.7 .7-1-2.1-1-2.6 .3-.7 .7 .1 .7 2.1 1M191.3 792.1l1.5 0 .4-.7-1.8-.3-.5 .6 .4 .4M264.3 792.1l1.5 0 .4-.7-1.8-.3-.5 .6 .4 .4M180.7 786.7l1.4 .2 .8-.6-1.4-.6-.8 .3 0 .7M274.5 786.7l1.2 .2 1-.6-1.6-.5-.7 .3 .1 .6M180.7 749.6l1.4 .2 .8-.5-1.4-.6-.8 .2 0 .7M274.5 749.6l1.2 .3 1-.6-1.6-.6-.7 .4 .1 .5M180.9 745.2l2.5-.3 .9-1-2.2-1.3-2 .3-1.3 1.3 2.1 1M274.8 745.2l2.3-.2 1.3-1.1-2-1.3-2 .1-1.3 .9-.1 .6 1.8 1M191.7 744.6l1.1-.1 .5-.6-1.9-.4-.4 .7 .7 .4M264.7 744.6l1.1-.1 .5-.6-1.9-.4-.4 .7 .7 .4" stroke="#fec13a" stroke-width="1.3" fill="none"/><path d="M181.2 791.7l1 0-.7-.4-.3 .4M275 791.7l1 0-.3-.4-.7 .4M181.3 744.2l.9-.3-.7-.2-.2 .5M275.1 744.2l.9-.3-.9-.1 0 .4" stroke="#f8f818" stroke-width="1.3" fill="none"/></g><path d="M176.74 794.76v-1.0M176.74 740.86v1.0M228.6 794.76v-1.0M228.6 740.86v1.0M280.46 794.76v-1.0M280.46 740.86v1.0M175.5 794.13h1.0M281.7 794.13h-1.0M175.5 767.81h1.0M281.7 767.81h-1.0M175.5 741.49h1.0M281.7 741.49h-1.0" stroke="#262626" stroke-width="0.6" fill="none"/><rect x="175.5" y="740.86" width="106.2" height="53.9" fill="none" stroke="#262626" stroke-width="0.7"/><text x="176.74" y="804.56" font-size="7.6" text-anchor="middle" fill="#262626">-5</text><text x="228.6" y="804.56" font-size="7.6" text-anchor="middle" fill="#262626">0</text><text x="280.46" y="804.56" font-size="7.6" text-anchor="middle" fill="#262626">5</text><text x="174" y="797.14" font-size="7.6" text-anchor="end" fill="#262626">-5</text><text x="174" y="770.82" font-size="7.6" text-anchor="end" fill="#262626">0</text><text x="174" y="744.5" font-size="7.6" text-anchor="end" fill="#262626">5</text><text transform="translate(228.6 739.66) scale(1 1.12)" font-size="8.55" text-anchor="middle" font-weight="bold" fill="#000">Search history</text><path d="M176.4 759.2h0m4.1 12h0m.8-20.1h0m4 0h0m.8 23.4h0m3.2-24.2h0m3.3-2.4h0m1.6-5.7h0m0 42.7h0m1.6-16.1h0m.5 7.9h0m.3-32h0m0 8h0m.8 6.5h0m0 12.8h0m.4-7.2h0m.4 6.4h0m1.6-16.1h0m0 11.1h0m.8-3h0m3.5 2.9h0m.5-22.2h0m0 41h0m1-14.4h0m1.1-7.3h0m.7-.6h0m.4 7h0m0 3.3h0m0 2.8h0m.4-13h0m.5-1.5h0m0 25.3h0m.3-23.7h0m.2-6.5h0m0 6.5h0m.2 6h0m.1-1.7h0m0 25.1h0m.2-27.6h0m.3 1.7h0m.2-5.4h0m.2 6.2h0m0 16.2h0m.2-4.9h0m.1-8.6h0m.4-24.3h0m0 14.1h0m0 18.6h0m.3-9.5h0m.1-8.8h0m.1 10h0m.8 8h0m.1-18.7h0m.7 .7h0m.1 8.4h0m.3 3.1h0m.1-2.7h0m.1-5h0m.1 15.3h0m.2-7.8h0m.2-9.8h0m0 .4h0m0 3.8h0m.4 .4h0m.6 8.7h0m.2-7.6h0m.4-5.2h0m0 32.7h0m.2-15.6h0m.3-20h0m.1 14.4h0m.2 17.2h0m.4-31.6h0m.1 10.2h0m0 3.5h0m.6 1.9h0m.2-6.2h0m0 11.7h0m.2 7.5h0m.1-43.7h0m0 39.4h0m.1-13.6h0m.3 16h0m.1-18.7h0m0 8.8h0m.1-10.1h0m0 7.9h0m.6-15h0m.1 28.3h0m.4-15.3h0m.1-.8h0m.2-11.7h0m0 1.1h0m.7-3.8h0m1.1 25.3h0m.3-6.2h0m.1 4.4h0m.2-20.1h0m.5 21.9h0m1.3-13.6h0m0 1.7h0m.1-13.4h0m.2-10.9h0m0 25.5h0m.3 3.5h0m0 4.8h0m.4-15.7h0m.3-9.6h0m.1 14.5h0m.1 16.9h0m.3-22.5h0m0 3.7h0m.2 7.6h0m.1-7.8h0m.1 1.1h0m.6-10.4h0m.2 8.6h0m.3-5.3h0m0 17.8h0m.4-20.5h0m0 12h0m0 6.7h0m.2-14.9h0m.1-11.4h0m0 10.4h0m0 4.4h0m.1 12.7h0m.1-10.5h0m0 10.8h0m.2-12.3h0m.6-2.8h0m0 9.9h0m.3 2.6h0m.3-1.5h0m.2 3.1h0m.1-33.8h0m.4 42.5h0m.2-14h0m.1 1.6h0m.3-8.5h0m.1 9.4h0m.1 4.3h0m.4-4.8h0m0 4.7h0m0 .4h0m.4-6.8h0m.2-.5h0m.2-14.1h0m.3 11.3h0m.2 3.9h0m.3-30.3h0m.1 36h0m.1-13.9h0m.4 10.8h0m.1-7.7h0m.1 15.9h0m.6-22.9h0m.1 3.1h0m.1-3.1h0m.2-2.9h0m0 18h0m.2 1h0m.4-9h0m.1-7.7h0m0 1.2h0m.5 4.1h0m.2-1.1h0m.3-2.7h0m1 11.2h0m.4-7.7h0m.3-5h0m0 4.1h0m.3 8.3h0m0 6.5h0m.2-33.2h0m0 8.8h0m0 32.2h0m.1-27.1h0m.2 14.6h0m.1-6.7h0m.2-16.6h0m.3 28.6h0m.2-18.3h0m0 5.4h0m.1 3.2h0m.1 8.9h0m.1-15.8h0m0 13.1h0m.2-5.6h0m.1-9.7h0m0 10.3h0m.7-6.6h0m0 19.1h0m.2-15.5h0m.8 7.9h0m.1-14.5h0m0 .9h0m0 5.4h0m.4 8.8h0m.3-3.1h0m0 4.8h0m.6-34.9h0m0 12h0m1 12.9h0m.1-7.2h0m0 7.3h0m.8-2.7h0m.3 10.2h0m.1-1h0m.6 .7h0m.2-5.4h0m.1-27.7h0m.8 6.5h0m0 20.2h0m.6 3.4h0m.9 6.6h0m.9-23.8h0m1.2 10.1h0m.7 8.1h0m1.4-11.7h0m3.2 7.2h0m2.4 4.1h0m.8-32.3h0m4 7.3h0m2.4 19.3h0m0 14.5h0m.9-25.8h0m2.4 13.7h0m.8-20.9h0m0 30.6h0m3.2-22.6h0m5.6 4.9h0m1.6 5.6h0m0 6.5h0" stroke="#ff0000" stroke-width="5.6" stroke-linecap="round" fill="none"/><circle cx="228.6" cy="767.81" r="4.0" fill="#00bb00"/><clipPath id="ctr8"><rect x="325.8" y="739.36" width="109.2" height="56.9"/></clipPath><g clip-path="url(#ctr8)"><path d="M327.83 794.76L330.49 794.76L331.02 740.86L332.08 741.03L333.67 742.72L433.5 742.72" stroke="#0072bd" stroke-width="2.4" fill="none" stroke-linejoin="round" stroke-linecap="butt"/></g><path d="M327.3 794.76v-1.0M327.3 740.86v1.0M353.85 794.76v-1.0M353.85 740.86v1.0M380.4 794.76v-1.0M380.4 740.86v1.0M406.95 794.76v-1.0M406.95 740.86v1.0M433.5 794.76v-1.0M433.5 740.86v1.0M327.3 793.41h1.0M433.5 793.41h-1.0M327.3 776.51h1.0M433.5 776.51h-1.0M327.3 759.62h1.0M433.5 759.62h-1.0M327.3 742.72h1.0M433.5 742.72h-1.0" stroke="#262626" stroke-width="0.6" fill="none"/><rect x="327.3" y="740.86" width="106.2" height="53.9" fill="none" stroke="#262626" stroke-width="0.7"/><text x="327.3" y="804.56" font-size="7.6" text-anchor="middle" fill="#262626">0</text><text x="353.85" y="804.56" font-size="7.6" text-anchor="middle" fill="#262626">50</text><text x="380.4" y="804.56" font-size="7.6" text-anchor="middle" fill="#262626">100</text><text x="406.95" y="804.56" font-size="7.6" text-anchor="middle" fill="#262626">150</text><text x="433.5" y="804.56" font-size="7.6" text-anchor="middle" fill="#262626">200</text><text x="325.8" y="796.42" font-size="7.6" text-anchor="end" fill="#262626">-3</text><text x="325.8" y="779.52" font-size="7.6" text-anchor="end" fill="#262626">-2</text><text x="325.8" y="762.62" font-size="7.6" text-anchor="end" fill="#262626">-1</text><text x="325.8" y="745.73" font-size="7.6" text-anchor="end" fill="#262626">0</text><text transform="translate(380.4 739.66) scale(1 1.12)" font-size="8.55" text-anchor="middle" font-weight="bold" fill="#000">Trajectory curve</text><clipPath id="caf8"><rect x="477.8" y="739.36" width="108.4" height="56.9"/></clipPath><g clip-path="url(#caf8)"><path d="M479.3 745.53L493.09 756.31L501.15 763.32L506.88 768.53L512.48 771.22L519.38 777.69L522.79 778.95L525.11 781.28L531.51 786.14L538.49 788.65L545.59 792.42L553.94 794.4L560.75 794.76L584.7 794.76" stroke="#0072bd" stroke-width="2.4" fill="none" stroke-linejoin="round" stroke-linecap="butt"/></g><path d="M479.3 794.76v-1.0M479.3 740.86v1.0M525.11 794.76v-1.0M525.11 740.86v1.0M584.7 794.76v-1.0M584.7 740.86v1.0M479.3 794.76h1.0M584.7 794.76h-1.0M479.3 776.79h1.0M584.7 776.79h-1.0M479.3 758.83h1.0M584.7 758.83h-1.0M479.3 740.86h1.0M584.7 740.86h-1.0" stroke="#262626" stroke-width="0.6" fill="none"/><rect x="479.3" y="740.86" width="105.4" height="53.9" fill="none" stroke="#262626" stroke-width="0.7"/><text x="479.3" y="804.56" font-size="7.6" text-anchor="middle" fill="#262626">1</text><text x="525.11" y="804.56" font-size="7.6" text-anchor="middle" fill="#262626">10</text><text x="584.7" y="804.56" font-size="7.6" text-anchor="middle" fill="#262626">200</text><text x="477.8" y="797.77" font-size="7.6" text-anchor="end" fill="#262626">0</text><text x="477.8" y="779.8" font-size="7.6" text-anchor="end" fill="#262626">10</text><text x="477.8" y="761.83" font-size="7.6" text-anchor="end" fill="#262626">20</text><text x="477.8" y="743.87" font-size="7.6" text-anchor="end" fill="#262626">30</text><text transform="translate(532 739.66) scale(1 1.12)" font-size="8.55" text-anchor="middle" font-weight="bold" fill="#000">Average fitness</text><clipPath id="ccv8"><rect x="629.8" y="739.36" width="108.4" height="56.9"/></clipPath><g clip-path="url(#ccv8)"><path d="M631.3 742.3L645.09 782.9L653.15 782.9L658.88 790.81L672.67 791.17L675.01 791.89L677.11 792.6L680.73 794.58L736.7 794.76" stroke="#0072bd" stroke-width="2.4" fill="none" stroke-linejoin="round" stroke-linecap="butt"/></g><path d="M631.3 794.76v-1.0M631.3 740.86v1.0M677.11 794.76v-1.0M677.11 740.86v1.0M736.7 794.76v-1.0M736.7 740.86v1.0M631.3 794.76h1.0M736.7 794.76h-1.0M631.3 776.79h1.0M736.7 776.79h-1.0M631.3 758.83h1.0M736.7 758.83h-1.0M631.3 740.86h1.0M736.7 740.86h-1.0" stroke="#262626" stroke-width="0.6" fill="none"/><rect x="631.3" y="740.86" width="105.4" height="53.9" fill="none" stroke="#262626" stroke-width="0.7"/><text x="631.3" y="804.56" font-size="7.6" text-anchor="middle" fill="#262626">1</text><text x="677.11" y="804.56" font-size="7.6" text-anchor="middle" fill="#262626">10</text><text x="736.7" y="804.56" font-size="7.6" text-anchor="middle" fill="#262626">200</text><text x="629.8" y="797.77" font-size="7.6" text-anchor="end" fill="#262626">0</text><text x="629.8" y="779.8" font-size="7.6" text-anchor="end" fill="#262626">5</text><text x="629.8" y="761.83" font-size="7.6" text-anchor="end" fill="#262626">10</text><text x="629.8" y="743.87" font-size="7.6" text-anchor="end" fill="#262626">15</text><text transform="translate(684 739.66) scale(1 1.12)" font-size="8.55" text-anchor="middle" font-weight="bold" fill="#000">Convergence curve</text><text transform="translate(78.4 828.73) scale(1 1.13)" font-size="14.3" text-anchor="middle" font-weight="bold" fill="#000">F10</text><path d="M23.7 841.93L83.6 831.83L130 845.33M83.6 861.53L83.6 831.83M81.33 883.24L34.93 869.74L34.93 840.04M100.05 880.08L53.65 866.58L53.65 836.88M118.77 876.92L72.37 863.42L72.37 833.72M61.4 882.6L121.3 872.5L121.3 842.8M46.9 878.38L106.8 868.28L106.8 838.58M32.4 874.16L92.3 864.06L92.3 834.36M23.7 856.76L83.6 846.66L130 860.16" stroke="#dcdcdc" stroke-width="0.5" fill="none"/><path d="M70.1 885.1l59.9-10.1-46.4-13.5-57.1 9.7-2.8 .4 46.4 13.5z" fill="#f6f020" fill-rule="evenodd"/><path d="M88.4 879.4l6.4-.8 5.9-1.4 3.6-1.5 1.8-1.6 .1-1.1-.5-.9-2.5-1.6-4.6-1.5-5.5-1.1-7.2-.8-7.8-.3-7.1 .1-7.1 .5-6.9 1-4.7 1.2-3.4 1.6-1.1 1-.3 .7 0 .7 .5 .9 2.5 1.6 4.6 1.6 5.5 1 7.2 .8 6.2 .3 7.4 0 7-.4z" fill="#f9d82c" fill-rule="evenodd"/><path d="M85.9 877.5l4.5-.7 3.9-1 2.2-1.1 .9-1.2-.6-1.2-1.8-1-2.6-.9-4.6-.9-10.4-.7-10.1 .4-4 .6-3.9 1-2.2 1.1-.9 1.2 .6 1.3 1.8 1 2.6 .9 4.6 .9 10.4 .7 9.6-.4z" fill="#fec13a" fill-rule="evenodd"/><path d="M78.3 875.1l4.3-.5 1.9-.8 .3-.3-.1-.5-2.3-.9-4.1-.5-4.2 .1-3.8 .6-1.4 .9 .5 .7 1.9 .7 3.4 .4 3.6 .1z" fill="#58cc79" fill-rule="evenodd"/><path d="M79.1 874.3l1.6-.3 1-.6-.4-.5-1.5-.4-4.9-.2-1.9 .4-1 .5 .4 .5 1.5 .5 5.2 .1z" fill="#12beb9" fill-rule="evenodd"/><path d="M77.6 873.9l1.6-.3 .2-.4-1.5-.4-2.6 .1-1 .5 1.5 .4 1.8 .1z" fill="#259ce7" fill-rule="evenodd"/><path d="M76 873.5l1.5 0 .2-.3-1.5-.1-.2 .4z" fill="#4855f6" fill-rule="evenodd"/><g class="sf"><linearGradient id="g9_31" href="#pb" gradientUnits="userSpaceOnUse" x1="24.42" y1="871.84" x2="19.56" y2="842.96"/><path fill="url(#g9_31)" stroke="url(#g9_31)" d="M25.2 842.4l29.9-4.7 30-5.4-1.5-.5-30 5.4-29.9 4.7z"/><linearGradient id="g9_30" href="#pb" gradientUnits="userSpaceOnUse" x1="25.87" y1="872.26" x2="21.01" y2="843.38"/><path fill="url(#g9_30)" stroke="url(#g9_30)" d="M26.6 842.8l30-4.6 29.9-5.5-1.4-.4-30 5.4-29.9 4.7z"/><linearGradient id="g9_29" href="#pb" gradientUnits="userSpaceOnUse" x1="27.32" y1="872.68" x2="22.46" y2="843.81"/><path fill="url(#g9_29)" stroke="url(#g9_29)" d="M28 843.2l30-4.4 30-5.7-1.5-.4-29.9 5.5-30 4.6z"/><linearGradient id="g9_28" href="#pb" gradientUnits="userSpaceOnUse" x1="28.77" y1="873.11" x2="23.91" y2="844.23"/><path fill="url(#g9_28)" stroke="url(#g9_28)" d="M29.5 843.7l29.9-4.2 30-5.9-1.4-.5-30 5.7-30 4.4z"/><linearGradient id="g9_27" href="#pb" gradientUnits="userSpaceOnUse" x1="30.22" y1="873.53" x2="25.36" y2="844.65"/><path fill="url(#g9_27)" stroke="url(#g9_27)" d="M30.9 844.1l9.4-1.3 20.6-2.5 20.6-4.5 9.3-1.8-1.4-.4-30 5.9-29.9 4.2z"/><linearGradient id="g9_26" href="#pb" gradientUnits="userSpaceOnUse" x1="31.67" y1="873.95" x2="26.81" y2="845.07"/><path fill="url(#g9_26)" stroke="url(#g9_26)" d="M32.4 844.6l11.2-1.5 13.1-1.2 5.7-.8 5.6-1.1 13.1-3.2 11.2-2.3-1.5-.5-9.3 1.8-20.6 4.5-20.6 2.5-9.4 1.3z"/><linearGradient id="g9_25" href="#pb" gradientUnits="userSpaceOnUse" x1="33.12" y1="874.37" x2="28.26" y2="845.49"/><path fill="url(#g9_25)" stroke="url(#g9_25)" d="M33.8 845l11.3-1.4 13.1-.8 5.6-.7 5.6-1.2 13.1-3.6 11.3-2.4-1.5-.4-11.2 2.3-13.1 3.2-5.6 1.1-5.7 .8-13.1 1.2-11.2 1.5z"/><linearGradient id="g9_24" href="#pb" gradientUnits="userSpaceOnUse" x1="34.57" y1="874.79" x2="29.71" y2="845.92"/><path fill="url(#g9_24)" stroke="url(#g9_24)" d="M35.3 845.4l11.2-1.2 15-.5 3.7-.4 3.8-.8 15-4.7 11.2-2.5-1.4-.4-11.3 2.4-13.1 3.6-5.6 1.2-5.6 .7-13.1 .8-11.3 1.4z"/><linearGradient id="g9_23" href="#pb" gradientUnits="userSpaceOnUse" x1="36.02" y1="875.22" x2="31.16" y2="846.34"/><path fill="url(#g9_23)" stroke="url(#g9_23)" d="M36.7 845.9l7.5-.9 5.7-.3 3.7-.1 9.4 .5 3.7-.4 3.7-.9 13.1-4.8 5.7-1.6 7.4-1.6-1.4-.5-11.2 2.5-15 4.7-3.8 .8-3.7 .4-15 .5-11.2 1.2z"/><linearGradient id="g9_22" href="#pb" gradientUnits="userSpaceOnUse" x1="37.47" y1="875.64" x2="32.61" y2="846.76"/><path fill="url(#g9_22)" stroke="url(#g9_22)" d="M38.2 846.3l7.5-.8 5.6-.2 5.6 .3 7.5 1.1 3.8-.2 3.7-1.1 7.5-3.5 5.6-2.3 5.6-1.7 7.5-1.7-1.5-.4-7.4 1.6-5.7 1.6-13.1 4.8-3.7 .9-3.7 .4-9.4-.5-3.7 .1-5.7 .3-7.5 .9z"/><linearGradient id="g9_21" href="#pb" gradientUnits="userSpaceOnUse" x1="38.92" y1="876.06" x2="34.06" y2="847.18"/><path fill="url(#g9_21)" stroke="url(#g9_21)" d="M39.6 846.8l7.5-.8 5.7-.1 5.6 .7 7.5 2 1.8 .2 1.9-.1 1.9-.5 1.8-.9 7.5-4.5 5.6-2.6 5.7-1.8 7.5-1.7-1.5-.5-7.5 1.7-5.6 1.7-5.6 2.3-7.5 3.5-3.7 1.1-3.8 .2-7.5-1.1-5.6-.3-5.6 .2-7.5 .8z"/><linearGradient id="g9_20" href="#pb" gradientUnits="userSpaceOnUse" x1="40.38" y1="876.48" x2="35.51" y2="847.60"/><path fill="url(#g9_20)" stroke="url(#g9_20)" d="M41.1 847.2l5.6-.6 3.8-.1 5.6 .3 3.7 .9 1.9 .6 5.6 2.6 1.9 .6 1.8 0 1.9-.7 1.9-1.1 5.6-4.5 1.9-1.3 3.7-2.2 5.6-2.2 3.8-1.1 5.6-1.3-1.4-.4-7.5 1.7-5.7 1.8-5.6 2.6-7.5 4.5-1.8 .9-1.9 .5-1.9 .1-1.8-.2-7.5-2-5.6-.7-5.7 .1-7.5 .8z"/><linearGradient id="g9_19" href="#pb" gradientUnits="userSpaceOnUse" x1="41.82" y1="876.90" x2="36.96" y2="848.02"/><path fill="url(#g9_19)" stroke="url(#g9_19)" d="M42.6 847.7l5.6-.6 3.7-.1 3.8 .2 1.8 .3 3.8 1.2 1.8 .9 1.9 1.2 3.8 2.9 1.8 1.1 1.9 .2 1.9-.8 1.8-1.8 5.7-5.9 1.8-1.6 3.8-2.5 1.8-.9 3.8-1.5 3.7-1.1 5.6-1.3-1.4-.5-5.6 1.3-3.8 1.1-5.6 2.2-3.7 2.2-1.9 1.3-5.6 4.5-1.9 1.1-1.9 .7-1.8 0-1.9-.6-5.6-2.6-1.9-.6-3.7-.9-5.6-.3-3.8 .1-5.6 .6z"/><linearGradient id="g9_18" href="#pb" gradientUnits="userSpaceOnUse" x1="43.27" y1="877.33" x2="38.41" y2="848.45"/><path fill="url(#g9_18)" stroke="url(#g9_18)" d="M44 848.1l5.6-.5 3.8-.1 3.7 .3 3.7 .9 1.9 .9 1.9 1.2 1.9 1.6 5.6 6.5 1.9 .7 1.8-1.4 5.6-8.3 1.9-2.3 1.9-1.8 1.9-1.5 3.7-2.2 3.7-1.6 3.8-1.1 5.6-1.4-1.5-.4-5.6 1.3-3.7 1.1-3.8 1.5-1.8 .9-3.8 2.5-1.8 1.6-5.7 5.9-1.8 1.8-1.9 .8-1.9-.2-1.8-1.1-3.8-2.9-1.9-1.2-1.8-.9-3.8-1.2-1.8-.3-3.8-.2-3.7 .1-5.6 .6z"/><linearGradient id="g9_17" href="#pb" gradientUnits="userSpaceOnUse" x1="44.72" y1="877.75" x2="39.86" y2="848.87"/><path fill="url(#g9_17)" stroke="url(#g9_17)" d="M45.4 848.5l5.7-.5 5.6 0 3.7 .7 1.9 .7 1.9 1 1.8 1.4 1.9 1.9 1.9 2.6 3.7 7.1 1.9 2.2 1.9-2.8 3.7-8.4 1.9-3.2 1.9-2.6 1.8-2 1.9-1.6 1.9-1.3 3.7-2 5.6-1.9 5.7-1.4-1.5-.4-5.6 1.4-3.8 1.1-3.7 1.6-3.7 2.2-1.9 1.5-1.9 1.8-1.9 2.3-5.6 8.3-1.8 1.4-1.9-.7-5.6-6.5-1.9-1.6-1.9-1.2-1.9-.9-3.7-.9-3.7-.3-3.8 .1-5.6 .5z"/><linearGradient id="g9_16" href="#pb" gradientUnits="userSpaceOnUse" x1="46.17" y1="878.17" x2="41.31" y2="849.29"/><path fill="url(#g9_16)" stroke="url(#g9_16)" d="M46.9 849l7.5-.6 3.7 .1 1.9 .3 3.7 1.1 1.9 1 1.9 1.5 1.9 2 1.8 2.9 1.9 3.8 1.9 5.2 1.8 7 1.9-7.6 1.9-5.9 1.9-4.4 1.8-3.5 1.9-2.7 1.9-2.1 1.9-1.6 3.7-2.4 1.9-.9 3.7-1.4 7.5-1.9-1.4-.5-5.7 1.4-5.6 1.9-3.7 2-1.9 1.3-1.9 1.6-1.8 2-1.9 2.6-1.9 3.2-3.7 8.4-1.9 2.8-1.9-2.2-3.7-7.1-1.9-2.6-1.9-1.9-1.8-1.4-1.9-1-1.9-.7-3.7-.7-5.6 0-5.7 .5z"/><linearGradient id="g9_15" href="#pb" gradientUnits="userSpaceOnUse" x1="47.62" y1="878.59" x2="42.76" y2="849.71"/><path fill="url(#g9_15)" stroke="url(#g9_15)" d="M48.3 849.4l5.7-.5 5.6 0 3.7 .7 1.9 .6 1.9 1 1.8 1.4 1.9 1.9 1.9 2.6 3.7 7.2 1.9 2.1 1.9-2.8 3.7-8.4 1.9-3.2 1.9-2.5 1.8-2.1 1.9-1.6 1.9-1.3 3.7-1.9 5.6-2 5.6-1.3-1.4-.4-7.5 1.9-3.7 1.4-1.9 .9-3.7 2.4-1.9 1.6-1.9 2.1-1.9 2.7-1.8 3.5-1.9 4.4-1.9 5.9-1.9 7.6-1.8-7-1.9-5.2-1.9-3.8-1.8-2.9-1.9-2-1.9-1.5-1.9-1-3.7-1.1-1.9-.3-3.7-.1-7.5 .6z"/><linearGradient id="g9_14" href="#pb" gradientUnits="userSpaceOnUse" x1="49.07" y1="879.01" x2="44.21" y2="850.13"/><path fill="url(#g9_14)" stroke="url(#g9_14)" d="M49.8 849.8l5.6-.6 3.8 0 3.7 .3 3.7 .9 1.9 .9 1.9 1.2 1.9 1.6 5.6 6.4 1.9 .8 1.8-1.4 5.6-8.3 1.9-2.3 1.9-1.8 1.9-1.5 3.7-2.2 3.7-1.6 3.8-1.2 5.6-1.3-1.5-.4-5.6 1.3-5.6 2-3.7 1.9-1.9 1.3-1.9 1.6-1.8 2.1-1.9 2.5-1.9 3.2-3.7 8.4-1.9 2.8-1.9-2.1-3.7-7.2-1.9-2.6-1.9-1.9-1.8-1.4-1.9-1-1.9-.6-3.7-.7-5.6 0-5.7 .5z"/><linearGradient id="g9_13" href="#pb" gradientUnits="userSpaceOnUse" x1="50.52" y1="879.43" x2="45.66" y2="850.56"/><path fill="url(#g9_13)" stroke="url(#g9_13)" d="M51.2 850.2l5.7-.6 3.7-.1 3.8 .2 1.8 .3 3.8 1.2 1.8 .9 1.9 1.2 3.8 2.9 1.8 1.1 1.9 .3 1.9-.9 1.8-1.8 5.7-5.9 1.8-1.6 3.8-2.4 1.8-1 3.8-1.4 3.7-1.2 5.7-1.3-1.5-.4-5.6 1.3-3.8 1.2-3.7 1.6-3.7 2.2-1.9 1.5-1.9 1.8-1.9 2.3-5.6 8.3-1.8 1.4-1.9-.8-5.6-6.4-1.9-1.6-1.9-1.2-1.9-.9-3.7-.9-3.7-.3-3.8 0-5.6 .6z"/><linearGradient id="g9_12" href="#pb" gradientUnits="userSpaceOnUse" x1="51.97" y1="879.86" x2="47.11" y2="850.98"/><path fill="url(#g9_12)" stroke="url(#g9_12)" d="M52.7 850.6l5.6-.6 3.8-.2 5.6 .4 3.7 .8 1.9 .7 5.6 2.6 1.9 .6 1.8 0 1.9-.7 1.9-1.2 5.6-4.4 1.9-1.4 3.7-2.1 5.6-2.2 3.8-1.1 5.6-1.3-1.4-.4-5.7 1.3-3.7 1.2-3.8 1.4-1.8 1-3.8 2.4-1.8 1.6-5.7 5.9-1.8 1.8-1.9 .9-1.9-.3-1.8-1.1-3.8-2.9-1.9-1.2-1.8-.9-3.8-1.2-1.8-.3-3.8-.2-3.7 .1-5.7 .6z"/><linearGradient id="g9_11" href="#pb" gradientUnits="userSpaceOnUse" x1="53.42" y1="880.28" x2="48.56" y2="851.40"/><path fill="url(#g9_11)" stroke="url(#g9_11)" d="M54.1 851l7.5-.8 5.7-.1 5.6 .8 7.5 1.9 1.8 .2 1.9-.1 1.9-.5 1.8-.9 7.5-4.4 5.6-2.6 5.7-1.8 7.4-1.8-1.4-.4-5.6 1.3-3.8 1.1-5.6 2.2-3.7 2.1-1.9 1.4-5.6 4.4-1.9 1.2-1.9 .7-1.8 0-1.9-.6-5.6-2.6-1.9-.7-3.7-.8-5.6-.4-3.8 .2-5.6 .6z"/><linearGradient id="g9_10" href="#pb" gradientUnits="userSpaceOnUse" x1="54.87" y1="880.70" x2="50.01" y2="851.82"/><path fill="url(#g9_10)" stroke="url(#g9_10)" d="M55.6 851.4l7.5-.8 5.6-.3 5.6 .4 7.5 1 3.8-.1 3.7-1.1 7.5-3.6 5.6-2.2 5.6-1.7 7.5-1.7-1.5-.4-7.4 1.8-5.7 1.8-5.6 2.6-7.5 4.4-1.8 .9-1.9 .5-1.9 .1-1.8-.2-7.5-1.9-5.6-.8-5.7 .1-7.5 .8z"/><linearGradient id="g9_9" href="#pb" gradientUnits="userSpaceOnUse" x1="56.32" y1="881.12" x2="51.46" y2="852.24"/><path fill="url(#g9_9)" stroke="url(#g9_9)" d="M57 851.8l7.5-.9 5.7-.3 3.7 0 9.4 .4 3.7-.4 3.7-.9 13.1-4.8 5.7-1.6 7.5-1.6-1.5-.4-7.5 1.7-5.6 1.7-5.6 2.2-7.5 3.6-3.7 1.1-3.8 .1-7.5-1-5.6-.4-5.6 .3-7.5 .8z"/><linearGradient id="g9_8" href="#pb" gradientUnits="userSpaceOnUse" x1="57.77" y1="881.54" x2="52.91" y2="852.67"/><path fill="url(#g9_8)" stroke="url(#g9_8)" d="M58.5 852.2l11.2-1.3 15-.4 3.7-.4 3.8-.9 15-4.6 11.2-2.5-1.4-.4-7.5 1.6-5.7 1.6-13.1 4.8-3.7 .9-3.7 .4-9.4-.4-3.7 0-5.7 .3-7.5 .9z"/><linearGradient id="g9_7" href="#pb" gradientUnits="userSpaceOnUse" x1="59.22" y1="881.97" x2="54.36" y2="853.09"/><path fill="url(#g9_7)" stroke="url(#g9_7)" d="M60 852.6l11.2-1.4 13.1-.8 5.6-.7 5.6-1.2 13.1-3.6 11.2-2.4-1.4-.4-11.2 2.5-15 4.6-3.8 .9-3.7 .4-15 .4-11.2 1.3z"/><linearGradient id="g9_6" href="#pb" gradientUnits="userSpaceOnUse" x1="60.67" y1="882.39" x2="55.81" y2="853.51"/><path fill="url(#g9_6)" stroke="url(#g9_6)" d="M61.4 853l11.2-1.5 13.1-1.2 5.7-.7 5.6-1.2 13.1-3.2 11.2-2.3-1.5-.4-11.2 2.4-13.1 3.6-5.6 1.2-5.6 .7-13.1 .8-11.2 1.4z"/><linearGradient id="g9_5" href="#pb" gradientUnits="userSpaceOnUse" x1="62.12" y1="882.81" x2="57.26" y2="853.93"/><path fill="url(#g9_5)" stroke="url(#g9_5)" d="M62.8 853.4l9.4-1.3 20.6-2.6 20.6-4.4 9.4-1.8-1.5-.4-11.2 2.3-13.1 3.2-5.6 1.2-5.7 .7-13.1 1.2-11.2 1.5z"/><linearGradient id="g9_4" href="#pb" gradientUnits="userSpaceOnUse" x1="63.57" y1="883.23" x2="58.71" y2="854.35"/><path fill="url(#g9_4)" stroke="url(#g9_4)" d="M64.3 853.8l29.9-4.2 30-5.9-1.4-.4-9.4 1.8-20.6 4.4-20.6 2.6-9.4 1.3z"/><linearGradient id="g9_3" href="#pb" gradientUnits="userSpaceOnUse" x1="65.02" y1="883.65" x2="60.16" y2="854.77"/><path fill="url(#g9_3)" stroke="url(#g9_3)" d="M65.8 854.2l29.9-4.4 29.9-5.7-1.4-.4-30 5.9-29.9 4.2z"/><linearGradient id="g9_2" href="#pb" gradientUnits="userSpaceOnUse" x1="66.47" y1="884.08" x2="61.61" y2="855.20"/><path fill="url(#g9_2)" stroke="url(#g9_2)" d="M67.2 854.6l29.9-4.5 30-5.6-1.5-.4-29.9 5.7-29.9 4.4z"/><linearGradient id="g9_1" href="#pb" gradientUnits="userSpaceOnUse" x1="67.92" y1="884.50" x2="63.06" y2="855.62"/><path fill="url(#g9_1)" stroke="url(#g9_1)" d="M68.6 855l30-4.7 30-5.4-1.5-.4-30 5.6-29.9 4.5z"/><linearGradient id="g9_0" href="#pb" gradientUnits="userSpaceOnUse" x1="69.38" y1="884.92" x2="64.51" y2="856.04"/><path fill="url(#g9_0)" stroke="url(#g9_0)" d="M70.1 855.4l29.9-4.7 30-5.4-1.4-.4-30 5.4-30 4.7z"/></g><path d="M23.7 841.93L23.7 871.63L70.1 885.13L130 875.03M23.70 871.63l2.17 -0.37M23.70 856.76l2.17 -0.37M23.70 841.88l2.17 -0.37M61.40 882.60l2.17 -0.37M46.90 878.38l2.17 -0.37M32.40 874.16l2.17 -0.37M81.33 883.24l-2.11 -0.61M100.05 880.08l-2.11 -0.61M118.77 876.92l-2.11 -0.61" stroke="#3a3a3a" stroke-width="0.95" fill="none"/><text x="21.5" y="874.14" font-size="7.6" text-anchor="end" fill="#262626">0</text><text x="21.5" y="859.26" font-size="7.6" text-anchor="end" fill="#262626">10</text><text x="21.5" y="844.39" font-size="7.6" text-anchor="end" fill="#262626">20</text><text x="58.9" y="891.11" font-size="7.6" text-anchor="end" fill="#262626">-20</text><text x="44.4" y="886.89" font-size="7.6" text-anchor="end" fill="#262626">0</text><text x="29.9" y="882.67" font-size="7.6" text-anchor="end" fill="#262626">20</text><text x="83.83" y="891.74" font-size="7.6" text-anchor="start" fill="#262626">-20</text><text x="102.55" y="888.59" font-size="7.6" text-anchor="start" fill="#262626">0</text><text x="121.27" y="885.43" font-size="7.6" text-anchor="start" fill="#262626">20</text><clipPath id="csh9"><rect x="175.5" y="831.53" width="106.2" height="53.9"/></clipPath><g clip-path="url(#csh9)"><rect x="175.5" y="831.53" width="106.2" height="53.9" fill="#f6e474"/></g><path d="M195.41 885.43v-1.0M195.41 831.53v1.0M228.6 885.43v-1.0M228.6 831.53v1.0M261.79 885.43v-1.0M261.79 831.53v1.0M175.5 875.32h1.0M281.7 875.32h-1.0M175.5 858.48h1.0M281.7 858.48h-1.0M175.5 841.64h1.0M281.7 841.64h-1.0" stroke="#262626" stroke-width="0.6" fill="none"/><rect x="175.5" y="831.53" width="106.2" height="53.9" fill="none" stroke="#262626" stroke-width="0.7"/><text x="195.41" y="895.23" font-size="7.6" text-anchor="middle" fill="#262626">-20</text><text x="228.6" y="895.23" font-size="7.6" text-anchor="middle" fill="#262626">0</text><text x="261.79" y="895.23" font-size="7.6" text-anchor="middle" fill="#262626">20</text><text x="174" y="878.33" font-size="7.6" text-anchor="end" fill="#262626">-20</text><text x="174" y="861.49" font-size="7.6" text-anchor="end" fill="#262626">0</text><text x="174" y="844.64" font-size="7.6" text-anchor="end" fill="#262626">20</text><text transform="translate(228.6 830.33) scale(1 1.12)" font-size="8.55" text-anchor="middle" font-weight="bold" fill="#000">Search history</text><path d="M176.4 882.4h0m.8-21h0m0 13.7h0m.9-37.8h0m0 10.4h0m3.2 8.1h0m0 4h0m0 23.4h0m.8-33.8h0m1.6 15.3h0m.8-27.4h0m.8 23.3h0m.8 7.3h0m0 8h0m2.4 1.6h0m.8-23.3h0m.8-17.7h0m.8 8.8h0m0 4.9h0m1.7 20.1h0m.8-31.4h0m.8-6.5h0m2.4 27.4h0m0 21h0m.8-23.4h0m3.2-4h0m1.6 6.4h0m0 17.7h0m.2-18.9h0m2.2 18.9h0m.8-16.9h0m.4-1.6h0m.1 5.5h0m.1-5h0m.2 4.1h0m.8-12.6h0m.1 7.1h0m.5 2.2h0m.2-13.5h0m.1 16.2h0m.4-4.5h0m.4-4.7h0m.3 3.5h0m.5 12.2h0m1.6-24.2h0m0 13h0m.2 2.8h0m.4 4.7h0m.2-9.6h0m0 21.3h0m0 8.1h0m.3-28.6h0m.4 .8h0m.3-6.9h0m.8 6.5h0m.1 4.4h0m.1-6.1h0m.5-8.8h0m0 4.6h0m0 15.9h0m.1-1h0m.2-.1h0m.1-5.4h0m.4-5.9h0m.6 13.6h0m.3-4.3h0m0 2.2h0m.3 1.1h0m.2-7.3h0m.1-27.1h0m.5 17.4h0m.4 16.1h0m.1-.4h0m.6-20.2h0m0 21.7h0m0 3.3h0m.1-18.6h0m0 5.4h0m.6 .2h0m.1 9.7h0m.2-2.7h0m0 4.3h0m.2-21.6h0m.4 6.5h0m.3-1.7h0m.1 0h0m.1 .9h0m0 7.4h0m0 5.8h0m.1-12h0m.1 5.1h0m.2-3.5h0m.2 8.2h0m.1-13.8h0m.6-.5h0m.1 12.1h0m.1-2.6h0m.6-5.4h0m.4 17.1h0m.1-5.5h0m.1-3.5h0m.1-26.7h0m0 42.7h0m.5-9.5h0m.1-12.3h0m.1 12.8h0m.2-19.3h0m.2 9.2h0m.2-.4h0m0 10.6h0m.2-12.8h0m.1-25.1h0m.1 26.3h0m.5-7.4h0m.2 6.4h0m.3-1.4h0m0 .3h0m.5 2.4h0m.2-6.6h0m.1 1.4h0m.1 12.9h0m.1-7.7h0m.3-16.1h0m.1 18.3h0m.2-9.4h0m0 11.3h0m.1-1.7h0m.2-6.1h0m.1 13.1h0m.2-9h0m0 5.7h0m.2-14.1h0m0 4.1h0m0 5.3h0m.5-23.1h0m.1 26.3h0m.2 7.4h0m.2-8h0m.1-12h0m0 17.4h0m.7-6.8h0m.9-9.1h0m0 2.2h0m0 1.4h0m.1 8.2h0m.5-6.6h0m.2 1.2h0m.2 6.3h0m.4-4.3h0m.4 .4h0m0 5.8h0m.4-4.9h0m.3-3.9h0m.1-12.2h0m.1 6.8h0m.1 .2h0m.1 17.2h0m.2-7.8h0m.2 1.5h0m.1 9.5h0m.4-4.6h0m.3-6h0m0 1.7h0m.1 15.4h0m.3-12.1h0m.1-12.2h0m.1 10.2h0m.3-28.6h0m.1 22.8h0m.6 9.6h0m.1-15.3h0m.2 18.9h0m.5-6.3h0m.7-3.8h0m.2 4.2h0m.3-13.3h0m0 14.7h0m.6-25.1h0m.1 22.5h0m.3-5.8h0m1.2 1.8h0m.1-1.8h0m.7-28h0m0 53.2h0m.1-23.6h0m.8 1.7h0m.5-12.6h0m.2-12.2h0m.1 16.3h0m.2 5.1h0m.2 0h0m.1-1.3h0m.2 18.5h0m.5-21.7h0m.2 .7h0m.1-10.4h0m.8 17.9h0m.6-2.4h0m.7 2.6h0m.4 6.6h0m.8-13.3h0m2.1 6.6h0m.2-27.6h0m0 12.9h0m2.5 17.7h0m.8-29h0m0 25.7h0m3.2-16.1h0m.8 22.6h0m.8-11.3h0m.8 19.3h0m2.4-28.1h0m.8 8.8h0m2.4-27.4h0m3.3 9.7h0m0 14.5h0m.8 8h0m.8-11.2h0m.8 20.1h0m.8-38.7h0m0 7.3h0m3.2 42.7h0m1.6-48.3h0m0 12h0m.8 25h0m1.6-29.8h0m.8 12.9h0m1.6-17.7h0m0 24.1h0m0 21.8h0m0 2.4h0" stroke="#ff0000" stroke-width="5.6" stroke-linecap="round" fill="none"/><circle cx="228.6" cy="858.48" r="4.0" fill="#00bb00"/><clipPath id="ctr9"><rect x="325.8" y="830.03" width="109.2" height="56.9"/></clipPath><g clip-path="url(#ctr9)"><path d="M327.83 837.05L328.36 837.05L328.63 879.37L328.89 879.37L329.16 861.17L331.55 860.5L333.67 859.83L335.26 858.48L433.5 858.48" stroke="#0072bd" stroke-width="2.4" fill="none" stroke-linejoin="round" stroke-linecap="butt"/></g><path d="M327.3 885.43v-1.0M327.3 831.53v1.0M353.85 885.43v-1.0M353.85 831.53v1.0M380.4 885.43v-1.0M380.4 831.53v1.0M406.95 885.43v-1.0M406.95 831.53v1.0M433.5 885.43v-1.0M433.5 831.53v1.0M327.3 885.43h1.0M433.5 885.43h-1.0M327.3 858.48h1.0M433.5 858.48h-1.0M327.3 831.53h1.0M433.5 831.53h-1.0" stroke="#262626" stroke-width="0.6" fill="none"/><rect x="327.3" y="831.53" width="106.2" height="53.9" fill="none" stroke="#262626" stroke-width="0.7"/><text x="327.3" y="895.23" font-size="7.6" text-anchor="middle" fill="#262626">0</text><text x="353.85" y="895.23" font-size="7.6" text-anchor="middle" fill="#262626">50</text><text x="380.4" y="895.23" font-size="7.6" text-anchor="middle" fill="#262626">100</text><text x="406.95" y="895.23" font-size="7.6" text-anchor="middle" fill="#262626">150</text><text x="433.5" y="895.23" font-size="7.6" text-anchor="middle" fill="#262626">200</text><text x="325.8" y="888.44" font-size="7.6" text-anchor="end" fill="#262626">-20</text><text x="325.8" y="861.49" font-size="7.6" text-anchor="end" fill="#262626">0</text><text x="325.8" y="834.54" font-size="7.6" text-anchor="end" fill="#262626">20</text><text transform="translate(380.4 830.33) scale(1 1.12)" font-size="8.55" text-anchor="middle" font-weight="bold" fill="#000">Trajectory curve</text><clipPath id="caf9"><rect x="477.8" y="830.03" width="108.4" height="56.9"/></clipPath><g clip-path="url(#caf9)"><path d="M479.3 837.46L493.09 842.58L501.15 849.32L506.88 855.25L512.48 862.25L519.38 872.22L524.7 877.08L529.86 882.2L534.95 885.16L543.33 885.43L584.7 885.43" stroke="#0072bd" stroke-width="2.4" fill="none" stroke-linejoin="round" stroke-linecap="butt"/></g><path d="M479.3 885.43v-1.0M479.3 831.53v1.0M525.11 885.43v-1.0M525.11 831.53v1.0M584.7 885.43v-1.0M584.7 831.53v1.0M479.3 885.43h1.0M584.7 885.43h-1.0M479.3 858.48h1.0M584.7 858.48h-1.0M479.3 831.53h1.0M584.7 831.53h-1.0" stroke="#262626" stroke-width="0.6" fill="none"/><rect x="479.3" y="831.53" width="105.4" height="53.9" fill="none" stroke="#262626" stroke-width="0.7"/><text x="479.3" y="895.23" font-size="7.6" text-anchor="middle" fill="#262626">1</text><text x="525.11" y="895.23" font-size="7.6" text-anchor="middle" fill="#262626">10</text><text x="584.7" y="895.23" font-size="7.6" text-anchor="middle" fill="#262626">200</text><text x="477.8" y="888.44" font-size="7.6" text-anchor="end" fill="#262626">0</text><text x="477.8" y="861.49" font-size="7.6" text-anchor="end" fill="#262626">10</text><text x="477.8" y="834.54" font-size="7.6" text-anchor="end" fill="#262626">20</text><text transform="translate(532 830.33) scale(1 1.12)" font-size="8.55" text-anchor="middle" font-weight="bold" fill="#000">Average fitness</text><clipPath id="ccv9"><rect x="629.8" y="830.03" width="108.4" height="56.9"/></clipPath><g clip-path="url(#ccv9)"><path d="M631.3 838.36L653.15 838.36L658.88 866.92L672.67 866.92L677.11 883.27L682.32 884.53L686.46 885.43L736.7 885.43" stroke="#0072bd" stroke-width="2.4" fill="none" stroke-linejoin="round" stroke-linecap="butt"/></g><path d="M631.3 885.43v-1.0M631.3 831.53v1.0M677.11 885.43v-1.0M677.11 831.53v1.0M736.7 885.43v-1.0M736.7 831.53v1.0M631.3 885.43h1.0M736.7 885.43h-1.0M631.3 867.46h1.0M736.7 867.46h-1.0M631.3 849.5h1.0M736.7 849.5h-1.0M631.3 831.53h1.0M736.7 831.53h-1.0" stroke="#262626" stroke-width="0.6" fill="none"/><rect x="631.3" y="831.53" width="105.4" height="53.9" fill="none" stroke="#262626" stroke-width="0.7"/><text x="631.3" y="895.23" font-size="7.6" text-anchor="middle" fill="#262626">1</text><text x="677.11" y="895.23" font-size="7.6" text-anchor="middle" fill="#262626">10</text><text x="736.7" y="895.23" font-size="7.6" text-anchor="middle" fill="#262626">200</text><text x="629.8" y="888.44" font-size="7.6" text-anchor="end" fill="#262626">0</text><text x="629.8" y="870.47" font-size="7.6" text-anchor="end" fill="#262626">1</text><text x="629.8" y="852.5" font-size="7.6" text-anchor="end" fill="#262626">2</text><text x="629.8" y="834.54" font-size="7.6" text-anchor="end" fill="#262626">3</text><text transform="translate(684 830.33) scale(1 1.12)" font-size="8.55" text-anchor="middle" font-weight="bold" fill="#000">Convergence curve</text><text transform="translate(78.4 919.40) scale(1 1.13)" font-size="14.3" text-anchor="middle" font-weight="bold" fill="#000">F11</text><path d="M23.7 932.6L83.6 922.5L130 936M83.6 952.2L83.6 922.5M75.09 974.96L28.69 961.46L28.69 931.76M100.05 970.75L53.65 957.25L53.65 927.55M125.01 966.54L78.61 953.04L78.61 923.34M66.23 974.68L126.13 964.58L126.13 934.88M46.9 969.05L106.8 958.95L106.8 929.25M27.57 963.43L87.47 953.33L87.47 923.62M23.7 945.8L83.6 935.7L130 949.2" stroke="#dcdcdc" stroke-width="0.5" fill="none"/><path d="M82.5 967.6l-9.7 .1-7.9-.9-3.4-1-2-1.9 .5-.9 2.6-1.2 5.8-1.2 8.7-.4 3.8 .1 7.9 .9 3.4 1 .8 .6 1.2 1.3-.5 .9-4.1 1.7-7.1 .9" stroke="#4747eb" stroke-width="0.9" fill="none"/><path d="M87.6 969.1l-12 .4-12.6-.9-8.8-2.3-1.8-1.2-.5-1.5 .5-.8 3.4-2 10.3-1.9 12-.4 12.6 .9 8.8 2.3 1.8 1.2 .5 1.5-.5 .8-3.4 2-10.3 1.9" stroke="#3e6fff" stroke-width="0.9" fill="none"/><path d="M91 970.1l-7.9 .6-9.9 .1-12.4-1.1-6.5-1.1-3.3-1-4.2-2.3-.6-1.5 0-.7 2.6-2 2-.8 5.2-1.4 4.2-.7 10.4-.9 6.5-.1 7.2 .2 8.6 .9 6.5 1.1 3.3 1 4.2 2.3 .6 1.5 0 .7-2.6 2-2 .8-5.2 1.4-6.7 1" stroke="#2796eb" stroke-width="0.9" fill="none"/><path d="M96.3 970.7l-7.3 .8-8.7 .4-9-.1-11.2-.9-7.7-1.3-6.6-1.9-3.6-2-.7-1.1-.1-1.1 .4-.9 1.6-1.3 2.6-1.4 5.1-1.4 8.5-1.5 14.3-.9 8.5 .1 11.2 .9 7.7 1.3 5.2 1.4 4.6 2.2 1.1 1.4 .1 1.1-.4 .9-2.8 2.1-6.5 2-6.3 1.2" stroke="#08b5d0" stroke-width="0.9" fill="none"/><path d="M90.7 972.3l-10.6 .5-9.7-.1-9.6-.7-6.7-.8M114 961.1l2.1 1.6 .3 2.2-2.1 2.1-4.9 2.2M39.7 966.9l-2.1-1.6-.3-2.2 2.1-2.1 4.9-2.2M63 955.7l10.6-.5 9.7 .1 9.6 .7 6.7 .8" stroke="#31c69f" stroke-width="0.9" fill="none"/><path d="M82.8 973.7l-13-.1-9.5-.7M120.2 962.8l.2 2.2-.6 .9-2.5 1.9M33.5 965.2l-.2-2.2 .6-.9 2.5-1.9M70.9 954.3l13 .1 9.5 .7" stroke="#81cc59" stroke-width="0.9" fill="none"/><path d="M78.1 974.5l-14.2-.5M123.8 963.9l-.1 1.3-1.7 1.8M29.9 964.1l.1-1.3 1.7-1.8M75.6 953.5l14.2 .5" stroke="#dcbd29" stroke-width="0.9" fill="none"/><path d="M73.9 975.2l-6.8-.3M127 964.8l-.8 1.5M26.7 963.2l.8-1.5M79.8 952.8l6.8 .3" stroke="#fccf30" stroke-width="0.9" fill="none"/><path d="M70.1 975.8M130 965.7M23.7 962.3M83.6 952.2" stroke="#f9fb15" stroke-width="0.9" fill="none"/><g class="sf"><linearGradient id="g10_27" href="#pb" gradientUnits="userSpaceOnUse" x1="24.53" y1="962.54" x2="19.66" y2="933.66"/><path fill="url(#g10_27)" stroke="url(#g10_27)" d="M25.4 935l4.2 3.1 4.3 2.7 4.3 2.1 2.1 .7 4.3 1 4.3 .6 2.1 0 4.3-.5 4.3-.9 2.1-.7 4.3-2.1 4.3-2.5 2.1-1.4 4.3-3.5 4.3-4.1 4.3-4.6-1.7-2.4-2.1 2.3-8.6 8.2-2.1 1.6-2.2 1.4-6.4 3.6-2.1 1-2.2 .7-6.4 1.1-2.1 .4-2.2 0-2.1-.3-8.6-2.1-2.1-.9-2.1-1.3-6.5-4-2.1-1.6z"/><linearGradient id="g10_26" href="#pb" gradientUnits="userSpaceOnUse" x1="26.19" y1="963.02" x2="21.32" y2="934.14"/><path fill="url(#g10_26)" stroke="url(#g10_26)" d="M27 937.2l4.3 3.4 2.1 1.4 4.3 2.2 4.3 1.8 2.1 .7 4.3 .6 4.3 .2 4.3-.3 4.2-1.1 4.3-1.6 4.3-2.2 2.1-1.4 4.3-3.2 4.3-3.6 2.1-2.1 4.3-4.9-1.6-2.2-4.3 4.6-4.3 4.1-4.3 3.5-2.1 1.4-4.3 2.5-4.3 2.1-2.1 .7-4.3 .9-4.3 .5-2.1 0-4.3-.6-4.3-1-2.1-.7-4.3-2.1-4.3-2.7-4.2-3.1z"/><linearGradient id="g10_25" href="#pb" gradientUnits="userSpaceOnUse" x1="27.84" y1="963.51" x2="22.97" y2="934.63"/><path fill="url(#g10_25)" stroke="url(#g10_25)" d="M28.7 939.4l4.2 3.5 2.2 1.4 2.1 1.1 8.6 3.6 2.1 .4 2.2 .2 6.4 .1 2.1-.2 2.2-.5 6.4-2.3 2.1-.9 2.2-1.2 8.5-6.4 2.2-1.8 2.1-2.2 4.3-4.9-1.7-2.2-4.3 4.9-2.1 2.1-4.3 3.6-4.3 3.2-2.1 1.4-4.3 2.2-4.3 1.6-4.2 1.1-4.3 .3-4.3-.2-4.3-.6-2.1-.7-4.3-1.8-4.3-2.2-2.1-1.4-4.3-3.4z"/><linearGradient id="g10_24" href="#pb" gradientUnits="userSpaceOnUse" x1="29.50" y1="963.99" x2="24.63" y2="935.11"/><path fill="url(#g10_24)" stroke="url(#g10_24)" d="M30.3 941.6l4.3 3.3 2.1 1.4 4.3 2.2 4.3 1.8 2.1 .6 4.3 .8 4.3 .1 4.3-.3 4.3-1.1 4.2-1.6 4.3-2.2 2.2-1.4 4.2-3.2 4.3-3.7 6.4-6.8-1.6-2.2-4.3 4.9-2.1 2.2-2.2 1.8-8.5 6.4-2.2 1.2-2.1 .9-6.4 2.3-2.2 .5-2.1 .2-6.4-.1-2.2-.2-2.1-.4-8.6-3.6-2.1-1.1-2.2-1.4-4.2-3.5z"/><linearGradient id="g10_23" href="#pb" gradientUnits="userSpaceOnUse" x1="31.16" y1="964.47" x2="26.29" y2="935.59"/><path fill="url(#g10_23)" stroke="url(#g10_23)" d="M32 943.7l2.1 1.6 6.4 4.1 2.2 1.2 2.1 .9 6.4 1.7 4.3 .7 2.2 0 4.2-.7 4.3-.8 2.2-.7 4.2-2.1 6.4-3.9 4.3-3.5 6.4-6.3 2.2-2.3-1.7-2.1-6.4 6.8-4.3 3.7-4.2 3.2-2.2 1.4-4.3 2.2-4.2 1.6-4.3 1.1-4.3 .3-4.3-.1-4.3-.8-2.1-.6-4.3-1.8-4.3-2.2-2.1-1.4-4.3-3.3z"/><linearGradient id="g10_22" href="#pb" gradientUnits="userSpaceOnUse" x1="32.81" y1="964.95" x2="27.94" y2="936.07"/><path fill="url(#g10_22)" stroke="url(#g10_22)" d="M33.6 945.5l2.2 1.6 6.4 4 2.1 1.3 2.2 .9 8.5 2.1 2.2 .3 2.1-.1 2.2-.3 6.4-1.1 2.1-.7 2.1-1 6.5-3.6 2.1-1.4 2.1-1.6 6.5-6.1 4.2-4.4-1.6-1.8-2.2 2.3-6.4 6.3-4.3 3.5-6.4 3.9-4.2 2.1-2.2 .7-4.3 .8-4.2 .7-2.2 0-4.3-.7-6.4-1.7-2.1-.9-2.2-1.2-6.4-4.1-2.1-1.6z"/><linearGradient id="g10_21" href="#pb" gradientUnits="userSpaceOnUse" x1="34.47" y1="965.43" x2="29.60" y2="936.55"/><path fill="url(#g10_21)" stroke="url(#g10_21)" d="M35.3 947l4.3 3.2 4.3 2.6 4.2 2 2.2 .8 4.3 1.1 4.2 .5 2.2 0 4.2-.5 4.3-1 2.2-.7 4.2-2 4.3-2.5 2.2-1.5 4.2-3.4 4.3-4.1 4.3-4.6-1.7-1.5-4.2 4.4-6.5 6.1-2.1 1.6-2.1 1.4-6.5 3.6-2.1 1-2.1 .7-6.4 1.1-2.2 .3-2.1 .1-2.2-.3-8.5-2.1-2.2-.9-2.1-1.3-6.4-4-2.2-1.6z"/><linearGradient id="g10_20" href="#pb" gradientUnits="userSpaceOnUse" x1="36.13" y1="965.92" x2="31.26" y2="937.04"/><path fill="url(#g10_20)" stroke="url(#g10_20)" d="M37 948.3l4.2 3.4 2.2 1.5 4.3 2 6.4 2.6 2.1 .4 2.1 .2 6.5 .2 2.1-.2 2.1-.6 6.5-2.3 2.1-.9 2.1-1.1 6.5-4.8 4.2-3.5 2.2-2.1 4.3-4.9-1.7-1.3-4.3 4.6-4.3 4.1-4.2 3.4-2.2 1.5-4.3 2.5-4.2 2-2.2 .7-4.3 1-4.2 .5-2.2 0-4.2-.5-4.3-1.1-2.2-.8-4.2-2-4.3-2.6-4.3-3.2z"/><linearGradient id="g10_19" href="#pb" gradientUnits="userSpaceOnUse" x1="37.79" y1="966.40" x2="32.92" y2="937.52"/><path fill="url(#g10_19)" stroke="url(#g10_19)" d="M38.6 949.6l4.3 3.4 2.1 1.5 4.3 2 6.4 2.6 2.2 .4 2.1 .2 6.4 .2 2.2-.2 2.1-.5 6.4-2.4 4.3-2 6.4-4.8 4.3-3.5 2.1-2.1 4.3-4.9-1.6-1.3-4.3 4.9-2.2 2.1-4.2 3.5-6.5 4.8-2.1 1.1-2.1 .9-6.5 2.3-2.1 .6-2.1 .2-6.5-.2-2.1-.2-2.1-.4-6.4-2.6-4.3-2-2.2-1.5-4.2-3.4z"/><linearGradient id="g10_18" href="#pb" gradientUnits="userSpaceOnUse" x1="39.44" y1="966.88" x2="34.57" y2="938.00"/><path fill="url(#g10_18)" stroke="url(#g10_18)" d="M40.3 950.9l4.3 3.2 4.2 2.6 4.3 2.1 2.1 .7 4.3 1.1 4.3 .5 2.1 0 4.3-.4 4.3-1 2.1-.7 4.3-2 4.3-2.5 2.1-1.5 4.3-3.5 4.3-4.1 4.3-4.6-1.7-1.3-4.3 4.9-2.1 2.1-4.3 3.5-6.4 4.8-4.3 2-6.4 2.4-2.1 .5-2.2 .2-6.4-.2-2.1-.2-2.2-.4-6.4-2.6-4.3-2-2.1-1.5-4.3-3.4z"/><linearGradient id="g10_17" href="#pb" gradientUnits="userSpaceOnUse" x1="41.10" y1="967.36" x2="36.23" y2="938.48"/><path fill="url(#g10_17)" stroke="url(#g10_17)" d="M41.9 952.1l2.2 1.5 6.4 4.1 2.1 1.3 2.2 .9 8.5 2.1 2.2 .3 2.1-.1 2.1-.3 6.5-1.1 2.1-.7 2.1-1 6.5-3.6 2.1-1.4 2.1-1.6 8.6-8.2 2.1-2.3-1.6-1.2-4.3 4.6-4.3 4.1-4.3 3.5-2.1 1.5-4.3 2.5-4.3 2-2.1 .7-4.3 1-4.3 .4-2.1 0-4.3-.5-4.3-1.1-2.1-.7-4.3-2.1-4.2-2.6-4.3-3.2z"/><linearGradient id="g10_16" href="#pb" gradientUnits="userSpaceOnUse" x1="42.76" y1="967.84" x2="37.89" y2="938.97"/><path fill="url(#g10_16)" stroke="url(#g10_16)" d="M43.6 952.9l2.1 1.6 6.4 4.1 4.3 2.1 6.4 1.7 4.3 .7 2.2-.1 4.2-.5 4.3-.9 2.2-.7 4.2-2.1 6.4-3.9 4.3-3.5 6.4-6.3 2.2-2.3-1.7-.8-2.1 2.3-8.6 8.2-2.1 1.6-2.1 1.4-6.5 3.6-2.1 1-2.1 .7-6.5 1.1-2.1 .3-2.1 .1-2.2-.3-8.5-2.1-2.2-.9-2.1-1.3-6.4-4.1-2.2-1.5z"/><linearGradient id="g10_15" href="#pb" gradientUnits="userSpaceOnUse" x1="44.41" y1="968.33" x2="39.54" y2="939.45"/><path fill="url(#g10_15)" stroke="url(#g10_15)" d="M45.2 953.4l4.3 3.3 2.2 1.4 4.2 2.2 4.3 1.8 2.2 .7 4.2 .7 4.3 .2 4.3-.4 4.3-1.1 4.3-1.6 4.2-2.1 2.2-1.5 4.2-3.2 4.3-3.6 2.2-2.1 4.2-4.8-1.6-.5-2.2 2.3-6.4 6.3-4.3 3.5-6.4 3.9-4.2 2.1-2.2 .7-4.3 .9-4.2 .5-2.2 .1-4.3-.7-6.4-1.7-4.3-2.1-6.4-4.1-2.1-1.6z"/><linearGradient id="g10_14" href="#pb" gradientUnits="userSpaceOnUse" x1="46.07" y1="968.81" x2="41.20" y2="939.93"/><path fill="url(#g10_14)" stroke="url(#g10_14)" d="M46.9 953.9l4.3 3.5 2.1 1.4 2.2 1.1 8.5 3.5 2.2 .5 2.1 .1 6.4 .2 2.1-.2 2.2-.5 6.4-2.4 2.1-.8 2.2-1.2 8.5-6.4 2.2-1.8 2.1-2.2 4.3-4.9-1.7-.5-4.2 4.8-2.2 2.1-4.3 3.6-4.2 3.2-2.2 1.5-4.2 2.1-4.3 1.6-4.3 1.1-4.3 .4-4.3-.2-4.2-.7-2.2-.7-4.3-1.8-4.2-2.2-2.2-1.4-4.3-3.3z"/><linearGradient id="g10_13" href="#pb" gradientUnits="userSpaceOnUse" x1="47.73" y1="969.29" x2="42.86" y2="940.41"/><path fill="url(#g10_13)" stroke="url(#g10_13)" d="M48.6 954.4l4.2 3.3 2.2 1.4 4.3 2.2 4.2 1.8 2.2 .6 4.2 .8 4.3 .1 4.3-.3 4.3-1.1 4.3-1.6 4.2-2.2 2.2-1.4 4.3-3.2 4.2-3.6 2.2-2.1 4.3-4.8-1.7-.5-4.3 4.9-2.1 2.2-2.2 1.8-8.5 6.4-2.2 1.2-2.1 .8-6.4 2.4-2.2 .5-2.1 .2-6.4-.2-2.1-.1-2.2-.5-8.5-3.5-2.2-1.1-2.1-1.4-4.3-3.5z"/><linearGradient id="g10_12" href="#pb" gradientUnits="userSpaceOnUse" x1="49.39" y1="969.77" x2="44.52" y2="940.89"/><path fill="url(#g10_12)" stroke="url(#g10_12)" d="M50.2 954.8l2.2 1.6 6.4 4.1 4.2 2.1 6.5 1.7 4.2 .7 2.2 0 4.3-.6 4.2-.9 2.2-.7 4.3-2.1 6.4-3.8 4.3-3.6 6.4-6.3 2.1-2.3-1.6-.4-4.3 4.8-2.2 2.1-4.2 3.6-4.3 3.2-2.2 1.4-4.2 2.2-4.3 1.6-4.3 1.1-4.3 .3-4.3-.1-4.2-.8-2.2-.6-4.2-1.8-4.3-2.2-2.2-1.4-4.2-3.3z"/><linearGradient id="g10_11" href="#pb" gradientUnits="userSpaceOnUse" x1="51.04" y1="970.26" x2="46.17" y2="941.38"/><path fill="url(#g10_11)" stroke="url(#g10_11)" d="M51.9 955l2.1 1.5 6.4 4.1 2.2 1.2 2.1 1 8.6 2.1 2.1 .3 2.1-.1 2.2-.3 6.4-1.1 2.1-.7 2.2-1 6.4-3.6 2.1-1.4 2.2-1.6 8.5-8.2 2.2-2.3-1.7-.2-2.1 2.3-6.4 6.3-4.3 3.6-6.4 3.8-4.3 2.1-2.2 .7-4.2 .9-4.3 .6-2.2 0-4.2-.7-6.5-1.7-4.2-2.1-6.4-4.1-2.2-1.6z"/><linearGradient id="g10_10" href="#pb" gradientUnits="userSpaceOnUse" x1="52.70" y1="970.74" x2="47.83" y2="941.86"/><path fill="url(#g10_10)" stroke="url(#g10_10)" d="M53.5 954.8l4.3 3.1 4.3 2.7 4.3 2 2.1 .8 4.3 1 4.3 .6 2.1 0 4.3-.5 4.3-1 2.1-.7 4.3-2 4.3-2.5 2.1-1.5 4.3-3.4 4.3-4.1 4.2-4.6-1.6 .2-2.2 2.3-8.5 8.2-2.2 1.6-2.1 1.4-6.4 3.6-2.2 1-2.1 .7-6.4 1.1-2.2 .3-2.1 .1-2.1-.3-8.6-2.1-2.1-1-2.2-1.2-6.4-4.1-2.1-1.5z"/><linearGradient id="g10_9" href="#pb" gradientUnits="userSpaceOnUse" x1="54.36" y1="971.22" x2="49.49" y2="942.34"/><path fill="url(#g10_9)" stroke="url(#g10_9)" d="M55.2 954.4l4.3 3.5 2.1 1.4 4.3 2.1 6.4 2.5 2.1 .5 2.2 .1 6.4 .2 2.1-.2 2.2-.5 6.4-2.3 4.3-2.1 6.4-4.7 4.3-3.6 2.1-2.1 4.3-4.9-1.7 .4-4.2 4.6-4.3 4.1-4.3 3.4-2.1 1.5-4.3 2.5-4.3 2-2.1 .7-4.3 1-4.3 .5-2.1 0-4.3-.6-4.3-1-2.1-.8-4.3-2-4.3-2.7-4.3-3.1z"/><linearGradient id="g10_8" href="#pb" gradientUnits="userSpaceOnUse" x1="56.01" y1="971.70" x2="51.14" y2="942.82"/><path fill="url(#g10_8)" stroke="url(#g10_8)" d="M56.8 954.1l4.3 3.4 2.2 1.4 4.2 2.1 6.5 2.6 2.1 .4 2.1 .2 6.5 .2 2.1-.3 2.1-.5 6.5-2.3 2.1-.9 2.1-1.2 6.4-4.7 4.3-3.5 2.2-2.1 4.2-4.9-1.6 .3-4.3 4.9-2.1 2.1-4.3 3.6-6.4 4.7-4.3 2.1-6.4 2.3-2.2 .5-2.1 .2-6.4-.2-2.2-.1-2.1-.5-6.4-2.5-4.3-2.1-2.1-1.4-4.3-3.5z"/><linearGradient id="g10_7" href="#pb" gradientUnits="userSpaceOnUse" x1="57.67" y1="972.18" x2="52.80" y2="943.30"/><path fill="url(#g10_7)" stroke="url(#g10_7)" d="M58.5 953.7l4.3 3.2 4.3 2.6 4.2 2 2.2 .8 4.3 1.1 4.2 .5 2.2 0 4.2-.4 4.3-1 2.2-.8 4.2-1.9 4.3-2.5 2.2-1.5 4.2-3.5 4.3-4 4.3-4.7-1.7 .4-4.2 4.9-2.2 2.1-4.3 3.5-6.4 4.7-2.1 1.2-2.1 .9-6.5 2.3-2.1 .5-2.1 .3-6.5-.2-2.1-.2-2.1-.4-6.5-2.6-4.2-2.1-2.2-1.4-4.3-3.4z"/><linearGradient id="g10_6" href="#pb" gradientUnits="userSpaceOnUse" x1="59.33" y1="972.67" x2="54.46" y2="943.79"/><path fill="url(#g10_6)" stroke="url(#g10_6)" d="M60.2 953.2l2.1 1.6 6.4 4.1 2.2 1.2 2.1 .9 8.6 2.1 2.1 .3 2.1 0 2.2-.3 6.4-1.2 2.1-.7 2.2-1 6.4-3.6 2.1-1.4 2.2-1.6 6.4-6.1 4.3-4.4-1.7 .5-4.3 4.7-4.3 4-4.2 3.5-2.2 1.5-4.3 2.5-4.2 1.9-2.2 .8-4.3 1-4.2 .4-2.2 0-4.2-.5-4.3-1.1-2.2-.8-4.2-2-4.3-2.6-4.3-3.2z"/><linearGradient id="g10_5" href="#pb" gradientUnits="userSpaceOnUse" x1="60.99" y1="973.15" x2="56.12" y2="944.27"/><path fill="url(#g10_5)" stroke="url(#g10_5)" d="M61.8 952.4l2.2 1.6 6.4 4.1 2.1 1.2 2.1 .9 6.5 1.7 4.2 .7 2.2-.1 4.3-.6 4.2-.8 2.2-.7 4.3-2.2 6.4-3.8 4.3-3.6 6.4-6.2 2.1-2.3-1.6 .8-4.3 4.4-6.4 6.1-2.2 1.6-2.1 1.4-6.4 3.6-2.2 1-2.1 .7-6.4 1.2-2.2 .3-2.1 0-2.1-.3-8.6-2.1-2.1-.9-2.2-1.2-6.4-4.1-2.1-1.6z"/><linearGradient id="g10_4" href="#pb" gradientUnits="userSpaceOnUse" x1="62.64" y1="973.63" x2="57.77" y2="944.75"/><path fill="url(#g10_4)" stroke="url(#g10_4)" d="M63.5 951.2l4.2 3.3 2.2 1.4 4.3 2.3 4.2 1.7 2.2 .7 4.3 .7 4.2 .2 4.3-.4 4.3-1.1 4.3-1.6 4.3-2.2 2.1-1.4 4.3-3.1 4.3-3.7 6.4-6.9-1.7 1.2-2.1 2.3-6.4 6.2-4.3 3.6-6.4 3.8-4.3 2.2-2.2 .7-4.2 .8-4.3 .6-2.2 .1-4.2-.7-6.5-1.7-2.1-.9-2.1-1.2-6.4-4.1-2.2-1.6z"/><linearGradient id="g10_3" href="#pb" gradientUnits="userSpaceOnUse" x1="64.30" y1="974.11" x2="59.43" y2="945.23"/><path fill="url(#g10_3)" stroke="url(#g10_3)" d="M65.1 950l4.3 3.5 2.1 1.4 2.2 1.1 8.5 3.6 2.2 .4 2.1 .2 6.4 .1 2.2-.2 2.1-.5 6.4-2.3 2.2-.9 2.1-1.2 8.6-6.4 2.1-1.8 2.1-2.2 4.3-4.9-1.6 1.2-6.4 6.9-4.3 3.7-4.3 3.1-2.1 1.4-4.3 2.2-4.3 1.6-4.3 1.1-4.3 .4-4.2-.2-4.3-.7-2.2-.7-4.2-1.7-4.3-2.3-2.2-1.4-4.2-3.3z"/><linearGradient id="g10_2" href="#pb" gradientUnits="userSpaceOnUse" x1="65.96" y1="974.59" x2="61.09" y2="945.72"/><path fill="url(#g10_2)" stroke="url(#g10_2)" d="M66.8 948.8l4.3 3.4 2.1 1.4 4.3 2.1 4.3 1.8 2.1 .7 4.3 .7 4.3 .2 4.2-.3 4.3-1.2 4.3-1.6 4.3-2.1 2.1-1.4 4.3-3.3 4.3-3.5 2.1-2.2 4.3-4.8-1.7 1.2-4.3 4.9-2.1 2.2-2.1 1.8-8.6 6.4-2.1 1.2-2.2 .9-6.4 2.3-2.1 .5-2.2 .2-6.4-.1-2.1-.2-2.2-.4-8.5-3.6-2.2-1.1-2.1-1.4-4.3-3.5z"/><linearGradient id="g10_1" href="#pb" gradientUnits="userSpaceOnUse" x1="67.61" y1="975.08" x2="62.74" y2="946.20"/><path fill="url(#g10_1)" stroke="url(#g10_1)" d="M68.4 947.6l4.3 3.1 4.3 2.6 4.3 2.1 2.1 .7 4.3 1.1 4.3 .6 2.1 0 4.3-.6 4.3-.9 2.1-.7 4.3-2.1 4.3-2.4 2.1-1.5 4.3-3.5 4.3-4.1 4.2-4.5-1.6 1.2-4.3 4.8-2.1 2.2-4.3 3.5-4.3 3.3-2.1 1.4-4.3 2.1-4.3 1.6-4.3 1.2-4.2 .3-4.3-.2-4.3-.7-2.1-.7-4.3-1.8-4.3-2.1-2.1-1.4-4.3-3.4z"/><linearGradient id="g10_0" href="#pb" gradientUnits="userSpaceOnUse" x1="69.27" y1="975.56" x2="64.40" y2="946.68"/><path fill="url(#g10_0)" stroke="url(#g10_0)" d="M70.1 946.1l2.1 1.6 6.5 4 2.1 1.3 2.1 .9 8.6 2.1 2.1 .3 2.2 0 2.1-.4 6.4-1.1 2.2-.7 2.1-1 6.4-3.6 2.2-1.4 2.1-1.6 8.6-8.2 2.1-2.3-1.7 1.5-4.2 4.5-4.3 4.1-4.3 3.5-2.1 1.5-4.3 2.4-4.3 2.1-2.1 .7-4.3 .9-4.3 .6-2.1 0-4.3-.6-4.3-1.1-2.1-.7-4.3-2.1-4.3-2.6-4.3-3.1z"/></g><path d="M23.7 932.6L23.7 962.3L70.1 975.8L130 965.7M23.70 962.30l2.17 -0.37M23.70 945.80l2.17 -0.37M66.23 974.68l2.17 -0.37M46.90 969.05l2.17 -0.37M27.57 963.43l2.17 -0.37M75.09 974.96l-2.11 -0.61M100.05 970.75l-2.11 -0.61M125.01 966.54l-2.11 -0.61" stroke="#3a3a3a" stroke-width="0.95" fill="none"/><text x="21.5" y="964.81" font-size="7.6" text-anchor="end" fill="#262626">0</text><text x="21.5" y="948.31" font-size="7.6" text-anchor="end" fill="#262626">100</text><text x="63.73" y="983.18" font-size="7.6" text-anchor="end" fill="#262626">-500</text><text x="44.4" y="977.56" font-size="7.6" text-anchor="end" fill="#262626">0</text><text x="25.07" y="971.93" font-size="7.6" text-anchor="end" fill="#262626">500</text><text x="77.59" y="983.47" font-size="7.6" text-anchor="start" fill="#262626">-500</text><text x="102.55" y="979.26" font-size="7.6" text-anchor="start" fill="#262626">0</text><text x="127.51" y="975.05" font-size="7.6" text-anchor="start" fill="#262626">500</text><clipPath id="csh10"><rect x="175.5" y="922.2" width="106.2" height="53.9"/></clipPath><g clip-path="url(#csh10)"><path d="M224.6 961.5l-4.3-.9-2.3 0-6.7-2.5-3.4-2.2-.1-.7-1.3-.7-1.1-1.3 0-.7-.9-.7 .3-.6-.6-1.4 .4-.6-.4-.7 .6-1.4-.3-.6 .9-.7 0-.7 1.1-1.3 1.3-.7 .1-.7 3.1-2 7-2.7 2.3 0 4.3-.9 1.3 .3 2.7-.4 2.7 .4 1.3-.3 4.3 .9 2.3 0 6.7 2.5 1.5 .9 1.9 1.3 .1 .7 1.3 .7 1.1 1.3 0 .7 .9 .7-.3 .6 .6 1.4-.4 .7 .4 .6-.6 1.4 .3 .6-.9 .7 0 .7-1.1 1.3-1.3 .7-.1 .7-3.1 2-7 2.7-2.3 0-4.3 .9-1.3-.3-2.7 .4-2.7-.4-1.3 .3" stroke="#3e26a8" stroke-width="1.3" fill="none"/><path d="M223.3 966.7l-2.7-.2-6.6-1.2-6.9-2-4.3-2-4.7-3.3-2.9-3.5-.5-1.3-.7-.7 .3-.7-.5-.6 0-4.1 .5-.6-.3-.7 .7-.7 .5-1.3 2.8-3.4 4.8-3.4 4.3-2 4.2-1.4 9.3-1.8 8-.4 8 .4 9.3 1.8 4.2 1.4 4.3 2 4.8 3.4 2.8 3.4 .5 1.3 .7 .7-.3 .7 .5 .6 .2 2.1-.2 2-.5 .6 .3 .7-.7 .7-.5 1.3-2.8 3.4-4.8 3.4-4.3 2-4.2 1.4-6.7 1.4-6.6 .8-9.3-.2" stroke="#484cef" stroke-width="1.3" fill="none"/><path d="M222 970.8l-6.7-.8-7.9-1.8-4.7-1.5-6.1-2.7-4.7-3.4-1.5-1.3-.2-.7-1.7-1.4-2.6-4.7 .3-.7-.5-.6 .1-1.4-.3-.6 .3-.7-.1-1.4 .5-.6-.3-.7 2.6-4.7 1.7-1.4 .2-.7 6.2-4.7 8.1-3.4 10.6-2.6 6.7-.8 5.3-.2 7.9 .2 6.7 .8 10.6 2.6 8.1 3.4 6.2 4.7 .2 .7 1.7 1.4 1.3 2 .7 2 .6 .7-.3 .7 .5 .6-.1 1.4 .3 .7-.3 .6 .1 1.4-.5 .6 .3 .7-2.6 4.7-1.7 1.4-.2 .7-6.2 4.7-8.1 3.4-10.6 2.6-10.6 1-9.3-.2" stroke="#347afd" stroke-width="1.3" fill="none"/><path d="M222 974.2l-12-1.5-8-2.2-4.9-1.8-5.6-2.7-3.4-2-4-3.4-2.4-2.7-.1-.7-1.4-2-.8-2 .2-.7-.6-.7-.2-3.3 .2-2 .6-.7-.2-.7 2.3-4.7 2.4-2.7 4-3.4 3.4-2 5.6-2.7 4.9-1.8 8-2.2 12-1.5 13.2 0 12 1.5 8 2.2 4.9 1.8 5.6 2.7 3.4 2 4 3.4 2.4 2.7 .1 .7 1.4 2 .8 2-.2 .7 .6 .7 .2 3.3-.2 2-.6 .7 .2 .7-2.3 4.7-2.4 2.7-4 3.4-3.4 2-5.6 2.7-4.9 1.8-8 2.2-12 1.5-13.2 0" stroke="#21a3e3" stroke-width="1.3" fill="none"/><path d="M212.1 976.1l-4.7-.7-8-2.1-6.6-2.4-4-2-7-4.3-3.7-3.3-2.6-3.7M281.7 957.6l-2.6 3.7-3.7 3.3-7 4.3-4 2-6.6 2.4-8 2.1-4.7 .7M175.5 940.7l2.6-3.7 3.7-3.3 7-4.3 4-2 6.6-2.4 8-2.1 4.7-.7M245.1 922.2l4.7 .7 8 2.1 6.6 2.4 4 2 7 4.3 3.7 3.3 2.6 3.7" stroke="#12beb9" stroke-width="1.3" fill="none"/><path d="M198.8 976.1l-8.5-2.7-4.2-2-7.1-4.1-3.5-2.9M281.7 964.4l-3.5 2.9-7.1 4.1-4.2 2-8.5 2.7M175.5 933.9l3.5-2.9 7.1-4.1 4.2-2 8.5-2.7M258.4 922.2l8.5 2.7 4.2 2 7.1 4.1 3.5 2.9" stroke="#5ccc76" stroke-width="1.3" fill="none"/><path d="M189.5 976.1l-5-2-9-5M281.7 969.1l-9 5-5 2M175.5 929.2l9-5 5-2M267.7 922.2l5 2 9 5" stroke="#c8c129" stroke-width="1.3" fill="none"/><path d="M182.3 976.1l-6.8-3.3M281.7 972.8l-6.8 3.3M175.5 925.5l6.8-3.3M274.9 922.2l6.8 3.3" stroke="#feca33" stroke-width="1.3" fill="none"/><path d="M175.5 976.1M281.7 976.1M175.5 922.2M281.7 922.2" stroke="#f9fb15" stroke-width="1.3" fill="none"/></g><path d="M184.35 976.1v-1.0M184.35 922.2v1.0M228.6 976.1v-1.0M228.6 922.2v1.0M272.85 976.1v-1.0M272.85 922.2v1.0M175.5 971.61h1.0M281.7 971.61h-1.0M175.5 949.15h1.0M281.7 949.15h-1.0M175.5 926.69h1.0M281.7 926.69h-1.0" stroke="#262626" stroke-width="0.6" fill="none"/><rect x="175.5" y="922.2" width="106.2" height="53.9" fill="none" stroke="#262626" stroke-width="0.7"/><text x="184.35" y="985.9" font-size="7.6" text-anchor="middle" fill="#262626">-500</text><text x="228.6" y="985.9" font-size="7.6" text-anchor="middle" fill="#262626">0</text><text x="272.85" y="985.9" font-size="7.6" text-anchor="middle" fill="#262626">500</text><text x="174" y="974.62" font-size="7.6" text-anchor="end" fill="#262626">-500</text><text x="174" y="952.16" font-size="7.6" text-anchor="end" fill="#262626">0</text><text x="174" y="929.7" font-size="7.6" text-anchor="end" fill="#262626">500</text><text transform="translate(228.6 921) scale(1 1.12)" font-size="8.55" text-anchor="middle" font-weight="bold" fill="#000">Search history</text><path d="M176.4 935.5h0m0 5.7h0m0 23.3h0m0 7.3h0m.8-17.8h0m1.7-4h0m2.4 9.7h0m4-16.9h0m0 29.8h0m.8-25.8h0m1.6 8.9h0m.8-14.5h0m2.4-5.7h0m0 16.1h0m.8 8.9h0m.9-27.4h0m1.6 12.9h0m.8-11.3h0m.8-3.2h0m.8 28.2h0m.8 10.5h0m1.6-41.1h0m0 34.6h0m1.3-22h0m.3 15.6h0m.8 10.4h0m1.1-14h0m.7-.1h0m2.1 7.1h0m1.2-19.8h0m.6 12.7h0m.8 .9h0m.2-7.2h0m.2 4.3h0m.4-27.4h0m.2 26h0m.2 3.5h0m.4-19h0m.1 14.3h0m.7-6.2h0m0 .7h0m.1-2.1h0m0 .2h0m0 16.1h0m.3-18.7h0m.4 27.9h0m.8-41.8h0m0 27.5h0m0 5.7h0m.2-7.6h0m.1-.1h0m.1-5.2h0m.2 9.1h0m.4-13.9h0m.2 10.2h0m.3-7.1h0m.1 28.9h0m.1-26.4h0m.1-4.1h0m0 1.8h0m0 16h0m.8-6h0m.7-4h0m.2 2.2h0m.1-2.4h0m0 .8h0m.1-18.4h0m.6 15.5h0m.5-13.7h0m0 22h0m.1 2.4h0m.2-19.2h0m0 15.2h0m.2 3.6h0m.4-11.9h0m.1 3.1h0m.1-6.2h0m.1 15.7h0m.3-12.7h0m.1 8.3h0m0 16.8h0m.4-21.1h0m.2-7h0m.4-1.8h0m0 11.5h0m.4-13.5h0m0 10.7h0m0 2.3h0m.1-7h0m0 1.8h0m.5 4h0m.9 2.9h0m.3-1.6h0m.1-14.6h0m.1 11.3h0m.2 5.2h0m.3-8.2h0m0 3.5h0m.1-12.2h0m0 18.4h0m.2-12.4h0m.2 3.3h0m.2 9.3h0m.3-21.1h0m.3 8h0m0 1.6h0m.1 13.1h0m.1-12h0m0 4.1h0m0 11.7h0m.4-8.9h0m0 5.5h0m.1-4.7h0m.3 8h0m.1-12.7h0m.4-2.8h0m.2 3.4h0m.2 3h0m.1 2.7h0m.1 6.1h0m.2-23.8h0m.2 11.3h0m.8 4.7h0m0 .2h0m.2 .4h0m.6-2.3h0m0 3.2h0m.1-8.4h0m0 8.7h0m.3 2.2h0m.1-17.9h0m.3-1.7h0m.3 17.5h0m0 .4h0m.1-29.4h0m.2 11.7h0m0 22.8h0m.2-16.3h0m0 .1h0m.6-1h0m0 8h0m.2-6.5h0m.2 13.3h0m.1 .4h0m.1-20.7h0m0 6.4h0m.3 13.9h0m.5-26.5h0m0 22.5h0m.7-9.9h0m.1 2.2h0m.3 9.8h0m.1-13.1h0m0 .5h0m.4 24.2h0m.5-10.2h0m.4-1.7h0m.2-10.9h0m.1-3h0m.4 21.8h0m.8-12h0m.3-3.8h0m.3-.2h0m0 1.5h0m0 6.3h0m.2-24.8h0m.3 4.2h0m0 24.3h0m.4-16.4h0m0 3.8h0m.1-5.5h0m.1 6.5h0m.1 5.9h0m.4 .6h0m1-4.6h0m0 7.3h0m.2-8.9h0m0 12.9h0m.2-24.1h0m.3 17.5h0m0 2.3h0m.3-8.5h0m.2-2.7h0m.1 4.9h0m.2-4.6h0m.2 5.6h0m.4-2.3h0m.4-21.4h0m.4 23.5h0m.1-5.1h0m.1-1.7h0m.1 4h0m0 6h0m.1-25.1h0m1 14h0m.6 7.3h0m.4-4.3h0m1.4 8.7h0m.3-6.5h0m1 8.3h0m.1-32.4h0m.8 13.7h0m.8 33.1h0m.8-4.1h0m1.6-5.6h0m2.5-18.5h0m.8-8.9h0m2.4 12.1h0m4 8h0m1.6 20.2h0m.8-32.2h0m.8-17.8h0m0 32.3h0m2.4-5.7h0m.8-28.2h0m0 34.7h0m3.3-34.7h0m.8 11.3h0m.8 16.9h0m0 12.9h0m1.6 2.4h0m4-12.9h0m3.2-29.8h0" stroke="#ff0000" stroke-width="5.6" stroke-linecap="round" fill="none"/><circle cx="228.6" cy="949.15" r="4.0" fill="#00bb00"/><clipPath id="ctr10"><rect x="325.8" y="920.7" width="109.2" height="56.9"/></clipPath><g clip-path="url(#ctr10)"><path d="M327.83 922.2L328.36 931.49L331.55 931.49L332.34 966.34L333.14 964.48L333.67 957.51L336.33 957.51L337.39 959.84L338.45 958.44L340.04 956.58L342.17 954.26L354.38 954.26L354.91 956.58L357.04 956.58L357.57 951.01L433.5 951.01" stroke="#0072bd" stroke-width="2.4" fill="none" stroke-linejoin="round" stroke-linecap="butt"/></g><path d="M327.3 976.1v-1.0M327.3 922.2v1.0M353.85 976.1v-1.0M353.85 922.2v1.0M380.4 976.1v-1.0M380.4 922.2v1.0M406.95 976.1v-1.0M406.95 922.2v1.0M433.5 976.1v-1.0M433.5 922.2v1.0M327.3 976.1h1.0M433.5 976.1h-1.0M327.3 952.87h1.0M433.5 952.87h-1.0M327.3 929.63h1.0M433.5 929.63h-1.0" stroke="#262626" stroke-width="0.6" fill="none"/><rect x="327.3" y="922.2" width="106.2" height="53.9" fill="none" stroke="#262626" stroke-width="0.7"/><text x="327.3" y="985.9" font-size="7.6" text-anchor="middle" fill="#262626">0</text><text x="353.85" y="985.9" font-size="7.6" text-anchor="middle" fill="#262626">50</text><text x="380.4" y="985.9" font-size="7.6" text-anchor="middle" fill="#262626">100</text><text x="406.95" y="985.9" font-size="7.6" text-anchor="middle" fill="#262626">150</text><text x="433.5" y="985.9" font-size="7.6" text-anchor="middle" fill="#262626">200</text><text x="325.8" y="979.11" font-size="7.6" text-anchor="end" fill="#262626">-50</text><text x="325.8" y="955.88" font-size="7.6" text-anchor="end" fill="#262626">0</text><text x="325.8" y="932.64" font-size="7.6" text-anchor="end" fill="#262626">50</text><text transform="translate(380.4 921) scale(1 1.12)" font-size="8.55" text-anchor="middle" font-weight="bold" fill="#000">Trajectory curve</text><clipPath id="caf10"><rect x="477.8" y="920.7" width="108.4" height="56.9"/></clipPath><g clip-path="url(#caf10)"><path d="M479.3 922.56L493.09 949.87L501.15 960.29L506.88 967.3L512.48 971.61L519.38 973.94L529.86 975.02L546.96 975.74L584.7 976.1" stroke="#0072bd" stroke-width="2.4" fill="none" stroke-linejoin="round" stroke-linecap="butt"/></g><path d="M479.3 976.1v-1.0M479.3 922.2v1.0M525.11 976.1v-1.0M525.11 922.2v1.0M584.7 976.1v-1.0M584.7 922.2v1.0M479.3 976.1h1.0M584.7 976.1h-1.0M479.3 958.13h1.0M584.7 958.13h-1.0M479.3 940.17h1.0M584.7 940.17h-1.0M479.3 922.2h1.0M584.7 922.2h-1.0" stroke="#262626" stroke-width="0.6" fill="none"/><rect x="479.3" y="922.2" width="105.4" height="53.9" fill="none" stroke="#262626" stroke-width="0.7"/><text x="479.3" y="985.9" font-size="7.6" text-anchor="middle" fill="#262626">1</text><text x="525.11" y="985.9" font-size="7.6" text-anchor="middle" fill="#262626">10</text><text x="584.7" y="985.9" font-size="7.6" text-anchor="middle" fill="#262626">200</text><text x="477.8" y="979.11" font-size="7.6" text-anchor="end" fill="#262626">0</text><text x="477.8" y="961.14" font-size="7.6" text-anchor="end" fill="#262626">10</text><text x="477.8" y="943.17" font-size="7.6" text-anchor="end" fill="#262626">20</text><text x="477.8" y="925.21" font-size="7.6" text-anchor="end" fill="#262626">30</text><text transform="translate(532 921) scale(1 1.12)" font-size="8.55" text-anchor="middle" font-weight="bold" fill="#000">Average fitness</text><clipPath id="ccv10"><rect x="629.8" y="920.7" width="108.4" height="56.9"/></clipPath><g clip-path="url(#ccv10)"><path d="M631.3 926.24L645.09 946.99L658.88 946.99L663.32 953.19L666.94 959.93L670.01 972.87L672.67 973.4L675.01 975.02L695.33 975.29L698.96 975.83L736.7 976.1" stroke="#0072bd" stroke-width="2.4" fill="none" stroke-linejoin="round" stroke-linecap="butt"/></g><path d="M631.3 976.1v-1.0M631.3 922.2v1.0M677.11 976.1v-1.0M677.11 922.2v1.0M736.7 976.1v-1.0M736.7 922.2v1.0M631.3 976.1h1.0M736.7 976.1h-1.0M631.3 949.15h1.0M736.7 949.15h-1.0M631.3 922.2h1.0M736.7 922.2h-1.0" stroke="#262626" stroke-width="0.6" fill="none"/><rect x="631.3" y="922.2" width="105.4" height="53.9" fill="none" stroke="#262626" stroke-width="0.7"/><text x="631.3" y="985.9" font-size="7.6" text-anchor="middle" fill="#262626">1</text><text x="677.11" y="985.9" font-size="7.6" text-anchor="middle" fill="#262626">10</text><text x="736.7" y="985.9" font-size="7.6" text-anchor="middle" fill="#262626">200</text><text x="629.8" y="979.11" font-size="7.6" text-anchor="end" fill="#262626">0</text><text x="629.8" y="952.16" font-size="7.6" text-anchor="end" fill="#262626">1</text><text x="629.8" y="925.21" font-size="7.6" text-anchor="end" fill="#262626">2</text><text transform="translate(684 921) scale(1 1.12)" font-size="8.55" text-anchor="middle" font-weight="bold" fill="#000">Convergence curve</text><text transform="translate(78.4 1010.07) scale(1 1.13)" font-size="14.3" text-anchor="middle" font-weight="bold" fill="#000">F12</text><path d="M23.7 1023.27L83.6 1013.17L130 1026.67M83.6 1042.87L83.6 1013.17M100.05 1061.42L53.65 1047.92L53.65 1018.22M46.9 1059.72L106.8 1049.62L106.8 1019.92M23.7 1023.97L83.6 1013.87L130 1027.37" stroke="#dcdcdc" stroke-width="0.5" fill="none"/><path d="M74.7 1062.3l-4.3-.1-4.3-.7-21.7-6.3-1.9-1.1 .3-.8 1.7-.7 3.5-.8 23.9-4.1 7.1-.7 3.4 .1 5.2 .8 11.2 3.1 10.5 3.2 1.9 1.3-.6 .7-4.9 1.4-23.9 4-7.1 .7" stroke="#4742e6" stroke-width="0.9" fill="none"/><path d="M77.5 1063.1l-8.4 0-6.1-1.1-21.7-6.3-2.7-1.1-.6-1.2 1.9-1 3.8-.9 30.2-5 8-.5 4.6 .5 4.2 .9 21.7 6.3 2.7 1.1 .5 .4 .1 .7-1.9 1.1-3.8 .9-23.9 4.1-8.6 1.1" stroke="#4465fd" stroke-width="0.9" fill="none"/><path d="M79.3 1063.6l-8.5 .3-4.3-.4-3.9-.7-23.3-6.8-3.5-1.4-.9-1.1 .8-.7 1.2-.6 3.4-.8 31.9-5.4 4.6-.5 6.1-.1 4.3 .4 3.9 .8 24.7 7.2 2.3 1 .6 .6-.1 .8-2.1 1-4.9 1.1-32.3 5.3" stroke="#2d89f5" stroke-width="0.9" fill="none"/><path d="M80.6 1064l-7.8 .5-5.8-.4-4.3-.7-25.1-7.1-3.8-1.5-1.3-1.2 .4-.7 1.2-.6 4.9-1.3 34.1-5.7 4.9-.4 6 0 7 1 25.1 7.1 3.8 1.5 1.3 1.2-.4 .7-1.2 .6-4.9 1.3-34.1 5.7" stroke="#1ea7e1" stroke-width="0.9" fill="none"/><path d="M76.9 1064.8l-9-.1-8.3-1.4-24.7-7.2-3.5-1.6-.7-.6 0-.7 2.1-1.2 5.2-1.3 34.1-5.7 6.3-.5 4.4-.1 5.5 .5 5.8 1.2 24.7 7.2 3.5 1.5 .7 .6 0 .8-2.1 1.2-7.1 1.6-27.9 4.7-9 1.1" stroke="#08bcbe" stroke-width="0.9" fill="none"/><path d="M78.7 1065l-9.5 .2-5.8-.7M123.3 1054.4l1.5 1.4-.5 .8-2.9 1.2M30.4 1054.9l-1.5-1.4 .5-.8 2.9-1.2M75 1044.3l6.3-.3 9 .8" stroke="#3eca8f" stroke-width="0.9" fill="none"/><path d="M75.5 1065.6l-9.6-.3M125.8 1055.2l.3 .4 0 .7-1.5 1M27.9 1054.2l-.3-.5 0-.7 1.5-.9M78.2 1043.8l9.6 .3" stroke="#90ca4d" stroke-width="0.9" fill="none"/><path d="M73.4 1065.9l-5.8-.2M127.5 1055.6l-.3 .9-.5 .4M26.2 1053.7l0-.4 .8-.9M80.3 1043.4l5.8 .2" stroke="#debc29" stroke-width="0.9" fill="none"/><path d="M71.7 1066.2l-2.9-.1M128.7 1056l-.3 .6M25 1053.3l.3-.6M82 1043.1l2.9 .1" stroke="#fdcc32" stroke-width="0.9" fill="none"/><path d="M70.4 1066.4l-.5 0M129.8 1056.3l-.1 .1M23.9 1053l.1-.1M83.3 1042.9l.5 0" stroke="#f6f21e" stroke-width="0.9" fill="none"/><g class="sf"><linearGradient id="g11_29" href="#pb" gradientUnits="userSpaceOnUse" x1="24.47" y1="1053.19" x2="19.60" y2="1024.32"/><path fill="url(#g11_29)" stroke="url(#g11_29)" d="M25.2 1028.1l2 4 2 3 2 2.1 2 1.5 2 .8 2 .5 4 .1 4-.5 12-2.1 12-2.2 4-1.4 2-1.1 2-1.6 2-2.1 2-2.8 2-3.6 1.9-4.7-1.5-4.8-2 4.7-2 3.6-2 2.8-2 2.1-2 1.6-2 1.1-4 1.4-12 2.2-11.9 2-4 .5-4 0-2-.5-2-.9-2-1.4-2-2.1-2-3-2-4z"/><linearGradient id="g11_28" href="#pb" gradientUnits="userSpaceOnUse" x1="26.02" y1="1053.64" x2="21.15" y2="1024.77"/><path fill="url(#g11_28)" stroke="url(#g11_28)" d="M26.8 1031.9l2 4 2 3 2 2.1 2 1.4 2 .9 2 .5 4 0 4-.5 11.9-2 12-2.2 4-1.4 2-1.1 2-1.6 2-2.1 2-2.8 2-3.6 2-4.7-1.6-3.8-1.9 4.7-2 3.6-2 2.8-2 2.1-2 1.6-2 1.1-4 1.4-12 2.2-12 2.1-4 .5-4-.1-2-.5-2-.8-2-1.5-2-2.1-2-3-2-4z"/><linearGradient id="g11_27" href="#pb" gradientUnits="userSpaceOnUse" x1="27.57" y1="1054.10" x2="22.70" y2="1025.22"/><path fill="url(#g11_27)" stroke="url(#g11_27)" d="M28.3 1034.8l2 4 2 3 2 2.1 2 1.4 2 .9 2 .5 4 0 4-.5 12-2 12-2.2 4-1.4 2-1.1 2-1.6 1.9-2.1 2-2.8 2-3.6 2-4.7-1.5-2.9-2 4.7-2 3.6-2 2.8-2 2.1-2 1.6-2 1.1-4 1.4-12 2.2-11.9 2-4 .5-4 0-2-.5-2-.9-2-1.4-2-2.1-2-3-2-4z"/><linearGradient id="g11_26" href="#pb" gradientUnits="userSpaceOnUse" x1="29.11" y1="1054.55" x2="24.24" y2="1025.67"/><path fill="url(#g11_26)" stroke="url(#g11_26)" d="M29.9 1037l2 4 2 3 2 2.1 2 1.5 2 .8 2 .5 4 .1 4-.5 11.9-2.1 12-2.2 4-1.4 2-1.1 2-1.6 2-2.1 2-2.8 2-3.6 2-4.7-1.6-2.2-2 4.7-2 3.6-2 2.8-1.9 2.1-2 1.6-2 1.1-4 1.4-12 2.2-12 2-4 .5-4 0-2-.5-2-.9-2-1.4-2-2.1-2-3-2-4z"/><linearGradient id="g11_25" href="#pb" gradientUnits="userSpaceOnUse" x1="30.66" y1="1055.00" x2="25.79" y2="1026.12"/><path fill="url(#g11_25)" stroke="url(#g11_25)" d="M31.4 1038.7l2 4 2 3 2 2.1 2 1.4 2 .9 2 .5 4 0 4-.5 12-2 12-2.2 4-1.4 2-1.1 1.9-1.6 2-2.1 2-2.8 2-3.6 2-4.7-1.5-1.7-2 4.7-2 3.6-2 2.8-2 2.1-2 1.6-2 1.1-4 1.4-12 2.2-11.9 2.1-4 .5-4-.1-2-.5-2-.8-2-1.5-2-2.1-2-3-2-4z"/><linearGradient id="g11_24" href="#pb" gradientUnits="userSpaceOnUse" x1="32.21" y1="1055.44" x2="27.34" y2="1026.57"/><path fill="url(#g11_24)" stroke="url(#g11_24)" d="M33 1039.9l2 4 2 3 2 2.1 2 1.5 2 .8 2 .5 4 .1 3.9-.5 12-2 12-2.2 4-1.5 2-1.1 2-1.5 2-2.1 2-2.8 2-3.7 2-4.7-1.6-1.2-2 4.7-2 3.6-2 2.8-2 2.1-1.9 1.6-2 1.1-4 1.4-12 2.2-12 2-4 .5-4 0-2-.5-2-.9-2-1.4-2-2.1-2-3-2-4z"/><linearGradient id="g11_23" href="#pb" gradientUnits="userSpaceOnUse" x1="33.75" y1="1055.89" x2="28.88" y2="1027.02"/><path fill="url(#g11_23)" stroke="url(#g11_23)" d="M34.5 1040.8l2 4.1 2 2.9 2 2.2 2 1.4 2 .9 2 .4 4 .1 4-.5 12-2 12-2.2 3.9-1.4 2-1.2 2-1.5 2-2.1 2-2.8 2-3.7 2-4.7-1.5-.9-2 4.7-2 3.7-2 2.8-2 2.1-2 1.5-2 1.1-4 1.5-12 2.2-12 2-3.9 .5-4-.1-2-.5-2-.8-2-1.5-2-2.1-2-3-2-4z"/><linearGradient id="g11_22" href="#pb" gradientUnits="userSpaceOnUse" x1="35.30" y1="1056.35" x2="30.43" y2="1027.47"/><path fill="url(#g11_22)" stroke="url(#g11_22)" d="M36.1 1041.5l2 4.1 2 3 2 2.1 2 1.4 2 .9 2 .4 3.9 .1 4-.5 12-2 12-2.2 4-1.4 2-1.1 2-1.6 2-2.1 2-2.8 2-3.7 2-4.7-1.6-.7-2 4.7-2 3.7-2 2.8-2 2.1-2 1.5-2 1.2-3.9 1.4-12 2.2-12 2-4 .5-4-.1-2-.4-2-.9-2-1.4-2-2.2-2-2.9-2-4.1z"/><linearGradient id="g11_21" href="#pb" gradientUnits="userSpaceOnUse" x1="36.85" y1="1056.80" x2="31.98" y2="1027.92"/><path fill="url(#g11_21)" stroke="url(#g11_21)" d="M37.6 1042.1l2 4 2 3 2 2.2 2 1.4 2 .9 2 .4 4 .1 4-.5 12-2 11.9-2.2 4-1.4 2-1.2 2-1.5 2-2.1 2-2.8 2-3.7 2-4.7-1.5-.6-2 4.7-2 3.7-2 2.8-2 2.1-2 1.6-2 1.1-4 1.4-12 2.2-12 2-4 .5-3.9-.1-2-.4-2-.9-2-1.4-2-2.1-2-3-2-4.1z"/><linearGradient id="g11_20" href="#pb" gradientUnits="userSpaceOnUse" x1="38.39" y1="1057.25" x2="33.52" y2="1028.37"/><path fill="url(#g11_20)" stroke="url(#g11_20)" d="M39.2 1042.6l2 4 2 3 2 2.1 2 1.5 1.9 .9 2 .4 4 .1 4-.5 12-2 12-2.2 4-1.4 2-1.2 2-1.5 2-2.1 2-2.8 2-3.7 2-4.7-1.6-.5-2 4.7-2 3.7-2 2.8-2 2.1-2 1.5-2 1.2-4 1.4-11.9 2.2-12 2-4 .5-4-.1-2-.4-2-.9-2-1.4-2-2.2-2-3-2-4z"/><linearGradient id="g11_19" href="#pb" gradientUnits="userSpaceOnUse" x1="39.94" y1="1057.69" x2="35.07" y2="1028.82"/><path fill="url(#g11_19)" stroke="url(#g11_19)" d="M40.7 1043.1l2 4 2 3 2 2.1 2 1.4 2 .9 2 .5 4 0 4-.5 12-2 11.9-2.2 4-1.4 2-1.1 2-1.6 2-2.1 2-2.8 2-3.6 2-4.7-1.5-.5-2 4.7-2 3.7-2 2.8-2 2.1-2 1.5-2 1.2-4 1.4-12 2.2-12 2-4 .5-4-.1-2-.4-1.9-.9-2-1.5-2-2.1-2-3-2-4z"/><linearGradient id="g11_18" href="#pb" gradientUnits="userSpaceOnUse" x1="41.49" y1="1058.14" x2="36.62" y2="1029.27"/><path fill="url(#g11_18)" stroke="url(#g11_18)" d="M42.3 1043.5l2 4 2 3 1.9 2.2 2 1.4 2 .9 2 .4 4 .1 4-.5 12-2 12-2.2 4-1.4 2-1.2 2-1.5 2-2.1 2-2.8 2-3.7 2-4.7-1.6-.4-2 4.7-2 3.6-2 2.8-2 2.1-2 1.6-2 1.1-4 1.4-11.9 2.2-12 2-4 .5-4 0-2-.5-2-.9-2-1.4-2-2.1-2-3-2-4z"/><linearGradient id="g11_17" href="#pb" gradientUnits="userSpaceOnUse" x1="43.03" y1="1058.60" x2="38.16" y2="1029.72"/><path fill="url(#g11_17)" stroke="url(#g11_17)" d="M43.8 1044l2 4 2 3 2 2.1 2 1.4 2 .9 2 .5 4 0 4-.5 12-2 11.9-2.2 4-1.4 2-1.1 2-1.6 2-2.1 2-2.8 2-3.6 2-4.7-1.5-.5-2 4.7-2 3.7-2 2.8-2 2.1-2 1.5-2 1.2-4 1.4-12 2.2-12 2-4 .5-4-.1-2-.4-2-.9-2-1.4-1.9-2.2-2-3-2-4z"/><linearGradient id="g11_16" href="#pb" gradientUnits="userSpaceOnUse" x1="44.58" y1="1059.05" x2="39.71" y2="1030.17"/><path fill="url(#g11_16)" stroke="url(#g11_16)" d="M45.4 1044.4l1.9 4 2 3 2 2.2 2 1.4 2 .9 2 .4 4 .1 4-.5 12-2 12-2.2 4-1.4 2-1.2 2-1.5 2-2.1 2-2.8 2-3.7 2-4.7-1.6-.4-2 4.7-2 3.6-2 2.8-2 2.1-2 1.6-2 1.1-4 1.4-11.9 2.2-12 2-4 .5-4 0-2-.5-2-.9-2-1.4-2-2.1-2-3-2-4z"/><linearGradient id="g11_15" href="#pb" gradientUnits="userSpaceOnUse" x1="46.13" y1="1059.50" x2="41.26" y2="1030.62"/><path fill="url(#g11_15)" stroke="url(#g11_15)" d="M46.9 1044.9l2 4 2 3 2 2.1 2 1.4 2 .9 2 .5 4 0 13.9-2.1 14-2.6 4-1.4 2-1.1 2-1.6 2-2.1 2-2.8 2-3.6 2-4.7-1.5-.5-2 4.7-2 3.7-2 2.8-2 2.1-2 1.5-2 1.2-4 1.4-12 2.2-12 2-4 .5-4-.1-2-.4-2-.9-2-1.4-2-2.2-2-3-1.9-4z"/><linearGradient id="g11_14" href="#pb" gradientUnits="userSpaceOnUse" x1="47.67" y1="1059.94" x2="42.80" y2="1031.07"/><path fill="url(#g11_14)" stroke="url(#g11_14)" d="M48.4 1045.3l2 4 2 3 2 2.2 2 1.4 2 .9 2 .4 4 .1 4-.5 12-2 12-2.2 4-1.4 2-1.2 2-1.5 2-2.1 2-2.8 2-3.7 1.9-4.7-1.5-.4-2 4.7-2 3.6-2 2.8-2 2.1-2 1.6-2 1.1-4 1.4-14 2.6-13.9 2.1-4 0-2-.5-2-.9-2-1.4-2-2.1-2-3-2-4z"/><linearGradient id="g11_13" href="#pb" gradientUnits="userSpaceOnUse" x1="49.22" y1="1060.39" x2="44.35" y2="1031.52"/><path fill="url(#g11_13)" stroke="url(#g11_13)" d="M50 1045.8l2 4 2 3 2 2.1 2 1.4 2 .9 2 .5 4 0 4-.5 11.9-2 12-2.2 4-1.4 2-1.1 2-1.6 2-2.1 2-2.8 2-3.6 2-4.7-1.6-.5-1.9 4.7-2 3.7-2 2.8-2 2.1-2 1.5-2 1.2-4 1.4-12 2.2-12 2-4 .5-4-.1-2-.4-2-.9-2-1.4-2-2.2-2-3-2-4z"/><linearGradient id="g11_12" href="#pb" gradientUnits="userSpaceOnUse" x1="50.77" y1="1060.85" x2="45.90" y2="1031.97"/><path fill="url(#g11_12)" stroke="url(#g11_12)" d="M51.5 1046.2l2 4 2 3 2 2.2 2 1.4 2 .9 2 .4 4 .1 4-.5 12-2 12-2.2 4-1.4 2-1.2 2-1.5 1.9-2.1 2-2.8 2-3.7 2-4.7-1.5-.4-2 4.7-2 3.6-2 2.8-2 2.1-2 1.6-2 1.1-4 1.4-12 2.2-11.9 2-4 .5-4 0-2-.5-2-.9-2-1.4-2-2.1-2-3-2-4z"/><linearGradient id="g11_11" href="#pb" gradientUnits="userSpaceOnUse" x1="52.31" y1="1061.30" x2="47.44" y2="1032.42"/><path fill="url(#g11_11)" stroke="url(#g11_11)" d="M53.1 1046.7l2 4 2 3 2 2.1 2 1.4 2 .9 2 .5 4 0 4-.5 11.9-2 12-2.2 4-1.4 2-1.1 2-1.6 2-2.1 2-2.8 2-3.6 2-4.7-1.6-.5-2 4.7-2 3.7-2 2.8-1.9 2.1-2 1.5-2 1.2-4 1.4-12 2.2-12 2-4 .5-4-.1-2-.4-2-.9-2-1.4-2-2.2-2-3-2-4z"/><linearGradient id="g11_10" href="#pb" gradientUnits="userSpaceOnUse" x1="53.86" y1="1061.75" x2="48.99" y2="1032.87"/><path fill="url(#g11_10)" stroke="url(#g11_10)" d="M54.6 1047.1l2 4 2 3 2 2.1 2 1.5 2 .9 2 .4 4 .1 4-.5 12-2 12-2.2 4-1.4 2-1.2 1.9-1.5 2-2.1 2-2.8 2-3.7 2-4.7-1.5-.4-2 4.7-2 3.6-2 2.8-2 2.1-2 1.6-2 1.1-4 1.4-12 2.2-11.9 2-4 .5-4 0-2-.5-2-.9-2-1.4-2-2.1-2-3-2-4z"/><linearGradient id="g11_9" href="#pb" gradientUnits="userSpaceOnUse" x1="55.41" y1="1062.19" x2="50.54" y2="1033.32"/><path fill="url(#g11_9)" stroke="url(#g11_9)" d="M56.2 1047.5l2 4 2 3 2 2.2 2 1.4 2 .9 2 .4 4 .1 3.9-.5 12-2 12-2.2 4-1.4 2-1.2 2-1.5 2-2.1 2-2.8 2-3.7 2-4.7-1.6-.4-2 4.7-2 3.7-2 2.8-2 2.1-1.9 1.5-2 1.2-4 1.4-12 2.2-12 2-4 .5-4-.1-2-.4-2-.9-2-1.5-2-2.1-2-3-2-4z"/><linearGradient id="g11_8" href="#pb" gradientUnits="userSpaceOnUse" x1="56.95" y1="1062.64" x2="52.08" y2="1033.77"/><path fill="url(#g11_8)" stroke="url(#g11_8)" d="M57.7 1047.8l2 4.1 2 3 2 2.1 2 1.4 2 .9 2 .4 4 .1 4-.5 12-2 12-2.2 3.9-1.4 2-1.1 2-1.6 2-2.1 2-2.8 2-3.7 2-4.7-1.5-.3-2 4.7-2 3.7-2 2.8-2 2.1-2 1.5-2 1.2-4 1.4-12 2.2-12 2-3.9 .5-4-.1-2-.4-2-.9-2-1.4-2-2.2-2-3-2-4z"/><linearGradient id="g11_7" href="#pb" gradientUnits="userSpaceOnUse" x1="58.50" y1="1063.10" x2="53.63" y2="1034.22"/><path fill="url(#g11_7)" stroke="url(#g11_7)" d="M59.3 1048l2 4.1 2 2.9 2 2.2 2 1.4 2 .9 2 .4 3.9 .1 4-.5 12-2 12-2.2 4-1.4 2-1.2 2-1.5 2-2.1 2-2.8 2-3.7 2-4.7-1.6-.2-2 4.7-2 3.7-2 2.8-2 2.1-2 1.6-2 1.1-3.9 1.4-12 2.2-12 2-4 .5-4-.1-2-.4-2-.9-2-1.4-2-2.1-2-3-2-4.1z"/><linearGradient id="g11_6" href="#pb" gradientUnits="userSpaceOnUse" x1="60.05" y1="1063.55" x2="55.18" y2="1034.67"/><path fill="url(#g11_6)" stroke="url(#g11_6)" d="M60.8 1048l2 4 2 3 2 2.1 2 1.5 2 .8 2 .5 4 .1 4-.5 12-2 11.9-2.2 4-1.5 2-1.1 2-1.5 2-2.1 2-2.8 2-3.7 2-4.7-1.5 0-2 4.7-2 3.7-2 2.8-2 2.1-2 1.5-2 1.2-4 1.4-12 2.2-12 2-4 .5-3.9-.1-2-.4-2-.9-2-1.4-2-2.2-2-2.9-2-4.1z"/><linearGradient id="g11_5" href="#pb" gradientUnits="userSpaceOnUse" x1="61.59" y1="1064.00" x2="56.72" y2="1035.12"/><path fill="url(#g11_5)" stroke="url(#g11_5)" d="M62.4 1047.7l2 4 2 3 2 2.1 2 1.4 2 .9 1.9 .5 4 0 4-.5 12-2 12-2.2 4-1.4 2-1.1 2-1.6 2-2.1 2-2.8 2-3.6 2-4.7-1.6 .3-2 4.7-2 3.7-2 2.8-2 2.1-2 1.5-2 1.1-4 1.5-11.9 2.2-12 2-4 .5-4-.1-2-.5-2-.8-2-1.5-2-2.1-2-3-2-4z"/><linearGradient id="g11_4" href="#pb" gradientUnits="userSpaceOnUse" x1="63.14" y1="1064.44" x2="58.27" y2="1035.57"/><path fill="url(#g11_4)" stroke="url(#g11_4)" d="M63.9 1046.9l2 4 2 3 2 2.1 2 1.5 2 .8 2 .5 4 .1 4-.5 12-2.1 11.9-2.2 4-1.4 2-1.1 2-1.6 2-2.1 2-2.8 2-3.6 2-4.7-1.5 .8-2 4.7-2 3.6-2 2.8-2 2.1-2 1.6-2 1.1-4 1.4-12 2.2-12 2-4 .5-4 0-1.9-.5-2-.9-2-1.4-2-2.1-2-3-2-4z"/><linearGradient id="g11_3" href="#pb" gradientUnits="userSpaceOnUse" x1="64.69" y1="1064.89" x2="59.82" y2="1036.02"/><path fill="url(#g11_3)" stroke="url(#g11_3)" d="M65.5 1045.6l2 4 2 3 1.9 2.1 2 1.4 2 .9 2 .5 4 0 4-.5 12-2 12-2.2 4-1.4 2-1.1 2-1.6 2-2.1 2-2.8 2-3.6 2-4.7-1.6 1.3-2 4.7-2 3.6-2 2.8-2 2.1-2 1.6-2 1.1-4 1.4-11.9 2.2-12 2.1-4 .5-4-.1-2-.5-2-.8-2-1.5-2-2.1-2-3-2-4z"/><linearGradient id="g11_2" href="#pb" gradientUnits="userSpaceOnUse" x1="66.23" y1="1065.35" x2="61.36" y2="1036.47"/><path fill="url(#g11_2)" stroke="url(#g11_2)" d="M67 1043.6l2 4 2 3 2 2.1 2 1.4 2 .9 2 .5 4 0 4-.5 12-2 11.9-2.2 4-1.4 2-1.1 2-1.6 2-2.1 2-2.8 2-3.6 2-4.7-1.5 2-2 4.7-2 3.6-2 2.8-2 2.1-2 1.6-2 1.1-4 1.4-12 2.2-12 2-4 .5-4 0-2-.5-2-.9-2-1.4-1.9-2.1-2-3-2-4z"/><linearGradient id="g11_1" href="#pb" gradientUnits="userSpaceOnUse" x1="67.78" y1="1065.80" x2="62.91" y2="1036.92"/><path fill="url(#g11_1)" stroke="url(#g11_1)" d="M68.6 1040.7l2 4 1.9 3 2 2.1 2 1.5 2 .8 2 .5 4 .1 4-.5 12-2.1 12-2.2 4-1.4 2-1.1 2-1.6 2-2.1 2-2.8 2-3.6 2-4.7-1.6 2.9-2 4.7-2 3.6-2 2.8-2 2.1-2 1.6-2 1.1-4 1.4-11.9 2.2-12 2-4 .5-4 0-2-.5-2-.9-2-1.4-2-2.1-2-3-2-4z"/><linearGradient id="g11_0" href="#pb" gradientUnits="userSpaceOnUse" x1="69.33" y1="1066.25" x2="64.46" y2="1037.37"/><path fill="url(#g11_0)" stroke="url(#g11_0)" d="M70.1 1036.8l2 4 2 3 2 2.1 2 1.4 2 .9 2 .5 4 0 4-.5 11.9-2 12-2.2 4-1.4 2-1.1 2-1.6 2-2.1 2-2.8 2-3.6 2-4.7-1.5 3.9-2 4.7-2 3.6-2 2.8-2 2.1-2 1.6-2 1.1-4 1.4-12 2.2-12 2.1-4 .5-4-.1-2-.5-2-.8-2-1.5-2-2.1-1.9-3-2-4z"/></g><path d="M23.7 1023.27L23.7 1052.97L70.1 1066.47L130 1056.37M23.70 1052.97l2.17 -0.37M23.70 1023.97l2.17 -0.37M70.10 1066.47l2.17 -0.37M46.90 1059.72l2.17 -0.37M23.70 1052.97l2.17 -0.37M70.10 1066.47l-2.11 -0.61M100.05 1061.42l-2.11 -0.61M130.00 1056.37l-2.11 -0.61" stroke="#3a3a3a" stroke-width="0.95" fill="none"/><text x="21.5" y="1055.48" font-size="7.6" text-anchor="end" fill="#262626">0</text><text x="21.5" y="1026.47" font-size="7.6" text-anchor="end" fill="#262626">5</text><text x="67.6" y="1074.98" font-size="7.6" text-anchor="end" fill="#262626">-50</text><text x="44.4" y="1068.23" font-size="7.6" text-anchor="end" fill="#262626">0</text><text x="21.2" y="1061.48" font-size="7.6" text-anchor="end" fill="#262626">50</text><text x="72.6" y="1074.98" font-size="7.6" text-anchor="start" fill="#262626">-50</text><text x="102.55" y="1069.93" font-size="7.6" text-anchor="start" fill="#262626">0</text><text x="132.5" y="1064.88" font-size="7.6" text-anchor="start" fill="#262626">50</text><text x="5.1" y="1016.17" font-size="8.2" fill="#262626">×10<tspan font-size="5.6" dy="-3.6">8</tspan></text><clipPath id="csh11"><rect x="175.5" y="1012.87" width="106.2" height="53.9"/></clipPath><g clip-path="url(#csh11)"><path d="M204.7 1059.4l-6-.7-4.3-1.4-2.7-2-1.4-2.7-.5-4.7 .2-19.5 1.2-3.4 1.2-1.4 1.7-1.1 4.6-1.5 7.3-.8 46.5 .1 5.3 .5 4 1.1 2.6 1.4 2 2.4 .7 2 .3 2.7-.1 20.2-.4 2-.9 2-1.2 1.4-1.7 1.2-4.6 1.5-7.3 .7-46.5 0" stroke="#3e26a8" stroke-width="1.3" fill="none"/><path d="M203.4 1062.1l-7.6-.7-5-1.4-3.4-2-1.3-1.5-.9-1.9-.5-2-.3-3.3 .2-21.6 .6-2.7 .9-1.8 1.4-1.6 1.9-1.3 3.4-1.4 2.6-.6 8-.8 50.4 0 6.7 .6 5.3 1.3 3.1 1.6 2.5 2.6 1 2.7 .3 3.4 0 21.6-.5 2.7-1.1 2.5-1.4 1.5-1.9 1.4-3.4 1.3-2.6 .6-8 .8-50.4 0" stroke="#4746ea" stroke-width="1.3" fill="none"/><path d="M196.7 1063.5l-6.6-1.1-4-1.7-1.9-1.3-1.2-1.4-1.6-3.4-.6-6 .2-21.6 .6-2.7 .9-2 1.7-2 1.9-1.4 3-1.3 3.7-.9 9.2-1 53.2 0 7.9 .7 5.3 1.3 4 2.1 1.3 1.2 1.4 2 .8 2.7 .4 3.3-.1 22.9-.4 2.7-1.1 2.7-1.7 2.1-1.9 1.3-3 1.4-3.7 .9-9.2 .9-45.2 .2-13.3-.6" stroke="#406dfe" stroke-width="1.3" fill="none"/><path d="M206 1065.4l-11.9-.6-6.7-1.3-2.6-1.1-2.7-1.6-1.4-1.4-1.3-2.1-.9-2.7-.4-4 .1-23.6 .5-2.7 1-2.7 1.6-2 2.2-1.7 2.6-1.3 3.7-1 9.6-1.2 13.3-.2 43.8 .1 7.9 .7 5.6 1.2 4.3 2.1 1.6 1.3 1.6 2 1 2.7 .6 4.1-.1 24.2-.5 2.7-1 2.7-1.6 2-2.2 1.7-2.6 1.3-3.7 1.1-9.6 1.1-51.8 .2" stroke="#2994ed" stroke-width="1.3" fill="none"/><path d="M195.4 1066.2l-8-1.2-5.3-2-2.4-1.6-1.3-1.4-1.2-2-.7-2-.5-2.7-.2-4 0-18.9 .3-4.7 .7-3.3 1.1-2.1 1.8-2 2.4-1.7 2.7-1.2 4.7-1.2 9.9-1 19.9-.2 38.5 .2 8 .7 6.6 1.5 4.3 2.2 1.5 1.3 1.5 2.1 1.2 3.3 .5 4.1-.2 24.9-.6 3.4-1.3 2.7-1.8 2-2.4 1.6-2.7 1.2-4.7 1.2-4.9 .7-6.3 .4-47.8 .1-13.3-.4" stroke="#0fb2d4" stroke-width="1.3" fill="none"/><path d="M190.7 1066.8l-5.9-1.2-4-1.5-3-2-2.3-3M281.7 1059.1l-2.3 3-3 2-4 1.5-5.9 1.2M175.5 1020.6l2.3-3 3-2 4-1.5 5.9-1.2M266.5 1012.9l5.9 1.2 4 1.5 3 2 2.3 3" stroke="#2cc4a6" stroke-width="1.3" fill="none"/><path d="M184.9 1066.8l-5.4-1.9-2.4-1.5-1.6-1.4M281.7 1062l-3.7 2.7-5.7 2.1M175.5 1017.7l1.6-1.5 2.4-1.4 5.4-1.9M272.3 1012.9l5.7 2 3.7 2.8" stroke="#70cd65" stroke-width="1.3" fill="none"/><path d="M181.2 1066.8l-3.3-1.4-2.4-1.5M281.7 1063.9l-2.7 1.6-3 1.3M175.5 1015.8l2.4-1.6 3.3-1.3M276 1012.9l3 1.2 2.7 1.7" stroke="#cec027" stroke-width="1.3" fill="none"/><path d="M178.4 1066.8l-2.9-1.5M281.7 1065.3l-2.9 1.5M175.5 1014.3l2.9-1.4M278.8 1012.9l2.9 1.4" stroke="#fec736" stroke-width="1.3" fill="none"/><path d="M176 1066.8l-.5-.3M281.7 1066.5l-.5 .3M175.5 1013.1l.5-.2M281.2 1012.9l.5 .2" stroke="#f6f11f" stroke-width="1.3" fill="none"/></g><path d="M175.5 1066.77v-1.0M175.5 1012.87v1.0M228.6 1066.77v-1.0M228.6 1012.87v1.0M281.7 1066.77v-1.0M281.7 1012.87v1.0M175.5 1066.77h1.0M281.7 1066.77h-1.0M175.5 1039.82h1.0M281.7 1039.82h-1.0M175.5 1012.87h1.0M281.7 1012.87h-1.0" stroke="#262626" stroke-width="0.6" fill="none"/><rect x="175.5" y="1012.87" width="106.2" height="53.9" fill="none" stroke="#262626" stroke-width="0.7"/><text x="175.5" y="1076.57" font-size="7.6" text-anchor="middle" fill="#262626">-50</text><text x="228.6" y="1076.57" font-size="7.6" text-anchor="middle" fill="#262626">0</text><text x="281.7" y="1076.57" font-size="7.6" text-anchor="middle" fill="#262626">50</text><text x="174" y="1069.78" font-size="7.6" text-anchor="end" fill="#262626">-50</text><text x="174" y="1042.83" font-size="7.6" text-anchor="end" fill="#262626">0</text><text x="174" y="1015.88" font-size="7.6" text-anchor="end" fill="#262626">50</text><text transform="translate(228.6 1011.67) scale(1 1.12)" font-size="8.55" text-anchor="middle" font-weight="bold" fill="#000">Search history</text><path d="M178.9 1020.7h0m0 37.8h0m.8-35.4h0m1.6 7.3h0m0 12.8h0m.8 7.3h0m.8-7.3h0m0 17h0m1.6-27.4h0m.8-5.7h0m1.6-4.8h0m1.6 33h0m1.6-11.3h0m0 12.9h0m.8-25.7h0m.8-3.3h0m0 4.9h0m.9 13.7h0m1.6 17.7h0m1.6-8.9h0m.8-5.6h0m.8-26.6h0m0 12.9h0m.8 21.7h0m1.6-17.7h0m2.4-12.1h0m2.4 26.6h0m.4-20.6h0m1.2 13.8h0m.8-24.6h0m.6 17.6h0m1.1-13.6h0m0 22.6h0m1.6-16.7h0m.4 4h0m.8-.4h0m.4-6.2h0m.1 9.7h0m1.3 7.3h0m.2-25.9h0m.3 14.8h0m.4 1.9h0m.1 .1h0m0 1.9h0m.2 6h0m.7-8.5h0m.1 4.3h0m.9 2.1h0m.1-.6h0m.2 2.6h0m.1-12.9h0m.1-.8h0m0 21.3h0m1.1-6.8h0m.2-4.3h0m.2-10.2h0m.3 6.6h0m0 1.5h0m.1-9.8h0m.3 9.2h0m.1-3.9h0m.2 14.1h0m.1-6.7h0m.6-21.9h0m0 28.2h0m.1-18.3h0m0 16h0m.1 1.6h0m.1-.7h0m0 3.9h0m.2-24.8h0m0 16.6h0m.5-6.8h0m0 5.1h0m0 3.7h0m.4 2.6h0m.1-19.4h0m.4 5.9h0m.7 5.8h0m.1-7.4h0m.2-3.8h0m.2 20.8h0m.1-1.2h0m.4-6.7h0m.1 1.2h0m1-14h0m0 11.2h0m.1-3.1h0m.3-7.6h0m.3 2.8h0m.1 2.3h0m.1-5.6h0m0 16.3h0m.1-3.2h0m0 3h0m.1-21.5h0m0 6.4h0m.1 12.1h0m.3-2.6h0m0 5.2h0m.2-.8h0m0 7.1h0m.1-27.9h0m.1 6h0m.1 5.7h0m.2-.7h0m.4-6.7h0m0 4.9h0m.1 9.7h0m.6-9h0m.2 12.4h0m.2-1.3h0m.1-3h0m.2-3.4h0m0 6h0m.5-1.5h0m.3 4.6h0m0 2.2h0m.5-8.6h0m.1 4.8h0m.2-10.3h0m.4-1.8h0m.1 3.7h0m.3 3.1h0m.1-10.9h0m0 8.3h0m.1-21.4h0m.2 23.2h0m.1-3h0m0 5.6h0m.2 .1h0m.2-9.9h0m.1 13.6h0m.2-12.7h0m.1 .7h0m0 4.6h0m.1 1h0m.1-2.2h0m.1 2.6h0m.2-4.4h0m0 .6h0m.2 2.1h0m0 3.8h0m.1 5.7h0m.3-13h0m0 5.3h0m.2-20.5h0m.4 4.6h0m0 5.5h0m.1 12.9h0m.3-27h0m.1 35.7h0m.1-5.5h0m.5-13.6h0m.1 22.5h0m.6-19.9h0m.6 9.1h0m.1-8h0m.6 9.5h0m.1-4.6h0m.2-6.5h0m0 3.2h0m.3-21.1h0m.7 19.6h0m.1 9.9h0m.2-7.2h0m.1 8h0m.7-11.7h0m.2 8.6h0m.2-16.3h0m1-12.5h0m0 45.1h0m.2-16.7h0m0 3.8h0m.5-6h0m.1-4.5h0m0 19.3h0m.5-20.8h0m.2 .5h0m0 10h0m.1 19.2h0m.4-21.6h0m.4 9.5h0m.1-15.2h0m0 7h0m.1-2.1h0m0 2.2h0m.3 1.8h0m.3-25.1h0m.8 17.9h0m.9-4.4h0m.7-19.1h0m.3 29.4h0m2.6-17h0m.3 20.6h0m.8-26.6h0m0 23.4h0m.5-9.5h0m.6 10h0m.3-10.2h0m.3-10.5h0m1.6-8h0m0 20.1h0m0 20.9h0m0 4.9h0m1.6-41.9h0m4.8 9.7h0m.8-4.9h0m0 12.9h0m1.6 16.1h0m.8-12.9h0m1.6 5.7h0m2.5-20.2h0m0 30.6h0m.8-41h0m1.6 25.7h0m0 21h0m1.6-5.7h0m1.6-14.5h0m2.4-27.3h0m.8 12.9h0m4.8-2.5h0" stroke="#ff0000" stroke-width="5.6" stroke-linecap="round" fill="none"/><circle cx="227.54" cy="1039.82" r="4.0" fill="#00bb00"/><clipPath id="ctr11"><rect x="325.8" y="1011.37" width="109.2" height="56.9"/></clipPath><g clip-path="url(#ctr11)"><path d="M327.83 1066.77L328.36 1060.97L328.89 1013.21L329.42 1013.21L329.95 1016.62L332.61 1017.3L336.33 1018.33L338.98 1019.01L342.17 1020.72L433.5 1020.72" stroke="#0072bd" stroke-width="2.4" fill="none" stroke-linejoin="round" stroke-linecap="butt"/></g><path d="M327.3 1066.77v-1.0M327.3 1012.87v1.0M353.85 1066.77v-1.0M353.85 1012.87v1.0M380.4 1066.77v-1.0M380.4 1012.87v1.0M406.95 1066.77v-1.0M406.95 1012.87v1.0M433.5 1066.77v-1.0M433.5 1012.87v1.0M327.3 1054.15h1.0M433.5 1054.15h-1.0M327.3 1040.5h1.0M433.5 1040.5h-1.0M327.3 1026.86h1.0M433.5 1026.86h-1.0M327.3 1013.21h1.0M433.5 1013.21h-1.0" stroke="#262626" stroke-width="0.6" fill="none"/><rect x="327.3" y="1012.87" width="106.2" height="53.9" fill="none" stroke="#262626" stroke-width="0.7"/><text x="327.3" y="1076.57" font-size="7.6" text-anchor="middle" fill="#262626">0</text><text x="353.85" y="1076.57" font-size="7.6" text-anchor="middle" fill="#262626">50</text><text x="380.4" y="1076.57" font-size="7.6" text-anchor="middle" fill="#262626">100</text><text x="406.95" y="1076.57" font-size="7.6" text-anchor="middle" fill="#262626">150</text><text x="433.5" y="1076.57" font-size="7.6" text-anchor="middle" fill="#262626">200</text><text x="325.8" y="1057.16" font-size="7.6" text-anchor="end" fill="#262626">-6</text><text x="325.8" y="1043.51" font-size="7.6" text-anchor="end" fill="#262626">-4</text><text x="325.8" y="1029.86" font-size="7.6" text-anchor="end" fill="#262626">-2</text><text x="325.8" y="1016.22" font-size="7.6" text-anchor="end" fill="#262626">0</text><text transform="translate(380.4 1011.67) scale(1 1.12)" font-size="8.55" text-anchor="middle" font-weight="bold" fill="#000">Trajectory curve</text><clipPath id="caf11"><rect x="477.8" y="1011.37" width="108.4" height="56.9"/></clipPath><g clip-path="url(#caf11)"><path d="M479.3 1013.37L493.09 1060.31L501.15 1065.53L506.88 1066.77L584.7 1066.77" stroke="#0072bd" stroke-width="2.4" fill="none" stroke-linejoin="round" stroke-linecap="butt"/></g><path d="M479.3 1066.77v-1.0M479.3 1012.87v1.0M525.11 1066.77v-1.0M525.11 1012.87v1.0M584.7 1066.77v-1.0M584.7 1012.87v1.0M479.3 1066.77h1.0M584.7 1066.77h-1.0M479.3 1041.93h1.0M584.7 1041.93h-1.0M479.3 1017.09h1.0M584.7 1017.09h-1.0" stroke="#262626" stroke-width="0.6" fill="none"/><rect x="479.3" y="1012.87" width="105.4" height="53.9" fill="none" stroke="#262626" stroke-width="0.7"/><text x="479.3" y="1076.57" font-size="7.6" text-anchor="middle" fill="#262626">1</text><text x="525.11" y="1076.57" font-size="7.6" text-anchor="middle" fill="#262626">10</text><text x="584.7" y="1076.57" font-size="7.6" text-anchor="middle" fill="#262626">200</text><text x="477.8" y="1069.78" font-size="7.6" text-anchor="end" fill="#262626">0</text><text x="477.8" y="1044.94" font-size="7.6" text-anchor="end" fill="#262626">1</text><text x="477.8" y="1020.1" font-size="7.6" text-anchor="end" fill="#262626">2</text><text transform="translate(532 1011.67) scale(1 1.12)" font-size="8.55" text-anchor="middle" font-weight="bold" fill="#000">Average fitness</text><text x="479.9" y="1011.67" font-size="8.2" fill="#262626">×10<tspan font-size="5.6" dy="-3.6">7</tspan></text><clipPath id="ccv11"><rect x="629.8" y="1011.37" width="108.4" height="56.9"/></clipPath><g clip-path="url(#ccv11)"><path d="M631.3 1017.18L645.09 1055.45L653.15 1063.27L658.88 1063.54L663.32 1065.69L670.01 1065.96L673.87 1066.61L677.11 1066.77L736.7 1066.77" stroke="#0072bd" stroke-width="2.4" fill="none" stroke-linejoin="round" stroke-linecap="butt"/></g><path d="M631.3 1066.77v-1.0M631.3 1012.87v1.0M677.11 1066.77v-1.0M677.11 1012.87v1.0M736.7 1066.77v-1.0M736.7 1012.87v1.0M631.3 1066.77h1.0M736.7 1066.77h-1.0M631.3 1039.82h1.0M736.7 1039.82h-1.0M631.3 1012.87h1.0M736.7 1012.87h-1.0" stroke="#262626" stroke-width="0.6" fill="none"/><rect x="631.3" y="1012.87" width="105.4" height="53.9" fill="none" stroke="#262626" stroke-width="0.7"/><text x="631.3" y="1076.57" font-size="7.6" text-anchor="middle" fill="#262626">1</text><text x="677.11" y="1076.57" font-size="7.6" text-anchor="middle" fill="#262626">10</text><text x="736.7" y="1076.57" font-size="7.6" text-anchor="middle" fill="#262626">200</text><text x="629.8" y="1069.78" font-size="7.6" text-anchor="end" fill="#262626">0</text><text x="629.8" y="1042.83" font-size="7.6" text-anchor="end" fill="#262626">5</text><text x="629.8" y="1015.88" font-size="7.6" text-anchor="end" fill="#262626">10</text><text transform="translate(684 1011.67) scale(1 1.12)" font-size="8.55" text-anchor="middle" font-weight="bold" fill="#000">Convergence curve</text><text transform="translate(78.4 1100.74) scale(1 1.13)" font-size="14.3" text-anchor="middle" font-weight="bold" fill="#000">F13</text><path d="M23.7 1113.94L83.6 1103.84L130 1117.34M83.6 1133.54L83.6 1103.84M100.05 1152.09L53.65 1138.59L53.65 1108.89M46.9 1150.39L106.8 1140.29L106.8 1110.59M23.7 1125.53L83.6 1115.43L130 1128.93" stroke="#dcdcdc" stroke-width="0.5" fill="none"/><path d="M76.9 1152.7l-6.4 0-6-1-17.2-4.9-2.6-1-1.5-1.2 .6-.8 4.3-1.3 24-4.1 7.5-.5 3.6 .1 6 1 18.6 5.4 2.6 1.5-.3 .8-2.8 1.1-5.5 1.1-18 3-6.9 .8" stroke="#484bef" stroke-width="0.9" fill="none"/><path d="M77.7 1153.8l-8.8 0-8.1-1.5-19.9-5.9-2.6-1.3-.4-1 2.2-1.2 5.2-1.2 28.3-4.6 5.1-.4 6.1 .2 8.1 1.5 19.9 5.9 2.6 1.2 .4 1.1-2.2 1.2-5.2 1.2-21.8 3.8-8.9 1" stroke="#3678fe" stroke-width="0.9" fill="none"/><path d="M77.3 1154.7l-8.9-.1-8.4-1.4-21.6-6.3-3.4-1.6-.6-.6-.1-.7 2.1-1.2 5-1.3 30.2-5 10.7-.6 5.5 .5 5.9 1.1 21.6 6.3 3.4 1.6 .6 .6 .1 .7-2.1 1.2-6.9 1.7-24 4-9.1 1.1" stroke="#23a0e5" stroke-width="0.9" fill="none"/><path d="M79 1155.1l-5.4 .3-4.9-.1-8.8-1.4-23.4-6.7-3.7-1.5-.9-.6-.4-1 .7-.7 1.1-.7 6.7-1.7 32.3-5.2 4.9-.5 6.2 0 4.5 .4 5.9 1.1 24.8 7.2 3.2 1.6 .4 .6-.3 .8-2.9 1.4-5.3 1.2-23.8 4.1-10.9 1.4" stroke="#08bcbe" stroke-width="0.9" fill="none"/><path d="M78.7 1155.7l-6.5 .2-8.7-.7M123.4 1145.1l1.1 1.3-.4 .8-2.7 1.3M30.3 1145.6l-1.1-1.3 .4-.8 2.7-1.3M75 1135l6.5-.2 8.7 .7" stroke="#4fcc80" stroke-width="0.9" fill="none"/><path d="M74.9 1156.3l-8.5-.2M126.3 1146l.1 .9-1.2 .9M27.4 1144.7l-.1-1 1.2-.9M78.8 1134.3l8.5 .3" stroke="#bac430" stroke-width="0.9" fill="none"/><path d="M72.4 1156.8l-4.1-.2M128.2 1146.5l-.5 .9M25.5 1144.2l.5-.9M81.3 1133.9l4.1 .2" stroke="#fec239" stroke-width="0.9" fill="none"/><path d="M70.5 1157.1l-.7 0M129.7 1147l-.1 .1M24 1143.7l.1-.1M83.2 1133.6l.7 0" stroke="#f6f21e" stroke-width="0.9" fill="none"/><g class="sf"><linearGradient id="g12_29" href="#pb" gradientUnits="userSpaceOnUse" x1="24.47" y1="1143.86" x2="19.60" y2="1114.99"/><path fill="url(#g12_29)" stroke="url(#g12_29)" d="M25.2 1118.3l2 3.6 2 2.8 2 2 2 1.5 2 1 2 .5 4 .4 4-.4 10-1.6 10-1.7 4-1 4-1.7 2-1.3 2-1.6 2-2.1 2-2.8 2-3.4 1.9-4.3-1.5-4.4-2 4.3-2 3.4-2 2.8-2 2.1-2 1.6-2 1.3-4 1.7-4 1-10 1.7-9.9 1.7-4 .3-4-.3-2-.6-2-1-2-1.5-2-2-2-2.8-2-3.6z"/><linearGradient id="g12_28" href="#pb" gradientUnits="userSpaceOnUse" x1="26.02" y1="1144.31" x2="21.15" y2="1115.44"/><path fill="url(#g12_28)" stroke="url(#g12_28)" d="M26.8 1121.9l2 3.6 2 2.7 2 2.1 2 1.4 2 1 2 .6 4 .3 4-.3 9.9-1.6 10-1.8 4-1 4-1.7 2-1.2 2-1.7 2-2.1 2-2.7 2-3.5 2-4.2-1.6-3.6-1.9 4.3-2 3.4-2 2.8-2 2.1-2 1.6-2 1.3-4 1.7-4 1-10 1.7-10 1.6-4 .4-4-.4-2-.5-2-1-2-1.5-2-2-2-2.8-2-3.6z"/><linearGradient id="g12_27" href="#pb" gradientUnits="userSpaceOnUse" x1="27.57" y1="1144.76" x2="22.70" y2="1115.89"/><path fill="url(#g12_27)" stroke="url(#g12_27)" d="M28.3 1124.7l2 3.6 2 2.8 2 2 2 1.5 2 .9 2 .6 4 .4 4-.4 10-1.6 10-1.7 4-1.1 4-1.6 2-1.3 2-1.6 1.9-2.2 2-2.7 2-3.4 2-4.3-1.5-2.8-2 4.2-2 3.5-2 2.7-2 2.1-2 1.7-2 1.2-4 1.7-4 1-10 1.8-9.9 1.6-4 .3-4-.3-2-.6-2-1-2-1.4-2-2.1-2-2.7-2-3.6z"/><linearGradient id="g12_26" href="#pb" gradientUnits="userSpaceOnUse" x1="29.11" y1="1145.21" x2="24.24" y2="1116.34"/><path fill="url(#g12_26)" stroke="url(#g12_26)" d="M29.9 1126.9l2 3.6 2 2.8 2 2.1 2 1.4 2 1 2 .6 4 .3 4-.3 9.9-1.7 10-1.7 4-1 4-1.7 2-1.3 2-1.6 2-2.1 2-2.7 2-3.5 2-4.3-1.6-2.2-2 4.3-2 3.4-2 2.7-1.9 2.2-2 1.6-2 1.3-4 1.6-4 1.1-10 1.7-10 1.6-4 .4-4-.4-2-.6-2-.9-2-1.5-2-2-2-2.8-2-3.6z"/><linearGradient id="g12_25" href="#pb" gradientUnits="userSpaceOnUse" x1="30.66" y1="1145.66" x2="25.79" y2="1116.79"/><path fill="url(#g12_25)" stroke="url(#g12_25)" d="M31.4 1128.7l2 3.6 2 2.8 2 2 2 1.5 2 .9 2 .6 4 .4 4-.4 10-1.6 10-1.7 4-1.1 4-1.6 2-1.3 1.9-1.6 2-2.2 2-2.7 2-3.4 2-4.3-1.5-1.8-2 4.3-2 3.5-2 2.7-2 2.1-2 1.6-2 1.3-4 1.7-4 1-10 1.7-9.9 1.7-4 .3-4-.3-2-.6-2-1-2-1.4-2-2.1-2-2.8-2-3.6z"/><linearGradient id="g12_24" href="#pb" gradientUnits="userSpaceOnUse" x1="32.21" y1="1146.11" x2="27.34" y2="1117.24"/><path fill="url(#g12_24)" stroke="url(#g12_24)" d="M33 1130.1l2 3.6 2 2.7 2 2.1 2 1.4 2 1 2 .6 4 .3 3.9-.3 10-1.6 10-1.8 4-1 4-1.7 2-1.2 2-1.7 2-2.1 2-2.7 2-3.5 2-4.2-1.6-1.4-2 4.3-2 3.4-2 2.7-2 2.2-1.9 1.6-2 1.3-4 1.6-4 1.1-10 1.7-10 1.6-4 .4-4-.4-2-.6-2-.9-2-1.5-2-2-2-2.8-2-3.6z"/><linearGradient id="g12_23" href="#pb" gradientUnits="userSpaceOnUse" x1="33.75" y1="1146.56" x2="28.88" y2="1117.69"/><path fill="url(#g12_23)" stroke="url(#g12_23)" d="M34.5 1131.1l2 3.6 2 2.8 2 2 2 1.5 2 1 2 .6 4 .3 4-.3 10-1.7 10-1.7 4-1 3.9-1.7 2-1.3 2-1.6 2-2.1 2-2.8 2-3.4 2-4.3-1.5-1-2 4.2-2 3.5-2 2.7-2 2.1-2 1.7-2 1.2-4 1.7-4 1-10 1.8-10 1.6-3.9 .3-4-.3-2-.6-2-1-2-1.4-2-2.1-2-2.7-2-3.6z"/><linearGradient id="g12_22" href="#pb" gradientUnits="userSpaceOnUse" x1="35.30" y1="1147.01" x2="30.43" y2="1118.14"/><path fill="url(#g12_22)" stroke="url(#g12_22)" d="M36.1 1132l2 3.6 2 2.7 2 2.1 2 1.4 2 1 2 .6 3.9 .3 4-.3 10-1.6 10-1.8 4-1 4-1.7 2-1.2 2-1.7 2-2.1 2-2.7 2-3.4 2-4.3-1.6-.9-2 4.3-2 3.4-2 2.8-2 2.1-2 1.6-2 1.3-3.9 1.7-4 1-10 1.7-10 1.7-4 .3-4-.3-2-.6-2-1-2-1.5-2-2-2-2.8-2-3.6z"/><linearGradient id="g12_21" href="#pb" gradientUnits="userSpaceOnUse" x1="36.85" y1="1147.46" x2="31.98" y2="1118.59"/><path fill="url(#g12_21)" stroke="url(#g12_21)" d="M37.6 1132.7l2 3.6 2 2.7 2 2.1 2 1.4 2 1 2 .6 4 .3 4-.3 10-1.6 10-1.8 3.9-1 4-1.7 2-1.2 2-1.7 2-2.1 2-2.7 2-3.5 2-4.2-1.5-.7-2 4.3-2 3.4-2 2.7-2 2.1-2 1.7-2 1.2-4 1.7-4 1-10 1.8-10 1.6-4 .3-3.9-.3-2-.6-2-1-2-1.4-2-2.1-2-2.7-2-3.6z"/><linearGradient id="g12_20" href="#pb" gradientUnits="userSpaceOnUse" x1="38.39" y1="1147.91" x2="33.52" y2="1119.04"/><path fill="url(#g12_20)" stroke="url(#g12_20)" d="M39.2 1133.2l2 3.6 2 2.8 2 2 2 1.5 1.9 1 2 .5 4 .4 4-.4 10-1.6 10-1.7 4-1 4-1.7 2-1.3 2-1.6 2-2.2 2-2.7 2-3.4 2-4.3-1.6-.5-2 4.2-2 3.5-2 2.7-2 2.1-2 1.7-2 1.2-4 1.7-3.9 1-10 1.8-10 1.6-4 .3-4-.3-2-.6-2-1-2-1.4-2-2.1-2-2.7-2-3.6z"/><linearGradient id="g12_19" href="#pb" gradientUnits="userSpaceOnUse" x1="39.94" y1="1148.36" x2="35.07" y2="1119.49"/><path fill="url(#g12_19)" stroke="url(#g12_19)" d="M40.7 1133.7l2 3.6 2 2.8 2 2 2 1.5 2 1 2 .5 4 .4 4-.4 10-1.6 9.9-1.7 4-1 4-1.7 2-1.3 2-1.6 2-2.2 2-2.7 2-3.4 2-4.3-1.5-.5-2 4.3-2 3.4-2 2.7-2 2.2-2 1.6-2 1.3-4 1.7-4 1-10 1.7-10 1.6-4 .4-4-.4-2-.5-1.9-1-2-1.5-2-2-2-2.8-2-3.6z"/><linearGradient id="g12_18" href="#pb" gradientUnits="userSpaceOnUse" x1="41.49" y1="1148.81" x2="36.62" y2="1119.94"/><path fill="url(#g12_18)" stroke="url(#g12_18)" d="M42.3 1134.2l2 3.6 2 2.7 1.9 2.1 2 1.4 2 1 2 .6 4 .3 4-.3 10-1.6 10-1.8 4-1 4-1.7 2-1.2 2-1.7 2-2.1 2-2.7 2-3.4 2-4.3-1.6-.5-2 4.3-2 3.4-2 2.7-2 2.2-2 1.6-2 1.3-4 1.7-4 1-9.9 1.7-10 1.6-4 .4-4-.4-2-.5-2-1-2-1.5-2-2-2-2.8-2-3.6z"/><linearGradient id="g12_17" href="#pb" gradientUnits="userSpaceOnUse" x1="43.03" y1="1149.26" x2="38.16" y2="1120.39"/><path fill="url(#g12_17)" stroke="url(#g12_17)" d="M43.8 1134.6l2 3.6 2 2.8 2 2 2 1.5 2 1 2 .6 4 .3 4-.3 10-1.7 9.9-1.7 4-1 4-1.7 2-1.3 2-1.6 2-2.1 2-2.8 2-3.4 2-4.3-1.5-.4-2 4.3-2 3.4-2 2.7-2 2.1-2 1.7-2 1.2-4 1.7-4 1-10 1.8-10 1.6-4 .3-4-.3-2-.6-2-1-2-1.4-1.9-2.1-2-2.7-2-3.6z"/><linearGradient id="g12_16" href="#pb" gradientUnits="userSpaceOnUse" x1="44.58" y1="1149.71" x2="39.71" y2="1120.84"/><path fill="url(#g12_16)" stroke="url(#g12_16)" d="M45.4 1135.1l1.9 3.6 2 2.7 2 2.1 2 1.5 2 .9 2 .6 4 .3 4-.3 10-1.6 10-1.8 4-1 4-1.7 2-1.2 2-1.7 2-2.1 2-2.7 2-3.4 2-4.3-1.6-.5-2 4.3-2 3.4-2 2.8-2 2.1-2 1.6-2 1.3-4 1.7-4 1-9.9 1.7-10 1.7-4 .3-4-.3-2-.6-2-1-2-1.5-2-2-2-2.8-2-3.6z"/><linearGradient id="g12_15" href="#pb" gradientUnits="userSpaceOnUse" x1="46.13" y1="1150.16" x2="41.26" y2="1121.29"/><path fill="url(#g12_15)" stroke="url(#g12_15)" d="M46.9 1135.5l2 3.6 2 2.8 2 2 2 1.5 2 1 2 .6 4 .3 4-.3 9.9-1.7 10-1.7 4-1 4-1.7 2-1.3 2-1.6 2-2.1 2-2.8 2-3.4 2-4.3-1.5-.4-2 4.3-2 3.4-2 2.7-2 2.1-2 1.7-2 1.2-4 1.7-4 1-10 1.8-10 1.6-4 .3-4-.3-2-.6-2-.9-2-1.5-2-2.1-2-2.7-1.9-3.6z"/><linearGradient id="g12_14" href="#pb" gradientUnits="userSpaceOnUse" x1="47.67" y1="1150.61" x2="42.80" y2="1121.74"/><path fill="url(#g12_14)" stroke="url(#g12_14)" d="M48.4 1136l2 3.6 2 2.7 2 2.1 2 1.5 2 .9 2 .6 4 .3 4-.3 10-1.6 10-1.8 4-1 4-1.7 2-1.2 2-1.7 2-2.1 2-2.7 2-3.4 1.9-4.3-1.5-.5-2 4.3-2 3.4-2 2.8-2 2.1-2 1.6-2 1.3-4 1.7-4 1-10 1.7-9.9 1.7-4 .3-4-.3-2-.6-2-1-2-1.5-2-2-2-2.8-2-3.6z"/><linearGradient id="g12_13" href="#pb" gradientUnits="userSpaceOnUse" x1="49.22" y1="1151.06" x2="44.35" y2="1122.19"/><path fill="url(#g12_13)" stroke="url(#g12_13)" d="M50 1136.4l2 3.6 2 2.8 2 2 2 1.5 2 1 2 .6 4 .3 4-.3 9.9-1.7 10-1.7 4-1 4-1.7 2-1.3 2-1.6 2-2.1 2-2.8 2-3.4 2-4.3-1.6-.4-1.9 4.3-2 3.4-2 2.7-2 2.1-2 1.7-2 1.2-4 1.7-4 1-10 1.8-10 1.6-4 .3-4-.3-2-.6-2-.9-2-1.5-2-2.1-2-2.7-2-3.6z"/><linearGradient id="g12_12" href="#pb" gradientUnits="userSpaceOnUse" x1="50.77" y1="1151.51" x2="45.90" y2="1122.64"/><path fill="url(#g12_12)" stroke="url(#g12_12)" d="M51.5 1136.9l2 3.6 2 2.7 2 2.1 2 1.4 2 1 2 .6 4 .3 4-.3 10-1.6 10-1.8 4-1 4-1.7 2-1.2 2-1.7 1.9-2.1 2-2.7 2-3.4 2-4.3-1.5-.5-2 4.3-2 3.4-2 2.8-2 2.1-2 1.6-2 1.3-4 1.7-4 1-10 1.7-9.9 1.7-4 .3-4-.3-2-.6-2-1-2-1.5-2-2-2-2.8-2-3.6z"/><linearGradient id="g12_11" href="#pb" gradientUnits="userSpaceOnUse" x1="52.31" y1="1151.96" x2="47.44" y2="1123.09"/><path fill="url(#g12_11)" stroke="url(#g12_11)" d="M53.1 1137.3l2 3.6 2 2.8 2 2 2 1.5 2 1 2 .5 4 .4 4-.4 9.9-1.6 10-1.7 4-1 4-1.7 2-1.3 2-1.6 2-2.2 2-2.7 2-3.4 2-4.3-1.6-.4-2 4.3-2 3.4-2 2.7-1.9 2.1-2 1.7-2 1.2-4 1.7-4 1-10 1.8-10 1.6-4 .3-4-.3-2-.6-2-1-2-1.4-2-2.1-2-2.7-2-3.6z"/><linearGradient id="g12_10" href="#pb" gradientUnits="userSpaceOnUse" x1="53.86" y1="1152.41" x2="48.99" y2="1123.54"/><path fill="url(#g12_10)" stroke="url(#g12_10)" d="M54.6 1137.7l2 3.6 2 2.8 2 2 2 1.5 2 1 2 .5 4 .4 4-.4 10-1.6 10-1.7 4-1 4-1.7 2-1.3 1.9-1.6 2-2.2 2-2.7 2-3.4 2-4.3-1.5-.4-2 4.3-2 3.4-2 2.7-2 2.2-2 1.6-2 1.3-4 1.7-4 1-10 1.7-9.9 1.6-4 .4-4-.4-2-.5-2-1-2-1.5-2-2-2-2.8-2-3.6z"/><linearGradient id="g12_9" href="#pb" gradientUnits="userSpaceOnUse" x1="55.41" y1="1152.86" x2="50.54" y2="1123.99"/><path fill="url(#g12_9)" stroke="url(#g12_9)" d="M56.2 1138.1l2 3.6 2 2.7 2 2.1 2 1.4 2 1 2 .6 4 .3 3.9-.3 10-1.6 10-1.8 4-1 4-1.7 2-1.2 2-1.7 2-2.1 2-2.7 2-3.5 2-4.2-1.6-.4-2 4.3-2 3.4-2 2.7-2 2.2-1.9 1.6-2 1.3-4 1.7-4 1-10 1.7-10 1.6-4 .4-4-.4-2-.5-2-1-2-1.5-2-2-2-2.8-2-3.6z"/><linearGradient id="g12_8" href="#pb" gradientUnits="userSpaceOnUse" x1="56.95" y1="1153.31" x2="52.08" y2="1124.44"/><path fill="url(#g12_8)" stroke="url(#g12_8)" d="M57.7 1138.3l2 3.6 2 2.7 2 2.1 2 1.4 2 1 2 .6 4 .3 4-.3 10-1.6 10-1.8 4-1 3.9-1.7 2-1.2 2-1.7 2-2.1 2-2.7 2-3.4 2-4.3-1.5-.2-2 4.2-2 3.5-2 2.7-2 2.1-2 1.7-2 1.2-4 1.7-4 1-10 1.8-10 1.6-3.9 .3-4-.3-2-.6-2-1-2-1.4-2-2.1-2-2.7-2-3.6z"/><linearGradient id="g12_7" href="#pb" gradientUnits="userSpaceOnUse" x1="58.50" y1="1153.76" x2="53.63" y2="1124.89"/><path fill="url(#g12_7)" stroke="url(#g12_7)" d="M59.3 1138.3l2 3.6 2 2.8 2 2 2 1.5 2 1 2 .6 3.9 .3 4-.3 10-1.7 10-1.7 4-1 4-1.7 2-1.3 2-1.6 2-2.1 2-2.8 2-3.4 2-4.3-1.6 0-2 4.3-2 3.4-2 2.7-2 2.1-2 1.7-2 1.2-3.9 1.7-4 1-10 1.8-10 1.6-4 .3-4-.3-2-.6-2-1-2-1.4-2-2.1-2-2.7-2-3.6z"/><linearGradient id="g12_6" href="#pb" gradientUnits="userSpaceOnUse" x1="60.05" y1="1154.21" x2="55.18" y2="1125.34"/><path fill="url(#g12_6)" stroke="url(#g12_6)" d="M60.8 1138.2l2 3.6 2 2.7 2 2.1 2 1.4 2 1 2 .6 4 .3 4-.3 10-1.6 10-1.8 3.9-1 4-1.7 2-1.2 2-1.7 2-2.1 2-2.7 2-3.5 2-4.2-1.5 .1-2 4.3-2 3.4-2 2.8-2 2.1-2 1.6-2 1.3-4 1.7-4 1-10 1.7-10 1.7-4 .3-3.9-.3-2-.6-2-1-2-1.5-2-2-2-2.8-2-3.6z"/><linearGradient id="g12_5" href="#pb" gradientUnits="userSpaceOnUse" x1="61.59" y1="1154.66" x2="56.72" y2="1125.79"/><path fill="url(#g12_5)" stroke="url(#g12_5)" d="M62.4 1137.7l2 3.6 2 2.8 2 2 2 1.5 2 .9 1.9 .6 4 .4 4-.4 10-1.6 10-1.7 4-1.1 4-1.6 2-1.3 2-1.6 2-2.2 2-2.7 2-3.4 2-4.3-1.6 .5-2 4.2-2 3.5-2 2.7-2 2.1-2 1.7-2 1.2-4 1.7-3.9 1-10 1.8-10 1.6-4 .3-4-.3-2-.6-2-1-2-1.4-2-2.1-2-2.7-2-3.6z"/><linearGradient id="g12_4" href="#pb" gradientUnits="userSpaceOnUse" x1="63.14" y1="1155.11" x2="58.27" y2="1126.24"/><path fill="url(#g12_4)" stroke="url(#g12_4)" d="M63.9 1136.8l2 3.6 2 2.8 2 2.1 2 1.4 2 1 2 .6 4 .3 4-.3 10-1.7 9.9-1.7 4-1 4-1.7 2-1.3 2-1.6 2-2.1 2-2.7 2-3.5 2-4.3-1.5 .9-2 4.3-2 3.4-2 2.7-2 2.2-2 1.6-2 1.3-4 1.6-4 1.1-10 1.7-10 1.6-4 .4-4-.4-1.9-.6-2-.9-2-1.5-2-2-2-2.8-2-3.6z"/><linearGradient id="g12_3" href="#pb" gradientUnits="userSpaceOnUse" x1="64.69" y1="1155.56" x2="59.82" y2="1126.69"/><path fill="url(#g12_3)" stroke="url(#g12_3)" d="M65.5 1135.5l2 3.6 2 2.8 1.9 2 2 1.5 2 .9 2 .6 4 .4 4-.4 10-1.6 10-1.7 4-1.1 4-1.6 2-1.3 2-1.6 2-2.2 2-2.7 2-3.4 2-4.3-1.6 1.3-2 4.3-2 3.5-2 2.7-2 2.1-2 1.6-2 1.3-4 1.7-4 1-9.9 1.7-10 1.7-4 .3-4-.3-2-.6-2-1-2-1.4-2-2.1-2-2.8-2-3.6z"/><linearGradient id="g12_2" href="#pb" gradientUnits="userSpaceOnUse" x1="66.23" y1="1156.01" x2="61.36" y2="1127.14"/><path fill="url(#g12_2)" stroke="url(#g12_2)" d="M67 1133.6l2 3.6 2 2.7 2 2.1 2 1.4 2 1 2 .6 4 .3 4-.3 10-1.6 9.9-1.8 4-1 4-1.7 2-1.2 2-1.7 2-2.1 2-2.7 2-3.5 2-4.2-1.5 1.9-2 4.3-2 3.4-2 2.7-2 2.2-2 1.6-2 1.3-4 1.6-4 1.1-10 1.7-10 1.6-4 .4-4-.4-2-.6-2-.9-2-1.5-1.9-2-2-2.8-2-3.6z"/><linearGradient id="g12_1" href="#pb" gradientUnits="userSpaceOnUse" x1="67.78" y1="1156.46" x2="62.91" y2="1127.59"/><path fill="url(#g12_1)" stroke="url(#g12_1)" d="M68.6 1130.9l2 3.6 1.9 2.8 2 2 2 1.5 2 1 2 .5 4 .4 4-.4 10-1.6 10-1.7 4-1 4-1.7 2-1.3 2-1.6 2-2.1 2-2.8 2-3.4 2-4.3-1.6 2.7-2 4.2-2 3.5-2 2.7-2 2.1-2 1.7-2 1.2-4 1.7-4 1-9.9 1.8-10 1.6-4 .3-4-.3-2-.6-2-1-2-1.4-2-2.1-2-2.7-2-3.6z"/><linearGradient id="g12_0" href="#pb" gradientUnits="userSpaceOnUse" x1="69.33" y1="1156.91" x2="64.46" y2="1128.04"/><path fill="url(#g12_0)" stroke="url(#g12_0)" d="M70.1 1127.4l2 3.6 2 2.8 2 2 2 1.5 2 1 2 .6 4 .3 4-.3 9.9-1.7 10-1.7 4-1 4-1.7 2-1.3 2-1.6 2-2.1 2-2.8 2-3.4 2-4.3-1.5 3.5-2 4.3-2 3.4-2 2.8-2 2.1-2 1.6-2 1.3-4 1.7-4 1-10 1.7-10 1.6-4 .4-4-.4-2-.5-2-1-2-1.5-2-2-1.9-2.8-2-3.6z"/></g><path d="M23.7 1113.94L23.7 1143.64L70.1 1157.14L130 1147.04M23.70 1143.64l2.17 -0.37M23.70 1125.53l2.17 -0.37M70.10 1157.14l2.17 -0.37M46.90 1150.39l2.17 -0.37M23.70 1143.64l2.17 -0.37M70.10 1157.14l-2.11 -0.61M100.05 1152.09l-2.11 -0.61M130.00 1147.04l-2.11 -0.61" stroke="#3a3a3a" stroke-width="0.95" fill="none"/><text x="21.5" y="1146.15" font-size="7.6" text-anchor="end" fill="#262626">0</text><text x="21.5" y="1128.04" font-size="7.6" text-anchor="end" fill="#262626">5</text><text x="67.6" y="1165.65" font-size="7.6" text-anchor="end" fill="#262626">-50</text><text x="44.4" y="1158.9" font-size="7.6" text-anchor="end" fill="#262626">0</text><text x="21.2" y="1152.15" font-size="7.6" text-anchor="end" fill="#262626">50</text><text x="72.6" y="1165.65" font-size="7.6" text-anchor="start" fill="#262626">-50</text><text x="102.55" y="1160.6" font-size="7.6" text-anchor="start" fill="#262626">0</text><text x="132.5" y="1155.55" font-size="7.6" text-anchor="start" fill="#262626">50</text><text x="5.1" y="1106.84" font-size="8.2" fill="#262626">×10<tspan font-size="5.6" dy="-3.6">8</tspan></text><clipPath id="csh12"><rect x="175.5" y="1103.54" width="106.2" height="53.9"/></clipPath><g clip-path="url(#csh12)"><path d="M208.7 1150.1l-7.6-.7-5-1.4-3.3-2-1.4-1.6-.9-1.8-.5-2-.3-3.4 0-12.8 .3-4 .5-2 1.1-2.1 1.2-1.3 1.9-1.4 3.4-1.3 2.6-.6 7-.7 41.8 0 6.6 .6 4.4 1.1 3.1 1.6 2.4 2.7 1.1 2.7 .3 2.7-.1 17.5-.6 2.7-.9 1.8-1.4 1.6-1.9 1.3-3.4 1.4-2.6 .6-7 .7-40.8 .1" stroke="#3e26a8" stroke-width="1.3" fill="none"/><path d="M211.3 1153.4l-11.9-.6-6.6-1.4-4.6-2-1.6-1.4-1.5-2-1.1-2.7-.6-4.1 .1-18.8 .5-2.7 .8-2.2 1.3-2 2.1-1.9 2.5-1.3 3.4-1.1 4-.8 5.3-.5 11.9-.4 34.5 .2 8.4 .6 6.2 1.2 4.6 2.1 2.7 2.7 1.3 2.7 .7 4.1 0 18.8-.5 3.4-.8 2.2-1.3 2-2.1 1.9-2.5 1.3-3.4 1.1-4 .8-5.3 .5-10.6 .3-31.9 0" stroke="#4851f3" stroke-width="1.3" fill="none"/><path d="M204.7 1155.4l-9.3-.7-6.6-1.6-2.7-1.1-2.6-1.7-1.6-1.6-1.3-2-1-3.4-.4-3.4-.1-15.5 .3-5.4 .5-2.7 1.1-2.7 1.4-2 2.5-2 2.7-1.3 4.5-1.4 9.9-1.2 14.7-.3 36.3 .2 8.8 .7 6.6 1.5 2.7 1.1 2.1 1.4 1.9 1.7 1.1 1.6 1.3 3.4 .5 4.1 .1 15.5-.3 5.3-.5 2.7-1.1 2.7-1.4 2.1-2.5 2-2.7 1.3-4.5 1.4-9.9 1.2-13.3 .3-37.2-.2" stroke="#2e84f8" stroke-width="1.3" fill="none"/><path d="M198.1 1156.8l-9.2-1.4-5.4-1.9-2.4-1.5-1.6-1.3-1.5-2-1.2-2.7-.7-3.4-.3-4.7 0-15.5 .5-5.4 .7-2.7 1.4-2.7 2.4-2.5 2.4-1.5 3.3-1.4 4.9-1.2 10.6-1.1 38.5-.2 16 .3 9.3 1 6.6 1.9 2.7 1.3 1.9 1.4 2.6 3.4 1.2 3.3 .5 4.8 .1 16.8-.4 5.4-.8 3.4-1.4 2.7-2.4 2.4-2.4 1.6-3.3 1.3-4.9 1.3-10.6 1-41.2 .3-15.9-.5" stroke="#17aeda" stroke-width="1.3" fill="none"/><path d="M190.6 1157.4l-5.8-1.3-4-1.6-2.7-1.8-2.6-2.9M281.7 1149.8l-2.6 2.9-2.7 1.8-4 1.6-5.8 1.3M175.5 1111.2l2.6-2.9 2.7-1.8 4-1.6 5.8-1.4M266.6 1103.5l5.8 1.4 4 1.6 2.7 1.8 2.6 2.9" stroke="#31c69f" stroke-width="1.3" fill="none"/><path d="M183.9 1157.4l-5.2-2-3.2-2.2M281.7 1153.2l-3.2 2.2-5.2 2M175.5 1107.8l3.2-2.2 5.2-2.1M273.3 1103.5l5.2 2.1 3.2 2.2" stroke="#9ac945" stroke-width="1.3" fill="none"/><path d="M179.5 1157.4l-4-2M281.7 1155.4l-4 2M175.5 1105.6l4-2.1M277.7 1103.5l4 2.1" stroke="#fcbb3e" stroke-width="1.3" fill="none"/><path d="M176.1 1157.4l-.6-.3M281.7 1157.1l-.6 .3M175.5 1103.9l.6-.4M281.1 1103.5l.6 .4" stroke="#f6f01f" stroke-width="1.3" fill="none"/></g><path d="M175.5 1157.44v-1.0M175.5 1103.54v1.0M228.6 1157.44v-1.0M228.6 1103.54v1.0M281.7 1157.44v-1.0M281.7 1103.54v1.0M175.5 1157.44h1.0M281.7 1157.44h-1.0M175.5 1130.49h1.0M281.7 1130.49h-1.0M175.5 1103.54h1.0M281.7 1103.54h-1.0" stroke="#262626" stroke-width="0.6" fill="none"/><rect x="175.5" y="1103.54" width="106.2" height="53.9" fill="none" stroke="#262626" stroke-width="0.7"/><text x="175.5" y="1167.24" font-size="7.6" text-anchor="middle" fill="#262626">-50</text><text x="228.6" y="1167.24" font-size="7.6" text-anchor="middle" fill="#262626">0</text><text x="281.7" y="1167.24" font-size="7.6" text-anchor="middle" fill="#262626">50</text><text x="174" y="1160.45" font-size="7.6" text-anchor="end" fill="#262626">-50</text><text x="174" y="1133.5" font-size="7.6" text-anchor="end" fill="#262626">0</text><text x="174" y="1106.55" font-size="7.6" text-anchor="end" fill="#262626">50</text><text transform="translate(228.6 1102.34) scale(1 1.12)" font-size="8.55" text-anchor="middle" font-weight="bold" fill="#000">Search history</text><path d="M178.9 1143.1h0m0 12.9h0m1.6-32.2h0m.8 2.4h0m.8 15.3h0m2.4-25.8h0m0 23.4h0m0 8.8h0m1.6-4.8h0m1.6-19.3h0m.8-4.9h0m3.2 37.1h0m.9-40.3h0m0 30.6h0m.8-9.6h0m.8-10.5h0m0 23.3h0m1.6-32.2h0m0 15.3h0m0 21h0m1.6-41.1h0m1.6-4h0m0 24.1h0m.8 8.9h0m1.4-7.4h0m.2 12.2h0m.6-11h0m.5-8.7h0m1.3 27.8h0m3.8-21.2h0m.2-8.6h0m.5 5.1h0m.4 19h0m1-26.4h0m.6-17.1h0m.2 16.8h0m0 14.1h0m.5 1.1h0m.4-11.5h0m0 11.4h0m.1-15.2h0m0 5.3h0m.4 14.4h0m0 12.8h0m.2-40.5h0m.5 11.8h0m.2 3.6h0m.3 3.8h0m.4 1.7h0m0 8.7h0m.3-24h0m.2 20.3h0m.1-9.6h0m1 14.5h0m.4-15.6h0m1-8h0m.2 14.7h0m0 2.2h0m0 .4h0m0 3.1h0m.1-10.6h0m.2-7.2h0m.1-.7h0m.4 .7h0m.1-1.2h0m.3-5.9h0m.1 25.1h0m.2-7.6h0m.5-8h0m.1-5.3h0m.5 7.8h0m0 1.1h0m.2 1.6h0m.1 9.3h0m.1-20.2h0m.1-1.4h0m.2 16.2h0m.1-15.9h0m.1 19.2h0m.5-30.8h0m.2 22.8h0m.3 6h0m.3-1.3h0m0 11.1h0m.6-3.8h0m.2-24.8h0m.1 37.5h0m.2-36.4h0m.3 8.9h0m.1-13h0m.2 19.5h0m.3-15.1h0m.3 1.4h0m0 18.5h0m.3-10.4h0m.2 4.1h0m.2 4.9h0m.1-12.9h0m.2-18.6h0m0 23.1h0m.2 3.3h0m0 10.5h0m.1-17.8h0m0 15.6h0m0 2.8h0m1-12.5h0m.1-2.1h0m0 3h0m.5 2.6h0m0 3h0m.1 5.9h0m.4 10.9h0m.3-36.5h0m0 13.7h0m.4-7.5h0m0 1.2h0m0 18.2h0m.2-2.7h0m.1-21.9h0m.4 7.1h0m.1-9.6h0m.1 23.1h0m0 1h0m0 .5h0m.8 1.5h0m.2-26.4h0m.1 7.1h0m.2-5.2h0m.1 10.2h0m.5 7.1h0m0 6.3h0m.3-20.8h0m0 8.9h0m.2 23.1h0m.1-15.2h0m0 .1h0m.1 .3h0m.4-19.7h0m0 16h0m.2-25h0m.1 34.5h0m.2-3.8h0m.5-5.3h0m.1-21.4h0m.1 23h0m.1-17.5h0m.2 2.7h0m.5 11.3h0m.2-9.5h0m.2 7.1h0m.1-15.1h0m0 20.4h0m.3 2h0m.1-16h0m0 5.9h0m.1-4.2h0m.3-4.3h0m.4 19.2h0m.1-9h0m.4-21.6h0m0 28.5h0m.1-1.4h0m.3 3.2h0m.2-14.7h0m.2 6.4h0m.4 1.9h0m.2-6.2h0m.3 23.3h0m.6-32h0m.5 8.9h0m.3 4.4h0m0 4.3h0m.3-7.7h0m0 15.1h0m.1-14.1h0m.2-12.1h0m.1 7h0m.1 18h0m.1-16.4h0m.4 9.1h0m.1 4.6h0m.3-22.5h0m.1-10.1h0m0 34.3h0m0 17.3h0m.1-23.7h0m.1-5.3h0m.3-6h0m.2-3.3h0m.3 16.2h0m.4-15.1h0m0 6.1h0m.2 23.8h0m.3-27.6h0m0 10.2h0m0 1h0m.1-10.7h0m0 16.3h0m.4-16.1h0m.1 7h0m.1-8.8h0m.1-9.4h0m.2 16h0m1.5 14.8h0m.4-9.2h0m1.5-4.9h0m.1-13.2h0m.4 17h0m2.1-10.1h0m.7 2h0m.3-1.3h0m.5 15h0m1.2 3.5h0m.2-13.7h0m1.1-10h0m0 8.9h0m0 12.9h0m4-14.9h0m.8 6h0m.8-25h0m.8 6.5h0m0 28.2h0m2.4 11.3h0m.8-41.1h0m0 21.7h0m1.6 2.4h0m1.6-28.1h0m0 35.4h0m3.3 4.8h0m.8-11.3h0m0 17.8h0m9.6-12.1h0" stroke="#ff0000" stroke-width="5.6" stroke-linecap="round" fill="none"/><circle cx="229.66" cy="1130.49" r="4.0" fill="#00bb00"/><clipPath id="ctr12"><rect x="325.8" y="1102.04" width="109.2" height="56.9"/></clipPath><g clip-path="url(#ctr12)"><path d="M327.83 1103.54L328.36 1105.58L329.42 1151.05L330.49 1151.05L331.02 1152.84L332.08 1155.91L333.14 1155.4L334.2 1153.35L335.8 1152.59L337.92 1152.84L338.98 1154.12L343.23 1154.37L433.5 1154.37" stroke="#0072bd" stroke-width="2.4" fill="none" stroke-linejoin="round" stroke-linecap="butt"/></g><path d="M327.3 1157.44v-1.0M327.3 1103.54v1.0M353.85 1157.44v-1.0M353.85 1103.54v1.0M380.4 1157.44v-1.0M380.4 1103.54v1.0M406.95 1157.44v-1.0M406.95 1103.54v1.0M433.5 1157.44v-1.0M433.5 1103.54v1.0M327.3 1156.67h1.0M433.5 1156.67h-1.0M327.3 1131.13h1.0M433.5 1131.13h-1.0M327.3 1105.58h1.0M433.5 1105.58h-1.0" stroke="#262626" stroke-width="0.6" fill="none"/><rect x="327.3" y="1103.54" width="106.2" height="53.9" fill="none" stroke="#262626" stroke-width="0.7"/><text x="327.3" y="1167.24" font-size="7.6" text-anchor="middle" fill="#262626">0</text><text x="353.85" y="1167.24" font-size="7.6" text-anchor="middle" fill="#262626">50</text><text x="380.4" y="1167.24" font-size="7.6" text-anchor="middle" fill="#262626">100</text><text x="406.95" y="1167.24" font-size="7.6" text-anchor="middle" fill="#262626">150</text><text x="433.5" y="1167.24" font-size="7.6" text-anchor="middle" fill="#262626">200</text><text x="325.8" y="1159.68" font-size="7.6" text-anchor="end" fill="#262626">0</text><text x="325.8" y="1134.14" font-size="7.6" text-anchor="end" fill="#262626">10</text><text x="325.8" y="1108.59" font-size="7.6" text-anchor="end" fill="#262626">20</text><text transform="translate(380.4 1102.34) scale(1 1.12)" font-size="8.55" text-anchor="middle" font-weight="bold" fill="#000">Trajectory curve</text><clipPath id="caf12"><rect x="477.8" y="1102.04" width="108.4" height="56.9"/></clipPath><g clip-path="url(#caf12)"><path d="M479.3 1109.38L493.09 1144.77L501.15 1156.09L506.88 1157.26L584.7 1157.44" stroke="#0072bd" stroke-width="2.4" fill="none" stroke-linejoin="round" stroke-linecap="butt"/></g><path d="M479.3 1157.44v-1.0M479.3 1103.54v1.0M525.11 1157.44v-1.0M525.11 1103.54v1.0M584.7 1157.44v-1.0M584.7 1103.54v1.0M479.3 1157.44h1.0M584.7 1157.44h-1.0M479.3 1139.47h1.0M584.7 1139.47h-1.0M479.3 1121.51h1.0M584.7 1121.51h-1.0M479.3 1103.54h1.0M584.7 1103.54h-1.0" stroke="#262626" stroke-width="0.6" fill="none"/><rect x="479.3" y="1103.54" width="105.4" height="53.9" fill="none" stroke="#262626" stroke-width="0.7"/><text x="479.3" y="1167.24" font-size="7.6" text-anchor="middle" fill="#262626">1</text><text x="525.11" y="1167.24" font-size="7.6" text-anchor="middle" fill="#262626">10</text><text x="584.7" y="1167.24" font-size="7.6" text-anchor="middle" fill="#262626">200</text><text x="477.8" y="1160.45" font-size="7.6" text-anchor="end" fill="#262626">0</text><text x="477.8" y="1142.48" font-size="7.6" text-anchor="end" fill="#262626">2</text><text x="477.8" y="1124.51" font-size="7.6" text-anchor="end" fill="#262626">4</text><text x="477.8" y="1106.55" font-size="7.6" text-anchor="end" fill="#262626">6</text><text transform="translate(532 1102.34) scale(1 1.12)" font-size="8.55" text-anchor="middle" font-weight="bold" fill="#000">Average fitness</text><text x="479.9" y="1102.34" font-size="8.2" fill="#262626">×10<tspan font-size="5.6" dy="-3.6">7</tspan></text><clipPath id="ccv12"><rect x="629.8" y="1102.04" width="108.4" height="56.9"/></clipPath><g clip-path="url(#ccv12)"><path d="M631.3 1106.41L653.15 1106.41L658.88 1150.25L663.32 1154.21L666.94 1154.92L670.01 1156L672.67 1156L680.73 1157.08L685.17 1157.44L736.7 1157.44" stroke="#0072bd" stroke-width="2.4" fill="none" stroke-linejoin="round" stroke-linecap="butt"/></g><path d="M631.3 1157.44v-1.0M631.3 1103.54v1.0M677.11 1157.44v-1.0M677.11 1103.54v1.0M736.7 1157.44v-1.0M736.7 1103.54v1.0M631.3 1157.44h1.0M736.7 1157.44h-1.0M631.3 1139.47h1.0M736.7 1139.47h-1.0M631.3 1121.51h1.0M736.7 1121.51h-1.0M631.3 1103.54h1.0M736.7 1103.54h-1.0" stroke="#262626" stroke-width="0.6" fill="none"/><rect x="631.3" y="1103.54" width="105.4" height="53.9" fill="none" stroke="#262626" stroke-width="0.7"/><text x="631.3" y="1167.24" font-size="7.6" text-anchor="middle" fill="#262626">1</text><text x="677.11" y="1167.24" font-size="7.6" text-anchor="middle" fill="#262626">10</text><text x="736.7" y="1167.24" font-size="7.6" text-anchor="middle" fill="#262626">200</text><text x="629.8" y="1160.45" font-size="7.6" text-anchor="end" fill="#262626">0</text><text x="629.8" y="1142.48" font-size="7.6" text-anchor="end" fill="#262626">0.5</text><text x="629.8" y="1124.51" font-size="7.6" text-anchor="end" fill="#262626">1</text><text x="629.8" y="1106.55" font-size="7.6" text-anchor="end" fill="#262626">1.5</text><text transform="translate(684 1102.34) scale(1 1.12)" font-size="8.55" text-anchor="middle" font-weight="bold" fill="#000">Convergence curve</text>
</svg></body></html>
